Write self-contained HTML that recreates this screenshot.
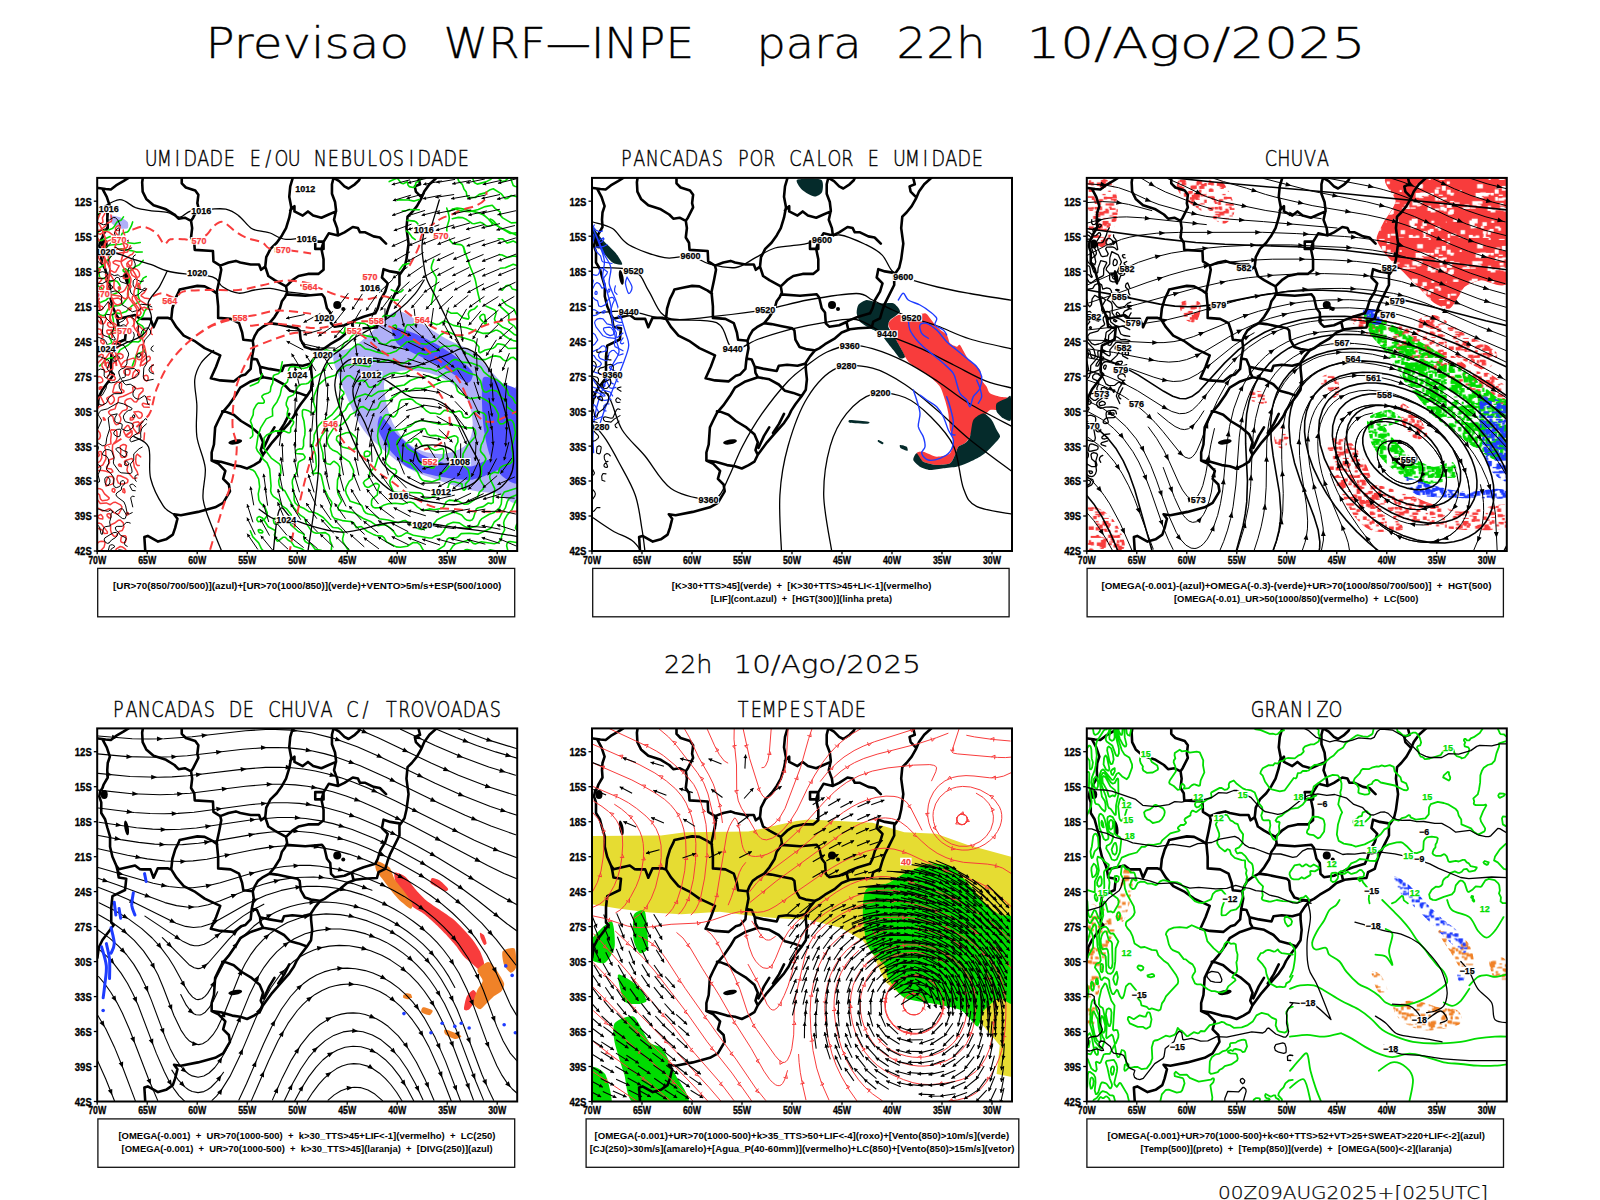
<!DOCTYPE html>
<html><head><meta charset="utf-8"><title>Previsao WRF-INPE</title>
<style>html,body{margin:0;padding:0;background:#fff;}svg{display:block;}svg text{white-space:pre;}</style>
</head><body>
<svg width="1600" height="1200" viewBox="0 0 1600 1200">
<defs><clipPath id="clip0"><rect x="97.2" y="177.9" width="420" height="373.1"/></clipPath><clipPath id="clip1"><rect x="592" y="177.9" width="420" height="373.1"/></clipPath><clipPath id="clip2"><rect x="1086.8" y="177.9" width="420" height="373.1"/></clipPath><clipPath id="clip3"><rect x="97.2" y="728.4" width="420" height="373.1"/></clipPath><clipPath id="clip4"><rect x="592" y="728.4" width="420" height="373.1"/></clipPath><clipPath id="clip5"><rect x="1086.8" y="728.4" width="420" height="373.1"/></clipPath><g id="basemap"><path d="M31.3,0.0 26.1,3.3 18.8,7.5 13.6,11.6 8.4,11.1 1.1,10.1 -2.0,10.0 M5.5,11.5 9.5,18.9 12.6,28.3 10.5,34.6 10.0,41.8 10.5,49.1 6.5,55.9 5.2,59.6 3.0,63.0 2.0,68.0 4.0,74.0 4.0,84.6 7.8,90.8 10.2,99.6 12.8,108.3 12.8,118.3 15.2,128.3 19.0,137.1 20.2,141.6 21.5,149.1 29.0,150.3 27.8,161.6 15.2,167.8 14.0,179.1 14.0,194.1 16.5,196.6 5.2,211.6 1.5,219.1 0.2,229.1 -2.0,233.0 M19.0,137.1 21.5,140.9 37.8,137.1 42.8,140.9 44.9,141.0 53.2,141.0 56.3,149.3 60.5,140.0 70.9,140.0 74.0,141.0 M74.0,141.0 75.1,130.6 78.0,121.0 81.0,115.0 82.4,111.6 91.8,109.6 100.1,108.0 107.4,108.5 115.7,112.7 119.9,115.8 M45.9,-2.0 44.9,4.3 45.4,13.7 49.0,21.0 56.3,27.3 62.6,29.4 68.8,31.4 77.2,36.6 81.3,40.8 87.6,39.8 93.8,42.9 94.9,50.2 93.8,59.6 97.0,64.8 97.5,72.0 115.7,73.1 116.2,83.5 123.0,87.7 124.0,91.9 122.0,102.3 119.5,114.0 119.9,118.1 120.9,128.5 120.9,140.0 133.4,141.0 141.8,145.2 144.9,154.6 146.1,161.8 155.5,162.9 M155.5,162.9 156.5,170.2 154.5,180.6 153.4,191.0 148.2,196.5 143.8,197.8 136.5,203.5 123.0,202.5 113.6,200.4 118.8,188.9 123.0,177.5 M74.0,141.0 79.2,149.3 86.5,157.7 97.0,162.9 107.4,170.2 123.0,177.5 M84.5,-2.0 84.5,5.4 88.6,9.6 98.0,12.7 101.1,16.9 100.1,25.2 101.1,29.4 95.9,39.8 93.8,42.9 M123.0,87.7 131.3,84.6 138.6,83.0 143.0,84.6 153.4,86.6 161.8,86.6 163.8,91.9 168.0,88.7 M196.1,-2.0 193.0,8.5 192.0,18.9 194.0,29.4 192.0,39.8 188.8,50.2 184.7,57.5 179.5,64.8 173.2,71.0 169.0,79.3 168.0,88.7 171.1,98.1 177.4,102.3 188.8,108.5 189.9,114.8 187.8,119.0 184.7,123.3 182.6,130.6 177.4,138.9 172.2,145.2 164.9,149.3 160.7,152.5 157.6,157.7 155.5,162.9 M188.8,108.5 195.1,102.3 201.3,98.1 210.7,96.0 221.1,96.0 226.3,91.9 226.3,81.4 224.2,71.0 226.3,64.0 231.5,55.4 240.9,57.5 M218.0,63.7 226.3,63.7 226.3,71.0 218.0,71.0 218.0,63.7 M193.0,32.5 197.2,28.3 197.2,33.5 205.5,37.7 210.7,33.5 215.9,37.7 224.2,39.8 231.5,36.6 238.8,33.5 M236.8,-2.0 234.7,6.4 234.7,15.8 237.8,24.1 238.8,32.5 236.8,41.9 239.9,50.2 240.9,57.5 M236.8,0.2 242.0,3.3 247.2,8.5 251.3,10.6 257.6,6.4 261.8,2.3 263.8,-2.0 M240.9,57.5 247.2,54.4 255.5,49.1 260.7,50.2 262.8,54.4 268.0,54.4 276.3,58.5 282.6,59.6 288.8,65.8 M302.0,95.0 293.0,93.5 286.3,91.3 284.7,99.6 290.5,105.4 288.0,113.8 283.0,122.1 280.5,130.4 278.0,135.4 266.3,138.8 257.0,142.5 254.5,144.1 M189.0,116.5 208.0,117.9 224.7,116.3 227.2,119.6 229.7,130.4 233.0,134.6 233.8,145.4 237.2,148.8 247.2,147.3 254.5,144.1 256.0,150.5 M172.2,145.2 179.5,146.2 189.9,148.3 200.3,150.4 202.4,152.5 203.4,161.8 207.6,169.1 213.8,171.2 222.2,172.3 M154.5,180.6 159.7,181.6 162.8,188.9 172.2,191.0 184.7,193.1 186.8,187.9 195.1,186.8 205.5,187.9 212.8,185.8 M120.9,243.1 125.1,234.8 131.3,227.5 138.6,217.1 143.0,209.8 153.4,203.5 165.9,199.3 177.4,201.4 186.8,206.6 193.0,212.9 201.3,215.0 209.7,218.1 M162.8,188.9 163.5,195.0 165.9,199.3 M120.9,243.1 117.9,249.5 116.7,266.6 114.4,274.6 114.4,282.6 123.6,283.8 135.0,287.2 143.0,288.3 149.8,290.6 156.7,287.2 162.4,283.8 165.8,276.9 175.0,264.4 183.0,255.2 192.1,244.9 196.7,238.1 199.2,232.7 203.4,226.4 209.7,218.1 213.8,211.8 214.9,201.4 213.8,191.0 213.8,184.8 218.0,178.5 223.2,172.3 227.2,170.5 233.0,166.3 243.0,160.4 249.7,154.6 258.0,151.3 266.3,150.4 279.7,149.6 281.3,143.8 288.0,140.4 290.5,132.1 293.0,125.4 298.0,115.4 302.2,107.1 302.2,97.1 307.2,89.8 309.2,81.4 311.3,65.8 309.2,50.2 310.3,38.7 314.5,34.6 319.7,28.3 323.8,21.0 327.0,13.7 332.2,6.4 341.5,-2.0 M114.4,282.6 121.3,286.0 128.1,292.9 125.9,300.9 131.6,306.6 132.7,313.4 125.9,324.9 117.9,329.4 100.7,334.0 83.6,337.4 76.8,336.3 80.2,340.8 77.9,350.0 75.6,356.8 68.8,361.4 60.8,363.7 50.5,358.0 47.1,359.1 48.2,376.0 M125.0,233.5 128.2,233.7 136.5,236.8 143.8,243.1 154.4,249.5 162.4,256.4 165.8,264.4 163.5,272.3 165.8,276.9 M177.2,249.5 172.0,258.0 166.5,270.0 M192.0,236.0 187.0,246.0 181.0,255.0 M320.7,-2.0 322.8,6.4 317.6,8.5 318.6,13.7 323.8,18.9" fill="none" stroke="#000" stroke-width="2.6" stroke-linejoin="round" stroke-linecap="round"/><ellipse cx="7.0" cy="66.0" rx="3.5" ry="4.5" transform="rotate(0 7.0 66.0)" fill="#000"/><ellipse cx="29.3" cy="99.5" rx="2.2" ry="7.5" transform="rotate(-10 29.3 99.5)" fill="#000"/><ellipse cx="240.0" cy="127.0" rx="4.0" ry="4.0" transform="rotate(0 240.0 127.0)" fill="#000"/><ellipse cx="246.0" cy="131.0" rx="2.0" ry="2.0" transform="rotate(0 246.0 131.0)" fill="#000"/><ellipse cx="138.0" cy="264.0" rx="7.0" ry="2.5" transform="rotate(-10 138.0 264.0)" fill="#000"/></g><pattern id="spkR" width="60" height="60" patternUnits="userSpaceOnUse"><path d="M30.7,57.0h2.6v3.8h-2.6zM18.7,25.4h5.3v2.2h-5.3zM33.0,1.7h5.0v2.6h-5.0zM19.8,47.3h3.2v2.4h-3.2zM8.0,24.2h2.8v1.8h-2.8zM45.0,16.8h3.9v3.9h-3.9zM57.7,43.5h4.2v1.8h-4.2zM9.6,58.2h4.1v1.3h-4.1zM37.4,46.6h4.5v3.8h-4.5zM2.4,31.7h3.8v1.2h-3.8zM38.5,51.2h4.4v1.8h-4.4zM50.4,30.6h4.0v3.3h-4.0zM8.9,49.2h4.7v3.4h-4.7zM11.5,48.1h2.8v1.2h-2.8zM51.3,51.7h5.5v2.4h-5.5zM16.4,0.4h4.6v3.2h-4.6zM50.1,16.9h2.9v2.9h-2.9zM48.3,57.8h2.6v2.4h-2.6zM53.7,25.4h4.4v1.1h-4.4zM40.4,55.1h5.3v3.7h-5.3zM39.6,14.7h5.1v1.6h-5.1zM49.9,3.8h5.3v1.5h-5.3zM22.5,19.0h4.8v1.5h-4.8zM23.8,0.3h3.0v2.3h-3.0zM6.4,38.0h3.5v3.2h-3.5zM39.2,25.9h5.5v2.9h-5.5zM48.6,20.5h4.2v1.6h-4.2zM59.8,14.6h3.0v1.2h-3.0zM15.5,45.8h4.8v1.4h-4.8zM22.6,25.3h4.7v2.4h-4.7zM35.2,50.4h4.9v2.1h-4.9zM26.9,22.1h2.4v1.6h-2.4zM17.0,18.8h3.3v2.7h-3.3zM58.3,46.5h5.2v3.3h-5.2zM35.8,55.1h4.8v2.5h-4.8zM4.6,29.3h2.9v1.4h-2.9zM30.4,47.1h3.2v3.3h-3.2zM31.5,8.9h5.9v2.2h-5.9zM17.7,50.8h2.5v3.2h-2.5zM11.3,23.5h2.9v3.5h-2.9zM23.4,58.5h4.5v3.1h-4.5zM31.3,18.5h3.6v3.8h-3.6zM12.1,59.3h5.0v2.1h-5.0zM38.5,22.9h3.5v2.5h-3.5zM1.0,29.6h5.9v1.9h-5.9zM44.9,26.6h2.8v3.7h-2.8zM1.0,18.2h6.0v1.8h-6.0zM50.9,36.3h5.2v2.9h-5.2zM21.8,45.6h2.1v2.3h-2.1zM22.3,28.6h2.5v1.7h-2.5zM33.7,23.3h5.2v2.8h-5.2zM51.7,43.9h4.4v1.9h-4.4zM47.0,15.1h2.3v3.9h-2.3zM32.4,46.4h4.1v2.8h-4.1zM2.0,11.2h4.7v2.7h-4.7zM9.5,57.1h2.6v2.5h-2.6zM8.6,43.0h3.1v1.4h-3.1zM2.8,10.5h2.8v2.6h-2.8zM27.1,57.4h5.8v3.4h-5.8zM40.3,50.7h5.8v1.1h-5.8zM7.1,21.6h2.4v2.8h-2.4zM15.6,15.9h3.2v1.3h-3.2zM44.5,39.0h4.4v1.1h-4.4zM25.8,41.1h2.6v2.2h-2.6zM1.2,4.9h2.9v2.2h-2.9zM27.8,53.1h3.3v1.1h-3.3zM49.6,3.7h2.4v3.9h-2.4zM45.2,20.3h2.5v2.2h-2.5zM20.4,52.5h3.7v1.2h-3.7zM55.6,37.3h2.5v1.3h-2.5zM28.0,5.5h4.5v2.8h-4.5zM1.9,48.4h5.1v3.7h-5.1zM40.2,41.6h2.7v1.1h-2.7zM3.9,57.9h4.6v3.8h-4.6zM21.0,45.3h2.3v1.5h-2.3zM16.6,33.0h4.2v2.5h-4.2zM25.5,34.5h5.9v2.4h-5.9zM50.2,3.4h3.5v2.7h-3.5zM37.2,15.0h3.6v3.8h-3.6zM38.9,35.1h2.3v1.2h-2.3zM12.7,8.3h5.9v1.0h-5.9zM22.0,3.5h4.6v1.1h-4.6zM4.1,4.8h3.1v2.7h-3.1zM48.3,16.0h3.1v3.5h-3.1zM44.8,7.6h5.2v3.5h-5.2zM10.7,37.6h2.8v1.7h-2.8zM29.6,31.3h3.9v2.6h-3.9zM12.8,46.7h3.1v3.7h-3.1zM30.9,18.2h2.7v2.5h-2.7zM22.6,37.4h4.0v1.1h-4.0zM50.0,3.1h5.3v3.4h-5.3zM55.4,39.9h2.6v2.3h-2.6zM26.4,37.9h3.5v3.0h-3.5zM12.2,21.2h4.2v2.3h-4.2zM7.4,57.9h4.8v3.5h-4.8zM21.4,56.7h5.2v3.9h-5.2zM11.8,28.6h3.5v2.8h-3.5zM15.0,6.0h3.9v2.9h-3.9zM23.0,59.2h3.6v1.9h-3.6zM48.8,28.0h3.1v1.9h-3.1zM56.8,57.7h4.6v1.8h-4.6zM42.7,13.0h3.3v2.6h-3.3zM24.1,21.1h5.9v1.5h-5.9zM36.8,2.3h2.4v1.6h-2.4zM59.5,43.6h5.5v1.1h-5.5zM40.9,26.4h3.7v3.1h-3.7zM18.5,30.8h3.0v2.2h-3.0zM32.0,9.5h3.1v2.3h-3.1zM28.4,48.0h4.6v2.7h-4.6zM52.2,11.8h2.4v2.2h-2.4zM8.2,33.4h4.3v1.4h-4.3zM43.0,33.4h3.7v3.8h-3.7zM51.4,13.3h2.7v3.7h-2.7zM9.4,45.4h3.3v2.1h-3.3zM33.2,55.6h2.0v1.5h-2.0zM43.2,23.7h3.2v3.9h-3.2zM15.8,42.9h5.9v3.3h-5.9zM42.6,43.4h5.2v1.8h-5.2zM37.6,48.2h5.6v3.7h-5.6zM54.2,5.9h3.5v2.4h-3.5zM53.5,25.2h3.1v1.1h-3.1zM17.3,46.8h2.1v1.5h-2.1zM18.7,31.9h3.5v3.6h-3.5zM12.4,33.7h5.1v3.8h-5.1zM52.4,8.1h5.2v3.0h-5.2zM25.3,1.5h2.7v3.2h-2.7zM5.0,18.8h3.0v3.2h-3.0zM21.5,5.2h3.5v2.0h-3.5zM43.0,19.2h4.8v2.6h-4.8zM53.3,44.0h3.6v2.5h-3.6zM28.3,52.3h2.6v2.3h-2.6zM32.1,26.2h4.4v2.5h-4.4zM24.8,41.2h3.3v2.8h-3.3zM43.7,7.8h3.3v3.8h-3.3zM58.0,59.5h2.2v3.5h-2.2zM56.1,54.1h4.9v3.0h-4.9zM43.2,34.5h5.2v2.5h-5.2zM13.6,5.7h5.6v3.3h-5.6zM10.6,49.3h3.2v2.9h-3.2zM21.4,12.8h2.7v1.2h-2.7zM4.5,4.1h2.4v3.5h-2.4zM31.1,7.7h4.1v2.6h-4.1zM29.8,12.4h3.7v3.6h-3.7zM23.0,30.2h5.7v1.7h-5.7zM43.5,29.0h5.1v2.1h-5.1zM32.5,22.1h5.5v3.7h-5.5zM37.9,58.9h4.9v3.5h-4.9zM53.7,16.3h5.9v2.2h-5.9zM29.8,10.8h5.3v2.0h-5.3zM41.4,13.1h3.4v2.2h-3.4zM14.2,2.1h5.1v3.9h-5.1zM13.6,9.8h3.4v1.2h-3.4zM39.0,22.1h4.2v3.7h-4.2zM51.7,55.3h5.7v2.8h-5.7zM30.1,2.3h2.4v2.6h-2.4zM51.4,26.0h2.0v1.6h-2.0zM45.6,9.5h2.8v1.9h-2.8zM36.6,50.2h2.9v2.8h-2.9zM31.8,26.7h4.3v3.4h-4.3zM13.0,29.8h2.4v2.5h-2.4zM47.5,59.9h3.9v1.9h-3.9zM34.8,22.3h2.5v2.6h-2.5zM47.9,53.5h5.9v2.1h-5.9zM15.1,6.6h3.7v3.4h-3.7zM14.1,51.0h4.8v1.6h-4.8zM37.9,49.2h5.7v1.5h-5.7zM49.3,46.6h3.0v1.9h-3.0zM57.4,21.7h3.2v3.2h-3.2zM8.0,29.0h3.4v2.6h-3.4zM36.2,38.4h3.7v3.7h-3.7zM50.1,56.0h3.8v3.2h-3.8zM25.8,16.7h4.6v3.8h-4.6zM48.3,17.1h2.9v3.3h-2.9zM42.3,51.8h2.6v3.6h-2.6zM26.0,16.4h3.4v4.0h-3.4zM57.4,5.0h3.3v3.2h-3.3zM2.1,2.2h2.2v3.6h-2.2zM20.0,19.1h5.2v2.0h-5.2zM44.3,22.2h3.2v2.2h-3.2zM10.1,4.5h5.5v3.6h-5.5zM27.6,41.3h5.5v2.2h-5.5zM42.7,45.3h2.3v1.4h-2.3zM45.0,42.3h2.7v3.5h-2.7zM48.1,20.0h3.4v1.3h-3.4zM26.7,6.6h4.2v2.9h-4.2zM34.9,4.3h4.5v3.3h-4.5zM8.5,35.7h5.3v1.6h-5.3zM54.8,58.3h4.8v3.6h-4.8zM16.3,39.9h5.7v1.1h-5.7zM49.2,14.2h5.2v2.9h-5.2z" fill="#F83C3C"/></pattern><pattern id="spkG" width="60" height="60" patternUnits="userSpaceOnUse"><path d="M15.7,17.9h5.3v1.3h-5.3zM36.0,43.7h2.8v1.2h-2.8zM16.5,39.4h4.2v1.5h-4.2zM26.0,40.2h3.7v2.9h-3.7zM58.0,41.0h3.6v1.6h-3.6zM20.8,30.7h5.6v3.3h-5.6zM19.1,55.5h3.9v3.1h-3.9zM6.4,6.3h2.8v3.7h-2.8zM40.8,51.0h4.6v2.2h-4.6zM31.0,35.6h5.4v2.3h-5.4zM53.5,36.8h5.3v2.5h-5.3zM41.6,20.3h4.1v1.6h-4.1zM6.0,2.3h4.8v2.4h-4.8zM53.9,50.1h3.5v3.9h-3.5zM35.5,46.0h3.6v1.6h-3.6zM10.3,10.9h4.4v1.3h-4.4zM1.2,50.0h2.4v2.4h-2.4zM29.3,37.2h4.0v3.8h-4.0zM45.0,34.5h4.5v2.5h-4.5zM57.9,13.6h4.8v2.7h-4.8zM2.5,17.8h5.7v3.4h-5.7zM0.8,17.8h2.0v3.5h-2.0zM6.6,3.4h5.9v2.3h-5.9zM19.1,2.9h3.6v2.1h-3.6zM31.4,0.4h2.6v1.6h-2.6zM26.4,18.1h4.5v1.9h-4.5zM54.6,57.7h2.2v1.6h-2.2zM33.8,46.2h2.3v1.6h-2.3zM27.4,40.1h5.6v3.6h-5.6zM47.6,3.2h5.9v2.8h-5.9zM5.2,15.3h4.5v2.2h-4.5zM26.8,48.3h5.3v2.6h-5.3zM47.5,24.4h5.9v2.8h-5.9zM58.1,2.6h5.5v2.7h-5.5zM42.8,11.6h4.2v1.9h-4.2zM6.3,0.2h5.6v3.0h-5.6zM12.3,15.5h3.9v3.5h-3.9zM7.1,58.1h5.8v1.7h-5.8zM38.4,21.6h4.8v1.3h-4.8zM28.2,35.3h4.5v3.1h-4.5zM53.5,14.5h2.6v2.2h-2.6zM34.1,57.6h4.8v3.2h-4.8zM58.4,16.1h3.0v2.3h-3.0zM17.7,39.1h5.8v1.5h-5.8zM31.1,40.7h4.0v3.7h-4.0zM44.2,52.9h2.4v1.6h-2.4zM3.9,49.8h5.9v1.0h-5.9zM47.4,43.7h5.6v1.8h-5.6zM42.9,14.2h2.3v3.2h-2.3zM2.5,42.0h3.1v2.5h-3.1zM53.5,14.6h3.9v2.1h-3.9zM11.4,28.4h2.7v3.4h-2.7zM36.9,17.0h5.9v2.0h-5.9zM40.3,44.0h3.1v1.0h-3.1zM53.6,57.4h2.7v1.5h-2.7zM26.0,35.9h6.0v3.9h-6.0zM59.3,14.7h4.4v2.3h-4.4zM13.9,3.9h2.7v2.1h-2.7zM5.3,9.0h2.2v2.9h-2.2zM29.6,14.6h4.1v2.3h-4.1zM39.5,56.0h3.4v2.9h-3.4zM13.1,56.4h4.5v1.5h-4.5zM15.4,9.5h2.7v1.9h-2.7zM49.4,27.4h3.1v2.3h-3.1zM16.0,44.0h2.2v1.9h-2.2zM19.4,10.9h5.0v1.5h-5.0zM18.0,3.4h5.0v2.1h-5.0zM39.4,13.0h2.1v2.0h-2.1zM46.7,50.2h3.4v3.5h-3.4zM3.0,31.3h3.0v2.3h-3.0zM13.3,53.6h3.2v3.8h-3.2zM6.5,25.8h3.8v3.1h-3.8zM20.7,29.5h2.3v1.9h-2.3zM43.5,6.4h3.9v1.7h-3.9zM9.9,7.3h5.3v3.1h-5.3zM22.8,23.5h4.9v2.8h-4.9zM55.0,55.2h3.9v3.0h-3.9zM32.7,18.6h3.8v3.2h-3.8zM33.2,37.9h3.9v3.9h-3.9zM46.6,7.8h5.3v3.8h-5.3zM49.0,20.6h3.5v1.7h-3.5zM3.3,28.3h5.4v3.3h-5.4zM39.7,50.8h4.6v1.7h-4.6zM48.2,22.1h5.6v2.0h-5.6zM5.5,43.8h2.4v3.6h-2.4zM24.7,46.8h2.2v2.6h-2.2zM40.6,7.8h4.4v1.4h-4.4zM18.2,21.9h4.5v1.4h-4.5zM11.1,46.9h4.9v2.4h-4.9zM16.9,41.5h3.9v1.9h-3.9zM52.5,12.1h5.2v2.9h-5.2zM38.8,40.9h5.0v3.6h-5.0zM55.2,15.3h2.7v3.7h-2.7zM12.2,13.3h5.2v3.9h-5.2zM50.7,31.0h3.5v4.0h-3.5zM44.2,37.7h2.0v1.6h-2.0zM0.8,54.4h2.9v1.5h-2.9zM35.0,12.2h4.2v3.8h-4.2zM51.8,14.7h5.7v2.2h-5.7zM31.4,19.5h6.0v1.9h-6.0zM44.2,37.2h4.8v1.3h-4.8zM32.2,59.8h4.3v1.6h-4.3zM3.2,19.8h5.0v1.1h-5.0zM2.9,39.4h5.5v2.3h-5.5zM37.5,15.4h3.1v2.4h-3.1zM13.1,27.2h2.6v3.8h-2.6zM38.9,5.7h2.8v3.5h-2.8zM22.3,15.6h2.1v3.0h-2.1zM34.2,50.4h2.7v3.3h-2.7zM49.6,49.4h5.0v2.3h-5.0zM2.8,38.7h2.1v1.3h-2.1zM24.5,7.2h3.8v3.6h-3.8zM10.4,47.9h6.0v1.1h-6.0zM25.4,42.5h4.9v1.8h-4.9zM48.5,22.3h2.8v2.6h-2.8zM36.7,50.3h4.7v1.2h-4.7zM34.5,20.6h4.8v1.1h-4.8zM39.4,47.5h2.2v1.0h-2.2zM53.5,53.7h2.7v3.8h-2.7zM24.4,31.1h3.9v2.0h-3.9zM53.1,36.6h5.7v2.9h-5.7zM55.5,30.9h3.9v2.7h-3.9zM0.4,46.1h2.6v3.8h-2.6zM2.7,42.5h5.1v2.6h-5.1zM5.7,48.7h3.3v1.9h-3.3zM41.5,58.3h2.4v2.3h-2.4zM40.4,16.6h5.7v2.8h-5.7zM4.5,9.3h2.6v2.4h-2.6zM54.6,6.7h2.6v1.6h-2.6zM34.4,25.8h3.7v1.4h-3.7zM49.5,28.8h5.5v1.1h-5.5zM27.5,22.1h5.4v3.1h-5.4zM31.3,9.7h4.7v3.7h-4.7zM46.6,58.0h4.4v1.9h-4.4zM13.3,48.0h5.2v2.9h-5.2zM46.9,29.2h5.4v3.1h-5.4zM14.5,35.3h4.6v1.6h-4.6zM56.1,48.3h2.6v1.7h-2.6zM0.1,56.4h2.7v3.5h-2.7zM30.7,3.4h2.8v1.8h-2.8zM45.9,22.1h2.6v3.8h-2.6zM30.9,4.0h5.9v3.0h-5.9zM26.5,8.7h4.8v1.3h-4.8zM56.4,45.1h4.9v3.3h-4.9zM51.8,28.1h5.2v1.3h-5.2zM42.0,45.1h2.8v1.3h-2.8zM55.0,53.5h2.4v2.8h-2.4zM10.8,12.3h5.7v3.0h-5.7zM45.5,16.9h5.1v3.0h-5.1zM20.8,29.8h3.0v2.8h-3.0zM11.2,26.9h5.4v3.0h-5.4zM36.1,6.7h5.3v2.9h-5.3zM56.9,56.0h5.7v2.6h-5.7zM46.2,6.1h2.2v3.4h-2.2zM40.4,56.8h3.2v2.5h-3.2zM47.2,36.5h5.4v2.2h-5.4zM50.7,51.7h5.6v2.2h-5.6zM54.5,18.5h4.4v3.9h-4.4zM38.7,35.5h3.4v2.5h-3.4zM29.4,40.7h4.2v2.0h-4.2zM11.4,59.2h4.5v1.5h-4.5zM20.3,39.0h3.0v3.7h-3.0zM32.4,40.9h4.7v1.5h-4.7zM55.9,50.7h2.6v2.7h-2.6zM31.7,18.6h3.5v1.8h-3.5zM37.9,25.7h2.4v1.7h-2.4zM9.1,37.8h4.2v2.2h-4.2zM32.8,37.7h2.9v1.2h-2.9zM57.7,11.1h3.0v3.1h-3.0zM59.1,7.4h3.6v3.6h-3.6zM5.1,15.0h4.5v3.5h-4.5zM6.2,25.0h4.4v2.6h-4.4zM32.1,59.6h5.9v1.6h-5.9zM15.3,24.0h2.4v1.4h-2.4zM33.9,59.2h3.2v1.6h-3.2zM37.0,17.9h2.1v1.3h-2.1zM52.7,6.5h4.6v2.3h-4.6zM46.2,30.5h2.9v1.6h-2.9zM14.1,14.0h3.0v1.9h-3.0zM35.9,31.7h2.3v2.3h-2.3zM55.8,56.4h3.3v1.5h-3.3zM17.6,8.0h3.0v3.8h-3.0zM52.6,27.1h4.2v3.1h-4.2zM42.1,41.6h4.9v2.8h-4.9zM8.0,41.2h4.7v1.5h-4.7zM11.7,38.2h3.5v3.4h-3.5zM16.6,40.0h4.5v1.3h-4.5zM16.7,21.2h3.2v1.3h-3.2zM14.1,32.2h2.9v2.9h-2.9zM24.9,27.4h2.8v3.4h-2.8zM4.6,56.7h4.4v3.8h-4.4zM33.0,21.1h3.5v3.8h-3.5zM31.3,23.7h2.6v1.5h-2.6zM25.0,27.1h5.2v1.4h-5.2zM27.2,8.0h3.0v2.5h-3.0zM52.6,7.9h2.7v3.1h-2.7zM31.6,5.3h4.7v3.9h-4.7zM44.3,59.8h5.0v2.0h-5.0zM48.0,34.1h2.4v2.1h-2.4zM56.8,39.3h3.5v3.1h-3.5zM41.0,9.5h3.8v3.4h-3.8zM7.0,32.9h2.5v1.8h-2.5zM46.0,21.5h5.3v3.2h-5.3zM38.1,9.0h3.8v3.6h-3.8zM38.0,4.1h4.0v2.4h-4.0zM29.2,24.9h5.3v2.6h-5.3zM51.5,57.2h5.6v3.3h-5.6zM1.3,0.1h2.7v2.6h-2.7zM18.0,7.9h5.7v2.3h-5.7zM11.9,30.7h5.9v3.2h-5.9z" fill="#00DC00"/></pattern><pattern id="spkB" width="60" height="60" patternUnits="userSpaceOnUse"><path d="M5.1,14.2h4.4v2.7h-4.4zM5.6,26.0h3.4v1.5h-3.4zM44.1,6.8h3.2v2.6h-3.2zM25.8,35.2h4.2v3.9h-4.2zM17.1,38.9h4.1v1.9h-4.1zM0.1,58.4h2.9v1.9h-2.9zM53.5,35.1h3.4v3.3h-3.4zM1.8,42.4h3.1v1.3h-3.1zM39.6,55.9h2.6v2.9h-2.6zM17.9,44.5h4.2v1.7h-4.2zM49.8,39.5h4.0v3.5h-4.0zM25.7,45.5h4.6v1.3h-4.6zM51.0,23.6h3.4v1.4h-3.4zM41.9,17.5h4.6v1.8h-4.6zM33.7,24.0h3.8v1.6h-3.8zM10.8,44.8h4.3v2.7h-4.3zM55.3,12.3h4.6v1.5h-4.6zM57.9,37.4h3.8v3.9h-3.8zM47.2,47.4h2.2v2.1h-2.2zM5.1,11.6h2.6v3.6h-2.6zM7.6,17.8h3.5v3.5h-3.5zM57.9,42.5h2.6v2.6h-2.6zM42.4,3.1h4.0v2.1h-4.0zM35.4,40.2h4.0v2.6h-4.0zM33.3,11.9h3.5v1.4h-3.5zM28.8,32.2h4.3v2.2h-4.3zM1.2,31.7h2.6v3.2h-2.6zM23.3,22.8h4.7v2.2h-4.7zM20.9,20.9h3.4v1.3h-3.4zM32.8,55.3h3.7v3.2h-3.7zM56.8,50.5h4.2v3.4h-4.2zM49.2,15.2h3.4v2.0h-3.4zM15.7,34.3h3.0v2.9h-3.0zM34.9,6.3h3.3v2.2h-3.3zM42.4,5.3h2.5v2.5h-2.5zM24.3,39.9h3.0v1.6h-3.0zM55.9,14.6h2.4v1.8h-2.4zM20.4,13.5h3.6v3.8h-3.6zM7.6,24.9h4.0v3.7h-4.0zM60.0,8.6h3.6v3.6h-3.6zM3.2,35.3h2.5v3.3h-2.5zM56.3,32.3h2.0v1.2h-2.0zM24.9,50.8h2.7v3.0h-2.7zM24.3,15.9h4.1v1.9h-4.1zM22.3,45.9h3.5v3.4h-3.5zM31.0,9.6h3.3v3.6h-3.3zM33.9,57.9h2.0v2.0h-2.0zM46.1,41.2h3.7v3.0h-3.7zM52.6,41.0h3.6v2.7h-3.6zM40.0,19.4h4.0v2.8h-4.0zM47.2,28.8h2.1v2.6h-2.1zM51.5,38.4h3.9v2.2h-3.9zM21.4,43.1h2.2v3.6h-2.2zM52.6,57.7h2.4v1.3h-2.4zM53.6,24.1h2.8v2.1h-2.8zM39.6,9.7h3.5v3.0h-3.5zM43.2,0.7h4.4v2.3h-4.4zM26.1,33.7h2.8v3.7h-2.8zM12.7,32.6h2.5v2.8h-2.5zM54.1,53.0h2.4v2.9h-2.4zM53.6,12.0h3.2v3.1h-3.2zM44.3,27.1h3.9v3.0h-3.9zM21.2,39.1h3.7v3.1h-3.7zM30.7,20.2h3.3v3.8h-3.3zM11.3,8.9h2.0v3.6h-2.0zM59.3,14.2h2.8v1.6h-2.8zM36.0,29.1h4.5v1.6h-4.5zM52.7,27.8h4.4v3.4h-4.4zM54.6,29.9h3.8v2.7h-3.8zM11.4,30.1h4.8v3.7h-4.8zM1.3,39.8h3.0v1.4h-3.0zM8.4,47.7h4.9v2.6h-4.9zM23.0,30.6h4.5v3.2h-4.5zM3.8,12.8h4.6v2.5h-4.6zM39.5,46.7h3.9v3.2h-3.9zM32.7,13.8h2.6v4.0h-2.6zM0.6,41.5h4.6v1.7h-4.6zM2.9,24.0h3.0v2.4h-3.0zM25.6,56.5h2.4v3.8h-2.4zM2.7,56.3h3.0v3.2h-3.0zM0.2,26.8h4.0v2.9h-4.0zM48.4,9.2h3.2v2.8h-3.2zM1.7,50.1h3.2v1.7h-3.2zM13.3,39.1h2.1v1.7h-2.1zM18.2,15.5h4.2v2.8h-4.2zM54.2,42.1h2.9v2.0h-2.9zM7.4,14.6h3.8v3.2h-3.8zM17.8,20.7h4.4v3.9h-4.4zM5.1,4.3h4.3v2.5h-4.3zM25.5,38.0h4.3v1.2h-4.3zM57.7,57.5h3.2v2.4h-3.2zM16.3,35.2h2.6v2.6h-2.6zM54.3,30.4h4.5v1.5h-4.5zM53.0,7.4h2.6v3.2h-2.6zM18.1,7.1h2.3v3.4h-2.3zM1.2,3.4h4.8v3.3h-4.8zM22.2,11.5h4.6v3.4h-4.6zM40.1,31.8h3.6v3.9h-3.6zM31.3,5.0h2.2v2.8h-2.2zM44.0,37.7h4.2v1.9h-4.2zM22.3,15.9h3.1v1.8h-3.1zM50.0,8.9h2.6v3.1h-2.6zM23.9,20.5h4.9v3.7h-4.9zM13.1,9.3h3.5v2.7h-3.5zM20.8,35.5h4.0v3.4h-4.0zM14.5,38.7h2.2v1.2h-2.2zM3.3,7.0h4.3v2.1h-4.3zM29.6,27.1h2.6v1.1h-2.6zM10.9,51.5h3.0v2.3h-3.0zM15.9,44.5h4.1v2.2h-4.1zM30.4,23.7h3.7v2.8h-3.7zM34.6,54.1h4.9v1.2h-4.9zM22.8,2.4h3.1v3.4h-3.1zM40.8,34.0h2.3v3.4h-2.3zM36.7,18.2h4.4v1.1h-4.4zM11.3,47.3h2.1v1.4h-2.1zM30.1,42.6h3.8v1.1h-3.8zM16.5,42.4h3.0v1.6h-3.0zM0.1,15.8h4.8v1.1h-4.8zM33.2,54.6h4.1v1.8h-4.1zM38.9,7.2h3.5v1.8h-3.5zM52.5,52.0h4.3v2.1h-4.3zM47.8,58.8h3.1v2.6h-3.1zM9.7,6.5h4.2v1.2h-4.2zM36.1,6.8h4.0v3.3h-4.0zM56.5,23.4h3.2v2.2h-3.2zM42.3,47.3h2.3v2.0h-2.3zM3.3,14.1h4.2v3.8h-4.2zM58.8,4.1h3.2v3.6h-3.2zM30.3,21.0h4.3v3.6h-4.3zM8.8,31.0h2.4v1.5h-2.4zM31.8,15.2h4.4v2.1h-4.4zM10.9,37.8h2.8v1.2h-2.8zM59.9,11.1h2.4v2.4h-2.4zM0.2,47.4h2.2v1.1h-2.2zM58.0,31.0h4.8v3.7h-4.8zM44.0,1.8h3.9v1.2h-3.9zM0.6,50.7h2.9v3.2h-2.9zM31.8,47.0h3.9v3.9h-3.9zM28.5,51.2h4.5v2.8h-4.5zM30.4,25.8h3.9v1.6h-3.9zM26.4,38.8h2.9v1.7h-2.9zM6.4,48.3h4.6v3.5h-4.6zM42.4,36.3h2.2v3.6h-2.2zM28.4,41.2h2.4v3.2h-2.4zM8.8,57.5h4.1v2.6h-4.1zM39.2,13.8h3.5v1.3h-3.5zM16.8,17.1h2.5v2.2h-2.5zM3.8,1.5h3.0v4.0h-3.0zM43.6,25.7h2.6v1.4h-2.6zM25.0,39.2h4.5v2.4h-4.5zM51.1,48.7h4.5v2.0h-4.5zM28.0,9.6h3.8v1.1h-3.8zM28.2,9.8h3.4v1.5h-3.4zM0.1,25.3h3.3v2.6h-3.3zM7.5,29.9h2.9v1.2h-2.9zM24.6,40.0h2.9v3.1h-2.9zM47.3,0.8h2.6v1.9h-2.6zM35.5,29.2h3.7v1.2h-3.7zM17.2,9.6h4.2v3.1h-4.2z" fill="#1E3CFF"/></pattern><pattern id="spkO" width="60" height="60" patternUnits="userSpaceOnUse"><path d="M56.6,30.7h4.9v1.2h-4.9zM36.4,22.6h4.4v1.5h-4.4zM52.3,32.6h4.7v2.4h-4.7zM25.8,47.3h5.0v2.1h-5.0zM58.1,55.7h2.5v2.8h-2.5zM42.3,56.6h4.0v1.4h-4.0zM29.9,29.6h3.5v3.9h-3.5zM21.0,13.4h3.6v2.9h-3.6zM56.3,34.9h2.8v3.8h-2.8zM29.5,40.5h3.4v1.7h-3.4zM41.6,46.2h2.6v2.4h-2.6zM21.7,10.2h2.7v3.9h-2.7zM53.1,22.9h4.2v1.1h-4.2zM54.9,32.2h4.5v1.8h-4.5zM22.6,20.9h4.9v2.3h-4.9zM30.0,57.4h4.7v2.2h-4.7zM18.4,48.4h2.3v2.2h-2.3zM52.6,55.1h2.7v1.2h-2.7zM47.3,37.3h2.7v2.5h-2.7zM4.3,42.0h3.6v3.1h-3.6zM5.3,38.7h3.1v2.5h-3.1zM20.1,38.0h3.7v2.9h-3.7zM3.8,13.5h2.2v2.1h-2.2zM28.9,6.7h4.0v2.5h-4.0zM30.0,35.8h4.8v2.8h-4.8zM5.6,8.8h4.1v2.0h-4.1zM45.3,30.6h3.1v3.2h-3.1zM11.0,17.1h2.9v2.2h-2.9zM54.4,48.8h4.5v2.9h-4.5zM0.5,17.2h3.5v3.7h-3.5zM21.8,33.0h4.5v2.0h-4.5zM44.9,35.7h3.6v2.9h-3.6zM29.1,6.8h4.7v3.9h-4.7zM50.0,21.2h3.9v3.3h-3.9zM3.7,47.4h2.3v3.8h-2.3zM14.5,57.8h2.7v2.6h-2.7zM49.9,59.3h4.1v3.5h-4.1zM23.5,45.0h3.2v3.8h-3.2zM46.4,22.8h4.4v1.2h-4.4zM55.5,41.6h3.0v2.9h-3.0zM47.1,37.7h4.7v2.2h-4.7zM19.2,22.3h2.8v2.4h-2.8zM45.4,52.5h3.9v3.4h-3.9zM58.2,39.6h2.3v2.9h-2.3zM1.2,40.7h5.0v2.5h-5.0zM56.0,1.2h4.9v1.5h-4.9zM50.4,17.9h3.2v1.4h-3.2zM2.2,45.1h4.2v1.4h-4.2zM37.4,15.5h4.7v1.4h-4.7zM35.3,53.4h3.6v3.0h-3.6zM48.6,42.4h4.5v1.7h-4.5zM54.6,30.2h4.7v3.1h-4.7zM44.0,57.1h2.3v3.6h-2.3zM17.5,49.3h2.7v2.4h-2.7zM8.4,48.3h2.9v2.4h-2.9zM47.7,22.3h4.7v2.5h-4.7zM56.6,46.3h5.0v3.1h-5.0zM18.8,31.8h4.8v3.8h-4.8zM15.0,15.4h2.8v2.9h-2.8zM11.7,42.3h3.0v3.5h-3.0zM14.8,55.6h3.0v1.1h-3.0zM9.7,49.0h2.5v1.8h-2.5zM59.7,25.0h3.9v2.6h-3.9zM28.1,53.8h2.1v2.1h-2.1zM27.1,41.1h4.2v1.0h-4.2zM5.9,14.3h3.0v3.3h-3.0zM44.5,55.6h3.2v2.3h-3.2zM8.5,53.7h4.7v3.9h-4.7zM44.0,52.9h3.7v3.5h-3.7zM19.6,45.4h4.3v2.9h-4.3zM50.4,40.6h2.7v1.2h-2.7zM19.6,11.7h4.7v2.6h-4.7zM43.8,55.5h4.4v3.6h-4.4zM33.6,45.5h4.9v2.3h-4.9zM42.1,57.2h2.7v1.2h-2.7zM28.8,53.4h3.6v1.6h-3.6zM59.1,28.3h3.3v1.2h-3.3zM25.8,58.7h3.3v3.3h-3.3zM55.7,0.1h4.1v1.4h-4.1zM30.5,51.2h3.1v3.2h-3.1zM17.2,35.8h4.2v2.6h-4.2zM19.5,44.4h2.4v2.0h-2.4zM47.2,30.1h2.3v3.0h-2.3zM54.9,10.3h4.8v1.0h-4.8zM57.3,36.6h2.8v1.5h-2.8zM26.2,25.9h3.5v2.6h-3.5zM5.2,14.9h2.4v3.5h-2.4zM9.1,40.0h2.3v3.0h-2.3zM26.1,30.2h4.2v1.9h-4.2zM41.7,54.8h4.2v2.8h-4.2zM41.4,53.5h2.1v4.0h-2.1zM28.0,53.6h2.2v1.9h-2.2zM33.5,34.1h4.8v1.9h-4.8zM14.3,38.1h2.5v3.7h-2.5zM14.0,0.2h3.9v1.7h-3.9zM54.9,6.3h3.5v2.8h-3.5zM29.8,3.6h3.6v1.4h-3.6zM2.6,54.4h2.8v1.2h-2.8zM0.7,51.9h4.6v3.2h-4.6zM47.5,16.7h3.7v3.2h-3.7zM15.0,43.9h4.4v2.6h-4.4zM38.6,1.5h3.1v2.0h-3.1zM21.6,55.5h4.8v1.2h-4.8zM35.1,11.9h4.0v3.9h-4.0zM8.6,23.2h3.0v3.1h-3.0zM48.8,2.7h2.6v2.1h-2.6zM57.6,45.7h3.9v3.9h-3.9zM23.7,48.1h2.7v1.8h-2.7zM55.0,49.1h3.9v1.5h-3.9zM18.9,55.5h3.4v1.1h-3.4zM14.0,35.4h4.6v2.4h-4.6zM14.9,47.7h2.9v1.8h-2.9zM34.7,31.0h4.6v2.4h-4.6zM38.7,27.5h4.0v3.7h-4.0zM5.8,53.6h4.7v2.1h-4.7zM0.2,27.5h4.0v1.6h-4.0zM11.0,21.8h4.7v2.8h-4.7zM41.9,35.3h4.0v2.3h-4.0zM29.9,6.4h5.0v1.5h-5.0zM49.0,38.1h4.3v2.6h-4.3zM33.1,20.6h2.2v2.9h-2.2zM36.9,19.8h4.8v3.8h-4.8zM22.0,27.7h2.6v3.2h-2.6zM11.6,19.0h4.9v1.5h-4.9zM53.7,33.6h2.6v3.4h-2.6zM35.0,46.7h3.1v1.9h-3.1zM6.6,7.7h3.6v2.2h-3.6zM3.5,11.3h3.5v1.1h-3.5zM0.6,39.9h2.3v2.2h-2.3zM56.1,5.4h3.2v1.6h-3.2zM47.5,31.0h2.3v3.3h-2.3zM55.3,47.3h2.7v4.0h-2.7zM40.6,22.7h2.3v2.6h-2.3zM4.8,7.8h4.0v3.2h-4.0zM37.0,27.0h4.5v3.6h-4.5zM2.2,44.2h4.4v2.8h-4.4zM25.7,46.5h2.1v3.7h-2.1zM32.2,35.1h4.0v2.4h-4.0zM17.8,14.9h2.5v1.0h-2.5zM51.3,58.4h4.1v1.9h-4.1zM24.1,48.7h3.4v2.2h-3.4zM46.8,16.4h2.3v2.2h-2.3zM53.0,59.7h2.7v3.3h-2.7zM6.3,39.6h2.4v1.7h-2.4zM46.9,6.7h3.5v2.0h-3.5zM59.4,45.9h2.9v3.9h-2.9zM38.1,9.4h2.9v3.4h-2.9zM57.5,2.2h3.7v1.6h-3.7zM42.4,0.3h4.2v2.6h-4.2zM38.2,28.9h4.0v3.5h-4.0zM4.4,20.4h2.6v2.4h-2.6zM36.3,24.3h4.4v1.0h-4.4zM9.7,8.2h2.3v2.8h-2.3zM41.1,21.6h4.1v2.1h-4.1zM35.2,2.4h3.0v1.2h-3.0zM45.3,39.8h4.6v3.6h-4.6zM32.9,8.6h2.9v2.9h-2.9zM41.2,42.3h2.3v1.4h-2.3zM43.5,5.0h3.5v2.3h-3.5zM49.2,5.3h4.2v2.0h-4.2z" fill="#F08228"/></pattern><pattern id="spkW" width="60" height="60" patternUnits="userSpaceOnUse"><path d="M48.3,48.5h4.6v2.1h-4.6zM3.2,23.0h4.0v1.2h-4.0zM2.9,60.0h5.3v1.9h-5.3zM26.1,58.5h6.5v4.4h-6.5zM23.5,29.6h5.4v1.2h-5.4zM33.3,16.3h6.4v1.3h-6.4zM40.8,52.2h3.1v4.6h-3.1zM52.3,1.1h5.5v1.0h-5.5zM30.2,26.2h3.0v2.3h-3.0zM48.4,19.0h2.7v3.8h-2.7zM26.9,47.9h3.2v2.3h-3.2zM48.0,30.4h4.5v1.9h-4.5zM0.9,56.0h2.4v4.4h-2.4zM22.1,57.1h4.0v4.7h-4.0zM33.4,14.4h5.7v3.7h-5.7zM41.1,27.8h3.1v3.6h-3.1zM6.4,41.5h5.2v2.5h-5.2zM47.9,11.6h4.0v4.2h-4.0zM22.8,42.8h5.1v4.8h-5.1zM59.5,43.4h6.0v1.6h-6.0zM42.8,50.9h4.0v3.2h-4.0zM28.8,57.5h3.6v2.6h-3.6zM0.1,25.2h5.2v4.7h-5.2zM55.4,19.6h6.9v1.8h-6.9zM49.4,9.4h4.0v1.3h-4.0zM51.5,49.7h2.7v3.1h-2.7zM15.5,29.5h4.8v1.4h-4.8zM51.9,16.7h4.2v1.2h-4.2zM0.2,11.7h3.7v4.7h-3.7zM53.4,28.8h4.3v3.7h-4.3zM51.5,20.2h6.0v2.6h-6.0zM35.6,44.2h4.5v3.8h-4.5zM41.8,0.3h2.2v1.6h-2.2zM12.8,12.2h2.2v1.9h-2.2zM36.1,53.2h3.7v2.5h-3.7zM25.0,40.8h5.9v4.8h-5.9zM22.5,42.4h3.7v4.3h-3.7zM13.8,52.3h4.5v3.9h-4.5zM32.1,19.0h4.5v1.2h-4.5zM2.6,31.8h4.4v4.3h-4.4zM1.2,33.4h4.5v3.4h-4.5zM43.8,31.5h4.8v3.0h-4.8zM36.9,14.9h4.8v3.7h-4.8zM11.5,59.4h5.7v4.8h-5.7zM17.6,26.6h3.3v1.2h-3.3zM1.0,14.8h6.3v1.7h-6.3zM41.4,15.0h2.3v1.8h-2.3zM40.7,30.1h4.7v2.8h-4.7zM16.5,29.3h6.6v1.8h-6.6zM44.0,15.1h3.0v2.3h-3.0zM5.6,56.1h3.8v1.7h-3.8zM0.0,3.6h3.1v2.7h-3.1zM36.1,58.9h6.5v2.0h-6.5zM36.7,55.3h2.5v4.4h-2.5zM23.8,46.9h3.6v3.5h-3.6zM30.4,6.3h5.8v4.3h-5.8zM29.0,23.3h6.7v2.5h-6.7zM52.8,25.1h3.9v2.4h-3.9zM3.6,16.6h3.1v1.2h-3.1zM32.5,26.5h2.1v1.6h-2.1zM55.1,8.0h3.9v4.8h-3.9zM6.8,24.6h6.0v1.1h-6.0zM4.1,55.8h5.4v2.0h-5.4zM28.8,14.9h6.5v4.8h-6.5zM4.3,31.4h2.9v2.6h-2.9zM44.5,42.8h2.9v2.3h-2.9zM25.5,23.2h5.4v4.2h-5.4zM20.1,26.5h2.3v2.5h-2.3zM56.8,30.1h4.8v3.4h-4.8zM34.0,48.3h3.3v2.3h-3.3z" fill="#FFFFFF"/></pattern><pattern id="spkG2" width="60" height="60" patternUnits="userSpaceOnUse"><path d="M32.3,20.6h3.5v2.5h-3.5zM59.2,38.0h4.7v2.3h-4.7zM40.8,7.4h2.2v4.4h-2.2zM0.5,58.7h5.3v4.1h-5.3zM2.9,12.4h5.4v2.7h-5.4zM37.6,7.3h2.7v3.0h-2.7zM45.6,32.4h2.4v4.5h-2.4zM8.4,26.4h4.3v2.3h-4.3zM25.1,53.2h3.8v3.2h-3.8zM58.2,16.6h5.6v2.4h-5.6zM18.7,52.9h2.3v4.5h-2.3zM49.7,53.7h2.2v2.0h-2.2zM46.5,26.2h2.0v3.8h-2.0zM48.0,58.4h2.6v2.0h-2.6zM50.5,5.5h3.1v2.8h-3.1zM25.1,32.6h5.5v3.5h-5.5zM39.2,35.5h2.8v2.8h-2.8zM59.3,54.6h5.1v3.1h-5.1zM52.1,37.9h3.6v3.1h-3.6zM11.9,34.4h3.3v4.1h-3.3zM49.7,59.6h5.3v1.2h-5.3zM43.5,48.5h5.5v3.0h-5.5zM28.6,31.8h2.6v4.8h-2.6zM59.2,15.8h5.8v1.8h-5.8zM5.1,43.9h5.3v1.8h-5.3zM57.2,24.0h2.7v2.2h-2.7zM6.8,46.3h3.1v3.8h-3.1zM27.7,7.5h4.3v4.9h-4.3zM11.1,57.8h2.5v3.3h-2.5zM10.4,59.8h4.2v4.5h-4.2zM42.5,26.9h3.0v4.5h-3.0zM53.1,47.0h5.2v1.2h-5.2zM13.1,33.3h2.3v3.4h-2.3zM56.8,21.2h4.8v1.8h-4.8zM47.8,53.8h5.3v2.8h-5.3zM20.9,5.0h5.4v4.6h-5.4zM33.5,45.8h2.9v4.0h-2.9zM15.0,43.7h2.0v2.5h-2.0zM14.3,2.4h3.0v4.7h-3.0zM18.2,7.0h4.7v4.1h-4.7zM20.7,55.4h4.8v3.2h-4.8zM53.8,48.5h4.4v2.0h-4.4zM31.3,37.2h5.6v4.8h-5.6zM3.7,31.6h5.7v2.7h-5.7zM45.2,13.8h5.5v1.7h-5.5zM15.7,14.7h2.6v3.7h-2.6zM50.6,9.5h2.8v2.6h-2.8zM18.1,38.3h2.5v3.3h-2.5zM30.2,7.0h3.8v2.5h-3.8zM4.0,19.6h4.6v4.5h-4.6zM57.2,44.2h3.6v1.6h-3.6zM41.0,34.4h5.4v2.0h-5.4zM39.4,5.6h3.2v2.7h-3.2zM48.3,20.9h4.5v4.9h-4.5zM56.8,28.7h2.8v3.5h-2.8zM47.6,35.6h5.0v1.9h-5.0zM17.1,9.4h2.2v2.8h-2.2zM46.4,22.5h5.8v2.4h-5.8zM22.8,51.1h4.6v3.1h-4.6zM14.2,5.3h2.7v1.7h-2.7zM25.1,19.8h4.2v2.0h-4.2zM41.0,56.8h5.3v3.3h-5.3zM15.5,47.5h5.3v1.4h-5.3zM50.8,55.2h2.8v1.7h-2.8zM43.6,28.8h2.3v3.5h-2.3zM49.8,43.8h2.2v1.2h-2.2zM31.1,39.5h5.7v3.8h-5.7zM40.7,52.5h3.6v1.7h-3.6zM6.9,21.4h5.5v3.2h-5.5zM2.6,54.4h5.3v1.2h-5.3zM47.2,10.9h2.2v2.6h-2.2zM42.3,16.1h3.7v4.4h-3.7zM7.3,38.4h3.3v1.2h-3.3zM45.8,40.5h3.8v2.9h-3.8zM23.3,40.8h2.0v1.4h-2.0zM5.1,6.5h4.2v2.7h-4.2zM39.4,31.3h5.1v3.8h-5.1zM2.1,5.2h4.7v4.4h-4.7zM49.5,5.5h4.4v1.6h-4.4zM18.1,51.0h4.5v4.4h-4.5zM36.3,54.2h3.1v2.9h-3.1zM56.1,45.8h2.2v1.8h-2.2zM22.3,38.3h3.2v4.4h-3.2zM48.5,25.1h3.0v1.9h-3.0zM13.6,29.9h4.2v4.6h-4.2zM29.9,33.8h2.9v4.9h-2.9zM28.6,9.1h3.2v3.9h-3.2zM16.2,59.6h4.2v4.2h-4.2zM36.0,41.2h3.6v4.2h-3.6zM48.4,48.3h4.5v4.2h-4.5zM48.0,14.0h2.2v4.7h-2.2zM23.4,4.6h5.5v4.4h-5.5zM36.8,6.2h5.5v2.9h-5.5zM5.3,10.6h2.6v4.5h-2.6zM53.2,55.9h3.3v3.3h-3.3zM36.9,21.6h2.1v1.2h-2.1zM4.8,27.1h3.7v1.1h-3.7zM3.7,22.9h4.6v3.0h-4.6zM45.3,33.5h2.4v1.4h-2.4zM21.4,36.2h5.5v4.5h-5.5zM57.6,51.6h3.6v3.2h-3.6zM3.6,56.5h4.4v1.2h-4.4zM53.2,43.1h5.9v1.4h-5.9zM25.5,6.4h5.8v1.6h-5.8zM43.1,40.6h4.4v2.9h-4.4zM25.8,47.8h4.4v2.4h-4.4zM43.9,40.2h3.8v3.8h-3.8zM9.9,25.7h5.1v4.2h-5.1zM45.2,59.9h3.6v4.7h-3.6zM46.6,45.7h3.3v1.4h-3.3zM46.2,3.8h4.6v1.1h-4.6zM11.1,26.6h5.3v2.2h-5.3zM55.3,56.5h5.0v2.4h-5.0zM27.2,58.2h4.3v3.4h-4.3zM33.9,9.5h6.0v3.4h-6.0zM40.7,48.7h4.0v2.0h-4.0zM56.2,10.6h3.5v3.8h-3.5zM26.6,35.7h2.9v4.4h-2.9zM51.8,26.4h5.7v4.5h-5.7zM38.9,13.7h2.1v4.7h-2.1zM55.6,36.8h4.2v3.9h-4.2zM23.7,19.2h3.4v2.4h-3.4zM32.5,0.8h2.9v3.2h-2.9zM53.1,31.5h3.1v4.8h-3.1zM51.3,16.1h6.0v3.8h-6.0zM15.6,36.6h3.3v4.7h-3.3zM36.9,3.0h4.1v3.2h-4.1zM49.2,56.6h4.7v3.3h-4.7zM31.9,10.3h5.0v3.0h-5.0zM23.8,45.0h3.4v3.8h-3.4zM19.6,11.4h4.2v4.7h-4.2zM11.3,9.0h3.3v4.4h-3.3zM27.5,22.6h3.5v2.3h-3.5zM32.8,24.5h2.6v3.9h-2.6zM9.2,32.7h3.9v1.1h-3.9zM14.7,48.1h5.4v4.4h-5.4zM8.4,44.7h3.4v1.9h-3.4zM11.6,52.8h5.9v3.2h-5.9zM56.5,8.3h2.0v2.9h-2.0zM53.5,30.7h3.0v4.7h-3.0zM38.6,20.8h4.3v3.6h-4.3zM4.7,33.0h4.4v1.3h-4.4zM10.8,2.0h2.9v1.1h-2.9zM35.2,49.0h2.4v4.5h-2.4zM14.4,0.0h3.7v2.2h-3.7zM21.3,19.1h5.1v2.5h-5.1zM50.3,40.5h4.7v4.1h-4.7zM10.4,55.6h4.3v1.1h-4.3zM11.9,54.5h4.5v1.0h-4.5zM6.1,57.6h2.9v2.8h-2.9zM33.7,0.6h3.7v3.3h-3.7zM2.3,29.4h5.1v3.6h-5.1zM12.6,26.7h2.7v2.6h-2.7zM21.0,25.9h4.9v1.7h-4.9zM56.0,46.1h5.8v2.4h-5.8zM37.5,40.1h5.9v3.8h-5.9zM30.8,9.1h5.1v4.7h-5.1zM38.9,31.9h2.1v5.0h-2.1zM50.5,37.9h4.0v3.8h-4.0zM51.5,21.0h2.6v2.4h-2.6zM7.7,27.7h5.0v2.5h-5.0zM27.9,10.7h5.9v1.8h-5.9zM54.0,15.5h5.6v1.6h-5.6zM36.7,35.0h2.6v3.4h-2.6zM31.9,53.3h2.4v3.0h-2.4zM1.4,50.0h2.2v4.4h-2.2zM43.6,56.0h4.2v1.4h-4.2zM43.8,2.5h2.5v2.2h-2.5zM32.3,5.9h4.1v1.8h-4.1zM16.8,55.9h4.2v5.0h-4.2zM42.7,23.4h5.3v3.7h-5.3zM15.9,17.9h3.4v2.6h-3.4zM55.4,54.6h2.2v2.7h-2.2zM9.8,48.8h4.0v2.8h-4.0zM45.2,51.2h2.0v1.6h-2.0zM4.7,56.6h3.4v2.3h-3.4zM18.6,10.0h2.8v2.5h-2.8zM54.1,23.8h2.3v2.4h-2.3zM25.0,47.7h4.8v3.2h-4.8zM18.6,6.7h2.8v2.4h-2.8zM52.2,1.0h3.6v3.6h-3.6zM5.8,29.4h5.2v3.2h-5.2zM20.8,54.5h4.0v3.3h-4.0zM20.3,46.6h3.4v3.3h-3.4zM25.5,24.9h2.9v2.1h-2.9zM31.3,33.0h2.9v3.6h-2.9zM54.0,38.2h4.4v4.3h-4.4zM36.4,15.1h2.5v2.1h-2.5zM28.2,18.5h2.7v4.7h-2.7zM52.3,7.9h3.9v5.0h-3.9zM54.9,16.1h2.8v1.9h-2.8zM0.4,48.8h5.5v1.1h-5.5zM54.2,17.5h3.4v3.7h-3.4zM4.7,47.5h2.7v1.3h-2.7zM20.5,12.7h3.5v1.3h-3.5zM24.4,43.2h3.4v2.8h-3.4zM19.2,11.4h5.4v3.4h-5.4zM43.3,31.5h4.5v2.6h-4.5zM29.7,36.5h3.3v2.4h-3.3zM4.5,47.4h2.5v2.9h-2.5zM20.5,5.3h3.7v3.1h-3.7zM43.2,5.8h3.6v4.8h-3.6zM30.7,27.1h4.0v1.4h-4.0zM56.9,11.8h4.7v1.8h-4.7zM34.2,5.4h2.7v3.8h-2.7zM7.4,32.2h4.4v3.9h-4.4zM49.0,44.0h4.5v2.5h-4.5zM41.3,13.0h3.1v2.1h-3.1zM16.9,19.5h4.7v4.9h-4.7zM34.5,55.1h4.1v3.3h-4.1zM27.9,7.3h5.0v1.9h-5.0zM19.6,0.1h3.4v3.0h-3.4zM16.7,12.7h4.5v3.4h-4.5zM33.8,21.0h3.0v2.9h-3.0zM16.6,12.3h4.5v2.5h-4.5zM5.1,54.1h3.3v2.4h-3.3zM29.2,45.4h4.7v1.7h-4.7zM38.6,23.5h5.2v4.9h-5.2zM58.3,41.2h3.8v4.1h-3.8zM54.0,25.6h2.7v2.1h-2.7zM21.8,21.3h3.8v2.1h-3.8zM34.1,8.1h4.3v2.1h-4.3zM33.8,13.5h4.3v2.7h-4.3zM53.5,10.4h3.5v2.6h-3.5zM22.5,21.4h4.4v1.1h-4.4zM23.4,24.2h5.5v4.8h-5.5zM48.9,50.6h6.0v5.0h-6.0zM38.2,3.7h5.5v3.0h-5.5zM1.8,9.5h4.2v3.8h-4.2zM57.7,48.9h5.6v1.2h-5.6zM26.1,48.3h5.2v1.8h-5.2zM34.7,14.6h2.6v4.3h-2.6zM22.6,53.9h2.1v4.7h-2.1zM48.4,28.6h4.1v2.1h-4.1zM31.0,43.6h4.8v3.3h-4.8zM8.1,16.7h5.9v2.5h-5.9zM23.4,24.2h5.4v2.6h-5.4zM34.0,23.8h2.9v2.2h-2.9zM13.5,48.1h6.0v4.1h-6.0zM30.6,35.9h4.0v4.4h-4.0zM8.0,2.6h4.9v2.8h-4.9zM44.9,55.3h2.8v4.0h-2.8zM43.7,37.7h3.6v3.4h-3.6zM31.6,5.4h4.3v1.0h-4.3zM19.3,40.6h5.6v4.5h-5.6zM19.7,0.1h5.6v1.4h-5.6zM41.3,12.6h5.4v1.4h-5.4zM56.5,6.8h4.4v4.4h-4.4zM9.8,24.8h3.2v4.7h-3.2zM36.3,54.3h5.9v3.3h-5.9zM48.1,30.4h3.7v4.9h-3.7zM22.1,23.1h3.4v1.9h-3.4zM20.8,16.4h5.5v4.0h-5.5zM33.5,48.7h5.0v4.8h-5.0zM9.5,17.9h5.4v2.4h-5.4zM0.2,14.7h2.7v3.6h-2.7zM52.8,25.9h4.1v2.4h-4.1zM15.4,4.1h5.9v2.8h-5.9zM43.2,36.5h5.9v4.4h-5.9zM45.6,20.7h6.0v1.6h-6.0zM35.4,29.8h2.2v4.3h-2.2zM12.3,29.9h3.9v2.4h-3.9zM22.0,46.7h5.7v3.7h-5.7zM31.7,11.2h2.1v3.5h-2.1zM44.6,50.7h3.2v3.4h-3.2zM21.9,6.7h5.0v4.7h-5.0zM26.6,45.1h5.4v1.2h-5.4zM38.7,19.6h3.6v4.2h-3.6zM17.2,52.3h5.3v1.1h-5.3zM11.5,58.7h3.3v4.8h-3.3zM41.8,29.9h3.4v3.2h-3.4zM32.0,12.2h5.2v4.9h-5.2zM0.3,50.2h5.9v3.5h-5.9zM25.3,11.6h2.9v4.9h-2.9zM7.1,42.0h4.4v3.0h-4.4zM33.2,57.6h4.2v3.2h-4.2zM37.6,40.9h4.2v4.1h-4.2zM57.7,42.3h5.6v1.6h-5.6zM29.1,27.6h5.3v2.3h-5.3zM20.0,29.0h2.9v2.9h-2.9zM36.3,15.1h2.8v4.0h-2.8zM51.6,36.8h4.8v1.4h-4.8zM39.1,32.9h2.0v2.1h-2.0zM53.1,15.5h2.8v3.3h-2.8zM8.1,24.6h4.9v1.8h-4.9zM28.3,4.2h3.4v4.6h-3.4zM31.6,50.5h4.5v2.5h-4.5zM39.8,48.0h4.1v3.5h-4.1zM54.6,15.8h4.7v3.9h-4.7zM53.8,28.1h5.3v4.0h-5.3zM31.6,15.1h3.6v3.5h-3.6zM30.9,47.3h4.8v3.1h-4.8zM54.2,22.5h4.5v2.1h-4.5zM56.1,48.7h2.7v4.8h-2.7zM40.0,23.2h2.8v2.4h-2.8zM35.2,44.8h4.5v2.7h-4.5zM46.6,37.6h4.7v2.1h-4.7zM25.4,10.6h3.8v1.9h-3.8zM27.5,26.7h5.7v2.5h-5.7zM4.4,26.7h4.6v3.5h-4.6z" fill="#00DC00"/></pattern><pattern id="spkB2" width="60" height="60" patternUnits="userSpaceOnUse"><path d="M37.5,53.8h5.1v1.7h-5.1zM18.0,52.4h2.0v3.5h-2.0zM47.8,28.1h3.2v1.8h-3.2zM15.3,26.7h4.0v2.7h-4.0zM59.7,47.6h4.5v4.0h-4.5zM12.9,9.6h4.5v1.1h-4.5zM2.1,30.9h3.9v3.8h-3.9zM37.8,30.8h4.0v1.7h-4.0zM0.7,11.5h4.8v1.6h-4.8zM22.2,0.2h5.3v1.5h-5.3zM16.1,52.8h4.0v3.5h-4.0zM38.4,44.5h2.4v2.6h-2.4zM30.5,52.3h3.4v2.8h-3.4zM3.6,23.3h3.3v1.5h-3.3zM49.0,22.8h5.9v2.8h-5.9zM36.3,38.3h4.7v1.5h-4.7zM26.4,14.4h3.6v1.3h-3.6zM58.1,12.9h4.7v1.9h-4.7zM52.4,39.7h2.5v3.5h-2.5zM56.7,54.2h4.3v1.4h-4.3zM11.5,55.7h4.2v1.5h-4.2zM53.0,38.5h4.3v2.1h-4.3zM24.7,14.4h2.2v3.6h-2.2zM28.1,32.9h3.3v3.3h-3.3zM1.5,22.3h2.1v1.4h-2.1zM58.0,39.5h3.7v2.6h-3.7zM52.4,20.7h4.4v3.1h-4.4zM21.3,31.1h5.1v3.7h-5.1zM9.1,56.0h2.0v3.3h-2.0zM48.6,8.2h3.7v3.4h-3.7zM0.9,37.7h5.2v2.5h-5.2zM43.6,13.6h2.8v2.1h-2.8zM10.8,20.8h5.8v2.7h-5.8zM20.4,16.3h5.8v2.3h-5.8zM58.8,30.9h4.1v3.7h-4.1zM44.6,34.8h3.7v3.6h-3.7zM24.7,55.4h2.3v2.3h-2.3zM31.2,57.1h3.0v3.4h-3.0zM40.6,43.0h4.5v3.9h-4.5zM20.0,23.9h2.8v1.2h-2.8zM12.8,54.9h5.4v1.3h-5.4zM36.2,28.8h4.4v3.0h-4.4zM18.4,57.7h3.9v2.9h-3.9zM38.1,11.0h2.2v2.2h-2.2zM45.8,48.9h4.9v1.3h-4.9zM54.8,48.1h5.5v2.6h-5.5zM54.9,2.8h2.1v1.1h-2.1zM15.2,14.9h2.8v2.7h-2.8zM2.3,35.4h2.7v3.0h-2.7zM1.3,18.6h5.8v2.6h-5.8zM48.7,39.5h4.4v1.6h-4.4zM34.5,2.4h5.2v3.9h-5.2zM51.2,3.0h3.4v2.0h-3.4zM6.8,37.6h5.2v1.9h-5.2zM51.8,47.8h2.5v3.3h-2.5zM53.0,11.8h4.3v2.9h-4.3zM36.6,5.8h4.6v2.9h-4.6zM49.4,48.2h3.3v3.2h-3.3zM52.0,53.6h2.6v1.1h-2.6zM39.0,12.9h4.3v3.8h-4.3zM22.8,15.2h3.8v3.0h-3.8zM6.1,22.8h2.5v3.0h-2.5zM49.8,22.6h3.5v2.6h-3.5zM12.9,14.8h3.3v2.4h-3.3zM4.9,45.2h4.3v1.9h-4.3zM4.7,45.8h2.5v1.4h-2.5zM7.8,4.9h5.6v1.8h-5.6zM18.4,50.0h4.5v1.6h-4.5zM26.1,53.0h3.5v3.1h-3.5zM5.8,43.6h5.1v3.5h-5.1zM40.5,22.2h2.3v2.6h-2.3zM45.4,11.5h3.1v2.6h-3.1zM44.9,53.8h2.5v1.6h-2.5zM48.0,38.7h4.9v4.0h-4.9zM56.4,50.6h5.1v2.2h-5.1zM38.5,11.1h5.0v3.3h-5.0zM43.3,26.7h3.5v2.3h-3.5zM2.0,50.7h4.2v2.2h-4.2zM32.9,43.3h3.5v3.5h-3.5zM55.2,23.2h2.6v3.3h-2.6zM59.6,8.9h4.9v3.5h-4.9zM55.2,7.4h2.4v4.0h-2.4zM7.0,10.6h4.3v2.3h-4.3zM45.0,11.4h5.7v1.7h-5.7zM46.1,4.1h3.9v1.1h-3.9zM18.8,18.7h4.9v2.4h-4.9zM3.4,59.7h5.6v3.7h-5.6zM14.8,23.6h2.9v1.4h-2.9zM2.0,30.2h2.5v1.5h-2.5zM51.6,29.1h2.7v3.0h-2.7zM16.0,31.6h3.1v2.5h-3.1zM37.7,32.2h3.6v3.4h-3.6zM52.4,10.8h2.5v1.3h-2.5zM58.8,56.5h2.9v3.9h-2.9zM12.5,30.4h4.0v3.7h-4.0zM2.4,18.9h4.4v1.2h-4.4zM14.2,27.9h5.5v3.3h-5.5zM49.7,45.7h4.8v3.5h-4.8zM40.9,44.1h3.2v1.5h-3.2zM45.4,10.0h5.7v2.8h-5.7zM19.8,56.2h2.6v2.5h-2.6zM5.5,57.9h4.3v3.4h-4.3zM16.9,48.1h4.8v2.9h-4.8zM57.0,26.0h3.7v3.1h-3.7zM50.1,20.1h4.7v1.6h-4.7zM33.1,46.2h2.3v3.2h-2.3zM0.9,57.5h3.9v2.2h-3.9zM43.2,31.4h4.9v1.3h-4.9zM33.8,33.5h5.7v1.1h-5.7zM27.2,37.9h4.2v1.2h-4.2zM35.6,13.3h2.8v3.6h-2.8zM11.9,27.3h5.0v3.1h-5.0zM33.2,48.4h3.9v2.9h-3.9zM49.1,40.7h4.6v2.2h-4.6zM33.5,23.8h5.0v2.1h-5.0zM28.0,45.3h4.0v2.0h-4.0zM49.6,22.9h5.4v3.4h-5.4zM26.8,42.8h2.1v2.2h-2.1zM51.6,34.8h4.2v3.0h-4.2zM40.7,35.0h3.7v1.6h-3.7zM17.6,17.6h3.7v4.0h-3.7zM21.2,26.8h3.5v2.7h-3.5zM56.9,53.3h3.5v1.8h-3.5zM53.1,29.6h4.7v1.2h-4.7zM52.0,18.8h4.0v1.6h-4.0zM25.2,49.7h5.3v2.4h-5.3zM46.1,27.5h3.5v2.6h-3.5zM12.1,19.0h4.8v3.3h-4.8zM3.4,44.0h5.3v2.3h-5.3zM3.7,41.0h3.0v2.9h-3.0zM22.6,38.2h3.0v2.4h-3.0zM31.5,37.9h2.8v3.9h-2.8zM17.3,18.4h3.0v1.2h-3.0zM25.4,46.3h4.8v1.6h-4.8zM8.2,19.3h5.1v2.5h-5.1zM55.4,39.4h4.5v3.3h-4.5zM45.0,20.6h3.0v2.3h-3.0zM29.4,8.5h3.8v2.9h-3.8zM8.1,8.3h2.7v1.8h-2.7zM57.7,1.5h2.7v1.5h-2.7zM28.5,0.9h3.8v1.5h-3.8zM16.2,47.5h2.7v2.9h-2.7zM24.4,25.1h5.3v1.5h-5.3zM55.4,53.6h4.7v1.1h-4.7zM39.8,36.0h5.1v1.6h-5.1zM57.2,53.2h2.5v1.9h-2.5zM1.9,49.9h5.7v4.0h-5.7zM36.7,40.0h4.7v2.7h-4.7zM57.1,36.5h3.3v2.5h-3.3zM1.1,43.4h4.8v2.3h-4.8zM51.1,45.3h3.3v1.2h-3.3zM7.9,11.1h3.2v2.3h-3.2zM55.7,16.7h5.6v3.0h-5.6zM51.2,24.2h2.0v3.4h-2.0zM14.7,8.5h5.2v3.1h-5.2zM12.7,16.1h5.8v1.8h-5.8zM42.1,7.8h5.3v1.4h-5.3zM31.0,2.1h4.2v3.5h-4.2zM5.1,16.5h5.1v2.8h-5.1zM18.8,37.7h3.8v3.6h-3.8zM17.6,45.5h4.5v3.2h-4.5zM22.7,43.5h4.8v2.2h-4.8zM1.6,57.8h4.9v1.6h-4.9zM43.8,16.7h3.9v3.6h-3.9zM26.9,17.3h3.2v1.2h-3.2zM13.2,16.3h2.7v1.2h-2.7zM27.9,12.9h5.0v3.8h-5.0zM16.4,34.3h4.0v1.2h-4.0zM7.5,53.1h3.9v3.4h-3.9zM4.0,35.7h5.5v3.6h-5.5zM0.3,31.3h3.5v3.3h-3.5zM4.4,15.9h5.3v2.4h-5.3zM27.2,58.1h3.3v1.1h-3.3zM23.5,9.2h2.3v2.7h-2.3zM57.2,34.8h4.6v2.0h-4.6zM34.3,45.1h4.4v3.4h-4.4zM33.0,11.9h4.3v2.5h-4.3zM10.0,37.1h5.3v1.4h-5.3zM32.7,44.0h3.6v1.8h-3.6zM22.3,32.5h4.7v2.7h-4.7zM6.4,49.1h5.7v1.3h-5.7zM15.0,10.4h5.4v3.7h-5.4zM2.7,19.9h2.8v2.4h-2.8zM55.3,4.2h2.7v2.5h-2.7zM31.4,44.7h3.8v1.4h-3.8zM21.2,58.9h5.0v1.3h-5.0zM48.5,18.7h5.1v1.0h-5.1zM52.3,9.7h3.8v3.0h-3.8zM30.5,9.9h2.6v1.9h-2.6zM3.1,13.0h2.5v2.4h-2.5zM21.4,35.2h3.1v1.1h-3.1zM19.9,45.3h3.0v2.2h-3.0zM45.3,24.4h5.5v3.8h-5.5zM18.6,44.2h3.0v1.4h-3.0zM26.3,36.1h5.7v1.4h-5.7zM42.7,28.5h2.5v3.9h-2.5zM41.7,7.7h5.6v1.3h-5.6zM5.6,19.9h5.8v1.1h-5.8zM55.1,36.7h2.3v2.7h-2.3zM27.5,33.8h4.9v3.0h-4.9zM59.8,9.4h5.3v2.2h-5.3zM47.0,53.5h6.0v1.8h-6.0zM27.2,56.6h5.8v2.1h-5.8zM56.4,24.4h3.5v3.3h-3.5zM28.3,26.9h3.5v2.3h-3.5zM8.4,3.7h5.0v2.7h-5.0zM40.3,48.1h2.9v1.7h-2.9zM16.7,18.2h5.0v2.1h-5.0zM19.4,38.2h2.7v1.3h-2.7zM41.8,45.4h3.2v2.9h-3.2zM2.0,24.3h4.3v1.8h-4.3zM20.9,36.6h4.4v1.5h-4.4zM42.4,4.8h5.9v1.6h-5.9zM15.2,12.0h6.0v1.9h-6.0zM36.3,59.4h5.8v1.1h-5.8zM31.3,36.1h4.8v2.0h-4.8zM19.7,0.3h2.1v2.7h-2.1zM4.6,12.1h3.3v1.2h-3.3zM1.9,55.6h3.7v1.6h-3.7zM42.5,0.6h3.0v3.9h-3.0zM53.9,38.2h2.4v2.0h-2.4zM1.7,13.2h2.1v1.4h-2.1zM38.0,6.0h2.6v3.7h-2.6zM20.1,20.0h2.3v3.4h-2.3zM40.6,32.8h4.5v1.3h-4.5zM15.6,35.0h5.8v3.5h-5.8zM38.4,31.1h2.1v3.7h-2.1zM4.0,7.7h4.8v3.4h-4.8zM47.2,27.1h2.7v1.1h-2.7zM51.1,58.7h3.0v3.6h-3.0zM24.2,18.7h4.0v1.0h-4.0zM26.6,12.0h4.8v2.5h-4.8zM52.1,53.8h3.3v1.8h-3.3zM56.3,30.2h2.4v1.1h-2.4zM59.4,34.7h2.2v2.5h-2.2zM30.2,26.1h5.8v3.8h-5.8zM7.5,9.1h3.6v3.5h-3.6zM37.4,43.8h4.3v1.6h-4.3zM49.1,0.8h4.8v1.6h-4.8zM28.3,58.5h4.2v1.2h-4.2zM25.7,39.6h2.2v1.8h-2.2zM1.1,32.4h3.5v2.5h-3.5zM17.8,39.4h2.7v3.7h-2.7zM57.6,29.6h3.9v3.6h-3.9zM17.4,48.2h3.1v3.2h-3.1zM20.0,36.2h5.7v1.2h-5.7zM48.4,32.5h3.5v2.1h-3.5zM4.2,15.5h4.5v1.3h-4.5zM40.2,57.7h5.9v3.7h-5.9zM48.4,10.7h5.9v1.6h-5.9zM52.1,52.7h4.5v2.6h-4.5zM12.0,31.2h3.2v1.4h-3.2zM7.7,48.1h5.7v1.4h-5.7zM0.8,15.8h2.5v1.6h-2.5zM35.0,25.3h3.7v1.6h-3.7zM39.9,17.4h3.6v2.4h-3.6zM54.3,14.8h4.9v1.9h-4.9zM53.7,23.6h4.0v3.6h-4.0zM40.4,5.7h2.5v4.0h-2.5zM1.7,18.1h5.8v1.0h-5.8zM9.7,12.8h2.3v2.4h-2.3zM35.5,19.1h2.4v3.4h-2.4zM48.3,33.7h2.6v2.6h-2.6zM37.8,25.7h5.5v2.2h-5.5zM30.7,6.8h4.3v3.3h-4.3zM43.9,15.4h6.0v3.2h-6.0zM25.4,24.9h5.1v1.5h-5.1zM38.4,43.1h4.1v3.6h-4.1zM28.1,27.9h3.1v3.8h-3.1zM19.0,41.7h3.6v3.8h-3.6zM56.9,1.8h6.0v2.8h-6.0zM4.4,29.8h2.2v2.6h-2.2zM11.1,22.1h3.2v2.8h-3.2zM49.3,56.2h3.3v2.7h-3.3zM0.4,22.3h5.8v1.4h-5.8zM52.2,39.2h3.2v3.3h-3.2zM17.4,53.7h2.3v1.4h-2.3zM45.0,27.0h2.6v2.5h-2.6zM17.8,33.0h5.0v3.6h-5.0zM3.5,35.5h5.9v2.4h-5.9zM46.2,5.8h5.5v2.7h-5.5zM53.3,47.2h5.5v1.2h-5.5zM42.9,11.8h3.1v2.0h-3.1zM35.5,37.7h5.7v1.0h-5.7zM11.6,21.7h5.3v2.6h-5.3zM30.7,45.6h4.6v1.9h-4.6zM5.2,27.7h5.5v2.8h-5.5zM3.2,26.4h3.5v2.7h-3.5zM35.2,57.1h3.4v2.2h-3.4zM36.8,53.2h4.8v2.4h-4.8zM48.9,29.1h5.9v1.8h-5.9zM7.6,49.8h3.2v3.5h-3.2zM36.6,30.5h2.3v3.4h-2.3zM4.0,57.9h5.5v1.9h-5.5zM7.7,53.1h3.9v1.4h-3.9zM29.9,14.8h3.6v2.9h-3.6zM54.9,48.1h2.6v2.4h-2.6zM29.5,59.4h2.3v2.5h-2.3zM54.9,23.9h3.0v2.7h-3.0zM19.2,55.6h2.3v1.6h-2.3z" fill="#1E3CFF"/></pattern></defs>
<rect width="1600" height="1200" fill="#fff"/>
<text x="205.5" y="58.2" font-size="42.5" font-family="'DejaVu Sans', 'Liberation Sans', sans-serif" font-weight="200" text-anchor="start" fill="#000" textLength="203.5" lengthAdjust="spacingAndGlyphs" stroke="#000" stroke-width="0.35">Previsao</text>
<text x="443.5" y="58.2" font-size="42.5" font-family="'DejaVu Sans', 'Liberation Sans', sans-serif" font-weight="200" text-anchor="start" fill="#000" textLength="250.5" lengthAdjust="spacingAndGlyphs" stroke="#000" stroke-width="0.35">WRF—INPE</text>
<text x="756.5" y="58.2" font-size="42.5" font-family="'DejaVu Sans', 'Liberation Sans', sans-serif" font-weight="200" text-anchor="start" fill="#000" textLength="105" lengthAdjust="spacingAndGlyphs" stroke="#000" stroke-width="0.35">para</text>
<text x="896.5" y="58.2" font-size="42.5" font-family="'DejaVu Sans', 'Liberation Sans', sans-serif" font-weight="200" text-anchor="start" fill="#000" textLength="89" lengthAdjust="spacingAndGlyphs" stroke="#000" stroke-width="0.35">22h</text>
<text x="1026.5" y="58.2" font-size="42.5" font-family="'DejaVu Sans', 'Liberation Sans', sans-serif" font-weight="200" text-anchor="start" fill="#000" textLength="339" lengthAdjust="spacingAndGlyphs" stroke="#000" stroke-width="0.35">10/Ago/2025</text>
<text x="664" y="672.8" font-size="24.5" font-family="'DejaVu Sans', 'Liberation Sans', sans-serif" font-weight="200" text-anchor="start" fill="#000" textLength="48.5" lengthAdjust="spacingAndGlyphs" stroke="#000" stroke-width="0.3">22h</text>
<text x="733.5" y="672.8" font-size="24.5" font-family="'DejaVu Sans', 'Liberation Sans', sans-serif" font-weight="200" text-anchor="start" fill="#000" textLength="187.3" lengthAdjust="spacingAndGlyphs" stroke="#000" stroke-width="0.3">10/Ago/2025</text>
<text x="1218" y="1198.5" font-size="18.5" font-family="'DejaVu Sans', 'Liberation Sans', sans-serif" font-weight="200" text-anchor="start" fill="#000" textLength="270" lengthAdjust="spacingAndGlyphs" stroke="#000" stroke-width="0.25">00Z09AUG2025+[025UTC]</text>
<g clip-path="url(#clip0)">
<g transform="translate(97.25,177.90)"><path d="M236.4,176.5 C238.8,171 249.9,173.1 257,168.6 C264.1,164.2 273.3,154.9 279.1,149.7 C284.9,144.4 287.5,139.7 291.7,137 C295.9,134.4 299.1,132.6 304.3,133.9 C309.6,135.2 315.9,140.5 323.3,144.9 C330.6,149.4 340.1,156 348.5,160.7 C357,165.5 366.4,168.1 373.8,173.4 C381.2,178.6 386.4,186 392.8,192.3 C399.1,198.6 406.4,207.3 411.7,211.3 C417,215.2 422.2,198.1 424.3,216 C426.4,233.9 428.5,302 424.3,318.6 C420.1,335.2 407.5,316.5 399.1,315.5 C390.6,314.4 383.3,314.4 373.8,312.3 C364.3,310.2 352.8,306.5 342.2,302.8 C331.7,299.2 320.1,295.5 310.6,290.2 C301.2,284.9 292.8,277.6 285.4,271.3 C278,264.9 271.8,259.7 266.4,252.3 C261.1,244.9 257.1,235.5 253.2,227 C249.2,218.6 245.5,210.2 242.8,201.8 C240,193.4 234.1,182 236.4,176.5 Z M288.5,200.2 C292.1,194.7 301.7,192.6 310.6,192.3 C319.6,192 332.8,194.4 342.2,198.6 C351.7,202.8 362,209.9 367.5,217.6 C373,225.2 375.1,236.3 375.4,244.4 C375.6,252.6 374.3,261.3 369.1,266.5 C363.8,271.8 352.5,275.5 343.8,276 C335.1,276.5 324.5,273.9 317,269.7 C309.4,265.5 303.3,258.1 298.6,250.7 C294,243.4 290.9,233.9 289.2,225.5 C287.5,217 285,205.7 288.5,200.2 Z" fill="#B0B0F8" fill-rule="evenodd"/><path d="M13,37.7 C13.9,36.9 20.5,38.5 22.5,39.3 C24.5,40 29.5,42.7 30.4,44 C31.3,45.3 31.3,49.6 30.4,50.3 C29.5,51.1 24.3,50.9 22.5,50.3 C20.7,49.8 15.7,47.1 14.6,45.6 C13.5,44.1 12.1,38.4 13,37.7 Z" fill="#B0B0F8"/><path d="M294.9,149 C296.8,147.8 311.4,153.2 317,155.4 C322.5,157.6 337.1,165 342.2,168 C347.4,170.9 357.3,177.5 361.2,180.6 C365,183.7 374.3,191.7 375.4,194.5 C376.5,197.4 373.8,205.3 370.6,204.9 C367.5,204.6 354.1,194.4 348.5,191.4 C343,188.3 328.9,181.7 323.3,178.7 C317.7,175.8 303.9,169.6 300.5,166.1 C297.2,162.6 292.9,150.3 294.9,149 Z M385.8,200.2 C388.1,195.7 400.9,203.7 405.4,205.9 C409.9,208.1 422.1,208 424.3,219.2 C426.5,230.4 426.5,292.6 424.3,301.9 C422.1,311.2 409.1,301.8 405.4,298.7 C401.6,295.7 394.4,282.3 392.1,276 C389.8,269.7 386.5,253.3 385.8,244.4 C385.1,235.6 383.5,204.7 385.8,200.2 Z M283.8,238.1 C286.2,238.9 296.6,253.3 301.2,257.7 C305.8,262.1 317.8,272.8 323.3,276 C328.8,279.2 342.6,284 348.5,285.5 C354.4,286.9 368.6,289.1 373.8,288.6 C379,288.2 389.6,281.3 392.8,281.7 C395.9,282 402.9,289.4 400.6,291.8 C398.4,294.1 380.6,301.1 373.8,301.9 C367,302.7 349.6,300.2 342.2,298.7 C334.9,297.3 316.6,292.6 310.6,289.3 C304.7,285.9 294.6,274.8 291.1,270.3 C287.6,265.8 281.5,254.5 280.6,250.7 C279.8,247 281.4,237.3 283.8,238.1 Z" fill="#5050FF"/><use href="#basemap"/><path d="M336.5,290 339,285.6 345.9,280 346.6,273 346,271 345,270.7 338,272.3 335,271.2 330,267.3 325,267.9 321,261.9 319,260.6 316.9,261 314,264.1 310,264.7 308.1,266 308.2,268 310.7,271 319.5,276 321.7,283 324,286.1 327,287.9 334,290 336.5,290 M334.4,304 342.7,301 342.1,298 342.7,296 348,292.8 355.4,284 356.8,281 357.9,276 358.2,269 360.7,264 360.6,260 359,258.4 357,257.8 351,259.9 348,260.3 339,257.5 333,257.7 330.2,256 328,251.1 327,250.7 317,253.2 304,259.2 300.3,263 299.4,266 304.1,281 306,282.5 313.9,286 320.2,294 323,300 325,302 327.6,303 334.4,304 M332.9,320 339,317.4 343.2,317 346,313.2 350.6,310 352,305.7 354,303.9 357,303.8 364.8,306 364.9,310 365.9,312 367,312.3 368.4,311 368.3,306 372,302 372.5,298 371,292 367,288.1 365.3,285 365.8,276 370.7,267 378,258.8 378.5,256 378.2,253 377.1,251 376,250.2 369,249.7 352,245.8 344,246.6 325,242.6 318.1,244 313,248.4 305,251.3 294,252.7 290.6,256 289.5,260 291.8,267 292.1,270 291.2,275 288.6,281 288.3,284 289,285.6 294,290.4 298,291.3 299.4,293 299,295.1 294.8,299 292.6,303 292.8,306 295.7,313 297,314 301,314.7 306,314.3 323,315 325.1,316 326.9,320 328,320.9 332.9,320 M328.5,332 332,331 337,331.8 345,330.4 346.4,329 348.9,324 352,322.2 361,323.2 367,326.3 371,326 380,320 382,314.5 386.1,311 386.6,308 383,302 382.7,300 384.2,296 384.3,289 387.5,284 388.7,281 387.2,278 383.7,274 383.1,272 384,267 386.1,263 387.4,258 390.6,253 390.6,251 389.1,247 388.7,238 387,235.6 380,233.1 377,234.2 372,239.3 369,240.1 366.1,239 364.2,234 362,233 355,234.8 350,232.7 347,232.3 343.3,236 342,236.4 338,235.3 333,235.2 329,232.8 324,227.6 319,225 315,221.5 312,221 304,221.9 302.4,224 300,235 298,237.9 296,239.2 293,236.7 289,236.8 287,238.3 284.3,243 281.1,251 280.3,258 281.4,265 284,272 284.1,275 280.5,280 277.7,289 272.7,294 271.9,300 267.4,303 266.1,305 268,308.4 270,309.5 272,309.1 278,305.5 280,305.7 281.7,307 282,308 280.6,312 280.1,317 275.1,321 274.3,323 274.2,327 276,329.4 278,330 282,329.8 287,327 292,325.7 298,325.4 306,326.2 311,324.3 313,324.1 316.1,325 320.1,329 325,332.2 327,332.5 328.5,332 M257.7,271 259.2,267 259.3,261 258,259 253,254.5 249,254.9 241,257.8 239.5,259 239.2,262 245.1,269 255,271.6 257.7,271 M326.6,351 336,346.4 339.6,342 346,338.6 357,334 364.4,337 367.8,341 370,342.4 373,342.7 374.7,342 376.2,340 379,331 381,329.8 386,328.7 391,325.1 394,325.7 396,324.6 396,320 397.6,311 392.8,301 392.4,299 393,296.4 397,294.2 401,295.1 402.6,290 406,287.8 413,285.5 414.5,284 415.3,282 415.8,276 414.4,270 418.2,255 416.6,246 415.1,243 413,241.9 411,242.1 406,245.7 403,246 400.7,243 401.4,238 401.1,236 397.3,229 390.1,223 385,220.1 382,219.4 373,220.7 362,214.9 360.2,213 358,205.9 356,203.9 354,203.1 345,203.8 336,207.5 326,210.6 318,210.3 312,213 303,214.1 292,222.6 284,223.4 282.7,225 280.6,230 278,231.5 271,232.1 266,228.7 263,229.2 258,234.2 253,237 251,240.1 245.5,246 236.6,250 231.5,258 229.9,262 230.1,265 232.7,270 235.2,272 240,274.1 246,279.7 252.2,284 256.1,292 256.4,294 255.1,301 252,303.5 249.1,309 248.2,312 249.1,316 253,323.4 263,326.5 264.7,328 266.7,333 268.5,335 271,336.1 277,337.3 282,340.8 291,342.1 301,344.9 306,342.8 308,342.6 320,350.4 324,351.6 326.6,351 M271,278.2 268,278.8 267.1,278 267,275 268,273.7 270,273.1 272.6,274 273,276 272,277.8 271,278.2 M421,237.6 410,229.1 408.6,223 404,219.1 400,213.3 395,212 393,212.3 389,214.3 387,213.8 385.1,211 383.3,203 379,197.4 372,195.3 363,191.1 360,190.5 356,193 349,194.6 340,200 337,200.2 331,197.9 326,199.5 321,199.6 313,202.6 307,207.1 299,208.5 293,212 281,213.7 274,218.4 268,216.1 259.4,219 255,223.6 251,226.6 248,232.1 233,245 223.9,259 222.5,264 225.5,275 226,281 227.6,284 230,285.9 233,286.6 236,283.6 237,283.4 240.4,286 242.4,289 242.3,297 240.3,302 239.9,311 241,316.2 244.4,323 241.3,328 240.8,330 241.2,332 257,335 266,340.6 274,343.9 279,347.4 281,347.8 286,346.7 289,347.2 292.9,350 296.7,354 299,357.6 301,358.6 304,358 308,355.4 310,354.8 316,357.4 332,360.1 335,360 338.2,358 343,357.1 345.9,354 350,346.6 356,344.4 362,345 368,348.9 370,349.6 374,349.5 379,348.5 381,347 382.6,343 384.3,341 392,336.3 397,334.5 402.2,330 404,326.1 404.7,318 407,314.2 421,309.8 M421,226.3 418.1,225 415.5,220 411.4,217 409.9,212 403,204.4 399,201.5 395,200.3 392,198.4 386.6,194 384,189.8 382.1,188 374,185.1 365,184.2 359,181.6 357,181.6 355,182.5 350,187.1 339,193.2 333,190.8 327,190.4 321,188.8 314.9,191 310,194.3 307,195.5 304,195.9 297,194.9 293,195.6 286.1,199 283.4,204 281,206.8 274,209.3 272,209.2 271,208.5 269,204.6 267,202.7 265,202.5 261,203.4 259,203 253,197.9 251,197.8 249,198.7 244.8,203 242.9,208 242.7,210 244,212 246.4,214 246.7,216 241.9,221 242.3,226 241.9,228 234.5,237 224,244.8 221,248.1 216.9,257 216.7,262 215.5,267 218.3,277 219.1,288 218,291.6 214.8,295 216,295.7 221,295 223,296.1 224,297.6 227,311 230.9,319 234.4,324 234.5,326 233.1,331 235,338.1 237,340.3 245,342.7 255,343.9 257,345.7 259,349.7 264,348.6 270,353.5 276,356.5 279,357.6 285,358.2 287,359.9 289.3,364 299,369 303,369.4 310,368.3 316,364.6 320,364.8 323,366.9 325.8,372 327.6,374 M337.4,374 346.9,368 350,361.3 351.8,360 359,359.9 360.7,359 364,355.7 372,355.4 381,356.2 393,350.7 394.5,349 397,344.1 402,340.4 404.7,335 408.1,330 409.9,324 411.6,321 414.2,319 421,316.3 M421,183.4 416,179.3 414,179.6 410,182.7 408,182.9 406.1,182 403,179 398,178 395,178.4 388,181.7 384,181.7 377.4,180 372,176.4 368,174.9 363,170 359,167.7 356,167.4 352,168.6 347,168.1 344,169.6 340,173.1 335,173.8 330,176.4 328,176.6 323,175.1 321,175.6 316,181.3 311,183 306,185.5 303,185.7 298,183.3 291,182.1 282,184.4 275,182.4 273,183.2 272.8,188 272,188.8 256,186.3 249,187.4 242,192.1 238,197.3 229,200.2 221,207.3 216.8,218 216.2,224 218.3,231 217.4,234 216,235.4 215,235.5 211,232.8 208,231.8 206,231.6 205.1,233 205.2,238 206.7,243 207.8,252 207.6,257 206.3,262 206.3,268 205,271.1 202,271 200,271.6 198.6,273 198.2,275 199,275.6 206,276.2 207.9,279 207.1,281 202,283.6 201,284.8 199.6,294 195.2,302 195,305 196.8,317 196.9,322 198,325.1 201,328.1 207,330.7 212,333.9 217,334.6 220,335.9 226,339.6 235,349.1 236,349.6 241,350.1 244,352 246.6,356 245.3,361 245.7,364 250.1,371 253.7,374 M351.8,374 355.8,368 358,366.2 371,362.3 373,362.7 376,365.5 378,366 384,363.9 397,365.9 401,364.7 403.5,362 405,356.4 407.4,352 406.4,345 407.2,342 410,337 414.6,332 418.4,323 421,321.1 M421,364.9 413,363.6 410.9,364 409.6,366 409.4,368 410.9,374 M421,170.2 411,170.6 406.7,167 401,165.8 400,166.2 397.8,169 396,170.3 388,172.1 383,174.8 382,174.3 381.5,173 381.8,169 377,163.4 359,157.6 350,153.3 344,156.6 338,162.9 329,166.3 321,165.3 315,163.4 310,163.8 299.2,173 293,175.4 287,175.7 280,174.4 273,171.8 268,171 263,166.8 260,166.3 253,172 248.7,177 244,181 237,184.8 231,185.6 230,186.4 227.9,191 225,194.4 215,200.9 211.2,205 209,205.9 204,206.3 201,208.5 196.1,217 191,219.4 189,224.8 189,227.2 190.9,231 189.9,236 190.1,238 191.5,240 195,242.1 196.5,244 196,246 193.5,250 193.3,254 192,254.9 191,254.9 187,253.2 178,253 169.4,257 166.8,260 166.6,269 167.2,271 174,280.2 182,286 183.3,288 183.6,295 181.4,303 181.9,307 183,309.6 187.6,313 196.6,330 203,337.3 207.2,340 209.3,346 214,352.7 216,354.3 219,355.3 228,354.7 231.5,357 232.5,359 232.8,363 234.6,367 233.8,374 M421,352.4 419,351.5 418.2,350 419.1,347 421,344.7 M365,374 368,372 370,371.7 375,372.6 376.9,374 M384.5,374 386,373.2 390,373.1 393,371.8 402.7,374 M421,163.6 416,162.7 412.1,161 408,158.4 403.2,154 400,152.3 398,152.3 392,155.2 386,155.5 369,149.9 356,147.5 348,143.2 346,143.5 342,146.1 339,146.7 331,143.4 322,143.6 320,144.1 315,147.1 310,146.8 308.1,150 307.2,156 305,159.1 301,161.7 294,162.5 289,166.2 286,166.3 283,165 279,160 266,157.2 262,155.2 260,155 256,157 253.8,159 252,162 247,165 244,170.5 242.1,172 235,173.8 229,171.8 223,175.9 221,176.1 218,175.4 217,176.4 215.6,183 212.2,188 210,189.6 206,190.6 196,188.6 193,189 191.7,191 190.6,195 190.8,201 190.2,204 186,207.7 184.4,210 182.9,217 179.7,224 176.6,228 175.1,231 175.4,238 169,241 163.4,250 160.8,258 159,270 160.2,273 163.6,277 165.5,281 169.8,285 172.4,291 173.8,308 173.4,313 174.3,316 176,318.4 181.3,322 184.8,328 189.4,331 194,336.9 194.2,339 192.6,344 193.6,347 201,353.6 206,356 206.9,357 206.5,361 208,363.6 210,365 214,366.2 218,371.5 224,372.5 225.6,374 M421,157.9 417,156.5 411,151.6 405,149 398,143.2 397.2,141 398.9,135 398.4,133 397,131.8 389,128.3 M380,128.2 377,131.2 374,132.1 372,133.6 371,136 371.8,140 371,141.2 365.8,140 360,135.1 354,135.3 349.8,133 M298.2,136 297,138 296,138.5 287,137.3 285.4,139 285.1,142 284,143.7 275,148.8 273,148.7 267,145.5 258,144.8 M247.8,150 247.1,154 246,155.2 245,155.2 242,152.9 M185,184 182.9,194 181,195.9 177.1,197 176,198.2 175.5,205 173.7,209 173,213.7 171.1,215 167,216.3 164.8,218 164.6,219 167,222.7 167,224.4 166,225.3 161,225.1 159.1,227 156.3,232 155.9,237 153.1,243 155,248 155.6,257 155,258.6 153,260.3 M153,291.4 156,292.4 157.7,294 161.4,301 162.4,309 161,316 161.6,322 163.1,325 168,330 170,335 169.7,338 166.6,342 171,348.8 178,352.6 178.3,354 177.2,357 179,361.8 180,363.2 181,363.1 186,359.3 188,359.3 191,362.3 194,364 197,368.4 205,371.2 208.9,374 M389,146.2 388,146.3 383,141 382.4,139 384.1,137 386,136.4 387.4,137 389,146.2 M299,150.3 297,151 295.3,150 295.3,149 296,147.9 298,147 299.2,148 299,150.3 M164.3,343 165.8,342 166,341 165.2,340 162,338.6 160,339.7 159.6,342 161,343.9 164.3,343 M180,346.3 178,346.4 176.7,345 176.1,342 177,340.6 179,340.2 181.5,342 181.7,344 180,346.3 M164.8,355 165.6,354 165,353 163,351.7 161.1,352 161,353 162,354.7 164.8,355 M421,152.4 419,151 416.8,148 412.1,145 411.4,143 411.7,138 411.2,136 403,128.5 M165,196 161,204.7 153,208.1 M153,352.9 155.6,359 161.4,365 164,370.5 167,374 M421,138.6 419.4,137 416.5,131 409.1,127 405,121.8 M301,122.1 297,122.4 291,119.8 M421,113.5 419,112.2 415,111 413.1,108 411,107.4 408.6,108 405,112.3 404,111 M305.8,112 304,113.7 302,114.2 298,113.5 294,111.8 M421,88 416,86.3 408,89.9 403,90.4 M312,85.5 305.7,87 302,92 M421,78.8 416,78.1 410,79.6 405,77.1 402,76.7 M421,65.6 416,63.1 410,65.2 405.5,61 401,60.9 M318,61.7 315,59.6 311.8,55 309.2,53 M421,54.7 413,55.6 401.6,49 397.3,44 395,42 393,41.2 392,42 395.3,46 394,47.6 391,48.3 389,47.9 385,45 383,44.3 377,45.8 375,45.6 368.3,41 365,39.7 361,39.5 355,40.8 M320.6,46 318.8,44 317,43.2 310,42.5 M421,44.6 414,45 405.4,40 403.6,38 402.9,34 398,30.7 395,27.4 388,28.7 381,31.5 372,33.9 363.7,33 358,31.1 355,31.2 M322,31.8 312,31.6 308,33 305,33.1 M48,171.8 45,174.2 39.5,176 35.1,188 M322,21.7 317,23.2 311,22.1 302,21.8 300,22.3 M51.8,127 50.2,130 47.5,133 45.7,138 39.6,144 39.9,145 45,148 46.6,150 46,155.6 42.8,163 41,164.1 36,163.6 34.6,164 31,167.1 22.8,172 18.9,179 17,179.9 13,180 10,181.1 2.5,188 M421,19 414,17.6 410,20.6 408,20.9 404.2,16 396,10.9 393,11.8 388,15 382,16.5 378,19.6 371,19.5 369.6,18 369,14 366.7,11 365,6.4 361.4,3 360,-1.3 M324.4,1 318.6,5 317.6,9 316,9.6 312,8.7 310.7,7 310,3.9 306,5.8 304,5.4 300,0.1 292,3.7 M49,98.6 46,100.2 41.4,108 40.9,118 42.7,123 41.9,124 35,127.6 29,133.5 23,135.7 18,134.8 16,135.5 15.2,138 16.1,142 16.6,151 15.9,153 11.8,157 12,159 14.5,164 14.4,165 4,170 -1,175.2 M421,8.8 418,8.6 416,7.7 413,-0.6 412,-0.8 408,3 405,3.6 399,-1.4 397,-1.6 393,1.7 388.7,4 380,6.2 377,4.6 374.9,-1 M46,82.4 42,86.8 37.5,89 33,92.6 31,92.8 28,90.8 26.8,91 25.9,92 25.9,93 27,93.9 31,94.1 31.4,95 32.3,105 30.7,111 31.1,117 30.8,119 25.3,126 23,127.2 16,128.3 13,129.4 11,131.2 8,136.8 6,137.8 2.7,137 -1,132.7 M45,74.1 39,74.2 34,72.7 24,71 19,71.4 16.3,73 12.5,80 9.3,83 6,87.6 2,90.1 1.5,92 2.2,99 4,100.6 7,100.4 8.8,101 12,104.1 17,102.6 20,103.7 22.5,107 22.6,111 21.7,113 20,114.8 14,117.1 9,122 -1,126.2 M43,64.6 37,65.6 29,64.6 23,66.3 13,67.1 10,68.5 -1,76.4 M-1,107 4.3,110 5.9,113 5.3,115 -1,121.1 M35.4,44 34.1,48 31.4,53 30,54.1 25,55.4 23.5,59 22,60.4 18.3,61 15,59 13,58.7 5,62.1 -1,63.8 M26.2,39 24,42.2 19.8,44 16.8,49 15,50.7 12,51.8 4,52.3 -1,55.5 M-1,31.8 1,33.7 1.6,36 1,38.3 -1,40.1" fill="none" stroke="#00DC00" stroke-width="1.6" stroke-linejoin="round" stroke-linecap="round"/><path d="M336.6,81.5 C336.2,83 333.7,87.3 334.1,90.5 C334.5,93.7 338.8,96.9 339.2,100.8 C339.6,104.6 337.5,109.3 336.6,113.6 C335.8,117.9 334.5,124.3 334.1,126.4 M366.2,68.7 C367.2,71.9 370.7,82.6 372.6,87.9 C374.5,93.3 376.4,96.5 377.7,100.8 C379,105 379.4,109.7 380.3,113.6 C381.1,117.4 382.4,122.1 382.8,123.9 M350.8,34 C352.3,33.4 356.1,30.4 359.7,30.2 C363.4,30 368.3,31.7 372.6,32.7 C376.9,33.8 381.1,34.2 385.4,36.6 C389.7,38.9 392.7,43.4 398.2,46.9 C403.8,50.3 415.4,55.4 418.8,57.1 M349.5,30.2 C349.9,31.9 352,36.8 352,40.4 C352,44.1 349.1,47.9 349.5,52 C349.9,56.1 352,62.3 354.6,64.8 C357.2,67.4 362.7,65.7 364.9,67.4 C367,69.1 367,73.8 367.4,75.1" fill="none" stroke="#00DC00" stroke-width="1.6" stroke-linejoin="round" stroke-linecap="round"/><path d="M35.2,51.9 C37,51.4 42.3,48.2 46.2,48.8 C50.2,49.3 55.5,52.2 58.9,55.1 C62.3,58 64.5,65.1 66.8,66.2 C69.2,67.2 69.7,62.2 73.2,61.4 C76.6,60.6 83.5,61.2 87.4,61.4 C91.4,61.7 93.2,63.8 96.9,63 C100.6,62.2 106.4,59.1 109.6,56.7 C112.7,54.3 113.3,50.9 115.9,48.8 C118.5,46.7 121.7,43.2 125.4,44 C129.1,44.8 134.1,50.9 138.1,53.5 C142,56.2 144.7,58 149.2,59.8 C153.6,61.7 161,62.7 165,64.6 C168.9,66.4 168.2,69.6 172.9,70.9 C177.7,72.2 186.7,71.7 193.5,72.5 C200.3,73.3 210.4,75.1 213.8,75.7 M55.7,118.4 C57.3,117.9 61.6,115 65.2,115.3 C68.9,115.5 74.5,120.3 77.9,120 C81.3,119.7 80.5,115 85.8,113.7 C91.1,112.4 100.3,112.4 109.6,112.1 C118.8,111.8 132,112.9 141.2,112.1 C150.5,111.3 157.1,108.9 165,107.3 C172.9,105.8 180.6,102.9 188.7,102.6 C196.9,102.3 209.6,105.2 213.8,105.8 M202.8,107.4 C205.4,107.7 213.3,107.7 218.6,109 C223.9,110.3 229.1,113.5 234.4,115.3 C239.7,117.2 245,119 250.3,120.1 C255.5,121.1 259.8,121.9 266.1,121.6 C272.4,121.4 283,117.9 288.3,118.5 C293.6,119 293.6,121.6 297.8,124.8 C302,128 309.4,134.6 313.6,137.5 C317.8,140.4 319.2,140.1 323.1,142.2 C327.1,144.3 332.4,147.8 337.4,150.2 C342.4,152.5 347.9,155.4 353.2,156.5 C358.5,157.5 363.8,157.8 369.1,156.5 C374.3,155.2 379.6,150.7 384.9,148.6 C390.2,146.5 394.4,145.1 400.7,143.8 C407,142.5 419.1,141.2 422.8,140.6 M70,188.1 C72.6,184.9 79.2,175.4 85.8,169.1 C92.4,162.8 101.7,154.8 109.6,150.1 C117.5,145.3 125.4,142.7 133.3,140.6 C141.2,138.5 149.2,138.7 157.1,137.4 C165,136.1 171.4,132.9 180.8,132.7 C190.3,132.4 208.3,135.3 213.8,135.8 M152.8,147.9 C156.6,147.6 168,145.6 175.7,145.6 C183.3,145.6 191,147.2 198.6,147.9 C206.2,148.7 213.9,150.6 221.5,150.2 C229.2,149.9 236.4,146.8 244.4,145.6 C252.5,144.5 262,143 269.6,143.4 C277.3,143.7 283,145.3 290.3,147.9 C297.5,150.6 305.6,154.4 313.2,159.4 C320.8,164.4 328.5,171.2 336.1,177.7 C343.8,184.2 353.3,191.1 359,198.4 C364.8,205.6 367.4,215.2 370.5,221.3 C373.5,227.4 373.5,231.2 377.4,235 C381.2,238.9 386.2,244.6 393.4,244.2 C400.7,243.8 416.3,234.7 420.9,232.7 M152.8,170.9 C156.6,169.3 168,164.4 175.7,161.7 C183.3,159 191,156 198.6,154.8 C206.2,153.7 211.6,154.8 221.5,154.8 C231.4,154.8 248.3,152.1 258.2,154.8 C268.1,157.5 273.8,165.9 281.1,170.9 C288.4,175.8 294.5,180 301.7,184.6 C309,189.2 317.8,193 324.7,198.4 C331.5,203.7 338.4,209.8 343,216.7 C347.6,223.6 351,232.7 352.2,239.6 C353.3,246.5 351.8,253.4 349.9,258 C348,262.5 344.5,264.8 340.7,267.1 C336.9,269.4 329.2,270.9 326.9,271.7 M191.7,377.1 C193.2,369.5 197.4,346.6 200.9,331.3 C204.3,316 208.9,296.9 212.3,285.5 C215.8,274 218.1,269 221.5,262.5 C224.9,256 228.4,245.7 233,246.5 C237.6,247.3 243.3,261.4 249,267.1 C254.7,272.9 262,276.3 267.4,280.9 C272.7,285.5 276.5,290.8 281.1,294.6 C285.7,298.4 289.5,300 294.9,303.8 C300.2,307.6 306.3,313.3 313.2,317.5 C320.1,321.8 328.5,326.7 336.1,329 C343.8,331.3 351.4,330.5 359,331.3 C366.7,332.1 371.6,333.2 382,333.6 C392.3,334 414.4,333.6 420.9,333.6 M8.2,188.1 C7.7,182.8 6.1,167 5.1,156.4 C4,145.9 3,132.7 1.9,124.8 C0.9,116.8 -0.7,111.6 -1.2,108.9 M19.3,188.1 C18.5,182.8 15.9,167 14.6,156.4 C13.3,145.9 12.5,135.3 11.4,124.8 C10.4,114.2 9.3,102.3 8.2,93.1 C7.2,83.9 6.7,75.1 5.1,69.3 C3.5,63.5 -0.2,60.1 -1.2,58.3 M312.3,87.9 C313.8,84.9 319.1,75.3 321.2,70 C323.4,64.6 322.5,59.9 325.1,55.8 C327.7,51.8 333.4,48.1 336.6,45.6 C339.9,43 341.4,41.9 344.3,40.4 C347.3,38.9 351,38.1 354.6,36.6 C358.2,35.1 362.1,33 366.2,31.5 C370.2,30 375.4,29.3 379,27.6 C382.6,25.9 386.3,23.6 388,21.2 C389.7,18.8 389,14.8 389.3,13.5 M145.8,138.9 C140.9,140.3 125.5,143.1 116.4,147.3 C107.3,151.5 98.5,157.8 91.2,164.1 C83.8,170.4 77.5,177.4 72.3,185.1 C67,192.8 62.8,202.3 59.7,210.3 C56.5,218.4 55.5,228.2 53.4,233.4 C51.3,238.7 50.9,238 47.1,241.8 C43.2,245.7 36.2,252 30.3,256.5 C24.3,261.1 14.5,267 11.4,269.1 M154.2,174.6 C152.4,178.1 146.5,188.6 143.7,195.6 C140.9,202.6 138.8,207.9 137.4,216.6 C136,225.4 134.9,239.4 135.3,248.1 C135.6,256.9 139.5,260.4 139.5,269.1 C139.5,277.9 137.7,290.1 135.3,300.6 C132.8,311.1 128.6,319.9 124.8,332.1 C120.9,344.4 114.3,367.1 112.2,374.1" fill="none" stroke="#F83C3C" stroke-width="2" stroke-linejoin="round" stroke-linecap="butt" stroke-dasharray="9,5"/><path d="M45.2,177 45.3,175 44,174.8 43.3,177 44,177.6 45.2,177 M12,189 11.8,186 11,184.6 10,184.4 8.6,186 9,188.8 10,189.8 11,189.9 12,189 M26,52 26.1,54 27.7,58 27.9,62 31,63.5 M0,42.5 3.2,35 3,33.8 2,33.1 0,35.1 M0,74.1 3,74.2 9,76 9.1,73 6.7,68 7.2,66 10,63.5 15.7,61 18.2,59 17.9,58 16,57.4 12,54.4 10,53.7 7,53.7 3,56.5 0,55.3 M18.5,94 21.9,88 17,85.7 16,85 15.8,84 18,82.7 24,83.6 29.8,80 33,77.1 35,76.4 36.6,74 M33.2,68 30.3,74 17,75.8 11.2,78 11.1,80 12.8,85 12.5,92 17,94.4 18.5,94 M0,97.2 3,92 2.7,91 0,90.4 M41.4,99 42.2,98 42.3,96 41.7,94 40,91.7 37,90.6 34.2,92 33.3,94 35,97.5 38,99.3 41.4,99 M5.2,112 6.8,109 6,107.5 5,107.3 2.7,109 2.2,111 4,112.4 5.2,112 M23.3,111 23,109.2 22,108.8 21,109.4 21.3,111 23.3,111 M49.3,111 47,114.8 44.1,117 43.9,118 47,120 52,120.8 M42.9,137 43.8,135 42.6,132 45,130 47,129.4 52,131.6 55,131.6 M53,126.7 49,126.5 40.4,121 38,117.8 36,117.7 35,119.3 35,122 41.8,131 41.9,132 39.9,135 40,136.8 41,137.8 42.9,137 M0,124.4 1.9,121 1.9,120 0,118.8 M20,127 22,126.6 24.3,125 24.7,123 24,121.7 21,120.2 14.3,121 17.9,126 20,127 M18.4,149 19.3,148 19,147 16.1,145 13,144 10.6,145 10.2,147 12,149 15,149.6 18.4,149 M45.8,160 49,156 49.3,153 45,151.2 42,148 41,148.1 39.5,150 41.5,154 41.5,159 43,160.9 45.8,160 M0,155.5 3,156.7 4,155.9 4.5,154 3,151.3 0,150.9 M7.3,165 6.6,163 5,161.9 3.8,162 3.4,163 4,165 6,165.7 7.3,165 M44.1,181 47.6,178 48.7,175 47.2,168 45,166.6 43,167.2 41.5,169 39.1,177 39.8,181 42,181.8 44.1,181 M0,175.2 2.6,171 2,169.8 0,168.6 M9.2,194 15.5,191 15.6,186 18.7,183 16,177.3 14,174.7 12,175.2 4.7,186 4.6,188 7.8,194 9.2,194 M36.4,189 37.6,187 38.5,183 37.6,181 36,180.2 27.3,183 25.4,185 23.7,188 24,189 28,188.7 35,189.5 36.4,189 M36.8,200 39,197 42,194.6 42.2,193 41.2,192 38,192.5 36,194.9 35.2,199 35.7,200 36.8,200 M50.7,202 51,200 50.4,198 49,197.3 46.8,198 46.4,200 47.4,202 49,203 50,202.9 50.7,202 M0,204.9 3,204.9 5,204 5.6,203 5.2,201 4,199.5 2,198.6 0,199.2 M25.1,215 26.7,214 26.7,213 24,211 24.4,206 23,204.3 20,204.4 17.3,207 15.5,214 16,214.8 20,214.4 25.1,215 M14.4,226 16.4,224 17.2,222 16.8,220 15,217.3 9.9,220 9.5,221 13,226.2 14.4,226 M52,226.1 50,226.3 46,225.3 45.1,226 45,227 46.4,229 52,229.3 M43.6,240 45,238 44.8,236 44,234.9 41,233.5 36.6,234 41,240 42,240.5 43.6,240 M8.1,242 7,240.2 6,239.7 6.4,242 8.1,242 M42.5,255 43.9,249 43.6,247 41,243.9 37,244.5 36,245.2 35.2,247 36,250.5 40,255.9 42.5,255 M0,261.6 2.2,261 3.2,258 2.6,255 0.2,252 0,248.8 M47.3,255 46.7,262 M0,285.4 3,283.1 4.5,280 4.1,274 3,273.5 1.5,274 1.1,275 2.1,277 1.7,278 0,279.2 M40.8,297 40,294 37.1,289 36,283 35,280.9 34,280.7 29,282.4 27.7,283 27.2,284 30.5,288 29.7,292 30.3,294 36,300.3 38,300.5 39.5,300 M9.2,308 15,306.2 16.2,305 16.5,301 15,298.6 12,298.5 10.3,300 8.7,304 8.4,307 8.7,308 9.2,308 M27.3,315 27.8,314 27.1,311 26,310.9 25.5,314 27.3,315 M0,330.4 2,330.6 5,333 8,332.5 12,330.9 13,331.1 17,335 20,336.2 21,336.1 22,335 24.2,331 24.7,329 23.3,327 18,324.3 16,324.6 13,326.8 9,325 3,325.6 0,321.5 M30.3,337 31.3,336 31.1,335 30,334.6 28.7,336 29,336.8 30.3,337 M5.5,341 5.6,339 4,336.8 3,336.7 0.9,338 0.5,339 2,340.7 5.5,341 M19,358 22,353.5 25,352.6 26.6,349 26,345 23,342.1 21,342.4 17,345.4 13.4,347 13.3,352 14.4,356 17,358.5 18,358.9 19,358 M2.4,374 6.9,369 7.8,365 7,363.7 4,363.4 2,363.8 0,365.6 M29.9,374 27.9,371 25,369 23,368.6 19.1,371 17.8,374 M0,46.1 4.7,45 5.8,44 5.1,40 7.4,36 7.8,34 M13.7,37 14.5,42 14,43.6 10,45.3 8.2,48 3,52.4 0,52.3 M22,52.4 19,52.7 18.1,51 19,48.9 22,47.3 23,49 22,52.4 M25,71 20,71.4 17.3,70 19.3,65 22,62.2 23,62.1 30.5,67 30,68.9 29,70 25,71 M7,85.5 5,85.3 4,84.3 0.9,79 1,77.8 4,77.5 7,80 7.8,83 7,85.5 M32,89.1 30,88.6 29.5,86 31,83.9 34,82 34.8,83 34.4,87 32,89.1 M31,100.2 27,100.8 26,100 26.4,97 27.9,95 30,95.6 31.2,97 31.7,99 31,100.2 M28,121.1 23,118.3 11,116.2 10.8,114 12.3,109 8.3,102 10,97.7 12,96.8 14,98 16.9,103 16.5,110 18.6,113 21,114.5 23,114.7 26,113.6 27.7,112 30,107.6 32,106.6 33.1,107 33.9,109 30.8,113 30.1,120 28,121.1 M0,101.1 3,99.9 4.4,101 4.4,102 0,106.8 M43,110.4 42,110.3 40.6,109 40.2,108 41,105.4 42,105.6 43,110.4 M0,129.1 3,128 5,128.7 6.1,130 5,131.5 0,132.8 M32,132.1 30.8,131 32,130 33.4,130 34,131 32,132.1 M24,140 21,141 19,140.1 18.1,139 18.6,134 20,132.2 22,132.4 23,133.3 24.6,139 24,140 M0,137.6 2,139 8,139.5 8.9,140 9.2,141 7.3,145 6,146.1 3,145.4 0,141.9 M32,152.1 30,152.5 29,152 28.2,151 28,149 30.9,145 29.3,141 29.7,140 33,138.5 36,141.4 37.2,145 36.4,147 32,152.1 M55,156.6 54,155.9 53.6,154 53.9,151 55,149.5 M14,156.1 12,156.6 10,155.4 9.5,153 10.6,152 20,152.9 22.3,154 22,155.2 17,155.1 14,156.1 M20,170.1 17,170.3 14.9,169 15,166 17,163.5 20,163.6 22.7,165 23.1,166 22.5,168 20,170.1 M25,180.2 23,181 21.2,180 19.9,178 20.1,176 23,175.6 25.5,177 25.9,179 25,180.2 M0,178.7 4,176.4 5.7,177 6.1,178 4.8,181 0,185.6 M46,187 45,187.5 43.2,187 43.6,185 50,178.8 52,178.3 53.1,180 52.7,182 46,187 M56,194.4 54.2,193 53.8,191 54.8,187 56,187 M31,197.2 29,197.2 26.8,195 26.6,193 28,191.3 31,191.2 32.9,193 32.4,196 31,197.2 M17,202.2 15,202.6 11,201.5 9.9,200 10.5,198 13,196.3 16,197 18.1,200 18.1,201 17,202.2 M3,211.2 2,211.3 2,209.7 3,208.9 5,209 3,211.2 M21,246.2 19,246.8 18,245.9 16.6,243 15.7,239 12,235.8 11.3,234 13,232.4 17.8,231 19,227 20.9,224 21.3,220 22,219.3 26,218.3 35.4,214 35.9,213 35.5,210 36,208.8 37,208.7 39,210.7 40,210.9 45,210.2 45.9,211 45.8,213 41.8,217 40.6,222 39.3,224 37,223.8 34.3,221 33,220.5 30,221.3 27.9,223 27.5,225 30,229 30,230.5 29,231.9 25.2,233 21.9,237 23.4,240 23.6,242 23,244 21,246.2 M0,222.1 3,217.9 7,226 6,227 2,228.7 0,230.7 M53,222.1 50.3,221 49.5,220 50,218.9 53,218.6 M35,242.1 33,242 33,240.3 34,239.5 36.3,240 36.4,241 35,242.1 M33,259.1 31,259.5 29,258.5 26.6,254 26.8,251 30,247.7 31,247.5 31.4,248 34.9,255 34.7,257 33,259.1 M0,290.1 5.6,287 8.7,281 8.5,273 7.5,269 9,267.5 13.7,266 13.4,262 14.1,256 13,253 14,251.9 18.6,252 19.6,254 20,259 19,262.5 15.4,267 15.1,272 16.7,279 16,280.6 12,282 12.2,285 9.2,289 10,290.5 14,291.1 15.4,293 15.5,294 13,295 9,293.3 5,292.6 2,292.5 0,293.2 M28,279.2 25,279.6 24,279 23.1,277 23.6,273 22.9,269 23.3,268 26,266.5 28,266.8 29.2,268 28.1,273 29.5,277 29.3,278 28,279.2 M42,287.6 40,287.5 38.9,286 38.4,283 38.8,278 40,276.2 43.4,279 M24,288.6 22,288.1 21.2,287 22,286.1 23,286.4 24,287.2 24,288.6 M26,306.1 23,306 21,305 19.6,301 20.3,298 21,297.5 23,297.8 29,300.5 30.7,302 30.5,304 29.6,305 26,306.1 M0,310.5 3,310.9 4.9,312 7.3,316 11.9,320 11.8,321 10.3,322 5,322.8 3.1,321 2.3,317 0,315.2 M17,314.3 16,314.2 14.9,313 15,311.3 16,310.7 17.3,311 17.8,312 17,314.3 M13,340.1 11.8,340 10,338.2 9.7,337 10.3,336 12,335.6 13,336.3 13.7,339 13,340.1 M0,345.3 2,345.2 4,346 10.2,354 10,355.4 7,355.7 5,352.1 0,350.1 M28,364.3 26,365 24,364.1 23.4,363 24,359.2 26,357.8 28,357.8 28.9,359 29,361.5 28,364.3" fill="none" stroke="#F83C3C" stroke-width="1.5" stroke-linejoin="round" stroke-linecap="round"/><path d="M15.2,110 15.5,109 14,107.4 12,107.3 11.4,108 12,110.1 14,110.7 15.2,110 M5,32.6 2.2,36 0,37.4 M0,82.6 3,85.9 4,85.8 4.6,85 7.6,74 10.3,68 14,64.5 17,63 18.4,61 18.7,59 17,55 20,50.7 21,50.1 22.3,51 21.6,58 23.7,61 27,63.1 29,63.1 31,62.4 M23,47.5 20.5,42 18,39.7 16,39.6 12,42.2 11,42.2 9.6,39 9.4,35 M26.4,98 30.4,94 31.5,90 36,90.5 37,90.2 37.8,89 38,86 35.6,80 36.6,78 38.2,77 M34.5,70 29,72.2 25,72.7 22.1,72 19,69.4 18,69.6 16.7,72 15.4,77 12,80.7 10.9,83 10.8,85 12.6,91 11.8,95 17,97.7 21,96.9 23,99 26.4,98 M0,44.1 6,46.9 10,45.9 11,47 11.3,49 11,51.1 10,51.6 7,51.1 3.7,53 0,54 M0,117.6 7,117.3 9.1,114 14,114 18,113 20,113.4 24.7,118 23.9,122 25,127.1 29,129.2 35,133.9 42.4,132 43.2,131 42.9,127 44,126.4 50.4,127 54.6,129 M46.3,103 45,103.6 43,103.5 38,100.9 36,102.8 35.8,107 37.4,110 44,111.8 45,111.8 48,110 49,111 48,112.4 45,113.1 41,116.8 38,117.7 35.9,117 33.7,115 32.4,110 30.6,107 29,105.7 23.8,104 22.7,103 22,100.2 21,99.6 19,99.5 17.3,102 16,102.8 10,102.9 5,105.8 0,105.4 M0,99.9 3,100.8 6,100.7 8.7,99 10.9,96 10.4,95 5,93.8 0,95.4 M0,138.7 3.1,140 5.1,143 5.8,147 5.1,155 6,157.3 11,159.2 16,162.1 17.8,162 18,161 14.5,155 16.6,150 16.6,148 8.7,140 7.9,138 9,136.4 14,137 16,136.6 17.8,135 17.5,133 11,123.8 5,131.4 3,132.5 0,132.7 M56.4,187 52.9,189 51.6,192 53,194.6 56.6,196 M0,222.3 1,223.1 2,226.6 5,227.3 9.3,225 11.6,220 15,216.6 17,215.8 24,215.7 24.5,214 22.2,210 21.8,207 22.5,205 25,203.3 28,206.5 29,206.9 33,206.3 37.4,209 38.1,211 36,214 35.6,216 36.1,218 37.7,220 40,221.1 42,221.1 47,217.8 48,218.1 49.4,221 50.5,226 52,226.8 M56,201.5 49,202.8 47,201.7 46,199 46.6,190 49.2,186 49.7,184 48.8,176 46,172.7 45.3,169 47.6,162 53,156 53.4,153 51,149.9 48,150.4 44.6,153 43,158.9 41,158.6 40.2,157 41.4,149 40.2,145 37.8,142 34,139 32,138.1 30,138.4 26,142.9 21.6,145 20.3,147 20.6,148 22,148.4 26,146.9 27,147 35.7,154 36.8,156 37,158 35,163.6 33,164.5 25,162 20,163.8 19.6,165 21.2,167 25,167 27,167.8 31.2,175 31.4,177 29.9,181 29.6,186 27.2,190 24,191.1 21.7,193 21.5,195 23.1,200 22.7,201 20,203.5 18,204.3 14,204.9 10,204.3 9.1,206 9,210 5.2,217 3,218 0,217.3 M0,166.8 6,171.9 9,171 10,170 10.5,168 8.8,164 7,161.6 0,159 M56,168 54.6,169 53.7,171 54,172.2 56,173.4 M42,179.2 39.8,179 39.5,177 41,175.8 43,175.7 44,177 42,179.2 M19.3,183 22,180 22,179 21,177.9 17.8,178 15.5,181 16,183.2 17,183.5 19.3,183 M0,192.7 3,191.1 7,192 6.9,198 8,199.6 9,200.1 10,199.7 11.8,197 12.3,195 12,193.2 9.8,191 12.4,185 11.8,183 10,181.7 3.3,179 0,178.9 M26,203.2 25,202.9 23.6,201 24.6,200 27,199.6 28,198.8 28,192.2 29,191.2 37,190.6 40.9,194 41.6,196 41.3,197 39,199 32,201.8 26,203.2 M0,264.4 5,267.8 7,267.8 8.7,266 9.5,260 12.4,251 10.9,240 14,237.2 20,235.9 17.6,240 17.5,243 19,244.7 24.5,246 25,247 24.4,251 29,252.9 31,252.8 35,250.3 36.3,248 35,245.6 28,243.8 26.2,240 26.2,238 28.1,235 31,232.6 34.1,232 34.8,231 34.4,230 26.3,226 21,224.7 10,231 4,232.5 2,234.2 1,237 4.2,242 4.2,243 0,252.3 M45,269.2 41.7,271 36.5,276 36.5,282 33.3,286 33.2,287 34.5,291 34.8,294 34.3,295 33,295.6 24,294.9 22.2,294 16.4,286 16.1,284 16.9,280 14.4,273 12,271.9 9,271.6 6.8,273 5.1,276 5.4,277 9,278 11.1,281 11.5,285 9.1,291 9.5,292 13,294.9 16.7,300 16.3,307 17,308.8 19,309.8 22,308.8 23,308 23.4,304 24.3,303 26,302.7 27.4,304 27.3,306 24.4,309 24,312 19.5,315 18.7,317 19.9,319 26.7,324 28.4,328 30,335.8 32,336.1 35,334.7 M35.5,329 33.4,320 35,318.2 37,318.6 M37.5,239 37.1,237 36,236.9 35.2,239 36,239.8 37.5,239 M36.8,263 43,260.9 43.6,260 43.4,255 44.4,251 45.8,249 49.2,246 M49.5,242 49,241 48,240.8 42.9,247 41.9,249 41.9,254 41,255 35.9,258 32.7,261 32.9,263 34,263.9 36.8,263 M22.6,258 23.7,252 23,251.2 20,251.5 17.6,253 16.4,255 17.2,257 20,258.7 22,258.7 22.6,258 M0,273.4 1.2,270 1,268.7 0,267.7 M27,279 28,278.8 29,277.2 30,274 26,272.6 22,269.7 19.5,270 18.6,271 18.9,272 24.1,277 27,279 M31,287 31.8,286 31.3,285 29,283.1 28,283.5 27.3,287 29,287.8 31,287 M0,304.5 2,304.1 2.4,303 0.8,297 3.7,290 2.8,288 0,286.1 M39,303.4 37.9,302 37.7,299 38,297.9 40,296.8 M38,312.8 35,312.6 32.5,308 33,306.8 35,306.2 36,306.5 38.5,309 M0,346.9 2.3,349 3.8,356 5,356.5 6.3,350 8,348.8 13,348 12.4,344 13.8,339 13.8,336 14,335.2 16,334 13,332 11,333.4 10,333.3 2,331.6 0,330.6 M28.2,340 29.2,337 25.5,331 23,330.9 18.5,334 18.2,335 25,340.5 27,340.9 28.2,340 M33,345.2 31,344.5 29,344.6 25,348.4 20,348.5 18.6,349 18,350 19,352.8 21,354 22.8,357 28.6,360 29,361 27.5,364 27.3,366 28,367.4 30,368.4 M11.8,365 14.4,362 18,359.9 19.9,358 20.3,356 19,354.5 16,354.8 7.6,360 6.9,362 7.8,364 10,365.5 11.8,365 M13,374 14,371 17.4,369 17,367.8 15,366.8 13,367.1 12.2,368 10.7,374 M28.6,374 28,372.9 22,371.9 21,372.1 20.5,374 M11,307.5 9,307.2 7.8,305 7.5,301 9,299 11,299.3 12.7,302 12.6,305 11,307.5" fill="none" stroke="#000" stroke-width="1" stroke-linejoin="round" stroke-linecap="round"/><path d="M116.4,172.5 C114.3,174.6 106.9,180.2 103.8,185.1 C100.6,190 98.2,194.9 97.5,201.9 C96.8,208.9 99.2,217.7 99.6,227.1 C99.9,236.6 98.2,248.1 99.6,258.6 C101,269.1 106.9,279.6 108,290.1 C109,300.6 104.5,311.1 105.9,321.6 C107.3,332.1 113.2,344.4 116.4,353.1 C119.5,361.9 123.4,370.6 124.8,374.1 M36.6,258.6 C39,260.4 48.5,262.1 51.3,269.1 C54.1,276.1 50.9,290.8 53.4,300.6 C55.8,310.4 62.1,322 66,327.9 C69.8,333.9 74.7,334.9 76.5,336.3" fill="none" stroke="#000" stroke-width="1.3" stroke-linejoin="round" stroke-linecap="round"/><path d="M1.9,45.6 C3,48.2 7.5,56.2 8.2,61.4 C9,66.7 5.9,72 6.7,77.3 C7.5,82.5 12.5,87.8 13,93.1 C13.5,98.4 9.3,103.6 9.8,108.9 C10.4,114.2 15.6,119.5 16.2,124.8 C16.7,130 12.2,135.3 13,140.6 C13.8,145.9 20.1,151.1 20.9,156.4 C21.7,161.7 17.2,167 17.7,172.3 C18.3,177.5 23,185.4 24.1,188.1 M17.7,53.5 C19.3,56.2 26.2,64.1 27.2,69.3 C28.3,74.6 23,79.9 24.1,85.2 C25.1,90.5 32.5,95.7 33.6,101 C34.6,106.3 29.4,111.6 30.4,116.8 C31.5,122.1 38.9,127.4 39.9,132.7 C41,138 35.7,143.2 36.7,148.5 C37.8,153.8 45.2,157.7 46.2,164.3 C47.3,170.9 43.6,184.1 43.1,188.1 M30.4,85.2 C32,87.8 38.9,95.7 39.9,101 C41,106.3 35.7,111.6 36.7,116.8 C37.8,122.1 44.7,130 46.2,132.7" fill="none" stroke="#F83C3C" stroke-width="1.6" stroke-linejoin="round" stroke-linecap="round"/><path d="M317.8,271.7 C319.3,271 322.7,268.3 326.9,267.6 C331.1,266.9 338.4,266.8 343,267.6 C347.6,268.3 351.8,270 354.4,272.2 C357.1,274.4 359.8,278.6 359,280.9 C358.3,283.2 353.7,285.1 349.9,285.9 C346,286.8 340.7,286.3 336.1,285.9 C331.5,285.5 325.4,286 322.4,283.6 C319.3,281.3 318.5,273.7 317.8,271.7 M262.8,198.4 C265.8,198.4 275,196.5 281.1,198.4 C287.2,200.3 294.1,206.4 299.4,209.8 C304.8,213.3 307.1,217.1 313.2,219 C319.3,220.9 329.6,219.4 336.1,221.3 C342.6,223.2 347.6,225.9 352.2,230.5 C356.7,235 360.2,242.7 363.6,248.8 C367.1,254.9 369.7,261 372.8,267.1 C375.8,273.2 380.4,280.1 382,285.5 C383.5,290.8 383.9,295.4 382,299.2 C380,303 376.2,306 370.5,308.4 C364.8,310.8 355.2,313 347.6,313.4 C339.9,313.9 332.3,313.4 324.7,311.1 C317,308.8 308.2,303.9 301.7,299.7 C295.2,295.5 289.9,291.3 285.7,285.9 C281.5,280.6 279.6,274.5 276.5,267.6 C273.5,260.7 270.4,251.5 267.4,244.7 C264.3,237.8 260.1,232.1 258.2,226.3 C256.3,220.6 255.1,214.9 255.9,210.3 C256.7,205.6 261.6,200.4 262.8,198.4 M239.8,193.8 C241.8,191.9 246.7,184.6 251.3,182.3 C255.9,180 260.9,180 267.4,180 C273.8,180 282.6,180.8 290.3,182.3 C297.9,183.8 303.6,190 313.2,189.2 C322.7,188.4 338,180.8 347.6,177.7 C357.1,174.7 362.9,168.2 370.5,170.9 C378.1,173.5 386.9,182.3 393.4,193.8 C399.9,205.2 405.6,224.3 409.5,239.6 C413.3,254.9 417.1,274 416.3,285.5 C415.6,296.9 410.6,302.7 404.9,308.4 C399.1,314.1 389.6,316.8 382,319.8 C374.3,322.9 366.7,326 359,326.7 C351.4,327.5 343.8,325.5 336.1,324.4 C328.5,323.4 320.1,322.1 313.2,320.3 C306.3,318.5 301,317.2 294.9,313.4 C288.7,309.6 281.9,303.5 276.5,297.4 C271.2,291.3 267,284.4 262.8,276.8 C258.6,269.1 254.7,259.6 251.3,251.5 C247.9,243.5 244.4,235.9 242.1,228.6 C239.8,221.4 237.9,213.8 237.6,208 C237.2,202.2 239.5,196.1 239.8,193.8 M210.1,377.1 C211.2,369.5 215,346.6 216.9,331.3 C218.8,316 221.1,300.7 221.5,285.5 C221.9,270.2 219.2,253 219.2,239.6 C219.2,226.3 219.6,214.8 221.5,205.2 C223.4,195.7 226.9,188.1 230.7,182.3 C234.5,176.6 239.8,174.7 244.4,170.9 C249,167 252.5,163.2 258.2,159.4 C263.9,155.6 271.6,152.5 278.8,147.9 C286.1,143.4 295.2,137.2 301.7,131.9 C308.2,126.5 313.6,120.8 317.8,115.9 C322,110.9 325.4,104.4 326.9,102.1 M175.7,377.1 C176.8,369.5 178.7,337 182.5,331.3 C186.4,325.6 188.3,338.9 198.6,342.8 C208.9,346.6 229.2,353.8 244.4,354.2 C259.7,354.6 276.9,346.6 290.3,345.1 C303.6,343.5 313.2,344.3 324.7,345.1 C336.1,345.8 347.6,348.1 359,349.6 C370.5,351.2 383.1,352.7 393.4,354.2 C403.7,355.8 416.3,358 420.9,358.8 M1.9,31.3 C5.3,29.8 16.4,22.1 22.5,21.8 C28.6,21.6 33.1,27.9 38.3,29.8 C43.6,31.6 48.9,32.1 54.2,32.9 C59.4,33.7 65.2,33.5 70,34.5 C74.7,35.6 78.7,39.5 82.7,39.3 C86.6,39 88.7,34.2 93.7,32.9 C98.8,31.6 106.9,31.6 112.7,31.3 C118.5,31.1 123.8,30.3 128.6,31.3 C133.3,32.4 137,34.5 141.2,37.7 C145.5,40.8 149.9,47.7 153.9,50.3 C157.9,53 161.8,52.7 165,53.5 C168.2,54.3 168.9,53.8 172.9,55.1 C176.9,56.4 181.9,60.9 188.7,61.4 C195.5,62 209.6,58.8 213.8,58.3 M-1.2,74.1 C1.4,74.1 8,72.8 14.6,74.1 C21.2,75.4 31.7,79.9 38.3,82 C44.9,84.1 48.9,84.9 54.2,86.8 C59.4,88.6 63.9,91.5 70,93.1 C76.1,94.7 84,95.5 90.6,96.3 C97.2,97.1 104.8,97.1 109.6,97.8 C114.3,98.6 116.4,99.2 119.1,101 C121.7,102.9 121.7,106.5 125.4,108.9 C129.1,111.3 136,114.7 141.2,115.3 C146.5,115.8 151.8,112.9 157.1,112.1 C162.3,111.3 167.6,110.2 172.9,110.5 C178.2,110.8 181.9,112.6 188.7,113.7 C195.5,114.7 209.6,116.3 213.8,116.8 M326.3,56.7 C326,58.8 324.7,64.6 324.7,69.4 C324.7,74.1 325.5,79.9 326.3,85.2 C327.1,90.5 327.6,95.8 329.5,101.1 C331.3,106.3 334.7,111.6 337.4,116.9 C340,122.2 342.7,127.4 345.3,132.7 C347.9,138 350.6,143.3 353.2,148.6 C355.9,153.8 358.5,159.1 361.1,164.4 C363.8,169.7 366.9,176.3 369.1,180.2 C371.2,184.2 373,186.8 373.8,188.2 M342.1,21.9 C341.3,24.5 339,32.4 337.4,37.7 C335.8,43 333.4,50.9 332.6,53.5 M161.9,331.3 C164.2,332.8 171.1,338.8 175.7,340.5 C180.3,342.2 187.1,341.4 189.4,341.6 M-1.2,169.1 C1.4,169.4 9.3,171.5 14.6,170.7 C19.9,169.9 25.1,166.7 30.4,164.3 C35.7,162 42.3,160.4 46.2,156.4 C50.2,152.5 53.4,145.9 54.2,140.6 C55,135.3 49.7,130 51,124.8 C52.3,119.5 58.9,114.2 62.1,108.9 C65.2,103.6 68.7,95.7 70,93.1" fill="none" stroke="#000" stroke-width="1.3" stroke-linejoin="round" stroke-linecap="round"/><path d="M312.8,1.9 L294.5,6.8 M329.1,0.5 L310.6,5 M344.6,3 L326,6.6 M357.8,1.5 L339.1,4.7 M373.6,2.6 L354.9,6 M387.6,1.1 L369,5 M404.1,2.4 L385.5,6.6 M419.1,0.9 L400.7,5.4 M313.8,17.2 L295.6,22.8 M327.6,15.7 L309.3,20.6 M344.1,17.2 L325.5,20.9 M356.9,16.6 L338.2,19.5 M372.5,17.6 L353.8,20.9 M388.5,17.1 L369.9,21 M402.8,16.6 L384.3,20.7 M418.3,17.1 L399.7,21.3 M312.7,31.4 L294.8,37.6 M327.8,32.5 L309.7,38.2 M342.8,32.8 L324.4,37.5 M357.8,31.8 L339.2,35.6 M373.9,32.1 L355.3,36.1 M389.6,33 L371,37.3 M402.6,31.4 L384.1,35.5 M418.7,32.8 L400.2,36.9 M314.3,46.2 L296.5,52.8 M328.5,45.5 L310.6,51.9 M342,46.9 L324,52.9 M356.8,47 L338.6,52.5 M372.6,45.1 L354.3,50.2 M387.1,46.6 L368.8,51.6 M402.7,45.7 L384.2,50.1 M417.7,47.6 L399.2,52.2 M311.9,60.8 L294.5,68.6 M329.1,60.1 L311.7,67.6 M342.7,59.1 L325.1,66.3 M357.9,59.7 L340.2,66.5 M373.1,59.6 L355.2,66 M387.3,62 L369.4,68.2 M402.5,62 L384.5,67.8 M418.6,60 L400.4,65.6 M312.8,73.9 L296.4,83.4 M326.4,74.6 L309.8,83.8 M343.2,75.8 L326.2,84.4 M356.7,74.7 L339.5,82.8 M373.3,74 L355.9,81.6 M386.3,76.5 L368.8,83.9 M402.4,76.6 L384.7,83.5 M418.8,76.2 L401.1,83 M310.4,89 L295.3,100.6 M325.7,88 L310,98.7 M341.4,90.4 L325,100 M356.9,88.9 L340.1,97.6 M372,89.5 L355,98 M387.7,90.4 L370.5,98.4 M402.4,90.9 L384.9,98.3 M418.3,90.3 L400.8,97.6 M295.7,101.4 L281.9,114.5 M312.2,103.8 L298.1,116.6 M325.6,101.8 L310.9,113.8 M342.1,104 L326.4,114.7 M357.7,103.5 L341.3,113.1 M373.4,103 L356.8,112.4 M386.7,105.8 L370,114.9 M401.7,104.2 L384.5,112.2 M418.3,104.3 L401,112.3 M251.1,115.2 L239.7,130.4 M265.1,116 L254.7,131.9 M279.5,117.1 L268.8,132.8 M294.6,117.2 L283.2,132.5 M308.9,116.3 L296.8,130.9 M326.3,115.9 L313.9,130.3 M341.6,117.6 L328.6,131.5 M355.7,118.3 L341.7,131.2 M371,117.5 L356.2,129.4 M387.2,118.5 L371.7,129.5 M401.2,118.6 L385.1,128.6 M417.1,118.5 L400.7,128.1 M207.4,136.6 L188.8,140.6 M223,135.6 L206.3,144.6 M235.8,133.4 L221.6,146 M248.4,130.8 L236.6,145.7 M263.8,131.6 L254.1,148 M278.5,129.6 L271.5,147.3 M287.7,130.4 L287.9,149.4 M302.5,130.4 L306.8,148.9 M316.9,130.9 L319,149.8 M336.2,130.1 L333.5,148.9 M351.5,129.6 L345.7,147.7 M369.4,131 L359.9,147.4 M383.7,132.9 L371.4,147.4 M401.2,132.2 L386.6,144.4 M417.6,131.8 L402.3,143.2 M208.1,152.9 L189.1,152.6 M224.4,151.6 L206.2,157 M236.7,147.6 L221,158.4 M249.2,146 L236.7,160.3 M262.9,145.7 L256.8,163.7 M270.1,146.5 L277.8,163.9 M282,148.1 L298.4,157.7 M296.3,149.7 L313.6,157.7 M312.6,148.3 L327.1,160.6 M327.2,145.3 L338.1,160.9 M345.9,144.5 L354.8,161.2 M362.9,145 L365.5,163.8 M385.3,145.1 L375.4,161.3 M401.2,146.5 L387.6,159.8 M415.6,148.7 L401.5,161.4 M206.1,172.1 L189.3,163.3 M222.7,169.8 L204.1,165.6 M238,170.1 L219,169.9 M250.9,162.6 L235.2,173.2 M257.5,159.6 L259.9,178.4 M266.5,164.6 L283.4,173.4 M281,165.4 L299.4,170.3 M293.4,167.9 L311.8,172.4 M310.8,164.2 L327.8,172.5 M327.2,162 L342.5,173.2 M341.2,163.1 L356.2,174.7 M357.7,161.1 L368.4,176.8 M380.1,160.4 L377.1,179.2 M399.2,161.9 L388.9,177.9 M414.1,160.3 L401.7,174.7 M204.3,191.9 L194.3,175.7 M218.6,193 L208.5,176.9 M235.2,192.1 L224.8,176.2 M247.2,194 L242.4,175.6 M252.4,190.4 L267.5,178.9 M263.9,184.6 L282.9,182.9 M280.5,184.2 L299.5,184.9 M295.3,183.5 L314.1,186.1 M310.3,180.7 L328.3,186.6 M326.4,180.6 L343.1,189.5 M342,178.2 L357.2,189.7 M357.8,175.3 L368.8,190.7 M379.3,174.1 L379.9,193.1 M395.8,175.8 L391.6,194.3 M412.2,175.2 L405.1,192.8 M202.1,207.7 L197.6,189.2 M216.5,207.5 L212.3,189 M229.2,208.8 L226.6,190 M242.9,209.5 L243.7,190.5 M254.9,209.2 L262.2,191.7 M266.3,204.4 L281.1,192.5 M280.1,203.9 L297.7,196.7 M293.7,200.1 L312.5,197.5 M309.4,198.2 L328.3,200 M325.6,196.3 L343.5,202.8 M341.1,193.5 L356.7,204.4 M360.1,191.7 L370.4,207.6 M377.8,188.5 L381.2,207.2 M394.3,190.6 L393.6,209.6 M411,189.6 L407.3,208.2 M199.6,224.1 L198.6,205.2 M215.6,224.6 L215.1,205.6 M230,223.9 L230.6,204.9 M241.7,222.5 L243.8,203.6 M256.9,221.8 L263.3,203.9 M268,222.2 L278.5,206.3 M280.8,221.6 L295.3,209.3 M293.8,218.1 L311.2,210.5 M310.9,213.1 L329.9,212 M323.9,211.2 L342.6,214.8 M339.5,210.9 L356.3,219.7 M358.8,206.4 L370.8,221.2 M376.7,204 L382.7,222 M394.9,204.6 L395.9,223.6 M409.5,205 L407.8,223.9 M197.5,238.7 L198.1,219.7 M213.7,237.9 L214.5,219 M229.1,238.1 L231,219.2 M242.5,237.3 L245.4,218.5 M257.7,238.7 L263,220.4 M269,238.9 L277.3,221.8 M282.8,235.2 L295.7,221.3 M295.2,235.5 L311.1,225.1 M308.9,232.7 L327.3,227.7 M325.8,227.1 L344.6,230 M340.7,225.3 L357.6,234 M357.7,223.4 L370.7,237.3 M374.2,219.5 L382.3,236.6 M391.7,220 L394.9,238.7 M409.4,220.8 L408.8,239.8 M198.7,253.4 L199.5,234.4 M214.6,252.7 L216,233.7 M226.7,252.8 L229,234 M242.3,254.1 L245,235.3 M257.8,253.2 L261.6,234.6 M270.5,253 L276.8,235.1 M284.2,251.9 L294.5,236 M297.9,249.8 L312.3,237.4 M309.4,248.2 L326.9,240.8 M325.1,242.7 L343.9,245.1 M339.4,238.4 L355.9,247.8 M357.8,236.8 L369.6,251.8 M376.6,234.3 L383.7,251.9 M391.2,233.2 L394.5,251.9 M409.4,233.9 L409.3,252.9 M182.1,267.8 L184.5,249 M198.3,269.6 L198.2,250.6 M212.9,269.4 L213.1,250.4 M228.8,269.2 L229.9,250.2 M242.5,267.8 L243.8,248.8 M259.3,268.1 L261,249.2 M272,269.4 L275,250.6 M286.7,267.4 L293,249.4 M299.5,267.2 L309.3,250.9 M310.4,263.3 L325.9,252.4 M325.2,258.1 L343.8,261.8 M341.6,251.3 L355.3,264.4 M361.3,249.1 L369.2,266.3 M375.5,248.8 L380.3,267.2 M394.7,248.1 L395.9,267.1 M409.6,249.6 L408.3,268.5 M185.7,284.2 L184.9,265.2 M198.9,283.2 L197.2,264.3 M215.9,284.9 L213.9,266 M228.6,284.5 L227,265.5 M244.4,282.3 L243.1,263.3 M260.7,283.1 L259.4,264.1 M274.8,284.2 L273.9,265.2 M288.2,282.9 L288.5,263.9 M304.8,284.2 L306,265.3 M315.8,284.2 L319.4,265.6 M330.1,267.3 L340.2,283.4 M347.3,264.3 L350.8,283 M363.4,265.5 L363.4,284.5 M378.8,264 L378,283 M396.3,265.7 L393,284.4 M411.7,264 L406.8,282.4 M186.4,298.1 L183.5,279.3 M200.8,299.4 L196.9,280.8 M216.1,297.7 L212.4,279 M230.4,299.4 L226.9,280.7 M246.3,297.3 L242.9,278.6 M261.7,297.6 L257.5,279.1 M275.3,298.9 L270.1,280.6 M291.2,297.3 L285.5,279.2 M307.3,296.5 L300,279 M324.8,295.5 L312.4,281.1 M343.3,286.2 L324.9,291.1 M353.9,282.4 L342,297.3 M368.8,281.5 L360.3,298.4 M382.2,281.6 L374.2,298.9 M399.4,280.6 L390.6,297.4 M414.5,280.3 L403.3,295.7 M169,314.7 L166.3,295.9 M185.7,313.4 L181.9,294.8 M202.3,314.4 L196.9,296.2 M216.9,314.5 L211.1,296.4 M232.4,311.7 L227.8,293.3 M246.8,313.5 L241.7,295.2 M262.9,313 L255.9,295.4 M279.8,313.2 L270.7,296.5 M295.2,312.8 L284.1,297.4 M309.4,310.3 L296.4,296.5 M326.6,307.5 L309.8,298.7 M343,304.9 L324,305.4 M357.6,300.2 L340.8,309.1 M369.9,299.4 L355.2,311.4 M384.3,298.1 L371,311.7 M399.9,297.7 L385.5,310.1 M417.6,299 L400.2,306.6 M156.5,327.4 L153.2,308.7 M170.4,327.7 L167.7,308.9 M185.1,329.6 L180.7,311.1 M202.2,328.3 L195,310.7 M219,327.8 L211.1,310.5 M234.1,328.7 L226.2,311.5 M248.8,328.5 L240.4,311.5 M263.5,327.4 L253.7,311.2 M281.3,326.1 L269.4,311.2 M294.9,326.2 L281.4,312.9 M310.4,325.3 L294.7,314.4 M326.5,322.5 L308.7,315.8 M342.2,320 L323.2,318.9 M357.5,317.2 L339,321.6 M373.8,315.3 L356.6,323.4 M386.4,315.7 L369.2,323.8 M403.9,316 L385.7,321.4 M417.4,320.3 L398.4,319.1 M155.7,344.4 L149.9,326.3 M171.5,344.1 L166.1,325.9 M187.7,341.9 L180.4,324.3 M203.5,341.8 L193.3,325.8 M219.6,340.8 L208.9,325.1 M233.9,342.1 L223.1,326.5 M248.3,340.9 L237.3,325.4 M264.2,342.4 L251.8,328 M281.9,340.7 L268.1,327.7 M297.1,340.5 L281.8,329.2 M313.2,338.6 L296.4,329.7 M328.6,337.9 L310.5,332.3 M342.1,333.9 L323.2,331.8 M357.1,332.8 L338.2,334.1 M372.8,331 L354.1,334.4 M388.1,331.2 L369.4,334.4 M403.3,333.3 L384.3,333.7 M418.6,336.2 L400.1,331.9 M158,356.8 L149.7,339.7 M172.3,357.7 L163.1,341.1 M189.8,357.5 L177.6,342.9 M207.4,356.4 L193.6,343.4 M220.6,354.5 L207.5,340.8 M236.5,355.4 L223.8,341.3 M250.1,355.6 L237.2,341.7 M267.4,356.6 L253.5,343.5 M281,355 L266.2,343.1 M296.9,352.9 L280.9,342.6 M311,353.8 L294.1,345.1 M327.6,352.2 L309.7,345.8 M344.5,349.5 L325.8,345.8 M357,350.7 L338.2,348.2 M374.2,350.8 L355.3,349.3 M388.7,349.7 L369.8,348 M403.1,351.4 L384.4,347.7 M417.7,352.7 L399.6,346.8 M160.6,371.6 L149.9,355.8 M175.6,372.5 L163.5,357.8 M190.8,371.3 L176.9,358.3 M206.4,369.7 L191.5,357.9 M220.4,370.9 L205.9,358.5 M236.4,369.3 L222.8,356.1 M252,371.6 L238.3,358.4 M267,369 L252.8,356.3 M281.7,371 L266.4,359.7 M296.8,368.6 L280.5,358.9 M311.5,367 L294.4,358.6 M328.6,366.7 L310.9,359.7 M342.8,367.1 L324.8,361.2 M357.9,365.9 L339.5,361 M371.8,365 L353.3,360.7 M388.1,366.3 L369.7,361.4 M402.5,365.5 L384.4,359.7 M419.2,368.2 L401.7,360.8" stroke="#000" stroke-width="1" fill="none"/><path d="M294.5,6.8 L297.1,4.3 L298,7.7 Z M310.6,5 L313.3,2.5 L314.1,6 Z M326,6.6 L328.8,4.2 L329.5,7.8 Z M339.1,4.7 L341.9,2.4 L342.6,5.9 Z M354.9,6 L357.8,3.6 L358.4,7.2 Z M369,5 L371.8,2.5 L372.5,6.1 Z M385.5,6.6 L388.3,4.2 L389.1,7.7 Z M400.7,5.4 L403.4,2.9 L404.2,6.4 Z M295.6,22.8 L298.1,20.2 L299.2,23.6 Z M309.3,20.6 L311.9,18.1 L312.8,21.5 Z M325.5,20.9 L328.3,18.5 L329,22 Z M338.2,19.5 L341,17.3 L341.6,20.8 Z M353.8,20.9 L356.6,18.5 L357.2,22.1 Z M369.9,21 L372.6,18.6 L373.4,22.1 Z M384.3,20.7 L387,18.3 L387.8,21.8 Z M399.7,21.3 L402.5,18.9 L403.3,22.4 Z M294.8,37.6 L297.2,34.8 L298.4,38.2 Z M309.7,38.2 L312.2,35.5 L313.3,39 Z M324.4,37.5 L327,34.9 L327.9,38.4 Z M339.2,35.6 L342,33.2 L342.7,36.7 Z M355.3,36.1 L358.1,33.7 L358.8,37.2 Z M371,37.3 L373.8,34.8 L374.6,38.3 Z M384.1,35.5 L386.8,33.1 L387.6,36.6 Z M400.2,36.9 L402.9,34.5 L403.7,38 Z M296.5,52.8 L298.9,50 L300.1,53.4 Z M310.6,51.9 L313,49.2 L314.2,52.5 Z M324,52.9 L326.5,50.2 L327.6,53.6 Z M338.6,52.5 L341.2,49.8 L342.2,53.3 Z M354.3,50.2 L356.9,47.6 L357.8,51.1 Z M368.8,51.6 L371.4,49 L372.3,52.5 Z M384.2,50.1 L386.9,47.6 L387.7,51.1 Z M399.2,52.2 L401.9,49.7 L402.8,53.1 Z M294.5,68.6 L296.7,65.6 L298.2,68.9 Z M311.7,67.6 L313.9,64.7 L315.3,68 Z M325.1,66.3 L327.4,63.4 L328.8,66.7 Z M340.2,66.5 L342.5,63.7 L343.8,67 Z M355.2,66 L357.6,63.3 L358.8,66.6 Z M369.4,68.2 L371.8,65.5 L373,68.9 Z M384.5,67.8 L387,65.1 L388.1,68.6 Z M400.4,65.6 L402.9,63 L404,66.4 Z M296.4,83.4 L298.3,80.3 L300.1,83.4 Z M309.8,83.8 L311.7,80.7 L313.5,83.8 Z M326.2,84.4 L328.3,81.3 L329.9,84.5 Z M339.5,82.8 L341.6,79.8 L343.2,83.1 Z M355.9,81.6 L358.1,78.7 L359.6,82 Z M368.8,83.9 L371.1,81 L372.5,84.3 Z M384.7,83.5 L387.1,80.7 L388.4,84 Z M401.1,83 L403.5,80.2 L404.7,83.5 Z M295.3,100.6 L296.8,97.2 L298.9,100.1 Z M310,98.7 L311.6,95.4 L313.6,98.3 Z M325,100 L326.8,96.8 L328.7,99.9 Z M340.1,97.6 L342.1,94.6 L343.7,97.8 Z M355,98 L357,95 L358.7,98.2 Z M370.5,98.4 L372.6,95.5 L374.2,98.7 Z M384.9,98.3 L387.1,95.4 L388.5,98.7 Z M400.8,97.6 L403,94.7 L404.4,98 Z M281.9,114.5 L283,110.9 L285.5,113.6 Z M298.1,116.6 L299.2,113.1 L301.7,115.8 Z M310.9,113.8 L312.2,110.4 L314.5,113.2 Z M326.4,114.7 L328.1,111.4 L330.1,114.4 Z M341.3,113.1 L343.1,109.9 L344.9,113.1 Z M356.8,112.4 L358.7,109.3 L360.5,112.4 Z M370,114.9 L372,111.8 L373.7,115 Z M384.5,112.2 L386.6,109.2 L388.1,112.5 Z M401,112.3 L403.2,109.3 L404.7,112.6 Z M239.7,130.4 L240.2,126.8 L243.1,129 Z M254.7,131.9 L254.9,128.3 L257.9,130.3 Z M268.8,132.8 L269.1,129.2 L272.1,131.2 Z M283.2,132.5 L283.7,128.8 L286.6,131 Z M296.8,130.9 L297.5,127.3 L300.2,129.6 Z M313.9,130.3 L314.7,126.7 L317.4,129.1 Z M328.6,131.5 L329.4,127.9 L332.1,130.4 Z M341.7,131.2 L342.8,127.7 L345.3,130.3 Z M356.2,129.4 L357.6,126 L359.8,128.8 Z M371.7,129.5 L373.2,126.1 L375.3,129.1 Z M385.1,128.6 L386.8,125.4 L388.7,128.4 Z M400.7,128.1 L402.5,124.9 L404.4,128 Z M188.8,140.6 L191.6,138.2 L192.3,141.7 Z M206.3,144.6 L208.3,141.5 L210,144.7 Z M221.6,146 L222.8,142.6 L225.2,145.3 Z M236.6,145.7 L237.2,142 L240,144.3 Z M254.1,148 L254.2,144.3 L257.3,146.1 Z M271.5,147.3 L271,143.7 L274.4,145 Z M287.9,149.4 L286.1,146.2 L289.7,146.2 Z M306.8,148.9 L304.3,146.2 L307.8,145.4 Z M319,149.8 L316.8,146.8 L320.4,146.4 Z M333.5,148.9 L332.1,145.5 L335.7,146 Z M345.7,147.7 L344.9,144.1 L348.4,145.2 Z M359.9,147.4 L360,143.8 L363.1,145.6 Z M371.4,147.4 L372.1,143.8 L374.9,146.1 Z M386.6,144.4 L387.9,140.9 L390.2,143.7 Z M402.3,143.2 L403.8,139.8 L406,142.7 Z M189.1,152.6 L192.4,150.9 L192.3,154.5 Z M206.2,157 L208.7,154.4 L209.8,157.9 Z M221,158.4 L222.6,155.1 L224.7,158 Z M236.7,160.3 L237.5,156.7 L240.2,159.1 Z M256.8,163.7 L256.1,160.1 L259.5,161.2 Z M277.8,163.9 L274.8,161.7 L278.1,160.2 Z M298.4,157.7 L294.7,157.6 L296.5,154.5 Z M313.6,157.7 L310,158 L311.5,154.7 Z M327.1,160.6 L323.5,159.9 L325.8,157.2 Z M338.1,160.9 L334.8,159.3 L337.7,157.2 Z M354.8,161.2 L351.7,159.2 L354.9,157.6 Z M365.5,163.8 L363.3,160.9 L366.8,160.4 Z M375.4,161.3 L375.5,157.7 L378.6,159.5 Z M387.6,159.8 L388.6,156.3 L391.2,158.8 Z M401.5,161.4 L402.7,157.9 L405.1,160.6 Z M189.3,163.3 L193,163.2 L191.3,166.3 Z M204.1,165.6 L207.7,164.6 L206.9,168.1 Z M219,169.9 L222.3,168.1 L222.2,171.7 Z M235.2,173.2 L236.8,170 L238.9,172.9 Z M259.9,178.4 L257.7,175.5 L261.3,175 Z M283.4,173.4 L279.7,173.5 L281.4,170.3 Z M299.4,170.3 L295.8,171.2 L296.7,167.7 Z M311.8,172.4 L308.3,173.4 L309.2,169.9 Z M327.8,172.5 L324.1,172.7 L325.7,169.5 Z M342.5,173.2 L338.9,172.8 L341,169.9 Z M356.2,174.7 L352.6,174.2 L354.8,171.4 Z M368.4,176.8 L365.1,175.2 L368.1,173.2 Z M377.1,179.2 L375.8,175.7 L379.4,176.3 Z M388.9,177.9 L389.1,174.2 L392.1,176.2 Z M401.7,174.7 L402.5,171.1 L405.2,173.5 Z M194.3,175.7 L197.5,177.5 L194.4,179.4 Z M208.5,176.9 L211.7,178.7 L208.7,180.6 Z M224.8,176.2 L228.1,177.9 L225,179.8 Z M242.4,175.6 L245,178.3 L241.5,179.2 Z M267.5,178.9 L266.1,182.3 L263.9,179.4 Z M282.9,182.9 L279.8,185 L279.5,181.4 Z M299.5,184.9 L296.2,186.5 L296.3,182.9 Z M314.1,186.1 L310.7,187.4 L311.2,183.8 Z M328.3,186.6 L324.7,187.3 L325.8,183.9 Z M343.1,189.5 L339.5,189.6 L341.2,186.4 Z M357.2,189.7 L353.5,189.2 L355.7,186.3 Z M368.8,190.7 L365.5,189.2 L368.4,187.1 Z M379.9,193.1 L378,189.9 L381.6,189.8 Z M391.6,194.3 L390.5,190.8 L394,191.6 Z M405.1,192.8 L404.7,189.2 L408,190.5 Z M197.6,189.2 L200.1,191.9 L196.6,192.7 Z M212.3,189 L214.7,191.7 L211.2,192.5 Z M226.6,190 L228.8,192.9 L225.3,193.4 Z M243.7,190.5 L245.4,193.8 L241.8,193.6 Z M262.2,191.7 L262.7,195.3 L259.3,193.9 Z M281.1,192.5 L279.7,195.9 L277.5,193.1 Z M297.7,196.7 L295.4,199.6 L294,196.2 Z M312.5,197.5 L309.6,199.7 L309.1,196.2 Z M328.3,200 L324.9,201.5 L325.3,197.9 Z M343.5,202.8 L339.8,203.4 L341.1,200 Z M356.7,204.4 L353,204.1 L355.1,201.1 Z M370.4,207.6 L367.1,205.9 L370.2,204 Z M381.2,207.2 L378.9,204.4 L382.4,203.8 Z M393.6,209.6 L391.9,206.3 L395.5,206.4 Z M407.3,208.2 L406.2,204.8 L409.7,205.5 Z M198.6,205.2 L200.6,208.3 L197,208.4 Z M215.1,205.6 L217,208.8 L213.4,208.9 Z M230.6,204.9 L232.3,208.2 L228.7,208.1 Z M243.8,203.6 L245.2,207 L241.6,206.6 Z M263.3,203.9 L264,207.5 L260.6,206.3 Z M278.5,206.3 L278.2,210 L275.2,208 Z M295.3,209.3 L294,212.8 L291.7,210 Z M311.2,210.5 L309,213.4 L307.6,210.1 Z M329.9,212 L326.8,214 L326.6,210.4 Z M342.6,214.8 L339.1,215.9 L339.8,212.4 Z M356.3,219.7 L352.7,219.8 L354.3,216.7 Z M370.8,221.2 L367.4,219.8 L370.2,217.5 Z M382.7,222 L380,219.6 L383.4,218.4 Z M395.9,223.6 L393.9,220.5 L397.5,220.3 Z M407.8,223.9 L406.3,220.5 L409.8,220.9 Z M198.1,219.7 L199.8,222.9 L196.2,222.8 Z M214.5,219 L216.2,222.2 L212.6,222.1 Z M231,219.2 L232.5,222.6 L228.9,222.2 Z M245.4,218.5 L246.7,221.9 L243.2,221.4 Z M263,220.4 L263.8,224 L260.3,223 Z M277.3,221.8 L277.5,225.5 L274.3,223.9 Z M295.7,221.3 L294.8,224.8 L292.2,222.4 Z M311.1,225.1 L309.4,228.3 L307.4,225.3 Z M327.3,227.7 L324.6,230.3 L323.7,226.8 Z M344.6,230 L341.2,231.3 L341.7,227.7 Z M357.6,234 L353.9,234.2 L355.6,231 Z M370.7,237.3 L367.2,236.2 L369.8,233.7 Z M382.3,236.6 L379.3,234.5 L382.6,233 Z M394.9,238.7 L392.6,235.9 L396.1,235.3 Z M408.8,239.8 L407.1,236.5 L410.7,236.6 Z M199.5,234.4 L201.2,237.7 L197.6,237.5 Z M216,233.7 L217.5,237.1 L213.9,236.8 Z M229,234 L230.4,237.4 L226.9,236.9 Z M245,235.3 L246.3,238.7 L242.7,238.2 Z M261.6,234.6 L262.7,238.1 L259.2,237.4 Z M276.8,235.1 L277.4,238.7 L274,237.5 Z M294.5,236 L294.3,239.6 L291.3,237.7 Z M312.3,237.4 L311.1,240.8 L308.7,238.1 Z M326.9,240.8 L324.7,243.7 L323.3,240.4 Z M343.9,245.1 L340.5,246.5 L341,242.9 Z M355.9,247.8 L352.2,247.7 L354,244.6 Z M369.6,251.8 L366.2,250.4 L369,248.2 Z M383.7,251.9 L380.8,249.6 L384.2,248.3 Z M394.5,251.9 L392.2,249.1 L395.8,248.4 Z M409.3,252.9 L407.5,249.6 L411.1,249.7 Z M184.5,249 L185.9,252.4 L182.3,251.9 Z M198.2,250.6 L200,253.8 L196.4,253.8 Z M213.1,250.4 L214.9,253.6 L211.3,253.6 Z M229.9,250.2 L231.5,253.5 L228,253.3 Z M243.8,248.8 L245.4,252.1 L241.8,251.9 Z M261,249.2 L262.5,252.5 L258.9,252.2 Z M275,250.6 L276.3,254.1 L272.7,253.5 Z M293,249.4 L293.7,253 L290.3,251.8 Z M309.3,250.9 L309.1,254.6 L306.1,252.7 Z M325.9,252.4 L324.3,255.7 L322.3,252.8 Z M343.8,261.8 L340.4,262.9 L341.1,259.4 Z M355.3,264.4 L351.8,263.5 L354.2,260.9 Z M369.2,266.3 L366.2,264.2 L369.5,262.7 Z M380.3,267.2 L377.8,264.6 L381.3,263.7 Z M395.9,267.1 L393.9,264 L397.5,263.7 Z M408.3,268.5 L406.7,265.2 L410.3,265.5 Z M184.9,265.2 L186.9,268.3 L183.3,268.4 Z M197.2,264.3 L199.3,267.3 L195.7,267.6 Z M213.9,266 L216.1,269 L212.5,269.4 Z M227,265.5 L229,268.6 L225.5,268.9 Z M243.1,263.3 L245.1,266.4 L241.5,266.6 Z M259.4,264.1 L261.4,267.2 L257.8,267.4 Z M273.9,265.2 L275.9,268.3 L272.3,268.5 Z M288.5,263.9 L290.2,267.1 L286.6,267 Z M306,265.3 L307.6,268.6 L304,268.3 Z M319.4,265.6 L320.6,269.1 L317,268.4 Z M340.2,283.4 L337,281.6 L340,279.7 Z M350.8,283 L348.5,280.2 L352,279.5 Z M363.4,284.5 L361.6,281.3 L365.2,281.3 Z M378,283 L376.3,279.7 L379.9,279.9 Z M393,284.4 L391.8,281 L395.3,281.6 Z M406.8,282.4 L405.9,278.8 L409.3,279.8 Z M183.5,279.3 L185.8,282.2 L182.2,282.8 Z M196.9,280.8 L199.3,283.6 L195.8,284.3 Z M212.4,279 L214.8,281.8 L211.3,282.5 Z M226.9,280.7 L229.2,283.5 L225.7,284.2 Z M242.9,278.6 L245.2,281.4 L241.7,282 Z M257.5,279.1 L260,281.8 L256.5,282.6 Z M270.1,280.6 L272.7,283.2 L269.2,284.2 Z M285.5,279.2 L288.2,281.7 L284.8,282.8 Z M300,279 L302.9,281.2 L299.6,282.6 Z M312.4,281.1 L315.9,282.4 L313.1,284.7 Z M324.9,291.1 L327.5,288.5 L328.5,292 Z M342,297.3 L342.6,293.6 L345.5,295.9 Z M360.3,298.4 L360.1,294.8 L363.3,296.4 Z M374.2,298.9 L373.9,295.2 L377.2,296.7 Z M390.6,297.4 L390.5,293.8 L393.7,295.4 Z M403.3,295.7 L403.8,292 L406.7,294.1 Z M166.3,295.9 L168.5,298.8 L165,299.3 Z M181.9,294.8 L184.3,297.6 L180.8,298.3 Z M196.9,296.2 L199.5,298.8 L196.1,299.8 Z M211.1,296.4 L213.8,298.9 L210.4,300 Z M227.8,293.3 L230.3,296 L226.8,296.9 Z M241.7,295.2 L244.3,297.8 L240.8,298.8 Z M255.9,295.4 L258.7,297.7 L255.4,299 Z M270.7,296.5 L273.8,298.5 L270.7,300.2 Z M284.1,297.4 L287.5,298.9 L284.5,301 Z M296.4,296.5 L299.9,297.5 L297.3,300 Z M309.8,298.7 L313.5,298.6 L311.8,301.7 Z M324,305.4 L327.1,303.5 L327.2,307.1 Z M340.8,309.1 L342.8,306 L344.5,309.2 Z M355.2,311.4 L356.5,308 L358.8,310.8 Z M371,311.7 L371.9,308.2 L374.5,310.7 Z M385.5,310.1 L386.7,306.7 L389.1,309.4 Z M400.2,306.6 L402.4,303.7 L403.8,307 Z M153.2,308.7 L155.5,311.5 L152,312.2 Z M167.7,308.9 L170,311.8 L166.4,312.3 Z M180.7,311.1 L183.2,313.8 L179.7,314.6 Z M195,310.7 L197.9,313 L194.5,314.4 Z M211.1,310.5 L214.1,312.7 L210.8,314.2 Z M226.2,311.5 L229.2,313.6 L225.9,315.1 Z M240.4,311.5 L243.4,313.6 L240.2,315.1 Z M253.7,311.2 L256.9,313 L253.8,314.8 Z M269.4,311.2 L272.8,312.6 L270,314.8 Z M281.4,312.9 L284.9,313.9 L282.4,316.4 Z M294.7,314.4 L298.4,314.8 L296.4,317.7 Z M308.7,315.8 L312.4,315.2 L311.1,318.6 Z M323.2,318.9 L326.5,317.3 L326.3,320.9 Z M339,321.6 L341.7,319.1 L342.5,322.6 Z M356.6,323.4 L358.7,320.4 L360.2,323.7 Z M369.2,323.8 L371.4,320.8 L372.9,324.1 Z M385.7,321.4 L388.2,318.7 L389.2,322.2 Z M398.4,319.1 L401.7,317.5 L401.5,321.1 Z M149.9,326.3 L152.6,328.8 L149.2,329.9 Z M166.1,325.9 L168.8,328.5 L165.3,329.5 Z M180.4,324.3 L183.3,326.6 L179.9,328 Z M193.3,325.8 L196.5,327.5 L193.5,329.5 Z M208.9,325.1 L212.2,326.7 L209.2,328.7 Z M223.1,326.5 L226.4,328.1 L223.4,330.2 Z M237.3,325.4 L240.6,327 L237.7,329.1 Z M251.8,328 L255.3,329.2 L252.6,331.6 Z M268.1,327.7 L271.6,328.6 L269.2,331.2 Z M281.8,329.2 L285.4,329.6 L283.3,332.5 Z M296.4,329.7 L300.1,329.6 L298.4,332.8 Z M310.5,332.3 L314.1,331.5 L313,335 Z M323.2,331.8 L326.6,330.3 L326.2,333.9 Z M338.2,334.1 L341.3,332.1 L341.5,335.6 Z M354.1,334.4 L357,332.1 L357.6,335.6 Z M369.4,334.4 L372.2,332.1 L372.8,335.6 Z M384.3,333.7 L387.5,331.8 L387.5,335.4 Z M400.1,331.9 L403.6,330.8 L402.8,334.3 Z M149.7,339.7 L152.7,341.8 L149.5,343.4 Z M163.1,341.1 L166.2,343.1 L163,344.8 Z M177.6,342.9 L181.1,344.2 L178.3,346.5 Z M193.6,343.4 L197.1,344.3 L194.7,346.9 Z M207.5,340.8 L211,341.9 L208.4,344.4 Z M223.8,341.3 L227.3,342.5 L224.6,344.9 Z M237.2,341.7 L240.7,342.8 L238,345.3 Z M253.5,343.5 L257.1,344.4 L254.6,347 Z M266.2,343.1 L269.8,343.7 L267.5,346.5 Z M280.9,342.6 L284.6,342.8 L282.7,345.8 Z M294.1,345.1 L297.7,344.9 L296.1,348.1 Z M309.7,345.8 L313.3,345.2 L312.1,348.6 Z M325.8,345.8 L329.3,344.6 L328.6,348.1 Z M338.2,348.2 L341.6,346.8 L341.1,350.4 Z M355.3,349.3 L358.6,347.7 L358.3,351.3 Z M369.8,348 L373.2,346.5 L372.8,350.1 Z M384.4,347.7 L387.9,346.5 L387.2,350.1 Z M399.6,346.8 L403.2,346.1 L402.1,349.5 Z M149.9,355.8 L153.2,357.5 L150.2,359.5 Z M163.5,357.8 L166.9,359.1 L164.1,361.4 Z M176.9,358.3 L180.5,359.2 L178,361.8 Z M191.5,357.9 L195.1,358.5 L192.9,361.3 Z M205.9,358.5 L209.5,359.3 L207.2,362 Z M222.8,356.1 L226.4,357 L223.9,359.6 Z M238.3,358.4 L241.9,359.3 L239.4,361.9 Z M252.8,356.3 L256.4,357.1 L254,359.8 Z M266.4,359.7 L270,360.2 L267.9,363.1 Z M280.5,358.9 L284.1,359 L282.3,362.1 Z M294.4,358.6 L298.1,358.4 L296.5,361.7 Z M310.9,359.7 L314.5,359.2 L313.2,362.6 Z M324.8,361.2 L328.4,360.4 L327.2,363.9 Z M339.5,361 L343.1,360 L342.1,363.5 Z M353.3,360.7 L356.8,359.7 L356,363.2 Z M369.7,361.4 L373.3,360.5 L372.3,364 Z M384.4,359.7 L388,358.9 L386.9,362.4 Z M401.7,360.8 L405.3,360.4 L403.9,363.7 Z" fill="#000"/><rect x="0.7" y="27.5" width="21.5" height="7.6" fill="#fff"/><text x="11.4" y="34.6" font-size="9" font-family="Liberation Sans" font-weight="bold" fill="#000" text-anchor="middle" textLength="20" lengthAdjust="spacingAndGlyphs" stroke="#000" stroke-width="0.25">1016</text><rect x="93.3" y="29.1" width="21.5" height="7.6" fill="#fff"/><text x="104" y="36.2" font-size="9" font-family="Liberation Sans" font-weight="bold" fill="#000" text-anchor="middle" textLength="20" lengthAdjust="spacingAndGlyphs" stroke="#000" stroke-width="0.25">1016</text><rect x="89.3" y="90.9" width="21.5" height="7.6" fill="#fff"/><text x="100.1" y="97.9" font-size="9" font-family="Liberation Sans" font-weight="bold" fill="#000" text-anchor="middle" textLength="20" lengthAdjust="spacingAndGlyphs" stroke="#000" stroke-width="0.25">1020</text><rect x="-2.5" y="70.3" width="21.5" height="7.6" fill="#fff"/><text x="8.2" y="77.3" font-size="9" font-family="Liberation Sans" font-weight="bold" fill="#000" text-anchor="middle" textLength="20" lengthAdjust="spacingAndGlyphs" stroke="#000" stroke-width="0.25">1020</text><rect x="-2.5" y="166.8" width="21.5" height="7.6" fill="#fff"/><text x="8.2" y="173.9" font-size="9" font-family="Liberation Sans" font-weight="bold" fill="#000" text-anchor="middle" textLength="20" lengthAdjust="spacingAndGlyphs" stroke="#000" stroke-width="0.25">1024</text><rect x="197.3" y="6.9" width="21.5" height="7.6" fill="#fff"/><text x="208" y="14" font-size="9" font-family="Liberation Sans" font-weight="bold" fill="#000" text-anchor="middle" textLength="20" lengthAdjust="spacingAndGlyphs" stroke="#000" stroke-width="0.25">1012</text><rect x="198.8" y="57.4" width="21.5" height="7.6" fill="#fff"/><text x="209.6" y="64.5" font-size="9" font-family="Liberation Sans" font-weight="bold" fill="#000" text-anchor="middle" textLength="20" lengthAdjust="spacingAndGlyphs" stroke="#000" stroke-width="0.25">1016</text><rect x="262" y="106.4" width="21.5" height="7.6" fill="#fff"/><text x="272.8" y="113.4" font-size="9" font-family="Liberation Sans" font-weight="bold" fill="#000" text-anchor="middle" textLength="20" lengthAdjust="spacingAndGlyphs" stroke="#000" stroke-width="0.25">1016</text><rect x="216.2" y="136.4" width="21.5" height="7.6" fill="#fff"/><text x="227" y="143.4" font-size="9" font-family="Liberation Sans" font-weight="bold" fill="#000" text-anchor="middle" textLength="20" lengthAdjust="spacingAndGlyphs" stroke="#000" stroke-width="0.25">1020</text><rect x="214.6" y="172.7" width="21.5" height="7.6" fill="#fff"/><text x="225.4" y="179.8" font-size="9" font-family="Liberation Sans" font-weight="bold" fill="#000" text-anchor="middle" textLength="20" lengthAdjust="spacingAndGlyphs" stroke="#000" stroke-width="0.25">1020</text><rect x="315.7" y="48" width="21.5" height="7.6" fill="#fff"/><text x="326.4" y="55" font-size="9" font-family="Liberation Sans" font-weight="bold" fill="#000" text-anchor="middle" textLength="20" lengthAdjust="spacingAndGlyphs" stroke="#000" stroke-width="0.25">1016</text><rect x="189.4" y="193.2" width="21.5" height="7.6" fill="#fff"/><text x="200.1" y="200.3" font-size="9" font-family="Liberation Sans" font-weight="bold" fill="#000" text-anchor="middle" textLength="20" lengthAdjust="spacingAndGlyphs" stroke="#000" stroke-width="0.25">1024</text><rect x="254.1" y="179" width="21.5" height="7.6" fill="#fff"/><text x="264.9" y="186.1" font-size="9" font-family="Liberation Sans" font-weight="bold" fill="#000" text-anchor="middle" textLength="20" lengthAdjust="spacingAndGlyphs" stroke="#000" stroke-width="0.25">1016</text><rect x="263.6" y="193.2" width="21.5" height="7.6" fill="#fff"/><text x="274.3" y="200.3" font-size="9" font-family="Liberation Sans" font-weight="bold" fill="#000" text-anchor="middle" textLength="20" lengthAdjust="spacingAndGlyphs" stroke="#000" stroke-width="0.25">1012</text><rect x="352" y="280.1" width="21.5" height="7.6" fill="#fff"/><text x="362.8" y="287.1" font-size="9" font-family="Liberation Sans" font-weight="bold" fill="#000" text-anchor="middle" textLength="20" lengthAdjust="spacingAndGlyphs" stroke="#000" stroke-width="0.25">1008</text><rect x="333.1" y="310.1" width="21.5" height="7.6" fill="#fff"/><text x="343.8" y="317.1" font-size="9" font-family="Liberation Sans" font-weight="bold" fill="#000" text-anchor="middle" textLength="20" lengthAdjust="spacingAndGlyphs" stroke="#000" stroke-width="0.25">1012</text><rect x="290.4" y="313.9" width="21.5" height="7.6" fill="#fff"/><text x="301.2" y="320.9" font-size="9" font-family="Liberation Sans" font-weight="bold" fill="#000" text-anchor="middle" textLength="20" lengthAdjust="spacingAndGlyphs" stroke="#000" stroke-width="0.25">1016</text><rect x="314.1" y="342.6" width="21.5" height="7.6" fill="#fff"/><text x="324.9" y="349.7" font-size="9" font-family="Liberation Sans" font-weight="bold" fill="#000" text-anchor="middle" textLength="20" lengthAdjust="spacingAndGlyphs" stroke="#000" stroke-width="0.25">1020</text><rect x="178.3" y="337.9" width="21.5" height="7.6" fill="#fff"/><text x="189.1" y="344.9" font-size="9" font-family="Liberation Sans" font-weight="bold" fill="#000" text-anchor="middle" textLength="20" lengthAdjust="spacingAndGlyphs" stroke="#000" stroke-width="0.25">1024</text><rect x="13.5" y="57.6" width="16.5" height="7.6" fill="#fff"/><text x="21.7" y="64.7" font-size="9" font-family="Liberation Sans" font-weight="bold" fill="#F83C3C" text-anchor="middle" textLength="15" lengthAdjust="spacingAndGlyphs" stroke="#F83C3C" stroke-width="0.25">570</text><rect x="93.4" y="59.2" width="16.5" height="7.6" fill="#fff"/><text x="101.7" y="66.3" font-size="9" font-family="Liberation Sans" font-weight="bold" fill="#F83C3C" text-anchor="middle" textLength="15" lengthAdjust="spacingAndGlyphs" stroke="#F83C3C" stroke-width="0.25">570</text><rect x="176.5" y="67.9" width="16.5" height="7.6" fill="#fff"/><text x="184.8" y="75" font-size="9" font-family="Liberation Sans" font-weight="bold" fill="#F83C3C" text-anchor="middle" textLength="15" lengthAdjust="spacingAndGlyphs" stroke="#F83C3C" stroke-width="0.25">570</text><rect x="64.1" y="119.3" width="16.5" height="7.6" fill="#fff"/><text x="72.4" y="126.4" font-size="9" font-family="Liberation Sans" font-weight="bold" fill="#F83C3C" text-anchor="middle" textLength="15" lengthAdjust="spacingAndGlyphs" stroke="#F83C3C" stroke-width="0.25">564</text><rect x="134.6" y="136" width="16.5" height="7.6" fill="#fff"/><text x="142.8" y="143" font-size="9" font-family="Liberation Sans" font-weight="bold" fill="#F83C3C" text-anchor="middle" textLength="15" lengthAdjust="spacingAndGlyphs" stroke="#F83C3C" stroke-width="0.25">558</text><rect x="19" y="148.6" width="16.5" height="7.6" fill="#fff"/><text x="27.2" y="155.7" font-size="9" font-family="Liberation Sans" font-weight="bold" fill="#F83C3C" text-anchor="middle" textLength="15" lengthAdjust="spacingAndGlyphs" stroke="#F83C3C" stroke-width="0.25">570</text><rect x="-3.2" y="112.2" width="16.5" height="7.6" fill="#fff"/><text x="5.1" y="119.3" font-size="9" font-family="Liberation Sans" font-weight="bold" fill="#F83C3C" text-anchor="middle" textLength="15" lengthAdjust="spacingAndGlyphs" stroke="#F83C3C" stroke-width="0.25">570</text><rect x="177.7" y="68.5" width="16.5" height="7.6" fill="#fff"/><text x="185.9" y="75.6" font-size="9" font-family="Liberation Sans" font-weight="bold" fill="#F83C3C" text-anchor="middle" textLength="15" lengthAdjust="spacingAndGlyphs" stroke="#F83C3C" stroke-width="0.25">570</text><rect x="264.5" y="95.3" width="16.5" height="7.6" fill="#fff"/><text x="272.8" y="102.4" font-size="9" font-family="Liberation Sans" font-weight="bold" fill="#F83C3C" text-anchor="middle" textLength="15" lengthAdjust="spacingAndGlyphs" stroke="#F83C3C" stroke-width="0.25">570</text><rect x="204.5" y="104.8" width="16.5" height="7.6" fill="#fff"/><text x="212.8" y="111.9" font-size="9" font-family="Liberation Sans" font-weight="bold" fill="#F83C3C" text-anchor="middle" textLength="15" lengthAdjust="spacingAndGlyphs" stroke="#F83C3C" stroke-width="0.25">564</text><rect x="270.8" y="139.5" width="16.5" height="7.6" fill="#fff"/><text x="279.1" y="146.6" font-size="9" font-family="Liberation Sans" font-weight="bold" fill="#F83C3C" text-anchor="middle" textLength="15" lengthAdjust="spacingAndGlyphs" stroke="#F83C3C" stroke-width="0.25">558</text><rect x="316.6" y="138" width="16.5" height="7.6" fill="#fff"/><text x="324.9" y="145" font-size="9" font-family="Liberation Sans" font-weight="bold" fill="#F83C3C" text-anchor="middle" textLength="15" lengthAdjust="spacingAndGlyphs" stroke="#F83C3C" stroke-width="0.25">564</text><rect x="248.7" y="149" width="16.5" height="7.6" fill="#fff"/><text x="257" y="156.1" font-size="9" font-family="Liberation Sans" font-weight="bold" fill="#F83C3C" text-anchor="middle" textLength="15" lengthAdjust="spacingAndGlyphs" stroke="#F83C3C" stroke-width="0.25">552</text><rect x="335.6" y="53.6" width="16.5" height="7.6" fill="#fff"/><text x="343.8" y="60.7" font-size="9" font-family="Liberation Sans" font-weight="bold" fill="#F83C3C" text-anchor="middle" textLength="15" lengthAdjust="spacingAndGlyphs" stroke="#F83C3C" stroke-width="0.25">570</text><rect x="225" y="242.2" width="16.5" height="7.6" fill="#fff"/><text x="233.3" y="249.2" font-size="9" font-family="Liberation Sans" font-weight="bold" fill="#F83C3C" text-anchor="middle" textLength="15" lengthAdjust="spacingAndGlyphs" stroke="#F83C3C" stroke-width="0.25">546</text><rect x="324.5" y="280.1" width="16.5" height="7.6" fill="#fff"/><text x="332.8" y="287.1" font-size="9" font-family="Liberation Sans" font-weight="bold" fill="#F83C3C" text-anchor="middle" textLength="15" lengthAdjust="spacingAndGlyphs" stroke="#F83C3C" stroke-width="0.25">552</text></g>
</g>
<rect x="97.2" y="177.9" width="420" height="373.1" fill="none" stroke="#000" stroke-width="2"/>
<line x1="93.8" y1="201.2" x2="97.2" y2="201.2" stroke="#000" stroke-width="1.3"/>
<text x="91.8" y="205.6" font-size="11.8" font-family="'Liberation Sans', 'DejaVu Sans', sans-serif" font-weight="bold" text-anchor="end" fill="#000" textLength="17" lengthAdjust="spacingAndGlyphs" stroke="#000" stroke-width="0.35">12S</text>
<line x1="93.8" y1="236.2" x2="97.2" y2="236.2" stroke="#000" stroke-width="1.3"/>
<text x="91.8" y="240.6" font-size="11.8" font-family="'Liberation Sans', 'DejaVu Sans', sans-serif" font-weight="bold" text-anchor="end" fill="#000" textLength="17" lengthAdjust="spacingAndGlyphs" stroke="#000" stroke-width="0.35">15S</text>
<line x1="93.8" y1="271.2" x2="97.2" y2="271.2" stroke="#000" stroke-width="1.3"/>
<text x="91.8" y="275.6" font-size="11.8" font-family="'Liberation Sans', 'DejaVu Sans', sans-serif" font-weight="bold" text-anchor="end" fill="#000" textLength="17" lengthAdjust="spacingAndGlyphs" stroke="#000" stroke-width="0.35">18S</text>
<line x1="93.8" y1="306.2" x2="97.2" y2="306.2" stroke="#000" stroke-width="1.3"/>
<text x="91.8" y="310.6" font-size="11.8" font-family="'Liberation Sans', 'DejaVu Sans', sans-serif" font-weight="bold" text-anchor="end" fill="#000" textLength="17" lengthAdjust="spacingAndGlyphs" stroke="#000" stroke-width="0.35">21S</text>
<line x1="93.8" y1="341.1" x2="97.2" y2="341.1" stroke="#000" stroke-width="1.3"/>
<text x="91.8" y="345.5" font-size="11.8" font-family="'Liberation Sans', 'DejaVu Sans', sans-serif" font-weight="bold" text-anchor="end" fill="#000" textLength="17" lengthAdjust="spacingAndGlyphs" stroke="#000" stroke-width="0.35">24S</text>
<line x1="93.8" y1="376.1" x2="97.2" y2="376.1" stroke="#000" stroke-width="1.3"/>
<text x="91.8" y="380.5" font-size="11.8" font-family="'Liberation Sans', 'DejaVu Sans', sans-serif" font-weight="bold" text-anchor="end" fill="#000" textLength="17" lengthAdjust="spacingAndGlyphs" stroke="#000" stroke-width="0.35">27S</text>
<line x1="93.8" y1="411.1" x2="97.2" y2="411.1" stroke="#000" stroke-width="1.3"/>
<text x="91.8" y="415.5" font-size="11.8" font-family="'Liberation Sans', 'DejaVu Sans', sans-serif" font-weight="bold" text-anchor="end" fill="#000" textLength="17" lengthAdjust="spacingAndGlyphs" stroke="#000" stroke-width="0.35">30S</text>
<line x1="93.8" y1="446.1" x2="97.2" y2="446.1" stroke="#000" stroke-width="1.3"/>
<text x="91.8" y="450.5" font-size="11.8" font-family="'Liberation Sans', 'DejaVu Sans', sans-serif" font-weight="bold" text-anchor="end" fill="#000" textLength="17" lengthAdjust="spacingAndGlyphs" stroke="#000" stroke-width="0.35">33S</text>
<line x1="93.8" y1="481" x2="97.2" y2="481" stroke="#000" stroke-width="1.3"/>
<text x="91.8" y="485.4" font-size="11.8" font-family="'Liberation Sans', 'DejaVu Sans', sans-serif" font-weight="bold" text-anchor="end" fill="#000" textLength="17" lengthAdjust="spacingAndGlyphs" stroke="#000" stroke-width="0.35">36S</text>
<line x1="93.8" y1="516" x2="97.2" y2="516" stroke="#000" stroke-width="1.3"/>
<text x="91.8" y="520.4" font-size="11.8" font-family="'Liberation Sans', 'DejaVu Sans', sans-serif" font-weight="bold" text-anchor="end" fill="#000" textLength="17" lengthAdjust="spacingAndGlyphs" stroke="#000" stroke-width="0.35">39S</text>
<line x1="93.8" y1="551" x2="97.2" y2="551" stroke="#000" stroke-width="1.3"/>
<text x="91.8" y="555.4" font-size="11.8" font-family="'Liberation Sans', 'DejaVu Sans', sans-serif" font-weight="bold" text-anchor="end" fill="#000" textLength="17" lengthAdjust="spacingAndGlyphs" stroke="#000" stroke-width="0.35">42S</text>
<line x1="97.2" y1="551" x2="97.2" y2="554.2" stroke="#000" stroke-width="1.3"/>
<text x="97.2" y="563.6" font-size="11.8" font-family="'Liberation Sans', 'DejaVu Sans', sans-serif" font-weight="bold" text-anchor="middle" fill="#000" textLength="18" lengthAdjust="spacingAndGlyphs" stroke="#000" stroke-width="0.35">70W</text>
<line x1="147.2" y1="551" x2="147.2" y2="554.2" stroke="#000" stroke-width="1.3"/>
<text x="147.2" y="563.6" font-size="11.8" font-family="'Liberation Sans', 'DejaVu Sans', sans-serif" font-weight="bold" text-anchor="middle" fill="#000" textLength="18" lengthAdjust="spacingAndGlyphs" stroke="#000" stroke-width="0.35">65W</text>
<line x1="197.2" y1="551" x2="197.2" y2="554.2" stroke="#000" stroke-width="1.3"/>
<text x="197.2" y="563.6" font-size="11.8" font-family="'Liberation Sans', 'DejaVu Sans', sans-serif" font-weight="bold" text-anchor="middle" fill="#000" textLength="18" lengthAdjust="spacingAndGlyphs" stroke="#000" stroke-width="0.35">60W</text>
<line x1="247.2" y1="551" x2="247.2" y2="554.2" stroke="#000" stroke-width="1.3"/>
<text x="247.2" y="563.6" font-size="11.8" font-family="'Liberation Sans', 'DejaVu Sans', sans-serif" font-weight="bold" text-anchor="middle" fill="#000" textLength="18" lengthAdjust="spacingAndGlyphs" stroke="#000" stroke-width="0.35">55W</text>
<line x1="297.2" y1="551" x2="297.2" y2="554.2" stroke="#000" stroke-width="1.3"/>
<text x="297.2" y="563.6" font-size="11.8" font-family="'Liberation Sans', 'DejaVu Sans', sans-serif" font-weight="bold" text-anchor="middle" fill="#000" textLength="18" lengthAdjust="spacingAndGlyphs" stroke="#000" stroke-width="0.35">50W</text>
<line x1="347.2" y1="551" x2="347.2" y2="554.2" stroke="#000" stroke-width="1.3"/>
<text x="347.2" y="563.6" font-size="11.8" font-family="'Liberation Sans', 'DejaVu Sans', sans-serif" font-weight="bold" text-anchor="middle" fill="#000" textLength="18" lengthAdjust="spacingAndGlyphs" stroke="#000" stroke-width="0.35">45W</text>
<line x1="397.2" y1="551" x2="397.2" y2="554.2" stroke="#000" stroke-width="1.3"/>
<text x="397.2" y="563.6" font-size="11.8" font-family="'Liberation Sans', 'DejaVu Sans', sans-serif" font-weight="bold" text-anchor="middle" fill="#000" textLength="18" lengthAdjust="spacingAndGlyphs" stroke="#000" stroke-width="0.35">40W</text>
<line x1="447.2" y1="551" x2="447.2" y2="554.2" stroke="#000" stroke-width="1.3"/>
<text x="447.2" y="563.6" font-size="11.8" font-family="'Liberation Sans', 'DejaVu Sans', sans-serif" font-weight="bold" text-anchor="middle" fill="#000" textLength="18" lengthAdjust="spacingAndGlyphs" stroke="#000" stroke-width="0.35">35W</text>
<line x1="497.2" y1="551" x2="497.2" y2="554.2" stroke="#000" stroke-width="1.3"/>
<text x="497.2" y="563.6" font-size="11.8" font-family="'Liberation Sans', 'DejaVu Sans', sans-serif" font-weight="bold" text-anchor="middle" fill="#000" textLength="18" lengthAdjust="spacingAndGlyphs" stroke="#000" stroke-width="0.35">30W</text>
<text transform="scale(0.8,1)" x="181.1 195.9 218.4 229.4 246.6 261.9 279.7 312.2 331.7 343 359.8 392.1 409.7 425.7 441.1 459.2 473 490.9 510.9 521.9 539.1 554.4 572.2" y="166.4" font-size="22" font-family="'DejaVu Sans', 'Liberation Sans', sans-serif" font-weight="200" stroke="#000" stroke-width="0.45">UMIDADEE/OUNEBULOSIDADE</text>
<rect x="97.7" y="568.4" width="417" height="48.4" fill="none" stroke="#111" stroke-width="1.3"/>
<text x="113.1" y="588.6" font-size="9.6" font-family="'Liberation Sans', 'DejaVu Sans', sans-serif" font-weight="bold" text-anchor="start" fill="#000" textLength="388.3" lengthAdjust="spacingAndGlyphs">[UR&gt;70(850/700/500)](azul)+[UR&gt;70(1000/850)](verde)+VENTO&gt;5m/s+ESP(500/1000)</text>
<g clip-path="url(#clip1)">
<g transform="translate(592.00,177.90)"><path d="M296.3,145.4 C296.9,143.1 303.8,137.9 306.3,137.1 C308.9,136.3 314.9,139 318,138.8 C321.1,138.6 330.7,135.2 333,135.4 C335.3,135.6 336.6,138.9 338,140.4 C339.4,142 342.7,146.8 344.7,148.8 C346.6,150.7 353.1,155.2 354.7,157.1 C356.2,159 356.8,164.1 358,165.4 C359.2,166.8 363.5,168.6 364.7,168.8 C365.8,169 366.8,165.9 368,167.1 C369.2,168.3 373.1,176.6 374.7,178.8 C376.2,180.9 379.8,183.9 381.3,185.4 C382.9,187 387,190.2 388,192.1 C389,194 388.9,200.2 389.7,202.1 C390.4,204 393.7,207.2 394.7,208.8 C395.6,210.3 396.4,214.3 398,215.4 C399.6,216.6 405.6,218.2 408,218.8 C410.4,219.4 417.1,219.3 418.3,220.4 C419.5,221.6 419.5,227.4 418.3,228.8 C417.1,230.1 410.4,231.7 408,232.1 C405.6,232.5 399.9,231.3 398,232.1 C396.1,232.9 392.9,237.6 391.3,238.8 C389.8,239.9 385.8,240.9 384.7,242.1 C383.5,243.3 382.1,246.8 381.3,248.8 C380.6,250.7 379,256.8 378,258.8 C377,260.7 374.4,264.3 373,265.4 C371.6,266.6 367.5,267.4 366.3,268.8 C365.2,270.1 364,275.2 363,277.1 C362,279 360.1,284.3 358,285.4 C355.9,286.6 347.8,287.3 344.7,287.1 C341.6,286.9 333.7,285.1 331.3,283.8 C329,282.4 324.7,276.6 324.7,275.4 C324.7,274.3 329,273.4 331.3,273.8 C333.7,274.2 341.6,278.6 344.7,278.8 C347.8,279 356.1,277.4 358,275.4 C359.9,273.5 361.3,264.8 361.3,262.1 C361.3,259.4 358.6,255.2 358,252.1 C357.4,249 356.9,238.9 356.3,235.4 C355.8,231.9 354,225.2 353,222.1 C352,219 349.8,211.5 348,208.8 C346.2,206 340.3,200.7 338,198.8 C335.7,196.8 330.3,193.7 328,192.1 C325.7,190.5 319.8,187 318,185.4 C316.2,183.9 314.2,180.7 313,178.8 C311.8,176.8 309.4,171.3 308,168.8 C306.6,166.2 302.7,159.8 301.3,157.1 C300,154.4 295.8,147.8 296.3,145.4 Z" fill="#F83C3C"/><path d="M266.3,127.1 C267.5,125.5 272.1,122.3 274.7,122.1 C277.2,121.9 284.9,125 288,125.4 C291.1,125.8 299,124.5 301.3,125.4 C303.7,126.4 308.4,131.8 308,133.8 C307.6,135.7 299.4,140.3 298,142.1 C296.6,143.8 295.9,147 296.3,148.8 C296.7,150.5 300,154.8 301.3,157.1 C302.7,159.4 306.6,166.2 308,168.8 C309.4,171.3 313,177.4 313,178.8 C313,180.1 309.4,181.2 308,180.4 C306.6,179.7 302.9,174 301.3,172.1 C299.8,170.2 296.2,165.7 294.7,163.8 C293.1,161.8 289.9,157 288,155.4 C286.1,153.9 280.3,151.8 278,150.4 C275.7,149.1 269.6,145.5 268,143.8 C266.4,142 264.9,137.4 264.7,135.4 C264.5,133.5 265.2,128.7 266.3,127.1 Z M381.3,242.1 C382.9,239.4 389.2,235.4 391.3,235.4 C393.5,235.4 398.1,240.2 399.7,242.1 C401.2,244 403.7,250.2 404.7,252.1 C405.6,254 408.4,257 408,258.8 C407.6,260.5 402.9,265.4 401.3,267.1 C399.8,268.9 396.2,272.4 394.7,273.8 C393.1,275.1 390.3,277.4 388,278.8 C385.7,280.1 377.4,284.3 374.7,285.4 C371.9,286.6 367.4,288.2 364.7,288.8 C361.9,289.3 354.4,290 351.3,290.4 C348.2,290.8 340.7,292.3 338,292.1 C335.3,291.9 329.9,289.9 328,288.8 C326.1,287.6 321.7,283.7 321.3,282.1 C320.9,280.5 323.5,275.2 324.7,275.4 C325.8,275.6 329,282.4 331.3,283.8 C333.7,285.1 341.6,286.9 344.7,287.1 C347.8,287.3 355.9,286.6 358,285.4 C360.1,284.3 362,279 363,277.1 C364,275.2 365.2,270.1 366.3,268.8 C367.5,267.4 371.6,266.6 373,265.4 C374.4,264.3 377,261.5 378,258.8 C379,256 379.8,244.8 381.3,242.1 Z M404.7,225.4 C405.8,223.9 413,221.2 414.7,220.4 C416.3,219.7 418.3,216.2 418.8,218.8 C419.3,221.3 419.7,239.6 418.8,242.1 C418,244.6 413,241.4 411.3,240.4 C409.7,239.5 405.4,235.5 404.7,233.8 C403.9,232 403.5,227 404.7,225.4 Z M308,267.1 C308.7,266.9 313.8,268.1 314.7,268.8 C315.5,269.4 316.2,272.7 315.5,272.9 C314.8,273.1 309.7,271.1 308.8,270.4 C308,269.8 307.3,267.3 308,267.1 Z M258,242.1 C260.1,242 274.3,243.3 276.3,243.8 C278.4,244.2 277.6,245.6 275.5,245.8 C273.4,245.9 260,245.2 258,244.8 C256,244.3 255.9,242.2 258,242.1 Z M286.3,262.1 C287,262.2 290.8,264.1 291.3,264.6 C291.8,265.1 291.1,266.4 290.5,266.3 C289.9,266.2 286.5,264.3 286,263.8 C285.5,263.3 285.7,262 286.3,262.1 Z M205.1,1.8 C207.3,0.6 226.2,0.4 229.1,1.8 C232,3.3 230.9,12.2 230.1,14.2 C229.3,16.2 224.9,19 222.6,18.7 C220.3,18.5 212.3,14.2 210.3,12.2 C208.2,10.3 202.9,3.1 205.1,1.8 Z M0.3,49 C1.6,49.1 8,58.9 10.7,62 C13.5,65 21.5,72.1 23.7,75 C26,77.8 30.6,85.2 30.2,86.3 C29.9,87.5 23.2,86.6 20.5,84.7 C17.8,82.8 9.8,72.9 7.5,70.1 C5.1,67.3 1.2,63.5 0.3,61 C-0.5,58.5 -0.9,48.9 0.3,49 Z" fill="#052B2B"/><use href="#basemap"/><path d="M1,44.1 C4.2,45.2 14.5,46.8 20.5,50.6 C26.5,54.4 28.1,62 36.7,66.8 C45.4,71.7 62.2,77.9 72.5,79.8 C82.8,81.7 90.9,77.1 98.5,78.2 C106.1,79.3 110.4,84.4 118,86.3 C125.6,88.2 136.4,90.7 144,89.6 C151.6,88.5 157,83.1 163.5,79.8 C170,76.6 175.4,72.3 183,70.1 C190.6,67.9 201.1,68.2 209,66.8 C216.8,65.5 223.6,63.6 230.1,62 C236.6,60.3 240.7,56.3 248,57.1 C255.3,57.9 266.9,63.5 274,66.8 C281,70.2 285.9,72.9 290.2,77.2 C294.5,81.6 296.4,89.2 300,92.8 C303.5,96.5 303.8,96.6 311.3,99.3 C318.9,102 334.4,106.4 345.5,109.1 C356.6,111.8 365.2,113.3 378,115.6 C390.7,117.9 414.5,121.5 421.8,122.7 M1,89.6 C7.8,90.1 32.4,89 41.6,92.8 C50.8,96.6 51.6,105.3 56.2,112.3 C60.8,119.4 64.4,130.2 69.2,135.1 C74.1,140 76.3,141 85.5,141.6 C94.7,142.1 109.9,140 124.5,138.3 C139.1,136.7 158.1,134.5 173.2,131.8 C188.4,129.1 200.3,124.8 215.5,122.1 C230.6,119.4 253.4,115.6 264.2,115.6 C275.1,115.6 274.5,119.4 280.5,122.1 C286.4,124.8 293.5,128.9 300,131.8 C306.5,134.8 311.9,137.3 319.5,140 C327,142.7 335.7,144.6 345.5,148.1 C355.2,151.6 365.2,157.2 378,161.1 C390.7,165 414.5,169.7 421.8,171.5 M4.2,135.1 C9.7,134.8 24.8,132.4 36.7,133.5 C48.7,134.5 61.1,139.7 75.7,141.6 C90.4,143.5 113.7,140 124.5,144.8 C135.3,149.7 133.7,168.1 140.7,170.8 C147.8,173.5 157,164.3 166.7,161.1 C176.5,157.8 188.4,154 199.2,151.3 C210.1,148.6 220.9,146.5 231.7,144.8 C242.6,143.2 253.9,139.7 264.2,141.6 C274.5,143.5 282.6,151.3 293.5,156.2 C304.3,161.1 317.8,165.7 329.2,170.8 C340.6,176 350.9,181.7 361.7,187.1 C372.5,192.5 384.2,199.4 394.2,203.3 C404.2,207.2 417.2,209.3 421.8,210.5 M1,200.1 C3.7,203.3 12.4,210.9 17.2,219.6 C22.1,228.2 24.3,242.3 30.2,252.1 C36.2,261.8 44.9,268.3 53,278.1 C61.1,287.8 68.4,303.3 79,310.6 C89.6,317.9 108.2,320.9 116.4,321.9 C124.5,323 124.2,321.1 127.7,317.1 C131.3,313 133.7,305.7 137.5,297.6 C141.3,289.4 145.1,278.6 150.5,268.3 C155.9,258 162.4,246.7 170,235.8 C177.6,225 188.4,211.5 196,203.3 C203.6,195.2 209,192 215.5,187.1 C222,182.2 227.9,177.3 235,174.1 C242,170.8 250.1,168.1 257.7,167.6 C265.3,167 271.3,168.1 280.5,170.8 C289.7,173.5 302.1,178.4 313,183.8 C323.8,189.2 334.6,196.3 345.5,203.3 C356.3,210.4 365.2,218.4 378,226.1 C390.7,233.8 414.5,245.6 421.8,249.5 M1,245.6 C3.2,248.3 9.7,255.3 14,261.8 C18.3,268.3 22.1,275.4 27,284.6 C31.9,293.8 39.5,306.2 43.2,317.1 C47,327.9 48.1,340.1 49.7,349.6 C51.4,359 52.5,369.9 53,373.9 M189.5,373.9 C189.2,364.5 186.8,334.7 187.9,317.1 C188.9,299.5 191.4,284.6 196,268.3 C200.6,252.1 207.4,232.6 215.5,219.6 C223.6,206.6 233.9,195.2 244.7,190.3 C255.6,185.5 269.1,187.6 280.5,190.3 C291.8,193 302.1,199.5 313,206.6 C323.8,213.6 334.6,223.4 345.5,232.6 C356.3,241.8 365.2,251.4 378,261.8 C390.7,272.2 414.5,289.4 421.8,295 M239.8,373.9 C238.5,364.5 232,334.7 231.7,317.1 C231.5,299.5 234.4,281.9 238.2,268.3 C242,254.8 247.4,244.5 254.5,235.8 C261.5,227.2 270.7,219 280.5,216.3 C290.2,213.6 303.2,215.8 313,219.6 C322.7,223.4 330.8,230.9 339,239.1 C347.1,247.2 356.3,256.4 361.7,268.3 C367.1,280.2 367.7,300.5 371.5,310.6 C375.2,320.6 376.1,324.1 384.5,328.4 C392.8,332.8 415.6,335.2 421.8,336.6 M1,339.8 C4.2,342 14,349 20.5,352.8 C27,356.6 35.1,359 40,362.6 C44.9,366.1 48.1,372 49.7,373.9" fill="none" stroke="#000" stroke-width="1.3" stroke-linejoin="round" stroke-linecap="round"/><path d="M1,50.6 C2.1,53.3 5.6,61.4 7.5,66.8 C9.4,72.3 11.8,77.7 12.4,83.1 C12.9,88.5 10.2,93.9 10.7,99.3 C11.3,104.8 14.3,110.7 15.6,115.6 C17,120.5 18.1,123.7 18.9,128.6 C19.7,133.5 19.7,139.4 20.5,144.8 C21.3,150.2 22.7,156.2 23.7,161.1 C24.8,166 27.5,169.7 27,174.1 C26.5,178.4 22.7,182.2 20.5,187.1 C18.3,192 16.2,197.9 14,203.3 C11.8,208.7 9.4,213.6 7.5,219.6 C5.6,225.5 3.7,232.6 2.6,239.1 C1.5,245.6 1.2,252.6 1,258.6 C0.8,264.5 1.5,272.1 1.6,274.8 M4.2,57.1 C5.6,60.3 9.9,71.2 12.4,76.6 C14.8,82 18.1,84.7 18.9,89.6 C19.7,94.5 16.4,100.4 17.2,105.8 C18.1,111.3 21.9,116.7 23.7,122.1 C25.6,127.5 27,132.9 28.6,138.3 C30.2,143.7 32.1,149.7 33.5,154.6 C34.8,159.5 37,162.7 36.7,167.6 C36.5,172.5 33.8,178.4 31.9,183.8 C30,189.2 27.5,194.7 25.4,200.1 C23.2,205.5 21,210.9 18.9,216.3 C16.7,221.7 14.5,226.6 12.4,232.6 C10.2,238.5 7,248.8 5.9,252.1 M35.1,99.3 C35.9,101 39.7,106.4 40,109.1 C40.3,111.8 37.8,116.1 36.7,115.6 C35.7,115 33.8,108.5 33.5,105.8 C33.2,103.1 34.8,100.4 35.1,99.3" fill="none" stroke="#1E3CFF" stroke-width="1.3" stroke-linejoin="round" stroke-linecap="round"/><path d="M306.3,122.1 C307.2,121 309.7,115.4 311.3,115.4 C313,115.4 313.6,120.2 316.3,122.1 C319.1,124 324.4,125.2 328,127.1 C331.6,129 335.2,131.5 338,133.8 C340.8,136 343.8,138.2 344.7,140.4 C345.5,142.7 341.9,145.2 343,147.1 C344.1,149 349.4,150.4 351.3,152.1 C353.3,153.8 354.1,156.3 354.7,157.1 M316.3,142.1 C316.6,143.8 316.6,148.8 318,152.1 C319.4,155.4 322.4,159.3 324.7,162.1 C326.9,164.9 328.6,166.3 331.3,168.8 C334.1,171.3 338,174.3 341.3,177.1 C344.7,179.9 348,182.4 351.3,185.4 C354.7,188.5 359.1,192.1 361.3,195.4 C363.6,198.8 363.6,202.1 364.7,205.4 C365.8,208.8 366.3,212.7 368,215.4 C369.7,218.2 373,219.9 374.7,222.1 C376.3,224.3 376.9,229.3 378,228.8 C379.1,228.2 379.7,221.8 381.3,218.8 C383,215.7 386.6,213.8 388,210.4 C389.4,207.1 390.2,202.4 389.7,198.8 C389.1,195.2 387.2,191.8 384.7,188.8 C382.2,185.7 378,183.2 374.7,180.4 C371.3,177.7 368,174.9 364.7,172.1 C361.3,169.3 358,167.1 354.7,163.8 C351.3,160.4 348,155.2 344.7,152.1 C341.3,149 337.4,146.3 334.7,145.4 C331.9,144.6 328.8,145.4 328,147.1 C327.2,148.8 328.3,153.2 329.7,155.4 C331.1,157.7 335.2,159.6 336.3,160.4 M321.3,212.1 C321.9,213.8 323.6,218.2 324.7,222.1 C325.8,226 327.7,231 328,235.4 C328.3,239.9 325.8,244.9 326.3,248.8 C326.9,252.7 330.2,255.4 331.3,258.8 C332.4,262.1 333.3,266 333,268.8 C332.7,271.5 329.1,273.2 329.7,275.4 C330.2,277.7 333.3,281.3 336.3,282.1 C339.4,282.9 344.4,281.8 348,280.4 C351.6,279 355.8,276.8 358,273.8 C360.2,270.7 361.6,265.7 361.3,262.1 C361.1,258.5 358,256 356.3,252.1 C354.7,248.2 353.3,242.7 351.3,238.8 C349.4,234.9 347.4,231.5 344.7,228.8 C341.9,226 337.4,224 334.7,222.1 C331.9,220.2 329.1,217.9 328,217.1 M354.7,218.8 C355.2,220.4 356.9,224.6 358,228.8 C359.1,232.9 361.1,239.3 361.3,243.8 C361.6,248.2 359.4,253.2 359.7,255.4 C359.9,257.7 362.4,256.8 363,257.1 M384.7,202.1 C385.2,203.5 387.2,207.7 388,210.4 C388.8,213.2 389.9,216.3 389.7,218.8 C389.4,221.3 386.9,224.3 386.3,225.4" fill="none" stroke="#1E3CFF" stroke-width="1.4" stroke-linejoin="round" stroke-linecap="round"/><path d="M2.2,47 1.2,49 4,52.3 8,54 10.5,53 M10,64 12,61 11.5,60 9,61.2 7.1,63 7,64 8,64.7 10,64 M17.2,114 18.1,112 17,111 15.7,113 16,114.2 17.2,114 M5,116 5.1,114 4,113.3 3,114.5 3,116 4,116.6 5,116 M29,135.8 26.8,137 26.2,138 27.2,140 30,141 M21,157 21.7,156 21.8,154 20.9,152 19,149.8 17,149.3 11.9,150 11.4,151 12,153 14.4,156 18,157.7 21,157 M31.1,160 28.9,163 28.4,165 30,166 31.6,165 M0,186.8 5,189.4 8,188.2 9.5,186 8.2,184 4.1,181 2,177.8 0,177.3 M26,203.9 25,203 22.4,197 21,196.1 19,196.5 17.5,199 17.8,202 19.2,205 21.3,206 M0,215 1,214 3,213.8 8,215.6 11,218.3 12.9,218 12.8,217 9,214.4 6,210.8 1,209.2 0,208.3 M0,55.6 1.6,57 2,59 1.6,62 0,65.8 M25,116.5 22.7,114 22.6,111 23.4,108 M20,85.6 11,84 9.9,83 8.6,78 4.7,74 3.1,71 3.1,70 4,69.2 11,68.8 15,66.9 M0,96.4 4,97.5 6,96.9 7.2,95 8,91 9,90.1 11,90.6 15.6,94 14.8,96 11.8,100 11.8,102 13.2,106 13.1,108 12,109.7 10,110.2 7.6,106 5,104.6 3,106.2 0,112.2 M0,118.6 3,121.7 5.6,123 6.7,128 9,128.8 13.1,127 16,122 17.9,120 20,119.4 21.4,120 22.4,122 20.6,126 18.7,133 18.9,137 21,140.4 23.6,143 27,144.4 30,144.4 M28,199.6 24,193.8 18,190.5 17.4,190 17.5,189 21,187.8 25,185.3 30,184.5 M31,155.2 25,159.8 24.2,159 24.4,155 21,148.5 19,146.9 15,145.9 11,140.9 8,140.5 5,141.3 3.2,143 2.6,145 4,149 11,157.9 16,159.8 23,160.5 23.4,161 22.2,166 23,168.7 31,172.9 M31.1,176 27,177.4 22,172.4 20,172.6 17.1,175 15.9,181 15,182.6 14,182.9 9,181 7.6,180 6.5,178 6.8,176 8,174.6 14.1,173 14.6,172 14.1,170 12,167.9 10,168.1 7,170.8 0,174.1 M0,168.1 2.9,166 5.8,162 3,156.5 0,154.7 M0,192.5 3,194.4 8,195.7 12,197.9 18,210 20,210.5 24,209.4 M11,238.3 4,241.4 0,242.1 M0,220.7 2,218.7 4,218 10,222.1 13,222.4 19,221.5 M20.6,218 18,214.1 12,212.4 3.9,206 0,199.9 M0,100.5 1.3,103 0,108.2 M0,131.7 3,132 7.5,135 4,137.3 2,137.7 0,137.1 M12,135.2 10.1,135 9.9,134 11.4,133 13,132.8 13.3,134 12,135.2 M29,152.1 26,152.1 24.3,150 24.1,148 26,147.1 30,147.5 M12,208.5 10.6,207 11,205.7 12.7,207 13,208 12,208.5 M14,233 12.9,233 11.6,232 12,227.7 14,226.1 17,226 M0,226.9 2,226.9 3,227.6 6.6,234 6.6,235 5,237 0,239.4" fill="none" stroke="#1E3CFF" stroke-width="1.2" stroke-linejoin="round" stroke-linecap="round"/><path d="M5,172 4.8,174 6,174.7 9,173.7 M15.5,210 18.2,207 18.9,204 18.2,200 21,195 21.4,189 20.2,187 19,186.5 16,186.8 12,189.2 8,190.2 6.1,193 6.6,195 8,196.5 14,196.7 17.7,200 16.6,202 11,204.9 10.4,206 10.8,209 12,210.3 14,210.6 15.5,210 M27.2,196 26,196.1 25.5,197 25.9,198 28,199.9 29.4,200 M0,212.6 1.6,214 3.6,219 3.4,220 0,222.6 M0,228.9 1.4,232 2.7,238 4,239.4 5,239.1 6,235 11,231.3 16,224.4 16.8,218 16,215.8 10,214.6 7,212.1 4.8,206 6.5,203 6.4,201 5,199.3 0,198.1 M29,209.1 25.9,210 25.1,211 29,213.4 M10,222.9 6.3,221 5.6,220 6.4,219 9,218.5 10,219.3 10.8,222 10,222.9 M0,263.5 3,262.9 6,260.4 6.7,259 6,257.4 2.6,254 1.6,252 5.2,248 5.9,246 5,244.7 0,243.1 M27,243.2 23,247 23.6,249 25,249.8 M7.3,276 8.3,275 9.2,270 9,268.9 7,267.9 5,269 4.5,274 5,275.4 7.3,276 M0,298 1.5,297 2.5,295 0,290 M14,296 11,295.6 9.7,298 10,302.3 13,303.3 M8,329.7 5,329.6 2,333.2 0,334.2 M19,182 16.7,182 15,181 15.1,179 16,177.7 M0,182.8 3,184.4 4.3,187 3.9,189 1.5,194 0,195.2 M28,224.4 26,224.6 24.3,224 23.7,222 25,220.1 26,220 28.6,222 M19,244.2 13,243.3 11.6,242 11.3,240 13,238.8 19,240.4 20.8,240 24.4,232 26,230.9 28,231.6 M28,237.7 22.5,241 19,244.2 M16,283.5 14,284 12.4,281 12.2,278 13,276.5 15,275.5 17,276.4 18.3,278 M15,289.5 13,289.2 12,288.2 12,286.9 13,285.5 14,285.2 15,286.7 15.6,289 15,289.5 M0,310.8 2.7,314 3.4,316 2.9,318 0,322.4" fill="none" stroke="#000" stroke-width="1.1" stroke-linejoin="round" stroke-linecap="round"/><rect x="87.7" y="74.4" width="21.5" height="7.6" fill="#fff"/><text x="98.5" y="81.5" font-size="9" font-family="Liberation Sans" font-weight="bold" fill="#000" text-anchor="middle" textLength="20" lengthAdjust="spacingAndGlyphs" stroke="#000" stroke-width="0.25">9600</text><rect x="219.3" y="58.1" width="21.5" height="7.6" fill="#fff"/><text x="230.1" y="65.2" font-size="9" font-family="Liberation Sans" font-weight="bold" fill="#000" text-anchor="middle" textLength="20" lengthAdjust="spacingAndGlyphs" stroke="#000" stroke-width="0.25">9600</text><rect x="300.6" y="95.5" width="21.5" height="7.6" fill="#fff"/><text x="311.3" y="102.6" font-size="9" font-family="Liberation Sans" font-weight="bold" fill="#000" text-anchor="middle" textLength="20" lengthAdjust="spacingAndGlyphs" stroke="#000" stroke-width="0.25">9600</text><rect x="30.9" y="89" width="21.5" height="7.6" fill="#fff"/><text x="41.6" y="96.1" font-size="9" font-family="Liberation Sans" font-weight="bold" fill="#000" text-anchor="middle" textLength="20" lengthAdjust="spacingAndGlyphs" stroke="#000" stroke-width="0.25">9520</text><rect x="162.5" y="128" width="21.5" height="7.6" fill="#fff"/><text x="173.2" y="135.1" font-size="9" font-family="Liberation Sans" font-weight="bold" fill="#000" text-anchor="middle" textLength="20" lengthAdjust="spacingAndGlyphs" stroke="#000" stroke-width="0.25">9520</text><rect x="308.7" y="136.1" width="21.5" height="7.6" fill="#fff"/><text x="319.5" y="143.2" font-size="9" font-family="Liberation Sans" font-weight="bold" fill="#000" text-anchor="middle" textLength="20" lengthAdjust="spacingAndGlyphs" stroke="#000" stroke-width="0.25">9520</text><rect x="26" y="129.6" width="21.5" height="7.6" fill="#fff"/><text x="36.7" y="136.7" font-size="9" font-family="Liberation Sans" font-weight="bold" fill="#000" text-anchor="middle" textLength="20" lengthAdjust="spacingAndGlyphs" stroke="#000" stroke-width="0.25">9440</text><rect x="130" y="167" width="21.5" height="7.6" fill="#fff"/><text x="140.7" y="174.1" font-size="9" font-family="Liberation Sans" font-weight="bold" fill="#000" text-anchor="middle" textLength="20" lengthAdjust="spacingAndGlyphs" stroke="#000" stroke-width="0.25">9440</text><rect x="284.3" y="152.4" width="21.5" height="7.6" fill="#fff"/><text x="295.1" y="159.4" font-size="9" font-family="Liberation Sans" font-weight="bold" fill="#000" text-anchor="middle" textLength="20" lengthAdjust="spacingAndGlyphs" stroke="#000" stroke-width="0.25">9440</text><rect x="9.7" y="193" width="21.5" height="7.6" fill="#fff"/><text x="20.5" y="200.1" font-size="9" font-family="Liberation Sans" font-weight="bold" fill="#000" text-anchor="middle" textLength="20" lengthAdjust="spacingAndGlyphs" stroke="#000" stroke-width="0.25">9360</text><rect x="247" y="164.4" width="21.5" height="7.6" fill="#fff"/><text x="257.7" y="171.5" font-size="9" font-family="Liberation Sans" font-weight="bold" fill="#000" text-anchor="middle" textLength="20" lengthAdjust="spacingAndGlyphs" stroke="#000" stroke-width="0.25">9360</text><rect x="105.6" y="318.1" width="21.5" height="7.6" fill="#fff"/><text x="116.4" y="325.2" font-size="9" font-family="Liberation Sans" font-weight="bold" fill="#000" text-anchor="middle" textLength="20" lengthAdjust="spacingAndGlyphs" stroke="#000" stroke-width="0.25">9360</text><rect x="-3.3" y="245" width="21.5" height="7.6" fill="#fff"/><text x="7.5" y="252.1" font-size="9" font-family="Liberation Sans" font-weight="bold" fill="#000" text-anchor="middle" textLength="20" lengthAdjust="spacingAndGlyphs" stroke="#000" stroke-width="0.25">9280</text><rect x="243.7" y="184.2" width="21.5" height="7.6" fill="#fff"/><text x="254.5" y="191.3" font-size="9" font-family="Liberation Sans" font-weight="bold" fill="#000" text-anchor="middle" textLength="20" lengthAdjust="spacingAndGlyphs" stroke="#000" stroke-width="0.25">9280</text><rect x="277.8" y="210.9" width="21.5" height="7.6" fill="#fff"/><text x="288.6" y="217.9" font-size="9" font-family="Liberation Sans" font-weight="bold" fill="#000" text-anchor="middle" textLength="20" lengthAdjust="spacingAndGlyphs" stroke="#000" stroke-width="0.25">9200</text></g>
</g>
<rect x="592" y="177.9" width="420" height="373.1" fill="none" stroke="#000" stroke-width="2"/>
<line x1="588.5" y1="201.2" x2="592" y2="201.2" stroke="#000" stroke-width="1.3"/>
<text x="586.5" y="205.6" font-size="11.8" font-family="'Liberation Sans', 'DejaVu Sans', sans-serif" font-weight="bold" text-anchor="end" fill="#000" textLength="17" lengthAdjust="spacingAndGlyphs" stroke="#000" stroke-width="0.35">12S</text>
<line x1="588.5" y1="236.2" x2="592" y2="236.2" stroke="#000" stroke-width="1.3"/>
<text x="586.5" y="240.6" font-size="11.8" font-family="'Liberation Sans', 'DejaVu Sans', sans-serif" font-weight="bold" text-anchor="end" fill="#000" textLength="17" lengthAdjust="spacingAndGlyphs" stroke="#000" stroke-width="0.35">15S</text>
<line x1="588.5" y1="271.2" x2="592" y2="271.2" stroke="#000" stroke-width="1.3"/>
<text x="586.5" y="275.6" font-size="11.8" font-family="'Liberation Sans', 'DejaVu Sans', sans-serif" font-weight="bold" text-anchor="end" fill="#000" textLength="17" lengthAdjust="spacingAndGlyphs" stroke="#000" stroke-width="0.35">18S</text>
<line x1="588.5" y1="306.2" x2="592" y2="306.2" stroke="#000" stroke-width="1.3"/>
<text x="586.5" y="310.6" font-size="11.8" font-family="'Liberation Sans', 'DejaVu Sans', sans-serif" font-weight="bold" text-anchor="end" fill="#000" textLength="17" lengthAdjust="spacingAndGlyphs" stroke="#000" stroke-width="0.35">21S</text>
<line x1="588.5" y1="341.1" x2="592" y2="341.1" stroke="#000" stroke-width="1.3"/>
<text x="586.5" y="345.5" font-size="11.8" font-family="'Liberation Sans', 'DejaVu Sans', sans-serif" font-weight="bold" text-anchor="end" fill="#000" textLength="17" lengthAdjust="spacingAndGlyphs" stroke="#000" stroke-width="0.35">24S</text>
<line x1="588.5" y1="376.1" x2="592" y2="376.1" stroke="#000" stroke-width="1.3"/>
<text x="586.5" y="380.5" font-size="11.8" font-family="'Liberation Sans', 'DejaVu Sans', sans-serif" font-weight="bold" text-anchor="end" fill="#000" textLength="17" lengthAdjust="spacingAndGlyphs" stroke="#000" stroke-width="0.35">27S</text>
<line x1="588.5" y1="411.1" x2="592" y2="411.1" stroke="#000" stroke-width="1.3"/>
<text x="586.5" y="415.5" font-size="11.8" font-family="'Liberation Sans', 'DejaVu Sans', sans-serif" font-weight="bold" text-anchor="end" fill="#000" textLength="17" lengthAdjust="spacingAndGlyphs" stroke="#000" stroke-width="0.35">30S</text>
<line x1="588.5" y1="446.1" x2="592" y2="446.1" stroke="#000" stroke-width="1.3"/>
<text x="586.5" y="450.5" font-size="11.8" font-family="'Liberation Sans', 'DejaVu Sans', sans-serif" font-weight="bold" text-anchor="end" fill="#000" textLength="17" lengthAdjust="spacingAndGlyphs" stroke="#000" stroke-width="0.35">33S</text>
<line x1="588.5" y1="481" x2="592" y2="481" stroke="#000" stroke-width="1.3"/>
<text x="586.5" y="485.4" font-size="11.8" font-family="'Liberation Sans', 'DejaVu Sans', sans-serif" font-weight="bold" text-anchor="end" fill="#000" textLength="17" lengthAdjust="spacingAndGlyphs" stroke="#000" stroke-width="0.35">36S</text>
<line x1="588.5" y1="516" x2="592" y2="516" stroke="#000" stroke-width="1.3"/>
<text x="586.5" y="520.4" font-size="11.8" font-family="'Liberation Sans', 'DejaVu Sans', sans-serif" font-weight="bold" text-anchor="end" fill="#000" textLength="17" lengthAdjust="spacingAndGlyphs" stroke="#000" stroke-width="0.35">39S</text>
<line x1="588.5" y1="551" x2="592" y2="551" stroke="#000" stroke-width="1.3"/>
<text x="586.5" y="555.4" font-size="11.8" font-family="'Liberation Sans', 'DejaVu Sans', sans-serif" font-weight="bold" text-anchor="end" fill="#000" textLength="17" lengthAdjust="spacingAndGlyphs" stroke="#000" stroke-width="0.35">42S</text>
<line x1="592" y1="551" x2="592" y2="554.2" stroke="#000" stroke-width="1.3"/>
<text x="592" y="563.6" font-size="11.8" font-family="'Liberation Sans', 'DejaVu Sans', sans-serif" font-weight="bold" text-anchor="middle" fill="#000" textLength="18" lengthAdjust="spacingAndGlyphs" stroke="#000" stroke-width="0.35">70W</text>
<line x1="642" y1="551" x2="642" y2="554.2" stroke="#000" stroke-width="1.3"/>
<text x="642" y="563.6" font-size="11.8" font-family="'Liberation Sans', 'DejaVu Sans', sans-serif" font-weight="bold" text-anchor="middle" fill="#000" textLength="18" lengthAdjust="spacingAndGlyphs" stroke="#000" stroke-width="0.35">65W</text>
<line x1="692" y1="551" x2="692" y2="554.2" stroke="#000" stroke-width="1.3"/>
<text x="692" y="563.6" font-size="11.8" font-family="'Liberation Sans', 'DejaVu Sans', sans-serif" font-weight="bold" text-anchor="middle" fill="#000" textLength="18" lengthAdjust="spacingAndGlyphs" stroke="#000" stroke-width="0.35">60W</text>
<line x1="742" y1="551" x2="742" y2="554.2" stroke="#000" stroke-width="1.3"/>
<text x="742" y="563.6" font-size="11.8" font-family="'Liberation Sans', 'DejaVu Sans', sans-serif" font-weight="bold" text-anchor="middle" fill="#000" textLength="18" lengthAdjust="spacingAndGlyphs" stroke="#000" stroke-width="0.35">55W</text>
<line x1="792" y1="551" x2="792" y2="554.2" stroke="#000" stroke-width="1.3"/>
<text x="792" y="563.6" font-size="11.8" font-family="'Liberation Sans', 'DejaVu Sans', sans-serif" font-weight="bold" text-anchor="middle" fill="#000" textLength="18" lengthAdjust="spacingAndGlyphs" stroke="#000" stroke-width="0.35">50W</text>
<line x1="842" y1="551" x2="842" y2="554.2" stroke="#000" stroke-width="1.3"/>
<text x="842" y="563.6" font-size="11.8" font-family="'Liberation Sans', 'DejaVu Sans', sans-serif" font-weight="bold" text-anchor="middle" fill="#000" textLength="18" lengthAdjust="spacingAndGlyphs" stroke="#000" stroke-width="0.35">45W</text>
<line x1="892" y1="551" x2="892" y2="554.2" stroke="#000" stroke-width="1.3"/>
<text x="892" y="563.6" font-size="11.8" font-family="'Liberation Sans', 'DejaVu Sans', sans-serif" font-weight="bold" text-anchor="middle" fill="#000" textLength="18" lengthAdjust="spacingAndGlyphs" stroke="#000" stroke-width="0.35">40W</text>
<line x1="942" y1="551" x2="942" y2="554.2" stroke="#000" stroke-width="1.3"/>
<text x="942" y="563.6" font-size="11.8" font-family="'Liberation Sans', 'DejaVu Sans', sans-serif" font-weight="bold" text-anchor="middle" fill="#000" textLength="18" lengthAdjust="spacingAndGlyphs" stroke="#000" stroke-width="0.35">35W</text>
<line x1="992" y1="551" x2="992" y2="554.2" stroke="#000" stroke-width="1.3"/>
<text x="992" y="563.6" font-size="11.8" font-family="'Liberation Sans', 'DejaVu Sans', sans-serif" font-weight="bold" text-anchor="middle" fill="#000" textLength="18" lengthAdjust="spacingAndGlyphs" stroke="#000" stroke-width="0.35">30W</text>
<text transform="scale(0.8,1)" x="776.4 791.7 807.3 824.1 840.5 855.8 873 889.8 922.6 936.8 954.1 986.6 1003 1020.6 1034.3 1051.6 1084.8 1116.2 1131 1153.5 1164.5 1181.7 1197 1214.8" y="166.4" font-size="22" font-family="'DejaVu Sans', 'Liberation Sans', sans-serif" font-weight="200" stroke="#000" stroke-width="0.45">PANCADASPORCALOREUMIDADE</text>
<rect x="592.7" y="568.4" width="416.4" height="48.4" fill="none" stroke="#111" stroke-width="1.3"/>
<text x="671.8" y="588.6" font-size="9.6" font-family="'Liberation Sans', 'DejaVu Sans', sans-serif" font-weight="bold" text-anchor="start" fill="#000" textLength="259.5" lengthAdjust="spacingAndGlyphs">[K&gt;30+TTS&gt;45](verde)  +  [K&gt;30+TTS&gt;45+LI&lt;-1](vermelho)</text>
<text x="710.8" y="601.8" font-size="9.6" font-family="'Liberation Sans', 'DejaVu Sans', sans-serif" font-weight="bold" text-anchor="start" fill="#000" textLength="181.2" lengthAdjust="spacingAndGlyphs">[LIF](cont.azul)  +  [HGT(300)](linha preta)</text>
<g clip-path="url(#clip2)">
<g transform="translate(1086.75,177.90)"><path d="M302.6,-1.9 C315.8,-4.8 408.6,-14.1 422.6,-1.9 C436.6,10.3 425.9,90.2 422.6,102.4 C419.3,114.5 399.3,101.6 394.2,102.4 C389,103.1 381,106.8 378.4,108.7 C375.8,110.5 373.9,115.6 372.1,118.2 C370.2,120.7 365.5,130.1 362.6,130.8 C359.6,131.5 350.5,127.1 346.8,124.5 C343.1,121.9 334.7,112.4 331,108.7 C327.3,105 318.9,96.6 315.2,92.9 C311.5,89.2 302.3,80.8 299.4,77.1 C296.5,73.4 290.3,65 289.9,61.3 C289.6,57.6 294,49.9 296.2,45.5 C298.5,41.1 308.1,28.9 308.9,23.4 C309.6,17.8 289.3,1 302.6,-1.9 Z" fill="#F83C3C"/><path d="M302.6,-1.9 C321.5,-6.1 402.6,-19.3 422.6,-1.9 C442.6,15.5 427.4,85 422.6,102.4 C417.9,119.7 401.6,101.3 394.2,102.4 C386.8,103.4 382.1,106 378.4,108.7 C374.7,111.3 374.7,114.5 372.1,118.2 C369.4,121.8 366.8,129.7 362.6,130.8 C358.4,131.9 352.1,128.2 346.8,124.5 C341.5,120.8 336.3,113.9 331,108.7 C325.7,103.4 320.5,98.1 315.2,92.9 C309.9,87.6 303.6,82.4 299.4,77.1 C295.2,71.8 290.4,66.6 289.9,61.3 C289.4,56 293.1,51.8 296.2,45.5 C299.4,39.2 307.8,31.3 308.9,23.4 C309.9,15.5 283.6,2.3 302.6,-1.9 Z" fill="url(#spkW)"/><path d="M267.8,137.1 C275.2,136.6 299.4,140.3 315.2,146.6 C331,152.9 346.8,166.1 362.6,175 C378.4,184 400,192.9 410,200.3 C420,207.7 422.6,215 422.6,219.3 C422.6,223.5 420,228.7 410,225.6 C400,222.4 378.4,208.7 362.6,200.3 C346.8,191.9 330.5,183.5 315.2,175 C299.9,166.6 278.9,156.1 271,149.8 C263.1,143.4 260.4,137.6 267.8,137.1 Z M239.4,266.7 C241.5,260.3 252,257.7 258.3,260.3 C264.6,263 272,273.5 277.3,282.5 C282.5,291.4 284.7,304.6 289.9,314 C295.2,323.5 304.7,333 308.9,339.3 C313.1,345.6 319.4,349.9 315.2,352 C311,354.1 292.6,355.6 283.6,352 C274.6,348.3 267.8,338.8 261.5,329.8 C255.2,320.9 249.4,308.8 245.7,298.2 C242,287.7 237.3,273 239.4,266.7 Z M234.6,200.3 C236.2,196.6 246,194.5 248.8,197.1 C251.7,199.8 253.6,212.4 252,216.1 C250.4,219.8 242.3,221.9 239.4,219.3 C236.5,216.6 233.1,204 234.6,200.3 Z M283.6,307.7 C286.2,304.6 304.7,310.9 315.2,314 C325.7,317.2 336.3,323.5 346.8,326.7 C357.3,329.8 365.7,333 378.4,333 C391,333 415.2,324.1 422.6,326.7 C430,329.3 430,344.6 422.6,348.8 C415.2,353 393.7,352.5 378.4,352 C363.1,351.4 344.2,348.8 331,345.6 C317.8,342.5 307.3,339.3 299.4,333 C291.5,326.7 281,310.9 283.6,307.7 Z M315.2,225.6 C317.8,224.5 326.8,233 331,238.2 C335.2,243.5 341,253.5 340.5,257.2 C339.9,260.9 332,262.4 327.8,260.3 C323.6,258.2 317.3,250.3 315.2,244.5 C313.1,238.7 312.6,226.6 315.2,225.6 Z M94,1.3 C100.4,-1.4 123,-3.5 131.9,1.3 C140.9,6 146.7,22.3 147.7,29.7 C148.8,37.1 143,44.4 138.3,45.5 C133.5,46.5 126.7,40.8 119.3,36 C111.9,31.3 98.2,22.8 94,17.1 C89.8,11.3 87.7,3.9 94,1.3 Z M-0.8,4.4 C3.5,-0.8 19.3,-0.8 24.5,4.4 C29.8,9.7 31.9,25.5 30.8,36 C29.8,46.5 22.4,63.4 18.2,67.6 C14,71.8 8.7,66.6 5.6,61.3 C2.4,56 0.3,45.5 -0.8,36 C-1.8,26.5 -5,9.7 -0.8,4.4 Z M94,124.5 C96.7,121.8 110.4,121.3 113,124.5 C115.6,127.6 112.5,140.8 109.8,143.4 C107.2,146.1 99.8,143.4 97.2,140.3 C94.6,137.1 91.4,127.1 94,124.5 Z M-0.8,329.8 C3.5,324.6 18.2,332.5 24.5,339.3 C30.8,346.2 41.4,365.7 37.2,370.9 C33,376.2 5.6,377.8 -0.8,370.9 C-7.1,364.1 -5,335.1 -0.8,329.8 Z M163.5,212.9 C166.7,211.9 179.9,214 182.5,216.1 C185.1,218.2 182.5,224.5 179.3,225.6 C176.2,226.6 166.2,224.5 163.5,222.4 C160.9,220.3 160.4,214 163.5,212.9 Z M188.8,250.9 C190.9,248.8 199.9,250.9 201.5,254 C203,257.2 200.4,267.7 198.3,269.8 C196.2,271.9 190.4,269.8 188.8,266.7 C187.2,263.5 186.7,253 188.8,250.9 Z M327.8,149.8 C330.5,156.1 351.5,167.7 362.6,175 C373.6,182.4 386.3,194 394.2,194 C402.1,194 412.6,181.3 410,175 C407.3,168.7 388.9,162.4 378.4,156.1 C367.9,149.8 355.2,138.2 346.8,137.1 C338.4,136.1 325.2,143.4 327.8,149.8 Z" fill="url(#spkR)"/><path d="M277.3,134 C279.1,132.5 293.1,140.1 299.4,143.4 C305.7,146.8 323.6,158 331,162.4 C338.4,166.8 356,176.9 362.6,181.3 C369.2,185.8 382.3,195.9 387.9,200.3 C393.4,204.7 405.9,216.3 410,219.3 C414,222.2 421.1,218.9 422.6,225.6 C424.1,232.2 424.1,269.5 422.6,276.1 C421.1,282.8 414,283.2 410,282.5 C405.9,281.7 393.4,273.5 387.9,269.8 C382.3,266.1 367.4,254.5 362.6,250.9 C357.8,247.2 350.5,241.9 346.8,238.2 C343.1,234.5 334.7,223.7 331,219.3 C327.3,214.8 318.9,205.5 315.2,200.3 C311.5,195.1 303.1,180.2 299.4,175 C295.7,169.9 286.2,160.9 283.6,156.1 C281,151.3 275.4,135.4 277.3,134 Z M280.4,241.4 C281.7,239.2 292.9,245.1 296.2,247.7 C299.6,250.3 305.6,259.8 308.9,263.5 C312.2,267.2 320.3,276.3 324.7,279.3 C329.1,282.2 342,288.2 346.8,288.8 C351.6,289.3 363,282.9 365.7,284 C368.5,285.1 372.7,295.7 370.5,298.2 C368.3,300.8 352.5,305.8 346.8,306.1 C341.1,306.5 327,303.8 321.5,301.4 C316,299 303.6,289.7 299.4,285.6 C295.2,281.6 287.4,271.8 285.2,266.7 C283,261.5 279.2,243.6 280.4,241.4 Z M283.6,238.2 C285.1,236.4 298.9,231.5 302.6,231.9 C306.2,232.3 315.2,239.5 315.2,241.4 C315.2,243.2 305.5,247 302.6,247.7 C299.6,248.4 292.1,248.8 289.9,247.7 C287.7,246.6 282.1,240.1 283.6,238.2 Z" fill="url(#spkG2)"/><path d="M315.2,298.2 C317,297.1 339.4,305.9 346.8,307.7 C354.2,309.6 371,313.7 378.4,314 C385.8,314.4 404.8,310.9 410,310.9 C415.1,310.9 421.1,312.9 422.6,314 C424.1,315.2 427.8,319.6 422.6,320.4 C417.5,321.1 389.1,320.7 378.4,320.4 C367.7,320 338.4,319.8 331,317.2 C323.6,314.6 313.4,299.4 315.2,298.2 Z M394.2,219.3 C397.5,216.3 419.3,222.3 422.6,231.9 C425.9,241.5 424.8,294.4 422.6,301.4 C420.4,308.4 407,297.1 403.7,291.9 C400.3,286.8 395.3,265.7 394.2,257.2 C393.1,248.7 390.9,222.2 394.2,219.3 Z M277.3,130.8 C279.3,129.7 294.4,132.1 296.2,134 C298.1,135.8 295.1,145.5 293.1,146.6 C291.1,147.7 280.7,145.3 278.9,143.4 C277,141.6 275.3,131.9 277.3,130.8 Z" fill="url(#spkB2)"/><use href="#basemap"/><path d="M1.1,192.4 20.2,198.3 36.8,205.4 50.9,212.9 76.2,228.9 85.1,233.6 92.7,235.8 98.7,235.4 102.4,234 105.8,231.9 111.6,226.4 118,218.7 136.2,194.9 149.6,180 161.7,169.5 174.9,160.6 183.8,155.9 193,152 202.4,148.7 214,145.6 223.8,143.7 233.7,142.5 245.7,141.7 257.7,141.6 275.7,142.8 293.4,145.5 309,149.3 326.1,154.9 342.7,161.9 362.5,171.4 385.5,183.6 418.7,202 M1.8,125.1 26.5,116.9 60.3,104.6 83.1,97.1 98.5,92.8 122,87.6 139.7,84.5 161.6,82.4 185.6,81.3 213.6,81.2 245.5,82 269.5,83.5 291.3,86 309,89.4 320.6,92.5 333.8,97.1 374.4,114.1 391.2,120.6 404.5,125 419.8,129.5 M0.3,233.2 14.3,240.9 20.9,245.5 27,250.6 36.7,260.7 46.1,273.7 52,284.1 57.8,296.8 63.5,311.8 77.3,351.5 81.9,362.5 86.3,371.5 M215.6,372.3 218.2,364.7 219.6,358.9 220.7,351 220.9,343 219.7,327 214.5,293.4 212.8,277.5 212.5,261.5 213.1,253.6 214.4,245.7 216.4,237.9 219.3,230.5 223,223.4 226.5,218.5 231.9,212.6 236.5,208.8 243.3,204.5 250.6,201.3 260.3,198.8 270.2,197.6 280.2,197.7 292.1,199.2 303.8,201.9 315.2,205.6 328.1,211 340.5,217.4 352.5,224.7 363.9,232.8 374.7,241.7 384.9,251.3 394.5,261.5 403.3,272.4 411.4,283.8 419.8,297.4 M150.4,372.7 157.4,349.8 161.8,328.3 163.9,308.4 165.5,270.4 166.5,256.5 168.8,240.6 172.2,227.1 175.6,217.6 178.9,210.4 184,201.8 188.7,195.3 194.1,189.4 200,184 206.5,179.3 213.4,175.3 222.5,171.2 234,167.8 243.9,166.1 255.8,165.3 267.8,165.6 279.7,166.9 291.5,169.1 305.1,172.7 318.3,177.2 331.3,182.5 345.7,189.5 359.7,197.1 373.4,205.4 388.4,215.3 403,225.9 418.8,238.2 M1.3,162.2 23.3,162.7 65.2,164.8 77.2,164.7 87.2,163.7 97,161.7 106.5,158.8 158.4,137.7 171.7,133.4 185.2,129.9 204.8,125.7 220.6,123.4 240.6,122.1 262.6,121.8 278.5,122.8 296.4,125 310.2,127.6 323.7,131.4 346,140 395.2,162.4 419.1,172.6 M0.3,77.6 19.8,67.3 34.7,61.5 42.4,59.4 52.2,57.4 70.1,55.3 92,54.5 176,54.4 210,55.7 257.9,58.6 271.9,59.8 287.7,62 303.4,64.9 315.1,67.9 334,74.4 367,88.7 383.7,95.3 400.8,101 418.2,105.7 M186.7,372.2 190,362.8 192.7,353.2 194.7,343.4 196,333.4 196.5,315.5 195,281.5 194.9,265.5 196.1,249.5 198.9,235.8 201.3,228.2 204.5,220.9 208.4,213.9 211.9,209 217.2,203.1 221.7,199.1 228.2,194.5 235.3,190.7 244.7,187.4 254.5,185.3 264.5,184.5 276.4,184.8 288.3,186.4 300,189 311.5,192.5 324.6,197.6 337.2,203.5 349.5,210.2 361.4,217.6 374.5,226.9 385.4,235.6 397.4,246.2 408.7,257.5 419.5,269.3 M1.4,223.2 15.7,230.3 28.9,239.3 39.3,248.7 49.5,261 56.9,272.9 63.9,287.3 69.7,302.2 82.2,338.1 89.5,354.5 93.7,361.3 99.1,367.2 104.3,370.2 108.2,370.6 110.2,370.2 113.8,368.4 116.8,365.9 120.6,361.2 126.3,350.7 130.9,337.5 133.7,325.8 136,312 140.2,266.2 142.8,248.4 147,230.9 153.2,214 157.7,205.1 161.8,198.2 167.7,190.1 172.9,184.1 178.7,178.5 184.8,173.4 191.5,168.9 200.2,164.1 209.4,160.2 220.9,156.6 232.6,154.3 244.6,153.1 256.5,152.8 270.5,153.5 284.4,155.4 298.1,158.4 309.6,161.6 322.8,166.2 335.8,171.6 350.2,178.5 366.1,186.9 381.7,195.9 418.9,219.4 M373.3,348.3 369.2,352.7 364.6,356.6 355.9,361.4 346.3,364 340.3,364.6 334.3,364.4 322.5,362.3 311.3,358.1 299.1,351.3 287.9,342.9 276.5,331.6 266.7,319 258.6,305.2 253.2,292.3 249.7,278.8 248.7,266.9 249.1,260.9 250.2,255 252.1,249.3 253.8,245.7 258.4,239.1 262.7,235 269.5,230.9 277.1,228.2 285,227 295,227.2 304.8,228.9 314.4,231.7 323.6,235.6 334.1,241.4 344,248.2 353.1,256 361.4,264.7 367.5,272.6 373.7,282.8 377.9,291.9 381,301.4 382.7,311.3 382.9,321.3 381.8,329.2 378.8,338.7 374.9,345.7 369.8,351.9 363.7,357 356.7,360.8 349.1,363.2 341.2,364.3 331.2,363.9 323.4,362.3 313.9,359.1 304.9,354.7 294.8,348.2 287.1,341.9 278.5,333.6 270.7,324.4 263.9,314.5 258.1,304 253.5,293 250.7,283.4 249.1,273.5 248.9,263.5 250.1,255.6 252.7,248 256.8,241.2 260.8,236.8 267.3,232.1 274.7,229 282.5,227.4 292.5,227.1 302.4,228.4 312,231 323.2,235.5 333.7,241.2 343.6,248 352.7,255.7 361,264.4 368.3,273.9 373.5,282.5 378.4,293.4 381.2,303 382.7,312.9 382.8,320.9 381.3,330.8 378.8,338.3 M176.7,0.5 227,13.6 280,24 301.3,29.4 314.6,33.7 327.7,38.6 364.2,55.1 380.9,61.9 399.8,68.2 419.2,73.1 M304.9,0.5 316.3,4.2 327.5,8.6 363.6,25.7 380.2,32.6 399.2,39 418.5,44 M285.1,245.5 290.9,244 298.8,243.7 306.8,244.8 316.3,247.7 325.3,252.1 333.6,257.6 341.2,264.2 347.8,271.7 353.3,280 356.7,287.2 359,294.9 359.8,302.8 358.9,310.8 356.9,316.4 354.9,319.9 352.4,323 347.8,326.8 342.5,329.6 336.7,331.2 330.7,331.8 324.8,331.5 318.9,330.4 311.2,327.9 305.8,325.5 298.9,321.4 292.5,316.6 286.7,311.1 281.5,305.1 278,300.2 274.1,293.2 271.7,287.7 269.4,280 268.6,274.1 268.6,268.1 269.6,262.2 271.9,256.7 274.1,253.3 276.8,250.4 281.7,247 287.3,244.8 293.2,243.8 299.2,243.7 305.2,244.5 311,245.9 318.5,248.7 323.9,251.3 330.7,255.5 337,260.4 342.8,265.9 348,272 351.4,276.9 355.3,283.9 357.5,289.5 359,295.3 359.7,301.3 359.5,307.2 358.2,313.1 355.7,318.5 353.4,321.8 349,325.9 343.9,328.9 338.2,330.8 332.3,331.7 326.3,331.6 320.3,330.7 314.5,329.1 307.1,326.1 301.9,323.2 295.3,318.7 289.2,313.6 283.7,307.7 278.8,301.4 275.7,296.3 272.2,289.1 270.3,283.4 269,277.5 268.5,271.6 268.9,265.6 270.5,259.8 273.2,254.5 275.8,251.4 M262.8,372.7 261.4,364.8 258.9,357.2 242.8,318.4 238.7,307.2 235.2,295.7 232.6,284 231.3,274 231,264 231.6,256.1 233.6,246.3 236.4,238.8 241.5,230.2 246.9,224.4 253.3,219.6 262.4,215.3 272.1,213 282,212.3 294,213.3 307.6,216.3 320.8,221.1 333.4,227.2 345.4,234.4 358.2,244 369.9,254.9 379.2,265.4 387.5,276.6 394.6,288.7 400.3,301.5 404.2,312.8 406.9,324.5 408.7,336.4 410.4,372.3 M1.4,202.4 14.6,207.1 27.3,213 37.7,218.9 49.2,226.9 58.4,234.7 68.3,244.5 76.2,253.6 93.7,275.4 98.3,279.3 102.1,280.5 104,280 105.7,278.9 108.3,275.9 110.3,272.4 113.5,265.1 124.2,237.1 130.7,222.5 139.3,206.6 149.4,191.8 M1.2,171 26.9,174.5 72,183.4 82,184.2 92,183.5 99.8,181.7 109.1,178.1 117.9,173.5 142,159.1 154.2,152.4 168.8,145.7 183.8,140.3 203.1,135.1 220.8,131.9 240.8,130.2 262.7,129.9 278.7,131 296.5,133.5 312.2,136.9 325.5,141 338.6,146.1 353.2,152.5 420,184.5 M0.1,5.9 18.1,7.1 31.8,9.8 43.1,13.8 63,23.1 72.3,26.7 97.4,33.6 118.9,38.4 140.7,41.1 176.6,43.7 250.3,50.1 M1.4,259.5 11.1,266.5 19.9,274.7 27.6,283.8 35.3,295.5 41.9,307.9 47.6,320.7 66.5,371.2 M0.2,298.4 6.1,303.8 12.7,311.3 17.5,317.7 23,326 33.4,345.4 45.4,372.9 M316.4,265.7 320,267.6 324.8,271.1 329.1,275.3 331.5,278.5 335.1,285.6 336,289.5 336.2,293.5 335.4,297.4 333.4,300.9 332.1,302.4 328.8,304.6 323,306.1 319,306 315.1,305.3 309.5,303.2 302.7,298.9 297.1,293.3 293.7,288.3 290.9,280.9 290.5,274.9 292.3,269.2 294.8,266.2 296.5,265 300.2,263.5 306.1,262.9 312,264 319.3,267.2 325.8,271.9 329.9,276.3 334.1,283.1 335.9,288.8 336,294.7 334.9,298.6 333.9,300.3 331.1,303.2 325.7,305.7 319.7,306.1 313.9,304.9 308.3,302.6 301.8,298.1 296.3,292.3 292.3,285.3 290.6,279.6 290.7,273.6 291.9,269.8 293,268.1 295.9,265.4 301.4,263.2 307.4,263 M1.4,152 53.1,146.2 80.7,141.8 98.2,137.6 152.1,122.2 165.7,119.1 181.4,116.1 201.2,113.2 217.1,111.6 235.1,110.7 255.1,110.5 273.1,111.2 291,113 306.8,115.5 320.4,118.8 339.3,125.4 390.6,147.7 418.6,158.5 M0.5,139.1 50.9,126.3 104.9,111.3 141.9,102.8 161.7,99.8 185.5,97.4 211.5,96 237.5,95.7 261.5,96.4 281.4,98 299.2,100.4 314.9,103.7 334,109.8 387.5,132.1 404.3,138.4 419.6,143.3 M0.6,45.1 12.2,42.1 22,40.3 32,39.2 40,39 55.9,39.9 119.6,46.7 M127.1,0.5 136.6,3.6 159.7,10.3 178.7,16.5 188.3,19.1 225.4,27.7 280.6,37 294.2,40 307.8,43.5 319.2,47.2 330.4,51.4 365.2,66.8 381.9,73.5 399,79.1 418.3,84.2 M61.6,249.1 69.8,260.4 77,272.5 82.3,283.2 92.1,305.1 95.8,312.2 100.6,318.6 103.9,320.8 105.8,321.2 107.8,320.7 110.9,318.2 113.9,313.1 116.1,307.5 119,295.8 124.2,266.3 127.7,250.7 M0.6,107.1 51.8,84.4 67,79.4 84.5,75.2 110.2,71.2 136.1,68.7 172,66.9 204,67 265.9,69.9 285.8,72.2 305.5,75.7 317.1,78.7 330.4,83.2 370.9,100.3 387.7,106.7 402.9,111.7 418.3,116 M0,179.6 15.7,182.7 29.3,186.2 42.6,190.5 67.1,199.3 76.7,202.1 86.5,203.6 94.5,203.1 102.2,200.8 111,196.1 119,190.2 147.1,167.6 157,160.9 167.4,154.9 M80.9,0.7 97.3,8 118.9,18.5 132.1,23 179.1,32.6 234.5,40.8 M76.5,289.6 87.7,319.6 93.5,332.3 96.6,337.4 99.2,340.5 102.2,343.1 105.9,344.5 109.8,343.8 113.1,341.5 116.7,336.8 119.4,331.4 122.1,323.9 124.6,314.2 128.1,290.5 M383.2,0.3 400.3,5.9 419.7,10.8 M289.9,372.5 272.7,350.4 260.5,332.2 251,314.6 247,305.4 243.6,296 M393.7,306.8 395.8,316.6 396.7,324.6 396.9,332.6 396.4,340.5 395.2,348.4 393.2,356.2 390.6,363.8 386.7,373 M0,24.7 16,23.7 30,24.4 41.8,26.5 65,32.7 M0.2,334.9 6.8,342.4 12.7,350.5 19.1,360.6 25.9,372.9 M71,235.1 81.8,244 88.3,248.6 93.8,251.1 97.7,251.7 101.6,250.9 106.5,247.6 111.7,241.4 117.1,233 M234.8,371.9 236.7,362.1 236.4,350.1 234.1,336.3 226,303.3 222.9,287.6 221.2,271.7 221,263.7 221.5,255.7 222.8,247.8 224.9,240.1 227.9,232.7 230.9,227.5 235.8,221.1 240,216.9 244.8,213.3 251.8,209.5 M133,372.8 136.9,363.6 140.8,352.2 143.9,340.6 146.3,328.9 149.1,307.1 152.5,259.2 154.4,245.3 156.9,233.6 161.1,220.2 165.9,209.2 171.9,198.8 179.1,189.3 M167.6,371.9 171.3,360.4 174.4,348.9 176.8,337.1 178.2,327.2 179.4,309.3 180,265.3 180.9,253.3 182.3,243.4 185,231.7 188.2,222.2 192.4,213.2 197.6,204.7 202.6,198.4 206.8,194.1 216.2,186.7 226.7,181 232.3,178.8 240,176.6 253.8,174.4 269.8,174.3 285.7,176.3 303.2,180.5 M367.9,289.5 370.3,297.1 371.7,305 371.8,313 371,318.9 368.6,326.5 365.7,331.8 361.9,336.4 355.6,341.4 350.3,344.1 342.6,346.4 336.7,347.1 328.7,346.8 320.8,345.4 313.2,343 305.9,339.7 297.3,334.7 290.8,329.9 283.4,323.2 276.7,315.8 270.8,307.8 265.8,299.1 262.5,291.8 259.5,282.3 258.1,274.4 257.9,266.4 258.7,260.5 261.1,252.9 264.1,247.7 268,243.2 272.8,239.6 278.2,237 286,235.1 M241.6,0.4 282.9,8.3 296.5,11.7 308,15.1 328.6,22.8 362.9,39 379.5,46 398.4,52.4 419.8,57.8 M345.9,0.7 367.6,10.9 384.3,17.6 401.5,23.1 418.9,27.5 M54.2,0.1 69.6,9.5 78.5,14 110.1,26.5 125.4,31.2 M310.2,284.8 309.4,283 309.7,281 311.6,280.2 313.5,280.7 315.2,281.8 316.3,283.4 316.7,285.4 315.3,286.8 313.3,286.8 311.5,285.8 310.2,284.3 309.6,282.4 310.7,280.7 312.6,280.6 314.4,281.5 315.8,283 316.4,284.9 315.2,286.5 313.2,286.4 311.5,285.4 310.3,283.8 310.1,281.8 311.9,280.9 313.8,281.4 315.3,282.7 316,284.6 314.7,286.1 312.7,285.8 311.2,284.6 310.4,282.7 311.9,281.4 313.8,281.9 315.2,283.4 315.4,285.4 313.5,286.1 311.8,285.2 310.6,283.6 310.6,281.6 312.5,281 314.4,281.9 315.6,283.4 315.9,285.4 314.3,286.5 312.4,286 310.8,284.7 310,282.9 310.6,281 312.5,280.7 314.4,281.5 315.7,282.9 316.4,284.8 315.5,286.6 313.5,286.7 311.7,285.9 310.3,284.4 309.6,282.5 310.4,280.7 312.3,280.4 314.2,281.1 315.7,282.4 316.6,284.2 316.4,286.2" fill="none" stroke="#000" stroke-width="1" stroke-linejoin="round" stroke-linecap="round"/><path d="M40,207.1 L33.6,206.4 L35.9,202.2 Z M81.3,231.6 L74.9,230.9 L77.1,226.6 Z M120.3,215.7 L118.6,221.9 L114.8,219 Z M151,178.9 L148,184.6 L144.9,181 Z M191,152.9 L186.4,157.4 L184.5,153 Z M237.6,142.2 L231.7,145 L231.4,140.3 Z M285.4,144.3 L279.1,145.7 L279.8,141 Z M331.5,157.2 L325,157.1 L326.9,152.7 Z M374.7,177.9 L368.3,177.2 L370.6,173 Z M416.9,200.9 L410.5,200.1 L412.8,195.9 Z M31.2,115.1 L26.4,119.4 L24.7,114.9 Z M76.5,99.3 L71.5,103.4 L70.1,98.9 Z M123,87.4 L117.5,90.8 L116.7,86.1 Z M170.6,82 L164.7,84.7 L164.5,79.9 Z M218.6,81.3 L212.5,83.5 L212.7,78.8 Z M266.6,83.3 L260.4,85.3 L260.7,80.5 Z M313.9,90.7 L307.5,91.5 L308.7,86.8 Z M358.8,107.5 L352.3,107.4 L354.2,103 Z M403.6,124.7 L397.1,125.1 L398.7,120.5 Z M37.1,261.2 L31.6,257.7 L35.5,254.9 Z M60.1,303 L55.7,298.3 L60.2,296.5 Z M76.2,348.2 L71.9,343.4 L76.4,341.8 Z M220,355.8 L221.5,362.1 L216.8,361.4 Z M216.8,308.1 L220.1,313.7 L215.3,314.4 Z M212.5,260.4 L214.5,266.6 L209.7,266.2 Z M228.6,216.2 L226.3,222.2 L222.8,219 Z M271.4,197.7 L265.3,200 L265.4,195.2 Z M318.1,206.9 L311.7,206.8 L313.5,202.3 Z M360,230.1 L353.7,228.5 L356.5,224.6 Z M395.2,262.5 L389.6,259.3 L393.3,256.3 Z M158.6,344 L159.8,350.3 L155.1,349.4 Z M164.4,296.4 L166.5,302.5 L161.7,302.3 Z M167.7,248.6 L169.2,254.8 L164.4,254.2 Z M183,203.5 L182,209.9 L177.9,207.5 Z M218.9,172.8 L214.3,177.4 L212.4,173.1 Z M265.9,165.5 L259.8,167.8 L259.9,163 Z M312.7,175.3 L306.2,175.6 L307.8,171.1 Z M356.3,195.2 L349.9,194.5 L352.1,190.3 Z M396.6,221.2 L390.3,219.7 L393.1,215.8 Z M23.6,162.7 L17.4,164.8 L17.7,160 Z M71.5,164.7 L65.5,167.2 L65.5,162.4 Z M117.9,154.2 L113.3,158.7 L111.5,154.2 Z M162.5,136.4 L157.5,140.6 L156,136 Z M209.1,125.1 L203.5,128.3 L202.8,123.6 Z M256.9,121.9 L250.9,124.4 L250.9,119.6 Z M304.6,126.6 L298.3,127.8 L299.2,123.1 Z M350,141.8 L343.5,141.5 L345.5,137.1 Z M393.7,161.7 L387.2,161.4 L389.2,157 Z M31.4,62.8 L26.6,67.3 L24.9,62.8 Z M78.5,55 L72.6,57.6 L72.4,52.8 Z M126.5,54.5 L120.5,56.9 L120.5,52.1 Z M174.5,54.4 L168.5,56.8 L168.5,52 Z M222.4,56.4 L216.3,58.5 L216.6,53.7 Z M270.3,59.7 L264.1,61.5 L264.6,56.7 Z M317.4,68.7 L310.9,69 L312.5,64.4 Z M361.9,86.5 L355.5,86.3 L357.4,81.9 Z M407.1,102.7 L400.7,103.4 L401.9,98.8 Z M195.1,340.3 L196.8,346.5 L192,345.9 Z M195.5,292.4 L198.1,298.2 L193.3,298.5 Z M197.1,244.5 L198.3,250.9 L193.6,249.9 Z M218.1,202.3 L215.2,208.1 L212,204.5 Z M261.7,184.7 L255.9,187.6 L255.5,182.8 Z M308.8,191.7 L302.4,192.3 L303.8,187.7 Z M352.3,211.9 L345.9,210.8 L348.4,206.7 Z M390.8,240.4 L384.8,238.2 L387.9,234.6 Z M26.9,237.9 L20.6,236.5 L23.3,232.6 Z M57.6,274.3 L52.8,269.9 L57.1,267.8 Z M75.5,318.7 L71.2,313.9 L75.8,312.3 Z M94.8,362.5 L89,359.6 L92.5,356.4 Z M127.5,347.2 L127.8,353.7 L123.2,352.1 Z M137.1,300.4 L138.9,306.6 L134.1,306.1 Z M142.2,252.6 L143.7,258.9 L139,258.2 Z M156.7,207.1 L156.1,213.6 L151.8,211.4 Z M187.9,171.3 L184.3,176.7 L181.6,172.7 Z M232.4,154.4 L227,157.9 L226,153.2 Z M280.2,154.9 L273.9,156.4 L274.6,151.7 Z M326.3,167.7 L319.9,167.6 L321.7,163.1 Z M369.4,188.8 L363,187.9 L365.4,183.7 Z M410.2,214 L403.9,212.8 L406.5,208.7 Z M355.5,361.5 L360.7,357.5 L361.9,362.2 Z M309.2,356.9 L315.6,357.8 L313.2,362 Z M272.6,326.5 L278.1,329.8 L274.4,332.7 Z M251,284.1 L254.9,289.3 L250.2,290.5 Z M258.8,238.7 L256,244.6 L252.7,241.1 Z M303.5,228.6 L297.1,230 L297.9,225.3 Z M346,249.9 L339.9,247.8 L343,244.2 Z M375.7,287.1 L371,282.6 L375.4,280.6 Z M380.4,333.7 L379.9,327.2 L384.5,328.7 Z M346.3,363.6 L352,360.4 L352.6,365.2 Z M300.9,352.1 L307.2,353.3 L304.6,357.3 Z M266.8,318.8 L272.2,322.3 L268.3,325.1 Z M249.3,274.6 L252.6,280.2 L247.9,280.9 Z M266.4,232.7 L263,238.2 L260.2,234.3 Z M312.9,231.4 L306.5,231.4 L308.3,226.9 Z M353.4,256.5 L347.5,253.8 L351,250.5 Z M379.3,296.3 L375.2,291.3 L379.8,289.9 Z M204.9,7.9 L198.5,8.7 L199.7,4 Z M251.7,18.5 L245.3,19.7 L246.3,15 Z M298.6,28.7 L292.2,29.6 L293.3,24.9 Z M343.4,45.7 L336.9,45.4 L338.9,41.1 Z M387.7,64.2 L381.2,64.6 L382.7,60 Z M327.6,8.7 L321.1,8.3 L323.2,3.9 Z M371.2,28.8 L364.7,28.7 L366.5,24.3 Z M416.8,43.5 L410.4,44.4 L411.6,39.7 Z M326.9,253.2 L320.5,251.8 L323.2,247.8 Z M357.2,289.1 L353.2,284 L357.8,282.7 Z M342.5,329.6 L347.6,325.6 L348.9,330.2 Z M297.3,320.2 L303.5,321.9 L300.6,325.7 Z M270,281.9 L274,287 L269.3,288.3 Z M289.4,244.5 L283.9,247.9 L283.1,243.1 Z M334,258.1 L327.7,256.3 L330.7,252.5 Z M359.3,297.5 L356.2,291.8 L360.9,291.2 Z M334,331.4 L339.6,328.2 L340.3,332.9 Z M290.5,314.7 L296.6,316.7 L293.5,320.4 Z M268.6,273.3 L271.5,279 L266.7,279.4 Z M254.5,346.5 L259,351.1 L254.6,353 Z M237.1,301.8 L241.1,306.9 L236.5,308.3 Z M231.9,254.5 L233,260.9 L228.3,259.9 Z M258.4,217.2 L254,221.9 L252,217.6 Z M305.4,215.8 L299,216.9 L300.1,212.2 Z M348.3,236.7 L342.1,235 L345,231.2 Z M382.6,270 L377.1,266.5 L381,263.7 Z M404.1,312.6 L399.9,307.7 L404.4,306.1 Z M409.8,360.1 L407.1,354.2 L411.9,354 Z M27.4,213 L21,212.1 L23.4,207.9 Z M65.5,241.8 L59.6,239.3 L63,235.8 Z M96.8,278.1 L90.7,276 L93.8,272.3 Z M121.4,244.4 L121.5,250.9 L117,249.1 Z M142.8,201.5 L141.4,207.8 L137.4,205.1 Z M20.8,173.6 L14.6,175.2 L15.2,170.5 Z M68,182.6 L61.6,183.8 L62.5,179.1 Z M114.3,175.4 L110.1,180.3 L107.8,176 Z M155.9,151.6 L151.5,156.3 L149.5,151.9 Z M201.1,135.6 L195.9,139.5 L194.7,134.9 Z M248.7,130.1 L242.7,132.6 L242.6,127.8 Z M296.4,133.5 L290.2,135 L290.8,130.3 Z M342.2,147.7 L335.7,147.4 L337.7,143 Z M385.6,168 L379.2,167.6 L381.3,163.3 Z M19.7,7.4 L13.3,8.6 L14.3,3.9 Z M64.6,23.7 L58.1,23.8 L59.8,19.3 Z M110.8,36.6 L104.4,37.6 L105.4,32.9 Z M158.4,42.4 L152.2,44.4 L152.5,39.6 Z M206.2,46.3 L200,48.1 L200.4,43.4 Z M33.3,292.4 L28,288.7 L32,286.1 Z M53.3,335.9 L48.9,331.2 L53.4,329.5 Z M15.1,314.4 L9.5,311.1 L13.4,308.2 Z M38.2,356.4 L33.6,351.8 L38,349.9 Z M333.9,300.1 L334.7,293.7 L338.9,296 Z M294.2,289 L299.5,292.6 L295.6,295.3 Z M316.9,266.1 L310.4,265.9 L312.3,261.5 Z M329.8,303.8 L334.3,299.1 L336.3,303.5 Z M291.9,283.9 L295.8,289 L291.2,290.3 Z M33.8,148.4 L28.1,151.4 L27.6,146.7 Z M81.3,141.7 L76,145.4 L74.9,140.7 Z M127.7,129.2 L122.6,133.2 L121.2,128.6 Z M174.2,117.5 L168.7,120.9 L167.8,116.2 Z M221.7,111.3 L215.9,114 L215.6,109.2 Z M269.7,111.1 L263.6,113.2 L263.8,108.4 Z M317.1,118 L310.7,118.9 L311.9,114.3 Z M361.9,135.2 L355.4,135 L357.3,130.6 Z M406.2,153.7 L399.7,153.8 L401.4,149.3 Z M46.3,127.5 L41.1,131.3 L39.9,126.6 Z M92.6,114.7 L87.4,118.7 L86.2,114 Z M139.2,103.5 L133.9,107.1 L132.8,102.5 Z M186.8,97.4 L180.9,100.1 L180.7,95.3 Z M234.8,95.8 L228.8,98.2 L228.7,93.4 Z M282.7,98.2 L276.4,99.7 L277.1,95 Z M329.5,108.3 L323,108.8 L324.5,104.2 Z M373.9,126.5 L367.4,126.4 L369.3,121.9 Z M16.4,41.3 L10.9,44.8 L10,40.1 Z M64.1,40.8 L57.9,42.6 L58.4,37.8 Z M111.9,45.8 L105.6,47.6 L106.1,42.8 Z M170.9,13.9 L164.4,14.4 L165.9,9.8 Z M217.3,25.8 L211,26.8 L212,22.1 Z M264.6,34.3 L258.3,35.7 L259.1,30.9 Z M311.4,44.7 L304.9,45.2 L306.4,40.6 Z M355.9,62.6 L349.4,62.4 L351.3,58 Z M400.7,79.6 L394.3,80.4 L395.5,75.8 Z M82,282.6 L77.2,278.3 L81.5,276.2 Z M107.2,320.8 L101.9,324.5 L100.8,319.9 Z M122.4,276.7 L123.7,283 L119,282.2 Z M29.5,94.3 L25,98.9 L23,94.5 Z M74.4,77.6 L69.1,81.4 L68,76.7 Z M121.7,70.1 L116,73 L115.5,68.3 Z M169.6,67 L163.8,69.7 L163.5,64.9 Z M217.6,67.7 L211.5,69.8 L211.7,65 Z M265.6,69.9 L259.5,72 L259.7,67.2 Z M312.9,77.7 L306.5,78.5 L307.7,73.8 Z M357.7,94.7 L351.2,94.6 L353.1,90.2 Z M402.6,111.6 L396.1,112 L397.6,107.5 Z M35.9,188.3 L29.4,188.8 L30.9,184.2 Z M81.6,202.8 L75.3,204.3 L76,199.6 Z M124.5,185.8 L121.3,191.4 L118.3,187.7 Z M163.1,157.4 L159.1,162.5 L156.7,158.3 Z M114.8,16.5 L108.4,16 L110.5,11.7 Z M161,28.9 L154.6,30.1 L155.6,25.4 Z M208.3,36.9 L202,38.4 L202.7,33.7 Z M85.9,315 L81.6,310.2 L86.1,308.5 Z M115,339 L113.3,345.3 L109.5,342.3 Z M127.7,293.3 L129.2,299.6 L124.4,298.8 Z M415.9,9.8 L409.5,10.7 L410.7,6 Z M278.5,357.8 L284,361.1 L280.2,364 Z M252.5,317.5 L257.5,321.6 L253.3,323.9 Z M395.9,317.4 L392.8,311.7 L397.6,311.2 Z M390.3,364.5 L390.5,358.1 L394.9,359.9 Z M35.6,25.4 L29.3,26.8 L30.1,22 Z M17,357.3 L11.8,353.5 L15.8,350.9 Z M108.1,245.6 L106.1,251.8 L102.4,248.7 Z M236.5,352 L239,358 L234.2,358.1 Z M226.4,305.1 L230.2,310.4 L225.5,311.5 Z M221.4,257.6 L223.4,263.7 L218.7,263.4 Z M241.7,215.7 L238.4,221.2 L235.5,217.4 Z M145.3,333.7 L146.5,340 L141.8,339.1 Z M150.6,286 L152.6,292.2 L147.8,291.8 Z M155.9,238.4 L157,244.7 L152.3,243.7 Z M175,194.8 L173.3,201 L169.4,198.1 Z M178.3,325.7 L180.3,331.9 L175.5,331.5 Z M179.8,277.8 L182.2,283.8 L177.4,283.7 Z M185.5,230.3 L185.8,236.7 L181.3,235.2 Z M211.1,190.7 L207.9,196.3 L204.9,192.5 Z M255.4,174.4 L249.4,176.9 L249.4,172.1 Z M302.8,180.4 L296.4,181.3 L297.5,176.7 Z M365.6,331.9 L367.5,325.7 L371.2,328.8 Z M322.6,345.7 L328.9,344.4 L328,349.1 Z M281.9,321.6 L287.7,324.4 L284.1,327.6 Z M259.1,280 L262.5,285.5 L257.8,286.4 Z M274.9,238.6 L270.6,243.3 L268.5,239 Z M287.4,9.5 L281,10.4 L282.1,5.7 Z M332.8,24.8 L326.3,24.4 L328.4,20.1 Z M376.4,44.7 L370,44.6 L371.8,40.2 Z M360.4,7.5 L354,7.1 L356,2.8 Z M405.4,24.1 L399,25 L400.2,20.3 Z M68.1,8.6 L61.8,7.5 L64.3,3.4 Z M112.3,27.2 L105.9,27.8 L107.3,23.2 Z M312.7,286.4 L319.1,287.1 L316.9,291.4 Z M315.3,284.1 L312.2,278.4 L317,277.8 Z M311,280.6 L305.5,283.9 L304.7,279.2 Z" fill="#000"/><path d="M0,61.4 3.8,61 4.4,60 2.7,58 0,56.8 M24,67 26.2,66 26.6,65 26.1,63 23,60.4 21,60.6 19.3,63 19.4,66 21,66.8 24,67 M0,96.7 2.3,97 4.1,99 5,99.5 5.5,99 4,95.8 3,89 2,88 0,87.9 M30.1,143 28,141.6 26.7,142 27,143 29,143.9 30.1,143 M41.3,177 41.8,176 41.5,174 40,173.4 39,173.9 38.3,175 39,177 41.3,177 M20.6,214 21.3,213 20.2,211 17,209.5 14.8,210 14.4,212 16,214.2 18,214.9 20.6,214 M27.5,214 28,212.3 27,211.9 26,213 27,214.5 27.5,214 M17.4,227 18.5,226 18.5,225 17,223.7 15,223.3 12.5,225 12.6,227 14,227.8 17.4,227 M5.6,295 5.8,294 5,293.3 2,293 3,295.2 4,295.7 5.6,295 M20.3,78 21.5,76 18.9,71 20,69.3 25.6,69 28.1,70 30,71.9 31,71.4 29.2,62 26.9,59 26.8,57 M5,41.8 4.8,45 6,46.7 8,46.5 11.9,43 M22.5,50 20.7,53 19.7,57 16.4,64 15,64.7 11,65 10.5,67 11.3,71 14.5,78 16,78.8 20.3,78 M0,63.5 7,64.2 10,63.5 14,57 13.4,55 12,54.8 9,57.8 8,58.1 6,57.3 2,54.2 0,54 M38,76.7 36,76.9 35.6,78 36.9,80 38.5,80 M0,100.5 2.2,104 3,104.6 5,104.7 9,101.7 16.2,98 16.8,97 17,91 20,85 19,83.9 14,82.7 11.4,90 11,94.5 10,95.4 9,95.4 6.9,94 4.8,88 1.1,84 0,79.7 M0,121.4 1,126.6 3,128.9 4.7,127 5.4,121 8,117.4 12,119.7 15,119 18.9,122 14.8,129 15,132.5 16,134 21,133.6 23.4,135 23.3,141 24,144 30.5,149 22,157.2 21.3,167 23,167.6 24.1,167 28,159.4 29,158.8 31,159.4 34,161.7 39,161.6 43,162.8 M43,158.5 37,157.6 34,156.1 31.6,150 32.6,149 36,148.3 43,151.7 M44,145.8 37.7,144 34,141.5 30,140 27.6,138 25.4,135 25.6,129 25,125.8 24,124.2 20.3,122 23.4,118 24.8,115 24.6,113 23,110.8 20,109.9 16,111.3 14.9,107 12,105.2 8.1,107 6,110.4 0,111.6 M36.1,129 38,128.5 41,125.5 44,124.3 M44,120.7 39,116.6 38,116.4 34,117.8 29,118 26.1,120 25.4,123 30,128.8 32,129.8 36.1,129 M0,139.3 6,139.1 7.1,141 9,142.4 12,143.1 12.6,142 12,139.8 10,139.3 7,139.5 6,139 4.5,135 3,133.4 0,134.3 M4.7,150 4,148.8 3,149.2 2.7,150 4,151 4.7,150 M0,171.3 3,173 4.1,178 5.2,180 7,180.6 8,179.9 8.7,178 7,171 0,163.6 M42.1,171 40,171 38,171.9 35.3,175 36,178 41,180.7 M0,194.4 1.3,193 1.7,191 0,182.9 M40,186.7 37,187.7 30.6,192 30,193 31,193.9 39,193.9 M18.7,191 19.6,188 19,187.3 18,187.3 17,188.4 16.8,190 18,191.4 18.7,191 M33,225.7 29.6,218 32.4,210 34.6,207 34.1,205 32,204.2 28,207.4 22,207.7 19.2,206 16.5,200 11,196 8,195.9 6,198 5.8,200 6.5,201 10.6,203 12.2,205 10.1,210 10.3,212 16.9,219 11.6,223 10,225 10,227 11,228.9 14,230.4 19,229.3 25,228.9 30,230 31.3,231 M0,225.4 3,226.5 4.6,225 4,223 0.8,220 0,216.1 M20,220.6 18,220 17.7,219 20.7,219 21,220 20,220.6 M0,261.9 6,263.4 8,262.7 8.6,260 7,251 8,249.6 9,250 8.6,251 9.6,253 11,253.9 13,253.7 14.2,252 12.1,250 9,250 8.3,249 9,241 8.5,239 4,237.3 0,238 M0,245.7 3.6,249 3.6,250 0,250.9 M23,255.9 18,256.6 15.2,259 15.1,260 16.3,261 18,261.1 21,260.1 M0,296.3 2,298.1 5,298.8 7,298 8.7,296 9.7,293 9.3,289 10.2,287 9.1,283 10.8,277 10,275.6 7,274.8 5,275.5 4.2,277 5,281 8.5,284 8.9,288 8,288.8 5,288.8 0,286 M13,49.3 11.2,49 11.9,47 13,46.2 14.5,47 14.5,48 13,49.3 M8,54.2 7,54.2 6.1,53 6.6,51 8,50.2 10.2,50 10,52 8,54.2 M8,78.8 4.4,69 4.3,68 5,67.5 7,68.2 9.5,74 9.6,76 8,78.8 M26,104 23.5,103 22.8,101 23,95.8 19.4,92 19.8,90 23,86 23.1,80 25,73.8 31.5,77 34.7,84 30.8,93 31,94.4 33,96.3 36,94.5 37.7,95 38,96 37,97.2 34,97.6 32,103 30,103.9 26,104 M8,86.9 5,85 3.7,83 4.2,81 7,78.8 8,79.1 9,84 8,86.9 M40.3,89 37.4,86 37.4,85 40,83.6 M43.1,117 42,115 41.6,112 39,109.4 38.7,108 39.4,106 41,105 43,110 M31,113.1 28.8,112 30,111.5 32.4,112 32,113 31,113.1 M41,140.8 39,140.1 36.8,138 36.7,135 38,133.3 43,130.7 44.6,131 M44.3,135 41,140.8 M32,138.1 29.8,137 29.4,136 30,134.5 31,134.5 32.6,136 32.9,137 32,138.1 M12,166.1 8,166.9 5,165.8 1.2,161 1,158 3,155.5 11,153.2 14,149.5 17.6,147 17.9,146 16.4,142 16.5,140 18,138 20,137.6 21.1,140 21.2,145 24.3,148 25,150 23.4,152 20,153.9 19.3,155 18.6,161 17.8,163 15,165.1 12,166.1 M0,141.5 2,142.3 3,144 0,147.6 M4,195.2 3.6,195 4,187.7 10.7,180 11.4,178 11,174 11.7,173 14.5,173 21,177.5 22.6,178 23.5,177 23.1,172 29,164.7 31,164.2 35,165.1 42,165.3 M42,168.3 38,169.4 32.9,173 30,177.7 24,183.4 19,183.8 16.3,185 12.4,192 4,195.2 M0,172.8 1.2,174 1.7,176 1.5,178 1,179 0,179.3 M32,188.4 29.7,188 28.9,187 29.2,185 31,183.7 35,183.2 35.7,184 35.4,185 34,187 32,188.4 M0,196.2 3,195.3 3.4,196 2.4,199 0,201.3 M38,202.3 36,202.7 32.7,201 31.5,200 31.1,198 33,196.2 36,195.7 37.9,197 38.5,199 M34,221 32.6,220 31.8,218 36,210 M9,222.4 7,222.4 3.9,220 3.1,218 4,215.9 8,215.3 10,215.9 11.3,217 12.1,219 11.8,220 9,222.4 M0,228 2.2,230 2.4,231 0,234.1 M21,245.4 18,245.6 16.8,245 16.4,244 17.1,242 19.7,240 19.3,236 19.8,234 21.7,233 27,232.3 29,233.3 29.7,236 M28.5,239 27,239.8 20.3,240 21.6,244 21,245.4 M19,268.3 15.1,267 14.1,266 15,264.8 21,263 M5,273.1 3,273.5 1.9,273 2,269.5 3,266.6 4,266.1 6,266.3 10.4,268 11.4,269 11.1,271 10,271.9 5,273.1 M0,274.6 1.4,275 1.7,277 1.4,279 0,280.6 M14,284.4 12.6,282 12.9,280 14,278.5 16,277.5 M0,299.4 6,301.7 6.8,304 4.8,307 0,309.5 M29,87.5 27,87.7 26.3,86 26.7,83 28,81.1 30,82.4 30.6,84 30.2,86 29,87.5 M28,101.1 26.8,101 25.8,100 26,98.8 27,98 29.1,99 29.2,100 28,101.1 M30,171.2 28.4,171 28.6,169 30,167.5 32,167.6 32.7,169 30,171.2 M11,188.2 9.1,188 9.7,186 14,180 15,179 16.3,179 17.1,180 16.7,181 14,183.1 11,188.2 M27,237 25,237.2 23.9,236 25,234.9 27,235 27.4,236 27,237 M0,302 3,302.7 3.9,304 3,306 0,307.7" fill="none" stroke="#000" stroke-width="1.3" stroke-linejoin="round" stroke-linecap="round"/><path d="M68.3,-2 124,3.9 251,15.1 422,32.2 M-2,50.5 78,61.2 109,64.6 138,66.4 210,68.9 257,72.4 422,92 M-2,111.6 22.6,116 73,126.2 88,128.2 101,128.9 113,128.4 125,127 175,117.2 201,113.6 230,112.1 260,113.3 287,116.6 317,122.2 343,128.3 399,142.8 422,148.1 M-2,174.7 18,181 37,189.2 51.3,197 77,213.4 86,218.3 93,220.6 99,220.8 105,218.7 112,213.6 138,185 151.7,172 165,162 178,154.4 196,146.7 215,141.6 236,138.7 258,138.3 276,139.7 294,142.4 312,146.3 331,151.7 350,158.3 370,166.2 422,190 M149,375 156.3,348 158.5,336 160,324 160.7,303 158.9,266 158.8,251 159.9,236 162.4,223 165.2,214 168.5,206 172.3,199 177.1,192 182.1,186 188.3,180 194.7,175 202,170.3 212,165.4 223,161.4 235,158.6 247,156.9 260,156.3 274,156.8 288,158.4 302,161.1 316,164.7 331,169.5 346,175.4 360,181.8 375,189.5 390,198.2 405.5,208 422,219.4 M-2,242.3 10,250.1 20,259.2 29,270.3 36.5,283 42.4,296 48,311.8 65.9,375 M185.5,375 189.6,363 192.1,353 193.5,344 194.1,334 192.7,315 186.4,278 184.4,262 183.9,246 185.4,231 187.3,223 189.7,216 192.9,209 197.2,202 202,196 207,191 213.3,186 220,181.8 230,177.1 240,174 251,171.8 263,170.7 276,170.9 289,172.2 302,174.5 316,178.2 329,182.6 343,188.5 357,195.4 371,203.4 384,212 397,221.6 409.6,232 422,243.4 M-2,315.2 7,326 15.3,339 23.5,355 32,375 M232,375 232.9,370 233.1,364 231.4,352 227.4,339 213.7,303 207.8,285 203.6,266 202.2,249 202.6,240 204.1,231 206.5,223 209.6,216 214,209 219.1,203 225,197.7 232.1,193 242,188.4 252,185.4 263,183.5 275,183 288,183.8 301,185.9 315,189.5 328,194 341,199.7 354,206.5 367,214.6 379,223.2 390.8,233 402.3,244 412.4,255 422,267.1 M294.3,375 282,365 270,353.7 259,341.7 249,329.2 240,316 232.6,303 226.5,290 221.9,277 219.1,265 217.8,254 218,243 219.9,233 223.3,224 228.2,216 234.7,209 243,203 253,198.4 264,195.5 276,194.3 289,194.7 302,196.6 316,200.3 330,205.5 344,212.3 357,220.1 370,229.6 382,240 392.6,251 402.3,263 410.3,275 416.7,287 422,299.9 M422,364 416.2,375 M358,365.1 344,364.7 330,362.1 316,357.5 301,350.5 288,342.4 275,332.3 263,320.6 252.7,308 244.4,295 237.8,281 233.5,267 231.8,254 232.7,242 236,231.4 239,226 241.9,222 249.5,215 256,211.1 263,208.2 271,206.2 280,205.1 289,205.1 298,206 308,208 318,211 328,214.9 338,219.7 348,225.6 357,231.8 366,239 374,246.5 381.8,255 388,263 393.3,271 398.2,280 402.1,289 404.9,298 406.7,307 407.2,315 406.8,323 405.2,331 402.5,338 399,344.1 394.2,350 388.4,355 382,358.9 375,361.8 367,363.9 358,365.1 M352,345.1 341,345.2 329,343.5 317,340 305,334.9 293,328 282.1,320 272.3,311 263.6,301 256.2,290 250.7,279 247.1,268 245.6,258 246,248 248.5,239 253,231.1 259.1,225 264,221.7 270,219 276,217.2 283,216.1 290,215.8 298,216.3 306,217.6 314,219.7 330,226.1 338,230.3 346,235.4 360.3,247 372.2,260 377.3,267 381.4,274 385.2,282 387.7,289 389.4,296 390.2,303 390.1,310 389.1,316 387.1,322 384.4,327 380.6,332 376.3,336 371,339.5 365,342.2 359,343.9 352,345.1 M347,328.1 338,328.7 329,327.9 320,325.8 310,322.1 300,316.9 291,310.9 282.9,304 275.5,296 269.6,288 264.7,279 261.4,270 259.9,262 259.9,254 261.5,247 265,240.3 270,235 274,232.2 278.7,230 289,227.6 300,227.6 312.7,230 325.9,235 338,241.9 349,250.4 358.3,260 366.1,271 371.2,282 373.8,293 373.7,303 372.5,308 370.8,312 368.4,316 365,319.7 361,322.9 357,325.1 352,326.9 347,328.1 M339,311.1 333,311.8 327,311.5 320,310.2 313,307.9 306,304.5 299,300.1 293,295.2 287.9,290 283.3,284 279.9,278 277.5,272 276.1,266 276,260 277.1,255 279.6,250 283,246.4 289,242.8 296,241 304,240.9 313,242.6 322,245.9 330,250.2 337.8,256 344.8,263 350,270 354.1,278 356.2,286 356.3,293 354.7,299 351,304.7 346,308.5 339,311.1 M324,287.3 319,287.4 314.1,286 310,283.7 305.8,280 303,276 301.5,271 302,267.3 304,264.5 308,262.7 314,263 320,265.5 325.5,270 329,275.3 329.8,278 329.9,281 328.1,285 324,287.3" fill="none" stroke="#000" stroke-width="1.6" stroke-linejoin="round" stroke-linecap="round"/><rect x="32.1" y="87.5" width="16.5" height="7.6" fill="#fff"/><text x="40.3" y="94.5" font-size="9" font-family="Liberation Sans" font-weight="bold" fill="#000" text-anchor="middle" textLength="15" lengthAdjust="spacingAndGlyphs" stroke="#000" stroke-width="0.25">582</text><rect x="149" y="86.5" width="16.5" height="7.6" fill="#fff"/><text x="157.2" y="93.6" font-size="9" font-family="Liberation Sans" font-weight="bold" fill="#000" text-anchor="middle" textLength="15" lengthAdjust="spacingAndGlyphs" stroke="#000" stroke-width="0.25">582</text><rect x="294.3" y="85.9" width="16.5" height="7.6" fill="#fff"/><text x="302.6" y="93" font-size="9" font-family="Liberation Sans" font-weight="bold" fill="#000" text-anchor="middle" textLength="15" lengthAdjust="spacingAndGlyphs" stroke="#000" stroke-width="0.25">582</text><rect x="123.7" y="123.2" width="16.5" height="7.6" fill="#fff"/><text x="131.9" y="130.2" font-size="9" font-family="Liberation Sans" font-weight="bold" fill="#000" text-anchor="middle" textLength="15" lengthAdjust="spacingAndGlyphs" stroke="#000" stroke-width="0.25">579</text><rect x="302.2" y="119.1" width="16.5" height="7.6" fill="#fff"/><text x="310.5" y="126.1" font-size="9" font-family="Liberation Sans" font-weight="bold" fill="#000" text-anchor="middle" textLength="15" lengthAdjust="spacingAndGlyphs" stroke="#000" stroke-width="0.25">579</text><rect x="292.7" y="133.3" width="16.5" height="7.6" fill="#fff"/><text x="301" y="140.4" font-size="9" font-family="Liberation Sans" font-weight="bold" fill="#000" text-anchor="middle" textLength="15" lengthAdjust="spacingAndGlyphs" stroke="#000" stroke-width="0.25">576</text><rect x="246.9" y="160.8" width="16.5" height="7.6" fill="#fff"/><text x="255.2" y="167.8" font-size="9" font-family="Liberation Sans" font-weight="bold" fill="#000" text-anchor="middle" textLength="15" lengthAdjust="spacingAndGlyphs" stroke="#000" stroke-width="0.25">567</text><rect x="258" y="176.9" width="16.5" height="7.6" fill="#fff"/><text x="266.2" y="184" font-size="9" font-family="Liberation Sans" font-weight="bold" fill="#000" text-anchor="middle" textLength="15" lengthAdjust="spacingAndGlyphs" stroke="#000" stroke-width="0.25">564</text><rect x="278.5" y="195.8" width="16.5" height="7.6" fill="#fff"/><text x="286.8" y="202.9" font-size="9" font-family="Liberation Sans" font-weight="bold" fill="#000" text-anchor="middle" textLength="15" lengthAdjust="spacingAndGlyphs" stroke="#000" stroke-width="0.25">561</text><rect x="289.6" y="212.9" width="16.5" height="7.6" fill="#fff"/><text x="297.8" y="220" font-size="9" font-family="Liberation Sans" font-weight="bold" fill="#000" text-anchor="middle" textLength="15" lengthAdjust="spacingAndGlyphs" stroke="#000" stroke-width="0.25">558</text><rect x="313.3" y="277.7" width="16.5" height="7.6" fill="#fff"/><text x="321.5" y="284.7" font-size="9" font-family="Liberation Sans" font-weight="bold" fill="#000" text-anchor="middle" textLength="15" lengthAdjust="spacingAndGlyphs" stroke="#000" stroke-width="0.25">555</text><rect x="41.6" y="221.8" width="16.5" height="7.6" fill="#fff"/><text x="49.8" y="228.8" font-size="9" font-family="Liberation Sans" font-weight="bold" fill="#000" text-anchor="middle" textLength="15" lengthAdjust="spacingAndGlyphs" stroke="#000" stroke-width="0.25">576</text><rect x="103.2" y="318.1" width="16.5" height="7.6" fill="#fff"/><text x="111.4" y="325.2" font-size="9" font-family="Liberation Sans" font-weight="bold" fill="#000" text-anchor="middle" textLength="15" lengthAdjust="spacingAndGlyphs" stroke="#000" stroke-width="0.25">573</text><rect x="24.2" y="115" width="16.5" height="7.6" fill="#fff"/><text x="32.4" y="122" font-size="9" font-family="Liberation Sans" font-weight="bold" fill="#000" text-anchor="middle" textLength="15" lengthAdjust="spacingAndGlyphs" stroke="#000" stroke-width="0.25">585</text><rect x="38.4" y="141.2" width="16.5" height="7.6" fill="#fff"/><text x="46.6" y="148.3" font-size="9" font-family="Liberation Sans" font-weight="bold" fill="#000" text-anchor="middle" textLength="15" lengthAdjust="spacingAndGlyphs" stroke="#000" stroke-width="0.25">579</text><rect x="28.9" y="166.5" width="16.5" height="7.6" fill="#fff"/><text x="37.2" y="173.5" font-size="9" font-family="Liberation Sans" font-weight="bold" fill="#000" text-anchor="middle" textLength="15" lengthAdjust="spacingAndGlyphs" stroke="#000" stroke-width="0.25">582</text><rect x="25.8" y="187.6" width="16.5" height="7.6" fill="#fff"/><text x="34" y="194.7" font-size="9" font-family="Liberation Sans" font-weight="bold" fill="#000" text-anchor="middle" textLength="15" lengthAdjust="spacingAndGlyphs" stroke="#000" stroke-width="0.25">579</text><rect x="6.8" y="212.3" width="16.5" height="7.6" fill="#fff"/><text x="15" y="219.3" font-size="9" font-family="Liberation Sans" font-weight="bold" fill="#000" text-anchor="middle" textLength="15" lengthAdjust="spacingAndGlyphs" stroke="#000" stroke-width="0.25">573</text><rect x="-2.7" y="243.9" width="16.5" height="7.6" fill="#fff"/><text x="5.6" y="250.9" font-size="9" font-family="Liberation Sans" font-weight="bold" fill="#000" text-anchor="middle" textLength="15" lengthAdjust="spacingAndGlyphs" stroke="#000" stroke-width="0.25">570</text><rect x="-1.1" y="134.9" width="16.5" height="7.6" fill="#fff"/><text x="7.1" y="141.9" font-size="9" font-family="Liberation Sans" font-weight="bold" fill="#000" text-anchor="middle" textLength="15" lengthAdjust="spacingAndGlyphs" stroke="#000" stroke-width="0.25">582</text></g>
</g>
<rect x="1086.8" y="177.9" width="420" height="373.1" fill="none" stroke="#000" stroke-width="2"/>
<line x1="1083.2" y1="201.2" x2="1086.8" y2="201.2" stroke="#000" stroke-width="1.3"/>
<text x="1081.2" y="205.6" font-size="11.8" font-family="'Liberation Sans', 'DejaVu Sans', sans-serif" font-weight="bold" text-anchor="end" fill="#000" textLength="17" lengthAdjust="spacingAndGlyphs" stroke="#000" stroke-width="0.35">12S</text>
<line x1="1083.2" y1="236.2" x2="1086.8" y2="236.2" stroke="#000" stroke-width="1.3"/>
<text x="1081.2" y="240.6" font-size="11.8" font-family="'Liberation Sans', 'DejaVu Sans', sans-serif" font-weight="bold" text-anchor="end" fill="#000" textLength="17" lengthAdjust="spacingAndGlyphs" stroke="#000" stroke-width="0.35">15S</text>
<line x1="1083.2" y1="271.2" x2="1086.8" y2="271.2" stroke="#000" stroke-width="1.3"/>
<text x="1081.2" y="275.6" font-size="11.8" font-family="'Liberation Sans', 'DejaVu Sans', sans-serif" font-weight="bold" text-anchor="end" fill="#000" textLength="17" lengthAdjust="spacingAndGlyphs" stroke="#000" stroke-width="0.35">18S</text>
<line x1="1083.2" y1="306.2" x2="1086.8" y2="306.2" stroke="#000" stroke-width="1.3"/>
<text x="1081.2" y="310.6" font-size="11.8" font-family="'Liberation Sans', 'DejaVu Sans', sans-serif" font-weight="bold" text-anchor="end" fill="#000" textLength="17" lengthAdjust="spacingAndGlyphs" stroke="#000" stroke-width="0.35">21S</text>
<line x1="1083.2" y1="341.1" x2="1086.8" y2="341.1" stroke="#000" stroke-width="1.3"/>
<text x="1081.2" y="345.5" font-size="11.8" font-family="'Liberation Sans', 'DejaVu Sans', sans-serif" font-weight="bold" text-anchor="end" fill="#000" textLength="17" lengthAdjust="spacingAndGlyphs" stroke="#000" stroke-width="0.35">24S</text>
<line x1="1083.2" y1="376.1" x2="1086.8" y2="376.1" stroke="#000" stroke-width="1.3"/>
<text x="1081.2" y="380.5" font-size="11.8" font-family="'Liberation Sans', 'DejaVu Sans', sans-serif" font-weight="bold" text-anchor="end" fill="#000" textLength="17" lengthAdjust="spacingAndGlyphs" stroke="#000" stroke-width="0.35">27S</text>
<line x1="1083.2" y1="411.1" x2="1086.8" y2="411.1" stroke="#000" stroke-width="1.3"/>
<text x="1081.2" y="415.5" font-size="11.8" font-family="'Liberation Sans', 'DejaVu Sans', sans-serif" font-weight="bold" text-anchor="end" fill="#000" textLength="17" lengthAdjust="spacingAndGlyphs" stroke="#000" stroke-width="0.35">30S</text>
<line x1="1083.2" y1="446.1" x2="1086.8" y2="446.1" stroke="#000" stroke-width="1.3"/>
<text x="1081.2" y="450.5" font-size="11.8" font-family="'Liberation Sans', 'DejaVu Sans', sans-serif" font-weight="bold" text-anchor="end" fill="#000" textLength="17" lengthAdjust="spacingAndGlyphs" stroke="#000" stroke-width="0.35">33S</text>
<line x1="1083.2" y1="481" x2="1086.8" y2="481" stroke="#000" stroke-width="1.3"/>
<text x="1081.2" y="485.4" font-size="11.8" font-family="'Liberation Sans', 'DejaVu Sans', sans-serif" font-weight="bold" text-anchor="end" fill="#000" textLength="17" lengthAdjust="spacingAndGlyphs" stroke="#000" stroke-width="0.35">36S</text>
<line x1="1083.2" y1="516" x2="1086.8" y2="516" stroke="#000" stroke-width="1.3"/>
<text x="1081.2" y="520.4" font-size="11.8" font-family="'Liberation Sans', 'DejaVu Sans', sans-serif" font-weight="bold" text-anchor="end" fill="#000" textLength="17" lengthAdjust="spacingAndGlyphs" stroke="#000" stroke-width="0.35">39S</text>
<line x1="1083.2" y1="551" x2="1086.8" y2="551" stroke="#000" stroke-width="1.3"/>
<text x="1081.2" y="555.4" font-size="11.8" font-family="'Liberation Sans', 'DejaVu Sans', sans-serif" font-weight="bold" text-anchor="end" fill="#000" textLength="17" lengthAdjust="spacingAndGlyphs" stroke="#000" stroke-width="0.35">42S</text>
<line x1="1086.8" y1="551" x2="1086.8" y2="554.2" stroke="#000" stroke-width="1.3"/>
<text x="1086.8" y="563.6" font-size="11.8" font-family="'Liberation Sans', 'DejaVu Sans', sans-serif" font-weight="bold" text-anchor="middle" fill="#000" textLength="18" lengthAdjust="spacingAndGlyphs" stroke="#000" stroke-width="0.35">70W</text>
<line x1="1136.8" y1="551" x2="1136.8" y2="554.2" stroke="#000" stroke-width="1.3"/>
<text x="1136.8" y="563.6" font-size="11.8" font-family="'Liberation Sans', 'DejaVu Sans', sans-serif" font-weight="bold" text-anchor="middle" fill="#000" textLength="18" lengthAdjust="spacingAndGlyphs" stroke="#000" stroke-width="0.35">65W</text>
<line x1="1186.8" y1="551" x2="1186.8" y2="554.2" stroke="#000" stroke-width="1.3"/>
<text x="1186.8" y="563.6" font-size="11.8" font-family="'Liberation Sans', 'DejaVu Sans', sans-serif" font-weight="bold" text-anchor="middle" fill="#000" textLength="18" lengthAdjust="spacingAndGlyphs" stroke="#000" stroke-width="0.35">60W</text>
<line x1="1236.8" y1="551" x2="1236.8" y2="554.2" stroke="#000" stroke-width="1.3"/>
<text x="1236.8" y="563.6" font-size="11.8" font-family="'Liberation Sans', 'DejaVu Sans', sans-serif" font-weight="bold" text-anchor="middle" fill="#000" textLength="18" lengthAdjust="spacingAndGlyphs" stroke="#000" stroke-width="0.35">55W</text>
<line x1="1286.8" y1="551" x2="1286.8" y2="554.2" stroke="#000" stroke-width="1.3"/>
<text x="1286.8" y="563.6" font-size="11.8" font-family="'Liberation Sans', 'DejaVu Sans', sans-serif" font-weight="bold" text-anchor="middle" fill="#000" textLength="18" lengthAdjust="spacingAndGlyphs" stroke="#000" stroke-width="0.35">50W</text>
<line x1="1336.8" y1="551" x2="1336.8" y2="554.2" stroke="#000" stroke-width="1.3"/>
<text x="1336.8" y="563.6" font-size="11.8" font-family="'Liberation Sans', 'DejaVu Sans', sans-serif" font-weight="bold" text-anchor="middle" fill="#000" textLength="18" lengthAdjust="spacingAndGlyphs" stroke="#000" stroke-width="0.35">45W</text>
<line x1="1386.8" y1="551" x2="1386.8" y2="554.2" stroke="#000" stroke-width="1.3"/>
<text x="1386.8" y="563.6" font-size="11.8" font-family="'Liberation Sans', 'DejaVu Sans', sans-serif" font-weight="bold" text-anchor="middle" fill="#000" textLength="18" lengthAdjust="spacingAndGlyphs" stroke="#000" stroke-width="0.35">40W</text>
<line x1="1436.8" y1="551" x2="1436.8" y2="554.2" stroke="#000" stroke-width="1.3"/>
<text x="1436.8" y="563.6" font-size="11.8" font-family="'Liberation Sans', 'DejaVu Sans', sans-serif" font-weight="bold" text-anchor="middle" fill="#000" textLength="18" lengthAdjust="spacingAndGlyphs" stroke="#000" stroke-width="0.35">35W</text>
<line x1="1486.8" y1="551" x2="1486.8" y2="554.2" stroke="#000" stroke-width="1.3"/>
<text x="1486.8" y="563.6" font-size="11.8" font-family="'Liberation Sans', 'DejaVu Sans', sans-serif" font-weight="bold" text-anchor="middle" fill="#000" textLength="18" lengthAdjust="spacingAndGlyphs" stroke="#000" stroke-width="0.35">30W</text>
<text transform="scale(0.8,1)" x="1581.1 1596.7 1613.2 1630 1646.2" y="166.4" font-size="22" font-family="'DejaVu Sans', 'Liberation Sans', sans-serif" font-weight="200" stroke="#000" stroke-width="0.45">CHUVA</text>
<rect x="1087.1" y="568.4" width="416.3" height="48.4" fill="none" stroke="#111" stroke-width="1.3"/>
<text x="1101.5" y="588.6" font-size="9.6" font-family="'Liberation Sans', 'DejaVu Sans', sans-serif" font-weight="bold" text-anchor="start" fill="#000" textLength="389.9" lengthAdjust="spacingAndGlyphs">[OMEGA(-0.001)-(azul)+OMEGA(-0.3)-(verde)+UR&gt;70(1000/850/700/500)]  +  HGT(500)</text>
<text x="1174" y="601.8" font-size="9.6" font-family="'Liberation Sans', 'DejaVu Sans', sans-serif" font-weight="bold" text-anchor="start" fill="#000" textLength="244.3" lengthAdjust="spacingAndGlyphs">[OMEGA(-0.01)_UR&gt;50(1000/850)(vermelho)  +  LC(500)</text>
<g clip-path="url(#clip3)">
<g transform="translate(97.25,728.40)"><path d="M297.4,144.3 C298.5,143.5 305.6,146.2 308.1,148.3 C310.6,150.3 316.3,158.8 318.8,161.6 C321.2,164.4 326.6,169.9 329.4,172.3 C332.2,174.6 339.6,179.4 342.8,181.6 C345.9,183.8 353.3,188.6 356.1,190.9 C358.9,193.3 364.4,199.1 366.8,201.6 C369.1,204.1 374.2,209.8 376.1,212.3 C377.9,214.8 381.5,220.3 382.8,222.9 C384,225.6 386.8,232.8 386.8,234.9 C386.8,237.1 384,241.4 382.8,241.6 C381.5,241.8 377.9,237.8 376.1,236.3 C374.2,234.7 368.8,230.4 366.8,228.3 C364.7,226.1 360.8,220.1 358.8,217.6 C356.7,215.1 351.9,209.6 349.4,206.9 C346.9,204.3 340.1,197.4 337.4,194.9 C334.8,192.4 329.2,187.5 326.8,185.6 C324.3,183.7 318.4,180.8 316.1,178.9 C313.8,177.1 308.8,172.4 306.8,169.6 C304.7,166.8 299.8,157.9 298.8,154.9 C297.7,152 296.3,145 297.4,144.3 Z M334.8,149.6 C335.8,149.3 340.9,151 342.8,152.3 C344.6,153.5 350.1,159 350.8,160.3 C351.4,161.5 349.3,163.1 348.1,162.9 C346.8,162.8 341.8,159.9 340.1,158.9 C338.4,158 334,156 333.4,154.9 C332.8,153.8 333.7,149.9 334.8,149.6 Z M369.4,268.3 C370.5,266 374.8,261.6 376.1,261.6 C377.3,261.6 380.5,266 380.1,268.3 C379.6,270.5 373.6,279.5 372.1,280.9 C370.5,282.4 367.1,282.4 366.8,280.9 C366.4,279.5 368.3,270.5 369.4,268.3 Z M382.8,204.3 C383.1,204 386,205.7 386.8,206.9 C387.5,208.2 389.4,213.8 389.4,214.9 C389.4,216 387.4,216.9 386.8,216.3 C386.1,215.6 383.9,211 383.4,209.6 C383,208.2 382.4,204.6 382.8,204.3 Z" fill="#F83C3C"/><path d="M278.8,132.3 C280.3,132 289.9,136.8 292.1,138.9 C294.3,141.1 295.7,148.1 297.4,150.9 C299.1,153.7 304.7,160.1 306.8,162.9 C308.8,165.7 314,172.9 314.8,174.9 C315.5,177 314.8,180.6 313.4,180.3 C312,180 305.1,174.4 302.8,172.3 C300.4,170.1 295.4,164.1 293.4,161.6 C291.4,159.1 287.1,153.3 285.4,150.9 C283.7,148.6 279.5,143.8 278.8,141.6 C278,139.4 277.2,132.6 278.8,132.3 Z M380.1,241.6 C380.7,239.4 388.7,233.9 390.8,233.6 C392.8,233.3 395.5,236.4 397.4,238.9 C399.3,241.4 406,252.1 406.8,254.9 C407.5,257.7 405.3,261.4 404.1,262.9 C402.8,264.5 397.8,266.9 396.1,268.3 C394.4,269.7 391,273.5 389.4,274.9 C387.9,276.4 384.3,280.9 382.8,280.9 C381.2,280.9 376.4,277.2 376.1,274.9 C375.8,272.7 379,264.2 380.1,261.6 C381.2,259 385.4,254.6 385.4,252.3 C385.4,249.9 379.5,243.8 380.1,241.6 Z M405.4,222.9 C406.7,221.1 415.9,218.4 417.4,220.3 C419,222.1 419.2,236.1 418.8,238.9 C418.3,241.7 414.8,244.6 413.4,244.3 C412,244 407.7,238.8 406.8,236.3 C405.8,233.8 404.2,224.8 405.4,222.9 Z M308.1,264.9 C308.5,264.6 312.6,265.1 313.4,265.6 C314.2,266.1 315.2,269.3 314.8,269.6 C314.3,269.9 310.2,268.8 309.4,268.3 C308.6,267.7 307.6,265.2 308.1,264.9 Z M306.7,266.1 C307.5,266 312.5,267.2 313,267.7 C313.6,268.3 312.3,270.7 311.4,270.9 C310.6,271.1 306.6,269.9 306,269.3 C305.5,268.8 305.9,266.3 306.7,266.1 Z M325.8,278.9 C327.1,278.7 334.6,281.1 335.3,282.1 C336.1,283 333.4,286.6 332.1,286.8 C330.8,287 324.9,284.6 324.2,283.6 C323.4,282.7 324.5,279.1 325.8,278.9 Z M348,301.2 C349.9,301.3 362.8,306.4 364,307.5 C365.1,308.6 359.4,310.9 357.6,310.7 C355.7,310.5 349.2,307 348,305.9 C346.9,304.8 346.2,301 348,301.2 Z" fill="#F08228"/><use href="#basemap"/><path d="M1.4,186.3 15.3,194.4 26.6,202.6 37,212 46.2,222.5 54.1,234 60.7,246.4 66.1,259.3 76.8,287.3 83.7,301.7 88.2,308.4 92.3,312.7 97.5,315.6 101.5,316.2 105.4,315.4 110.4,312.2 115.8,306.3 120.1,299.6 127,285.1 142.5,246.1 147.9,235.4 153.1,226.8 159,218.8 165.7,211.4 173.2,204.8 179.7,200.1 190.2,194.2 203.2,189.3 214.9,186.7 228.9,185.5 242.9,186.2 256.6,188.6 270.1,192.5 284.9,198.6 293.8,203.2 302.3,208.4 310.4,214.2 318.2,220.5 325.4,227.4 332.2,234.8 338.4,242.6 344,250.8 352,264.7 359.8,280.9 366.5,297.6 384.8,346.3 391.2,361 396.4,371.8 M1,7.6 34.9,10.3 50.9,10.6 66.9,10.4 94.8,8.4 148.4,2.3 172.4,0.9 194.4,1.7 214.2,4.4 235.5,9.7 260,18.4 283.8,28.8 337.9,54.8 363.4,66.3 393.2,78.2 419.8,86.9 M153.9,372.7 171.4,332.3 180.8,312.4 190.7,295 200.1,282.1 205.5,276.2 211.4,270.8 217.8,266 224.8,262 232.1,258.9 237.9,257.3 243.8,256.2 251.8,255.6 259.7,256.1 267.6,257.6 275.2,260 282.5,263.2 289.5,267.2 297.6,273 303.6,278.3 310.4,285.6 315.4,291.8 321.2,300 326.3,308.6 332,319.2 341.8,341.1 354.1,372.8 M0.9,45 32.8,48.1 60.8,48.9 74.8,48.5 90.7,47.3 146.3,40.7 168.3,39 182.2,38.8 194.2,39.3 206.2,40.6 218,42.6 229.7,45.3 243.1,49.2 256.3,53.9 271.1,59.9 298.3,72.6 377.1,111.8 400.9,122.3 419.6,129.3 M0.2,138.8 55.9,154.9 71.6,158.1 83.5,159.4 95.5,159.4 109.4,157.6 123,154.3 153.6,145.1 169.1,141.1 186.9,138.1 202.8,136.9 212.8,137 222.8,137.8 242.5,141.2 252.2,143.7 263.6,147.4 283.9,155.8 296.4,162.1 306.9,168 318.6,175.6 328.3,182.6 337.6,190.2 346.4,198.4 354.6,207.1 360.9,214.9 371,229.8 379.3,245.7 386.3,262.3 399.5,298 405.9,312.6 412.9,324.7 419.5,332.3 M186.8,372.8 195.5,354.8 203.4,340.8 211.2,329.3 219,320.1 228,312.2 236.5,307 245.9,303.5 255.8,302.2 265.7,303.3 275.1,306.5 283.8,311.4 293,319.1 302.3,329.6 310.2,341.1 318,355.1 325.7,371.4 M0.8,158.8 15.8,164.5 30.4,170.9 78.8,194.8 88.3,198 96.2,199.1 104.2,198.4 113.7,195.3 122.6,190.8 150.4,175.1 168.7,166.9 183.9,162 199.6,158.9 209.6,158 219.5,157.8 229.5,158.5 241.4,160.1 253.1,162.7 264.6,166.2 275.8,170.4 286.8,175.3 297.4,180.9 306,186 315.9,192.8 323.8,198.9 332.8,206.9 339.8,214 346.3,221.6 352.3,229.6 361.8,244.9 369.7,261.1 376.4,277.7 390.9,317.2 399.6,337.3 404.3,346.2 409.8,354.5 415,360.6 419.5,364.6 M0.9,61.7 34.7,65.3 62.7,66.3 76.7,65.9 92.7,64.8 148.2,57.8 172.1,55.9 186.1,55.8 198.1,56.5 210,57.8 221.8,60 235.4,63.3 248.8,67.5 263.8,73.2 280.3,80.3 314.4,97 390.4,137.2 406.7,145 419.6,150.4 M0.5,201.4 12,209.5 21,217.4 29.2,226.1 36.4,235.7 42.6,246 48.7,258.6 54,271.5 68,309 72.8,320 77.4,328.9 82.9,337.2 88.3,343.1 91.4,345.6 94.9,347.5 100.8,348.8 106.6,347.6 111.8,344.6 117.6,339.1 123.5,331.1 128.5,322.4 133.8,311.6 151.9,267.2 161.5,247.4 166.7,238.9 172.7,230.9 179.4,223.5 187,216.9 197,210.4 207.9,205.4 219.5,202.2 231.3,200.6 243.3,200.6 257.2,202.5 268.8,205.5 281.9,210.5 289.1,214 297.7,219.1 305.9,224.7 313.7,231 319.5,236.5 326.4,243.8 332.6,251.6 338.3,259.8 347.3,275.4 355.8,293.5 362.5,310.2 378.7,353.3 386.3,371.7 M1.7,93.9 39.3,99.4 55.3,100.7 69.3,101.2 83.3,100.9 99.2,99.6 156.6,91.1 180.5,89.1 194.5,89.1 208.4,90.1 222.3,92.2 235.9,95.2 255,101.1 277.3,110 300.8,121.3 325.3,134.8 345.7,147.4 365.6,160.9 380,171.6 409.7,195.3 419.4,202.4 M210.1,372.4 215.5,363.9 221.5,356 226.9,350 232.8,344.7 239.4,340.2 244.8,337.6 250.6,335.9 256.5,335.2 262.5,335.6 270.2,337.7 275.6,340.3 282.2,344.8 288.2,350.2 293.5,356.1 299.5,364.1 304.8,372.6 M1,120.4 30.3,126.9 50,130.5 67.8,132.6 83.8,133.1 95.8,132.5 109.7,130.8 154.8,121.6 172.5,118.7 188.5,117.3 204.5,117.2 220.4,118.7 236.1,121.5 251.6,125.7 268.5,131.7 281.4,137.2 295.8,144.2 309.8,151.9 321.7,159.2 333.3,167.1 344.5,175.5 355.2,184.6 363.8,192.9 371.9,201.7 378.2,209.5 389.4,226.1 398.7,243.8 413.3,276.7 419.4,287 M0.6,220 9.7,227.9 16.5,235.2 23.8,244.7 30.2,254.8 35.8,265.5 40.7,276.4 59.1,325 67.1,343.4 71.6,352.3 76.9,360.8 81.7,367.2 87.3,372.8 M230.9,371.8 237,366.5 243.7,362.3 251.2,359.5 257.2,358.8 263.1,359.2 270.7,361.7 277.6,365.7 285.2,372.3 M114.8,371.9 119.2,367.7 124.2,361.5 132.7,348 142.3,328.2 158.6,289.5 165.2,274.9 173.8,259.1 183.1,246.1 189.9,238.7 195.8,233.4 202.3,228.7 209.2,224.8 216.6,221.6 224.2,219.2 232.1,217.7 242,217 252,217.4 263.8,219.5 273.4,222.3 284.5,226.9 293.3,231.7 303.2,238.5 312.4,246.2 320.7,254.8 327,262.6 333.8,272.5 339.9,282.8 345.3,293.5 355.7,317.4 376.2,371.6 M0.3,286.7 8.5,300.4 17.1,318.5 25.4,338.8 38.1,372.5 M0.2,25.5 30.1,28.2 58,28.9 74,28.4 90,27.3 145.6,20.9 167.6,19.2 179.6,19.1 191.5,19.5 203.5,20.7 215.3,22.6 227,25.2 238.6,28.5 263,37.4 288.6,48.8 342.5,75.1 367.9,86.9 393.7,97.7 418.3,106.3 M259.4,0.1 281.4,9.7 333.8,34.6 361.2,46.8 391,58.4 419.6,67.4 M1.3,248.1 7.8,255.8 13.5,263.9 19.7,274.2 25.2,284.9 32.4,301.4 51,349.9 60.4,372 M175.2,371.5 185,349.5 194.1,331.7 203.6,316.5 212.4,305.5 218.1,299.9 222.7,296.1 232.8,289.7 238.4,287.4 244.1,285.7 250,284.7 256,284.5 262,284.9 267.9,286.1 273.6,288 279.1,290.4 284.3,293.3 290.8,297.9 301,307.5 310.8,320.1 319.2,333.8 328.1,351.7 336.7,371.9 M1.8,174.4 17.9,182.4 31.6,190.7 44.5,200.2 54.9,209.6 63,218.5 71.4,229.6 76.7,238.1 87.2,257.4 91.5,264.2 95.4,268.7 98.8,270.8 100.8,271.2 104.6,270.4 107.8,268 110.4,265 115.6,256.4 127.5,233.3 134.9,221.4 144.8,208.9 156.4,197.9 164.4,191.9 171.2,187.6 178.2,183.9 185.6,180.7 193.1,178.1 200.9,176.1 208.7,174.6 218.7,173.7 228.7,173.6 238.7,174.3 248.5,175.9 260.2,178.7 269.7,181.7 280.9,186.2 291.6,191.4 300.3,196.4 310.3,203.1 318.2,209.2 325.7,215.8 332.8,222.9 339.3,230.5 346.4,240.1 351.8,248.5 357.6,259.1 M361.1,0.7 389.2,11 419.8,20.3 M141.6,371.6 149.2,355.3 166.6,314.9 174.3,298.6 184,281.1 193.3,268.1 200,260.7 205.9,255.4 212.4,250.6 219.3,246.6 226.7,243.5 234.3,241.3 242.2,240 250.2,239.7 258.2,240.3 268,242.2 275.6,244.7 284.8,248.7 293.4,253.8 301.4,259.7 308.8,266.4 315.6,273.8 321.7,281.7 327.3,290 337.9,309.2 348.3,333 363.2,372.3 M303.3,0.8 337.7,17.1 365.3,28.9 391.5,38.6 418.3,46.8 M83.5,266.1 89,276.8 93.8,283.1 97,285.6 98.8,286.4 102.7,286.6 104.6,286 108,283.8 111.9,279.3 116.1,272.5 120.4,263.4 M0,106.8 23.6,111.2 41.4,114 57.3,115.7 71.3,116.4 85.2,116.2 101.2,114.9 117,112.7 160.4,105.2 174.3,103.6 186.3,102.9 202.3,103.1 216.2,104.4 231.9,107.3 247.4,111.4 258.8,115.2 271.8,120.3 297.2,132.1 323.3,146.8 336.8,155.5 348.3,163.5 367.1,178.4 384.5,194.8 399.1,211.3 418.7,236.6 M1.1,79.6 36.8,84.1 52.8,85.1 66.8,85.4 80.8,85 96.7,83.8 152.2,76.3 176.1,74.3 190.1,74.3 202.1,75 214,76.5 227.8,79.1 245.1,83.9 262.1,89.9 280.5,97.7 300.3,107.3 319.8,117.5 340.7,129.3 402.1,166.9 419.7,176.4 M0.3,332.4 8.5,350.6 17.4,372.9 M65.1,209.3 91.8,236.3 96.9,239.4 100.8,240.2 102.7,240 106.4,238.4 111,234.6 131.9,210.4 138.9,203.3 146.4,196.6 M74.6,341.7 81.2,351.8 88.1,359 91.3,361.3 94.9,363.1 100.8,364.2 106.6,363.2 110.2,361.4 113.5,359.1 120.5,352 126.3,343.9 M0,149.7 19,156.1 67.7,174.2 79.3,177.2 91.2,178.8 101.2,178.4 111,176.4 122.4,172.7 150.2,161.4 165.3,156.1 182.7,151.5 198.5,149.1 216.5,148.6 226.5,149.3 236.4,150.6 255.8,155.2 274.7,161.8 M197.4,372.7 204,360.3 211.4,348.5 218.7,338.9 225.5,331.6 233.3,325.4 240.3,321.5 247.8,318.8 255.8,317.8 263.7,318.4 271.4,320.6 280.3,325.2 288.1,331.3 295.1,338.5 302.4,348 309.8,359.8 316.3,372.2 M338.7,0.5 358.9,9.2 379.4,17.1 398.4,23.5 419.5,29.7 M47.7,187.7 86,213.2 93.3,216.5 97.2,217.3 101.2,217.3 107,215.8 112.3,213 145.8,187.7 156,181.4 166.6,175.8" fill="none" stroke="#000" stroke-width="1.1" stroke-linejoin="round" stroke-linecap="round"/><path d="M30,205.6 L23.9,203.4 L27.1,199.8 Z M57.6,240.7 L52.7,236.5 L57,234.3 Z M74.9,282.2 L70.5,277.5 L75,275.8 Z M101.1,316.2 L94.8,317.7 L95.5,312.9 Z M128,282.6 L128,289.1 L123.5,287.3 Z M145.1,241 L144.6,247.4 L140.3,245.3 Z M172.3,205.6 L169.4,211.4 L166.2,207.8 Z M212.8,187.1 L207.4,190.8 L206.4,186.1 Z M257.4,188.8 L251,189.4 L252.3,184.8 Z M298.7,206.2 L292.3,205.1 L294.8,201 Z M332.7,235.4 L327.1,232.2 L330.8,229.2 Z M356.3,273.6 L351.5,269.2 L355.9,267.1 Z M373.2,315.3 L368.8,310.5 L373.3,308.8 Z M389.5,357.2 L384.9,352.6 L389.4,350.7 Z M20.7,9.2 L14.6,11.1 L15,6.3 Z M65.7,10.4 L59.7,12.9 L59.7,8.1 Z M110.5,6.6 L104.8,9.6 L104.3,4.9 Z M200.2,2.5 L193.9,4 L194.6,-0.7 Z M243.9,12.7 L237.4,12.9 L239,8.4 Z M285.5,29.6 L279.1,29.2 L281.2,24.9 Z M326.1,49.1 L319.7,48.7 L321.7,44.4 Z M367,67.8 L360.6,67.8 L362.4,63.3 Z M409.2,83.4 L402.8,83.8 L404.3,79.3 Z M166.9,342.7 L166.7,349.1 L162.3,347.2 Z M186.6,302.2 L185.7,308.6 L181.5,306.3 Z M215.2,268 L211.8,273.5 L209,269.6 Z M257.5,256 L251.4,258 L251.7,253.2 Z M298.2,273.5 L292.1,271.4 L295.3,267.8 Z M326.2,308.4 L321.1,304.5 L325.2,302 Z M345,349.3 L340.6,344.5 L345.1,342.8 Z M15.1,46.4 L8.9,48.2 L9.3,43.4 Z M60,48.9 L53.9,51.1 L54,46.3 Z M104.8,45.7 L99.1,48.8 L98.6,44 Z M149.5,40.5 L143.7,43.3 L143.3,38.6 Z M194.4,39.3 L188.2,41.1 L188.7,36.3 Z M238.5,47.9 L232.1,48.5 L233.4,43.9 Z M280.4,64.2 L273.9,63.9 L276,59.5 Z M320.9,83.8 L314.5,83.3 L316.6,79 Z M361.2,103.9 L354.7,103.3 L356.9,99 Z M402,122.7 L395.6,122.9 L397.2,118.4 Z M26.6,146.4 L20.2,147.1 L21.5,142.5 Z M70.1,157.8 L63.7,159 L64.7,154.3 Z M114.7,156.3 L109.4,160 L108.3,155.3 Z M158,144 L152.8,147.8 L151.6,143.1 Z M202.3,137 L196.5,139.8 L196.2,135 Z M246.9,142.4 L240.4,143.2 L241.7,138.5 Z M288.9,158.3 L282.4,157.7 L284.6,153.4 Z M327.2,181.8 L320.9,180.2 L323.7,176.3 Z M359.4,213 L353.7,209.9 L357.4,206.8 Z M381.9,251.8 L377.4,247.2 L381.8,245.3 Z M398,293.8 L393.6,289 L398.1,287.4 Z M195.2,355.5 L194.7,361.9 L190.4,359.9 Z M220.7,318.7 L217.8,324.4 L214.6,320.8 Z M261,302.8 L254.8,304.6 L255.3,299.8 Z M298.6,325.4 L292.8,322.4 L296.4,319.3 Z M322,363.6 L317.3,359.2 L321.6,357.1 Z M38.2,174.8 L31.7,174.3 L33.9,170 Z M78.5,194.7 L72.1,194.2 L74.2,189.9 Z M121.4,191.4 L117.2,196.2 L115,191.9 Z M161.1,170.2 L156.7,174.9 L154.7,170.5 Z M204.3,158.5 L198.6,161.4 L198.1,156.6 Z M249,161.8 L242.6,162.8 L243.7,158.2 Z M291,177.5 L284.6,176.8 L286.8,172.6 Z M328.1,202.8 L322,200.6 L325.2,197 Z M356.9,237.1 L351.7,233.2 L355.8,230.7 Z M376.3,277.6 L371.9,272.9 L376.3,271.1 Z M392,319.7 L387.4,315.2 L391.8,313.3 Z M413.6,359 L407.9,356 L411.5,352.8 Z M41,65.5 L35,67.7 L35.1,62.9 Z M86,65.2 L80.2,68.1 L79.8,63.3 Z M130.7,60 L125,63.1 L124.4,58.4 Z M175.5,55.9 L169.5,58.4 L169.5,53.6 Z M220.2,59.7 L213.9,61 L214.7,56.3 Z M263.2,72.9 L256.7,73.1 L258.4,68.6 Z M304,91.9 L297.5,91.4 L299.6,87.1 Z M343.9,112.6 L337.5,111.9 L339.7,107.7 Z M383.7,133.7 L377.2,133 L379.5,128.7 Z M28.3,225.2 L22.4,222.4 L25.9,219.1 Z M50.9,263.8 L46.4,259.2 L50.9,257.4 Z M66.8,305.9 L62.5,301.1 L67,299.5 Z M89.6,344.2 L83.4,342.4 L86.4,338.6 Z M124.9,328.6 L124,335 L119.9,332.6 Z M143.5,287.7 L143.5,294.2 L139,292.4 Z M161.9,246.7 L160.9,253.1 L156.8,250.6 Z M191.9,213.7 L188.2,219 L185.5,215 Z M234.3,200.6 L228.2,203 L228.3,198.2 Z M278.1,209.1 L271.6,209.2 L273.3,204.7 Z M315.9,233 L309.8,230.7 L313.1,227.2 Z M343.3,268.4 L338.2,264.4 L342.4,262 Z M362.2,309.2 L357.7,304.6 L362.1,302.8 Z M378,351.4 L373.7,346.6 L378.1,344.9 Z M24.6,97.2 L18.3,98.7 L19,94 Z M69.4,101.2 L63.5,103.7 L63.4,98.9 Z M114.2,97.4 L108.6,100.6 L107.9,95.9 Z M158.7,91 L153,93.9 L152.6,89.1 Z M203.6,89.7 L197.5,91.7 L197.8,86.9 Z M247.6,98.8 L241.1,99.3 L242.6,94.8 Z M289.2,115.7 L282.8,115.3 L284.9,111 Z M328.9,137 L322.5,135.9 L325,131.8 Z M366.5,161.6 L360.3,159.9 L363.2,156.1 Z M402.1,189.2 L395.9,187.3 L398.9,183.6 Z M234.4,343.6 L230.8,349 L228.1,345 Z M276.4,340.8 L270.1,339.5 L272.8,335.5 Z M44.4,129.5 L38,130.7 L38.9,126 Z M89.1,132.9 L83.3,135.6 L83,130.8 Z M133.5,125.9 L128.1,129.5 L127.2,124.8 Z M177.8,118.2 L172.1,121.2 L171.6,116.4 Z M222.7,119.1 L216.4,120.4 L217.2,115.6 Z M266,130.8 L259.6,131.1 L261.2,126.6 Z M306.6,150.2 L300.2,149.4 L302.5,145.2 Z M344,175.1 L337.8,173.4 L340.6,169.6 Z M376,206.7 L370.3,203.5 L374,200.5 Z M399.3,245 L394.6,240.5 L399,238.6 Z M17.1,235.9 L11.5,232.6 L15.3,229.7 Z M39.8,274.6 L35.2,270.1 L39.6,268.1 Z M55.9,316.6 L51.5,311.8 L56,310.1 Z M74.7,357.4 L69.6,353.5 L73.7,351 Z M255.6,359 L250,362.1 L249.3,357.3 Z M125.1,360.1 L124,366.5 L119.9,363.9 Z M145.7,320.2 L145.5,326.6 L141.1,324.8 Z M163.4,278.8 L163.1,285.3 L158.7,283.3 Z M187.7,241.1 L185.4,247.2 L181.8,243.9 Z M225.9,218.9 L220.5,222.4 L219.6,217.7 Z M270.3,221.4 L263.9,222 L265.3,217.4 Z M309.1,243.5 L303,241.5 L306.1,237.8 Z M337.3,278.3 L332.1,274.4 L336.3,272 Z M356.3,319.1 L351.9,314.3 L356.4,312.6 Z M372.3,361.1 L367.9,356.4 L372.4,354.7 Z M7.4,298.5 L2.2,294.6 L6.4,292.2 Z M25.7,339.6 L21.4,334.8 L25.9,333.1 Z M35.3,28.4 L29.2,30.6 L29.3,25.8 Z M80.2,28 L74.4,30.8 L74.1,26 Z M125,23.2 L119.3,26.3 L118.7,21.5 Z M169.8,19.2 L163.8,21.7 L163.7,16.9 Z M214.6,22.5 L208.3,23.9 L209,19.2 Z M257.6,35.4 L251.1,35.6 L252.8,31.1 Z M298.7,53.7 L292.2,53.2 L294.3,48.9 Z M339.1,73.5 L332.7,73 L334.8,68.7 Z M380.1,92 L373.7,91.9 L375.5,87.5 Z M270.5,4.9 L264.1,4.8 L266,0.4 Z M311.3,23.9 L304.9,23.5 L306.9,19.2 Z M352.1,42.8 L345.7,42.6 L347.6,38.2 Z M394,59.3 L387.5,59.8 L389,55.2 Z M19.2,273.4 L14.1,269.5 L18.2,267 Z M37.4,314.5 L33,309.8 L37.5,308 Z M53.7,356.4 L49.2,351.8 L53.6,350 Z M180.9,358.7 L180.7,365.1 L176.3,363.2 Z M202.1,319 L200.9,325.4 L196.8,322.8 Z M234.7,288.9 L230.1,293.5 L228.2,289.1 Z M278.2,290 L271.7,289.8 L273.7,285.4 Z M310.9,320.2 L305.7,316.3 L309.8,313.8 Z M331.7,360 L327.1,355.4 L331.5,353.6 Z M31.1,190.4 L24.7,189.4 L27.2,185.3 Z M64.4,220.4 L58.9,217.1 L62.8,214.2 Z M88,258.7 L82.8,254.8 L86.9,252.3 Z M117.7,252.4 L117.1,258.8 L112.8,256.6 Z M140.8,213.9 L139,220.1 L135.2,217.2 Z M175.2,185.5 L171,190.4 L168.8,186.1 Z M218.3,173.7 L212.5,176.7 L212.1,171.9 Z M262.7,179.5 L256.2,179.9 L257.7,175.4 Z M303.3,198.4 L297,197.1 L299.7,193.1 Z M337.1,227.9 L331.3,224.9 L335,221.8 Z M395.3,12.9 L388.9,13.4 L390.3,8.8 Z M159.1,332.4 L158.9,338.9 L154.5,337 Z M178.1,291.7 L177.3,298.1 L173.1,295.7 Z M205.2,256 L202.3,261.8 L199.1,258.3 Z M246.2,239.9 L240.3,242.5 L240.1,237.7 Z M289.1,251.2 L282.7,250.3 L285.1,246.1 Z M321.8,281.7 L316.4,278 L320.4,275.4 Z M343.1,321.2 L338.5,316.6 L342.9,314.7 Z M359.7,363 L355.3,358.3 L359.8,356.6 Z M324.7,10.9 L318.3,10.5 L320.3,6.2 Z M365.9,29.1 L359.4,29.3 L361.1,24.8 Z M408.4,43.8 L401.9,44.3 L403.4,39.7 Z M96.7,285.4 L90.5,283.6 L93.4,279.8 Z M23.6,111.2 L17.2,112.4 L18.1,107.7 Z M68.3,116.3 L62.1,118.4 L62.4,113.6 Z M113.1,113.2 L107.5,116.5 L106.8,111.7 Z M157.4,105.7 L151.9,109.1 L151.1,104.4 Z M202.3,103.1 L196.1,104.9 L196.5,100.1 Z M246.5,111.2 L240,111.9 L241.3,107.3 Z M288.2,127.9 L281.7,127.5 L283.7,123.2 Z M327.6,149.5 L321.2,148.3 L323.8,144.3 Z M364,175.9 L357.8,174.1 L360.8,170.3 Z M395.8,207.6 L390.1,204.7 L393.7,201.5 Z M35.6,83.9 L29.3,85.5 L29.9,80.8 Z M80.5,85 L74.6,87.6 L74.4,82.8 Z M125.2,80 L119.6,83.1 L118.9,78.4 Z M169.9,74.9 L164.1,77.7 L163.7,73 Z M214.7,76.6 L208.4,77.8 L209.3,73.1 Z M258.1,88.5 L251.6,88.8 L253.2,84.2 Z M299.2,106.7 L292.7,106.3 L294.8,102 Z M338.7,128.2 L332.3,127.4 L334.7,123.2 Z M377.1,151.6 L370.8,150.5 L373.3,146.5 Z M415.9,174.4 L409.5,173.7 L411.8,169.4 Z M15,366.9 L10.6,362.2 L15,360.5 Z M75,219.3 L69,216.7 L72.4,213.3 Z M110.4,235.2 L107.2,240.8 L104.2,237.1 Z M140.5,201.9 L137.7,207.6 L134.5,204.1 Z M87.7,358.6 L81.8,355.9 L85.3,352.6 Z M124.2,346.7 L122.7,353 L118.8,350.2 Z M11.3,153.5 L4.9,153.9 L6.4,149.3 Z M53.6,168.9 L47.2,169.1 L48.8,164.6 Z M97.2,178.5 L91.3,181.2 L91.1,176.4 Z M140,165.6 L135.3,170 L133.5,165.6 Z M182.7,151.5 L177.5,155.3 L176.3,150.7 Z M227.5,149.4 L221.2,151 L221.8,146.2 Z M270.9,160.5 L264.5,160.8 L266.1,156.2 Z M206.3,356.8 L205.1,363.1 L201.1,360.6 Z M236.2,323.8 L232.1,328.8 L229.8,324.7 Z M278.8,324.4 L272.3,323.7 L274.5,319.5 Z M308.4,357.6 L303.2,353.8 L307.3,351.2 Z M371.7,14.1 L365.2,14.1 L366.9,9.7 Z M414.4,28.2 L407.9,28.8 L409.3,24.2 Z M83.3,211.5 L77,210.1 L79.7,206.1 Z M123.3,204.7 L120,210.2 L117.1,206.4 Z M160.3,179.1 L156.1,184 L153.8,179.8 Z" fill="#000"/><path d="M4.3,218.4 C5.1,221.6 8.5,231.1 9.1,237.5 C9.6,243.9 8,251.3 7.5,256.6 C7,261.9 6.2,267.2 5.9,269.3 M9.1,215.2 C9.6,217.9 11.7,225.3 12.3,231.1 C12.8,237 12.3,247 12.3,250.2 M13.8,199.3 C14.4,202 17,211 17,215.2 C17,219.5 14.4,223.2 13.8,224.8 M36.1,164.3 C35.9,166.4 34.3,173.3 34.5,177 C34.8,180.7 37.2,185 37.7,186.6 M47.3,145.2 L48.9,153.1 M17,173.8 L18.6,186.6 M21.8,180.2 L23.4,189.8" fill="none" stroke="#1E3CFF" stroke-width="3" stroke-linejoin="round" stroke-linecap="round"/><circle cx="306.7" cy="285.2" r="1.8" fill="#1E3CFF"/><circle cx="344.9" cy="294.8" r="1.8" fill="#1E3CFF"/><circle cx="357.6" cy="298.0" r="1.8" fill="#1E3CFF"/><circle cx="364.0" cy="294.8" r="1.8" fill="#1E3CFF"/><circle cx="371.9" cy="299.6" r="1.8" fill="#1E3CFF"/><circle cx="333.7" cy="304.3" r="1.8" fill="#1E3CFF"/><circle cx="406.9" cy="296.4" r="1.8" fill="#1E3CFF"/><circle cx="418.1" cy="304.3" r="1.8" fill="#1E3CFF"/><circle cx="408.5" cy="237.5" r="1.8" fill="#1E3CFF"/><circle cx="414.9" cy="247.0" r="1.8" fill="#1E3CFF"/><circle cx="5.9" cy="282.1" r="1.8" fill="#1E3CFF"/></g>
</g>
<rect x="97.2" y="728.4" width="420" height="373.1" fill="none" stroke="#000" stroke-width="2"/>
<line x1="93.8" y1="751.7" x2="97.2" y2="751.7" stroke="#000" stroke-width="1.3"/>
<text x="91.8" y="756.1" font-size="11.8" font-family="'Liberation Sans', 'DejaVu Sans', sans-serif" font-weight="bold" text-anchor="end" fill="#000" textLength="17" lengthAdjust="spacingAndGlyphs" stroke="#000" stroke-width="0.35">12S</text>
<line x1="93.8" y1="786.7" x2="97.2" y2="786.7" stroke="#000" stroke-width="1.3"/>
<text x="91.8" y="791.1" font-size="11.8" font-family="'Liberation Sans', 'DejaVu Sans', sans-serif" font-weight="bold" text-anchor="end" fill="#000" textLength="17" lengthAdjust="spacingAndGlyphs" stroke="#000" stroke-width="0.35">15S</text>
<line x1="93.8" y1="821.7" x2="97.2" y2="821.7" stroke="#000" stroke-width="1.3"/>
<text x="91.8" y="826.1" font-size="11.8" font-family="'Liberation Sans', 'DejaVu Sans', sans-serif" font-weight="bold" text-anchor="end" fill="#000" textLength="17" lengthAdjust="spacingAndGlyphs" stroke="#000" stroke-width="0.35">18S</text>
<line x1="93.8" y1="856.7" x2="97.2" y2="856.7" stroke="#000" stroke-width="1.3"/>
<text x="91.8" y="861.1" font-size="11.8" font-family="'Liberation Sans', 'DejaVu Sans', sans-serif" font-weight="bold" text-anchor="end" fill="#000" textLength="17" lengthAdjust="spacingAndGlyphs" stroke="#000" stroke-width="0.35">21S</text>
<line x1="93.8" y1="891.6" x2="97.2" y2="891.6" stroke="#000" stroke-width="1.3"/>
<text x="91.8" y="896" font-size="11.8" font-family="'Liberation Sans', 'DejaVu Sans', sans-serif" font-weight="bold" text-anchor="end" fill="#000" textLength="17" lengthAdjust="spacingAndGlyphs" stroke="#000" stroke-width="0.35">24S</text>
<line x1="93.8" y1="926.6" x2="97.2" y2="926.6" stroke="#000" stroke-width="1.3"/>
<text x="91.8" y="931" font-size="11.8" font-family="'Liberation Sans', 'DejaVu Sans', sans-serif" font-weight="bold" text-anchor="end" fill="#000" textLength="17" lengthAdjust="spacingAndGlyphs" stroke="#000" stroke-width="0.35">27S</text>
<line x1="93.8" y1="961.6" x2="97.2" y2="961.6" stroke="#000" stroke-width="1.3"/>
<text x="91.8" y="966" font-size="11.8" font-family="'Liberation Sans', 'DejaVu Sans', sans-serif" font-weight="bold" text-anchor="end" fill="#000" textLength="17" lengthAdjust="spacingAndGlyphs" stroke="#000" stroke-width="0.35">30S</text>
<line x1="93.8" y1="996.6" x2="97.2" y2="996.6" stroke="#000" stroke-width="1.3"/>
<text x="91.8" y="1001" font-size="11.8" font-family="'Liberation Sans', 'DejaVu Sans', sans-serif" font-weight="bold" text-anchor="end" fill="#000" textLength="17" lengthAdjust="spacingAndGlyphs" stroke="#000" stroke-width="0.35">33S</text>
<line x1="93.8" y1="1031.5" x2="97.2" y2="1031.5" stroke="#000" stroke-width="1.3"/>
<text x="91.8" y="1035.9" font-size="11.8" font-family="'Liberation Sans', 'DejaVu Sans', sans-serif" font-weight="bold" text-anchor="end" fill="#000" textLength="17" lengthAdjust="spacingAndGlyphs" stroke="#000" stroke-width="0.35">36S</text>
<line x1="93.8" y1="1066.5" x2="97.2" y2="1066.5" stroke="#000" stroke-width="1.3"/>
<text x="91.8" y="1070.9" font-size="11.8" font-family="'Liberation Sans', 'DejaVu Sans', sans-serif" font-weight="bold" text-anchor="end" fill="#000" textLength="17" lengthAdjust="spacingAndGlyphs" stroke="#000" stroke-width="0.35">39S</text>
<line x1="93.8" y1="1101.5" x2="97.2" y2="1101.5" stroke="#000" stroke-width="1.3"/>
<text x="91.8" y="1105.9" font-size="11.8" font-family="'Liberation Sans', 'DejaVu Sans', sans-serif" font-weight="bold" text-anchor="end" fill="#000" textLength="17" lengthAdjust="spacingAndGlyphs" stroke="#000" stroke-width="0.35">42S</text>
<line x1="97.2" y1="1101.5" x2="97.2" y2="1104.7" stroke="#000" stroke-width="1.3"/>
<text x="97.2" y="1114.1" font-size="11.8" font-family="'Liberation Sans', 'DejaVu Sans', sans-serif" font-weight="bold" text-anchor="middle" fill="#000" textLength="18" lengthAdjust="spacingAndGlyphs" stroke="#000" stroke-width="0.35">70W</text>
<line x1="147.2" y1="1101.5" x2="147.2" y2="1104.7" stroke="#000" stroke-width="1.3"/>
<text x="147.2" y="1114.1" font-size="11.8" font-family="'Liberation Sans', 'DejaVu Sans', sans-serif" font-weight="bold" text-anchor="middle" fill="#000" textLength="18" lengthAdjust="spacingAndGlyphs" stroke="#000" stroke-width="0.35">65W</text>
<line x1="197.2" y1="1101.5" x2="197.2" y2="1104.7" stroke="#000" stroke-width="1.3"/>
<text x="197.2" y="1114.1" font-size="11.8" font-family="'Liberation Sans', 'DejaVu Sans', sans-serif" font-weight="bold" text-anchor="middle" fill="#000" textLength="18" lengthAdjust="spacingAndGlyphs" stroke="#000" stroke-width="0.35">60W</text>
<line x1="247.2" y1="1101.5" x2="247.2" y2="1104.7" stroke="#000" stroke-width="1.3"/>
<text x="247.2" y="1114.1" font-size="11.8" font-family="'Liberation Sans', 'DejaVu Sans', sans-serif" font-weight="bold" text-anchor="middle" fill="#000" textLength="18" lengthAdjust="spacingAndGlyphs" stroke="#000" stroke-width="0.35">55W</text>
<line x1="297.2" y1="1101.5" x2="297.2" y2="1104.7" stroke="#000" stroke-width="1.3"/>
<text x="297.2" y="1114.1" font-size="11.8" font-family="'Liberation Sans', 'DejaVu Sans', sans-serif" font-weight="bold" text-anchor="middle" fill="#000" textLength="18" lengthAdjust="spacingAndGlyphs" stroke="#000" stroke-width="0.35">50W</text>
<line x1="347.2" y1="1101.5" x2="347.2" y2="1104.7" stroke="#000" stroke-width="1.3"/>
<text x="347.2" y="1114.1" font-size="11.8" font-family="'Liberation Sans', 'DejaVu Sans', sans-serif" font-weight="bold" text-anchor="middle" fill="#000" textLength="18" lengthAdjust="spacingAndGlyphs" stroke="#000" stroke-width="0.35">45W</text>
<line x1="397.2" y1="1101.5" x2="397.2" y2="1104.7" stroke="#000" stroke-width="1.3"/>
<text x="397.2" y="1114.1" font-size="11.8" font-family="'Liberation Sans', 'DejaVu Sans', sans-serif" font-weight="bold" text-anchor="middle" fill="#000" textLength="18" lengthAdjust="spacingAndGlyphs" stroke="#000" stroke-width="0.35">40W</text>
<line x1="447.2" y1="1101.5" x2="447.2" y2="1104.7" stroke="#000" stroke-width="1.3"/>
<text x="447.2" y="1114.1" font-size="11.8" font-family="'Liberation Sans', 'DejaVu Sans', sans-serif" font-weight="bold" text-anchor="middle" fill="#000" textLength="18" lengthAdjust="spacingAndGlyphs" stroke="#000" stroke-width="0.35">35W</text>
<line x1="497.2" y1="1101.5" x2="497.2" y2="1104.7" stroke="#000" stroke-width="1.3"/>
<text x="497.2" y="1114.1" font-size="11.8" font-family="'Liberation Sans', 'DejaVu Sans', sans-serif" font-weight="bold" text-anchor="middle" fill="#000" textLength="18" lengthAdjust="spacingAndGlyphs" stroke="#000" stroke-width="0.35">30W</text>
<text transform="scale(0.8,1)" x="141.4 156.8 172.3 189.1 205.5 220.8 238 254.8 285.8 303.6 335.4 351 367.5 384.3 400.5 432.9 453.1 482.6 497.9 513.2 530.5 545.7 563 578.3 595.5 612.3" y="716.9" font-size="22" font-family="'DejaVu Sans', 'Liberation Sans', sans-serif" font-weight="200" stroke="#000" stroke-width="0.45">PANCADASDECHUVAC/TROVOADAS</text>
<rect x="97.9" y="1118.9" width="416.8" height="48.4" fill="none" stroke="#111" stroke-width="1.3"/>
<text x="118.4" y="1139.1" font-size="9.6" font-family="'Liberation Sans', 'DejaVu Sans', sans-serif" font-weight="bold" text-anchor="start" fill="#000" textLength="377.1" lengthAdjust="spacingAndGlyphs">[OMEGA(-0.001)  +  UR&gt;70(1000-500)  +  k&gt;30_TTS&gt;45+LIF&lt;-1](vermelho)  +  LC(250)</text>
<text x="121.6" y="1152.3" font-size="9.6" font-family="'Liberation Sans', 'DejaVu Sans', sans-serif" font-weight="bold" text-anchor="start" fill="#000" textLength="371" lengthAdjust="spacingAndGlyphs">[OMEGA(-0.001)  +  UR&gt;70(1000-500)  +  k&gt;30_TTS&gt;45](laranja)  +  [DIVG(250)](azul)</text>
<g clip-path="url(#clip4)">
<g transform="translate(592.00,728.40)"><path d="M-2.8,107.6 69.1,107 93,103.8 156.3,103.2 204.1,92.7 216.8,91.1 280.5,94.3 312.3,103.8 344.1,105.4 375.9,116.5 422.1,129.3 422.1,348.9 404.6,345.7 407.8,317.1 391.9,298 375.9,282.1 344.1,275.7 312.3,269.3 293.2,253.4 280.5,224.8 270.9,212 248.6,199.3 216.8,191.3 185,189.8 153.1,186.6 127.7,183.4 89.5,185.9 57.7,184 25.8,180.2 -2.8,175.4 Z" fill="#E6DC32"/><path d="M274.1,161.1 C277.1,157.4 291.9,156.6 296.4,154.7 C300.8,152.9 307.5,147.4 312.3,145.2 C317.1,143 332.2,136.4 337.7,135.6 C343.3,134.9 355.6,136.6 360,138.8 C364.5,141.1 372.2,150.7 375.9,154.7 C379.7,158.8 388.1,170.1 391.9,173.8 C395.6,177.6 404.2,184.3 407.8,186.6 C411.3,188.8 420.4,182.9 422.1,192.9 C423.8,203 423.8,263.6 422.1,272.5 C420.4,281.4 411.3,268.2 407.8,269.3 C404.2,270.4 394.5,278.7 391.9,282.1 C389.3,285.4 388.1,298 385.5,298 C382.9,298 374.4,284.7 369.6,282.1 C364.7,279.5 350.8,277.2 344.1,275.7 C337.4,274.2 317.9,272.3 312.3,269.3 C306.7,266.4 298.6,253.9 296.4,250.2 C294.1,246.5 295,240.5 293.2,237.5 C291.3,234.5 282.7,227.7 280.5,224.8 C278.2,221.8 275.2,216.5 274.1,212 C273,207.6 270.9,192.5 270.9,186.6 C270.9,180.6 271.1,164.8 274.1,161.1 Z M22.6,294.8 C24.9,291.8 37.7,286.2 41.7,288.4 C45.8,290.6 54.3,310.2 57.7,313.9 C61,317.6 67.4,316.5 70.4,320.2 C73.4,324 80.1,339.4 83.1,345.7 C86.1,352 100.7,371 95.9,374.4 C91,377.7 49.2,377.7 41.7,374.4 C34.3,371 34.4,352.8 32.2,345.7 C30,338.7 23.8,319.8 22.6,313.9 C21.5,307.9 20.4,297.8 22.6,294.8 Z M-1.2,212 C1.2,207.6 16.7,192.2 19.5,192.9 C22.2,193.7 23.4,213.6 22.6,218.4 C21.9,223.2 15.9,232.8 13.1,234.3 C10.3,235.8 0.4,233.7 -1.2,231.1 C-2.9,228.5 -3.6,216.5 -1.2,212 Z M25.8,247 C26.2,244.4 32.8,248.7 35.4,250.2 C38,251.7 45.9,257.2 48.1,259.8 C50.3,262.4 54.8,270.6 54.5,272.5 C54.1,274.4 47.5,275.7 44.9,275.7 C42.3,275.7 34.4,275.8 32.2,272.5 C30,269.2 25.5,249.6 25.8,247 Z M-1.2,339.3 C0.4,336 10.7,341.6 13.1,345.7 C15.5,349.8 21.1,371 19.5,374.4 C17.8,377.7 1.2,378.4 -1.2,374.4 C-3.6,370.3 -2.9,342.7 -1.2,339.3 Z M41.7,186.6 C43,183.2 51.2,179.7 52.9,183.4 C54.6,187.1 56.6,213.6 56.1,218.4 C55.5,223.2 49.8,225.5 48.1,224.8 C46.4,224 42.5,216.5 41.7,212 C41,207.6 40.4,189.9 41.7,186.6 Z" fill="#00DC00"/><use href="#basemap"/><path d="M0.9,187.5 12.7,190 35.4,197.6 41.3,198.8 49.3,199.2 57.3,198.6 79.1,195.9 103.1,194.8 111,193.9 120.7,191.6 139.6,185.1 147.4,183.3 153.4,183.1 165.4,183.9 171.3,183.3 177,181.4 184,177.5 230.1,145.6 240.2,139.2 250.6,133.3 263.2,127.2 274.4,122.9 284.1,120.5 292.1,119.8 302,120.7 311.7,123.4 319.1,126.4 348,140.1 378.2,150.7 387.4,154.5 394.5,158.2 401.1,162.7 408.9,168.9 419.3,178.3 M46.2,207.3 55.1,211.9 60.2,215.2 64.7,219 70.1,224.9 74.8,231.5 93.2,260 124.4,304.1 144.5,331.5 163.6,359.6 173.7,372 M418.9,44.4 411.6,47.7 403.8,49.4 397.8,49.4 382,47.6 374,47.2 366,47.9 360.2,49.2 352.9,52.5 346.5,57.4 341.6,63.6 338,70.8 336.4,76.5 335.7,82.5 335.8,88.5 336.9,94.4 338.9,100 341.8,105.3 345.5,110 349.9,114.1 354.9,117.3 358.5,119.1 364.2,120.9 370.2,121.7 376.1,121.6 382.1,120.5 387.7,118.6 393,115.8 397.8,112.2 400.7,109.5 405.5,103.1 408.1,97.7 409.2,93.8 409.8,89.9 409.7,85.9 408.9,82 407.4,78.3 402.8,71.7 396.8,66.4 388.1,61.5 378.6,58.6 370.6,58 364.7,58.7 360.8,59.8 353.7,63.4 347.8,68.8 343.6,75.5 341.3,83.2 341,87.2 341.5,93.1 343.9,100.7 347,105.9 352.6,111.6 359.5,115.6 367.1,117.8 375.1,117.9 381,116.6 388.2,113.1 394.2,108 398.7,101.3 401.1,93.7 401.4,87.8 400.2,81.9 398.7,78.2 396.6,74.8 391.1,69 384.3,64.9 M1.5,282.4 26.6,305.4 72.1,344.4 85.2,356.8 100.7,372.4 M142.2,0.8 142,10.8 144.5,36.6 144.7,60.6 145.2,66.6 146.3,72.5 149.5,79.8 157.1,91.6 166.1,107.2 168.9,110 170.7,110.9 174.6,111.5 180.3,109.7 185.4,106.4 191.3,101.1 197.7,93.4 205.1,81.6 215.5,59.9 222.2,47.6 230.7,34.1 238,24.6 244.9,17.3 252.5,10.8 260.7,5.1 269.3,0.1 M41.2,190.6 47.8,186 54.3,178.5 59.3,169.8 63.6,158.7 67.3,143.1 69.2,129.2 69.1,117.2 67.1,107.5 64,100.1 59.5,93.5 54,87.7 44.7,80.1 36.5,74.4 27.7,69.6 0.2,57.8 M114.8,202.1 119.4,205.9 124.3,212.3 142.4,247.9 147.9,260.8 155.4,283.6 160.4,294.4 164.7,301.2 183.2,327.3 187.2,331.8 190.5,334 192.5,334 194.2,333 195.5,331.5 198.1,326.1 199.8,320.3 201.7,306.5 202.2,280.5 203.5,268.6 213,227.7 216.9,216.4 219.8,211.1 223.3,206.2 227.4,201.8 233.4,196.6 239.9,191.8 248.3,186.4 257.1,181.7 264.4,178.4 273.9,175.2 283.6,173.1 291.6,172.3 301.6,172.3 311.5,173.4 323.3,175.9 336.7,179.7 349.9,184.4 360.8,189.3 371.3,195.1 383,202.8 392.6,210.1 401.5,218.1 408.4,225.3 414.6,233.1 420,241.6 M99.1,186.5 101.8,183.6 104.1,180.4 106.7,175 108.6,169.3 112.6,149.7 114.8,129.8 115.1,109.8 114,95.9 110.2,78.3 105.4,63 101.7,56 95.4,48.3 82.1,36 71.3,27.1 64.6,22.8 57.6,19 17.7,0.4 M1.5,205.4 8.5,212.5 36.1,244.1 57.6,270.5 81,297.9 102.2,324.4 128.5,354.5 141.8,372 M157.8,174.2 184.2,152.8 247.3,107 257.6,100.7 268.3,95.3 277.7,91.8 287.4,89.8 293.4,89.5 299.4,90.1 303.2,91.2 308.6,93.7 315.1,98.5 329.3,112.5 336.8,119.1 345.1,124.8 354,129.2 361.6,131.8 371.4,133.9 395.3,135.7 403.2,137 410.7,139.7 419.1,145 M0.2,342.9 45.1,372.8 M265.2,372.9 257.2,361.5 249.2,347.6 244.1,336.8 240,325.5 236.2,310 233.7,294.2 232.8,280.2 233.3,268.2 235.4,256.4 238.4,246.9 242.6,237.8 248,229.4 254.6,221.9 262.2,215.4 270.6,210 281.5,205 293,201.5 306.8,199.5 320.8,199.8 334.6,202 348,206 360.7,211.9 372.5,219.5 381.6,227.3 389.5,236.3 394.8,244.8 398.8,253.9 401.3,263.6 402.6,275.5 402.2,291.5 400.1,309.4 397.3,321 393.5,330.2 389.2,337 383.9,343 377.5,347.7 370.2,351 362.5,353.1 350.7,355.2 338.7,356.2 328.7,355.8 320.9,354.3 311.4,351.2 300.4,346.4 291.7,341.5 285.2,336.9 279.3,331.4 273,323.7 267.9,315.1 263.9,305.9 260.5,294.4 258.8,284.6 258.3,274.6 259,266.6 261.2,256.9 264.2,249.5 268.2,242.6 274.5,234.8 280.5,229.5 288.9,224 296.1,220.7 305.7,217.8 315.6,216.5 325.6,216.6 333.5,217.8 341.2,219.9 348.6,222.9 355.6,226.7 362.1,231.4 368,236.8 373.1,242.9 376.4,248 379.1,253.3 381.8,260.9 383,266.7 383.9,274.7 383.7,282.7 382.5,292.6 380.7,300.4 378.1,307.9 374.5,315.1 371,320 366.9,324.3 360.5,329.1 355.2,332 347.7,334.8 340,336.8 332,337.7 326,337.6 318.1,336.6 310.4,334.6 302.9,331.7 295.9,327.9 289.4,323.2 285,319.1 279.9,313 275.7,306.2 272.4,298.9 270,291.3 268.6,283.4 268.2,275.4 268.8,267.5 270.7,259.7 272.9,254.1 275.7,248.8 280.4,242.4 284.6,238 290.9,233.1 296,230.1 303.4,227 311.1,225 319.1,224.1 325.1,224.3 333,225.4 340.7,227.7 346.2,230.1 353,234.2 357.7,237.9 362,242.1 365.8,246.7 369,251.8 371.6,257.2 373.5,262.9 374.9,270.8 375.3,276.8 374.8,284.7 373.2,292.6 371.4,298.3 368,305.5 364.7,310.5 360.8,315.1 356.3,319 351.3,322.4 345.9,325 340.2,327 332.4,328.6 326.4,329 320.4,328.7 314.5,327.7 306.9,325.4 299.7,322 294.6,318.7 290,314.8 285.9,310.5 M419.3,28.7 413.3,29.2 405.3,29 365.5,25.5 361.6,24.8 359.9,23.6 360.2,21.7 367,0.7 M84.8,204.3 90.9,209.5 98,219.1 110.2,239.8 127.2,266.9 143.1,294.7 159.2,320 171.9,342.7 177.6,350.9 180.3,353.8 183.4,356.3 185.2,357.1 187.2,357.3 189.1,356.6 190.5,355.2 192.5,351.7 195.5,342.2 M418.2,12.6 400.3,11 382.5,8.5 374.7,6.9 M0.1,179.2 7.4,175.9 12.1,172.2 17.2,166 22.2,157.4 25.9,148.1 28.4,138.5 29.9,128.6 30.7,116.6 30.4,108.6 29.3,102.7 27.3,97.1 24.4,91.8 20.7,87.1 16.4,83 10,78.1 1.6,72.7 M118.7,183.5 122.2,176.3 124.7,166.7 134.8,105.5 137.5,98 140.4,92.7 142.7,89.5 144.2,90.8 145.9,94.4 147.3,100.2 150,116 151.1,119.8 152.9,123.4 155.8,126.2 159.5,127.7 163.4,128.1 169.4,127.5 175.1,125.8 180.5,123.2 187.3,119 193.7,114.1 206.8,101.8 232.2,73.6 242.2,63.7 248.3,58.6 254.8,53.9 267.1,47.3 280.3,42.7 296,39.5 321.8,36.7 337.8,36.2 341.7,36.9 343.6,37.8 344.6,39.5 343.8,43.3 339.6,52.4 M351,268.7 351.7,272.7 351.8,278.7 350.6,284.5 348.4,290.1 345,295.1 342.3,298 337.5,301.5 333.9,303.4 330.1,304.7 324.2,305.7 320.2,305.7 314.3,304.6 310.6,303.3 305.3,300.4 300.8,296.5 297.1,291.7 295.2,288.2 293.3,282.5 292.6,274.6 294,266.8 297.5,259.6 302.8,253.6 309.5,249.3 317.2,247 321.1,246.6 327.1,247.1 332.9,248.8 336.5,250.5 342.8,255.3 347.6,261.7 350.5,269.2 351.2,277.1 350.4,283 349.2,286.8 345.2,293.8 339.6,299.4 332.6,303.2 324.8,305 316.8,304.6 313,303.6 307.5,301.1 301.3,296.1 296.6,289.7 294.3,284.1 293.5,280.2 293.4,272.2 295.5,264.5 299.6,257.7 305.5,252.3 308.9,250.3 314.5,248.1 322.4,247.2 326.4,247.6 332.2,249.1 339.2,252.9 344.8,258.6 M149.2,191.6 152.5,198.9 157.1,218.4 160.6,227.7 163.7,232.8 167.8,237.2 171.1,239.4 175,240 176.9,239.4 178.5,238.2 181,235.1 183.7,229.7 190.5,213 196.6,202.7 204.5,193.7 216.6,183.2 244.4,163.7 251.3,159.6 258.4,155.9 267.7,152.3 279.3,149.3 287.2,148.2 295.2,148.3 309,150.7 322.5,154.6 350.5,165.1 365.1,171.8 378.9,179.9 393.7,190.1 407.7,201.4 419.5,212.2 M151.2,0.7 157.6,30 167.2,60.5 168.7,64.2 170.8,67.6 172.4,68.9 174.3,69.5 176.2,69.2 178,68.2 180.9,65.5 183.3,62.3 188,53.5 191.7,44.2 193.2,38.4 194.4,30.5 196.1,0.5 M157.3,163.7 164.8,154.4 171.9,147.4 207.1,121 243.5,89.7 251.5,83.8 260,78.4 267.1,74.7 274.5,71.7 284.1,69 294,67.7 302,68 305.9,68.8 309.6,70.3 314.5,73.7 318.2,78.5 329.9,101.6 M236.9,371.4 229.6,354.9 224.7,339.7 221,322.1 219,304.2 218.1,284.3 218.9,268.3 221.9,252.6 226.9,237.4 232,226.5 239,216.8 247.7,208.6 257.6,201.8 270.1,195.5 281.4,191.6 293.2,189.3 307.1,188.6 315.1,189 325,190.4 342.5,194.7 357.4,200.6 364.5,204.3 373,209.5 381.1,215.3 387.2,220.5 393,226.1 398.2,232.1 402.8,238.6 406.7,245.6 409.1,251.1 411.5,258.8 413,266.6 413.9,276.6 413.8,288.6 412.9,302.5 411.7,312.5 409.6,322.2 407.2,329.9 404,337.2 399.3,346 393.9,354.4 388.7,360.5 384.2,364.4 379,367.4 373.4,369.6 365.6,371.5 355.7,372.9 M1.6,313.4 19,326.8 53.1,351.3 65.6,361.3 77.6,371.9 M0.8,162.9 5.4,154 9,142.6 11.2,128.7 12.2,112.8 11.7,104.8 9.7,97.1 5.8,90.1 0.6,84 M1.3,234.2 19.3,253 46.5,284.9 84.3,323.5 116.9,358.8 128.6,372.4 M73.9,187.6 76.9,184.9 80.7,180.2 85.3,171.4 89.6,158.1 92.7,142.4 94.1,126.5 93.7,112.5 91.7,100.7 89.9,94.9 87.6,89.4 83.6,82.5 78.5,76.3 72.6,71 64.3,65.3 50.5,57.2 39.9,51.6 1.4,34.8 M172.5,100.3 174.5,100.1 178.1,98.5 182.9,94.8 188,88.7 193,80.1 208.6,38.9 216.7,10.1 219.9,0.6 M327.8,284.8 324.1,286.3 322.1,286.6 318.2,285.9 314.7,283.9 312.3,280.8 311.1,277 311.4,273 312.1,271.1 314.4,267.9 316,266.7 317.8,265.7 321.7,264.9 325.6,265.6 327.4,266.5 330.4,269.2 331.4,270.8 332.6,274.7 332.6,276.7 332.2,278.6 330.5,282.2 327.5,284.9 325.7,285.8 323.8,286.3 319.8,286.3 317.9,285.8 314.5,283.6 312.1,280.4 311.4,278.6 311.1,274.6 311.5,272.6 313.3,269.1 314.7,267.7 316.3,266.5 320.1,265.1 322.1,265 326,265.8 329.3,268 330.6,269.5 332.3,273.1 332.6,275.1 M130.4,94.2 129.1,84.3 127.1,74.6 124.5,64.9 121.2,55.4 116.8,46.5 106.8,29.2 97.5,9.2 92.5,0.5 M169.9,39.3 171.9,39 173.4,37.8 175.9,32.3 177.3,24.5 179.2,0.5 M156.1,236 165.7,253.6 174.9,275.7 178.5,280.5 180.2,281.5 182.2,281.6 185.4,279.3 187.7,276 192.2,267.1 196,257.8 200,244.4 204.6,220.9 206.3,215.1 208.7,209.6 212.9,202.8 218.2,196.8 225.8,190.3 233.8,184.4 247.3,175.7 259.6,169.1 272.8,164.4 284.5,162 296.5,161.6 308.4,163.1 322,166.4 339.1,172.1 M228.4,52.9 235.9,43.5 244.3,34.9 252,28.6 262.1,22.2 271.1,17.8 282.3,13.4 324.2,0.1 M86.8,185.6 89.6,182.7 92.9,177.7 95.5,172.3 97.6,166.7 101.3,151.1 103.5,133.3 103.9,115.3 102.7,101.3 99.4,87.7 94.2,74.8 90,68 83.5,60.4 74.4,52.6 62.9,44.6 47.1,36.1 1.3,16.1 M123.1,110.9 122.5,96.9 120.7,85 116,65.6 111.7,54.4 105.4,44.3 84.6,17.3 76.5,8.5 67.3,0.7 M369,96.3 371,96.3 372.9,95.6 374.3,94.2 375.2,92.5 375.4,90.5 374.9,88.5 373.7,86.9 372,85.9 370,85.6 368,86 366.4,87 365.2,88.7 364.7,90.6 365,92.6 365.9,94.3 367.5,95.6 369.4,96.2 371.4,96.1 373.2,95.2 374.5,93.7 375.2,91.9 375.2,89.9 374.4,88 373,86.6 371.2,85.8 369.2,85.8 367.3,86.5 365.8,87.8 365,89.6 364.9,91.6 365.5,93.5 366.8,95 368.6,95.9 370.6,96.1 372.5,95.6 374,94.3 375,92.6 375.3,90.6 374.8,88.7 373.6,87.1 371.9,86 369.9,85.7 368,86.1 366.3,87.2 365.2,88.8 364.7,90.8 365.1,92.8 366.1,94.5 367.7,95.7 369.6,96.2 371.6,96 373.4,95.1 374.7,93.6 375.3,91.7 375.2,89.7 374.4,87.9 373,86.5 371.2,85.7 369.2,85.6 367.3,86.3 365.8,87.6 364.9,89.4 M290.3,372.4 280.5,365.5 273,358.8 266.5,351.3 259.7,341.4 254,330.9 249.6,319.7 246.3,308.2 243.5,294.5 242.1,282.5 242.1,272.5 243.2,262.6 245.6,252.9 249.4,243.7 254.5,235.1 259.5,228.9 266.8,222 M23.8,184.3 28.9,181.1 33,176.8 38.6,168.5 44.2,157.9 47.1,150.4 49.8,140.8 51.3,130.9 51.7,122.9 51.2,115 50,109.1 48,103.4 44.3,96.3 40.8,91.5 35.4,85.6 29.3,80.5 22.6,76 M213.9,371.3 210.8,357.7 208.3,343.9 207.1,334 206.6,326 M23.5,202.9 51,229.1 62.8,242.7 92.1,280.7 115.2,313.4 140,344.7 159.6,372.5 M135.8,34.6 132.3,32.6 127.4,26.3 122.7,17.5 115.4,1.1 M241.6,49.3 249.1,42.7 255.7,38.1 262.6,34.2 271.8,30.1 285.1,25.8 325.8,15.4 344.8,9.2 356,4.9 M136.3,176.4 139.3,169 147.3,144.3 149.9,138.9 153.6,134.2 M159.9,192.8 168.6,206.2 172.7,210.6 174.5,211.5 176.5,211.7 178.4,211.4 183.4,208.1 M1.1,258.6 37.4,295.9 82.8,338 101,356.7 115.9,372.8" fill="none" stroke="#F83C3C" stroke-width="1" stroke-linejoin="round" stroke-linecap="round"/><path d="M20.3,192.5 L16.3,193.2 L17.7,189.4 M64.2,197.8 L61,200.2 L60.5,196.3 M109,194.2 L105.8,196.6 L105.3,192.6 M152.4,183.1 L148.9,185 L148.9,181 M194,170.8 L192.2,174.5 L189.9,171.2 M230.9,145.1 L229.1,148.7 L226.9,145.4 M270.6,124.2 L268.1,127.3 L266.7,123.6 M314.5,124.5 L310.5,125 L312,121.3 M355.4,143 L351.5,143.7 L352.8,139.9 M397,159.8 L393,159.6 L395.2,156.2 M63.3,217.7 L59.3,216.9 L61.9,213.9 M89.2,254.3 L85.6,252.5 L88.9,250.2 M115.2,291 L111.5,289.3 L114.8,287 M141.6,327.4 L137.9,325.8 L141.2,323.4 M167.2,364.4 L163.5,362.9 L166.7,360.4 M399.8,49.5 L403.4,47.6 L403.3,51.6 M355.5,51.1 L357.8,47.8 L359.5,51.4 M335.8,88.5 L333.6,85.1 L337.5,84.8 M363.3,120.6 L359.4,121.7 L360.4,117.8 M403.3,106.4 L402.9,110.4 L399.7,108.1 M397.6,67 L401.6,67.6 L399.2,70.8 M355.4,62.3 L357.3,58.8 L359.4,62.1 M344.4,101.6 L341,99.4 L344.5,97.6 M382.9,115.9 L380.5,119.1 L378.8,115.5 M399.1,79.1 L402.4,81.4 L398.8,83.1 M16.1,296 L12.2,295.1 L14.9,292.2 M50.2,325.5 L46.2,324.7 L48.8,321.7 M83.8,355.4 L79.8,354.4 L82.6,351.5 M143.1,20.7 L140.7,17.5 L144.6,17 M145.1,65.6 L142.7,62.4 L146.7,61.9 M164.9,105.6 L161.4,103.6 L164.7,101.5 M199.5,91 L199.1,95 L195.8,92.7 M220.2,51.1 L220.2,55.1 L216.7,53.2 M247.1,15.3 L245.8,19.1 L243.1,16.1 M55.4,176.8 L55.2,180.8 L51.8,178.7 M68.7,134.2 L70.3,137.9 L66.3,137.4 M58.2,92 L62,93.4 L58.9,95.9 M21.4,66.7 L25.4,66.2 L23.8,69.9 M127.2,217.5 L123.8,215.3 L127.4,213.5 M146.9,258 L143.8,255.4 L147.5,254 M163.6,299.5 L160,297.8 L163.3,295.5 M191.5,334 L187.9,336 L188,332 M202,292.5 L204,296 L200,296 M208.2,248.1 L209.3,252 L205.4,251 M223.3,206.2 L222.7,210.2 L219.6,207.7 M259.8,180.4 L257.5,183.7 L255.8,180 M303.6,172.5 L299.9,174.2 L300.2,170.2 M347.1,183.3 L343.1,183.9 L344.6,180.2 M386.3,205.2 L382.3,204.7 L384.6,201.5 M417.4,237.3 L413.9,235.4 L417.2,233.3 M108.6,169.3 L109.5,173.2 L105.7,172 M115,124.8 L116.9,128.4 L112.9,128.3 M110.7,80.2 L113.5,83.1 L109.6,84.1 M88.9,42 L92.8,42.9 L90.1,45.9 M52.2,16.4 L56.2,16 L54.5,19.6 M15,220.1 L11.2,218.7 L14.3,216.1 M44.4,254.2 L40.6,252.7 L43.8,250.2 M73.2,288.7 L69.4,287.3 L72.5,284.7 M101.6,323.7 L97.8,322.2 L100.9,319.7 M131.1,357.6 L127.3,356.1 L130.5,353.6 M173.2,161.4 L171.8,165.2 L169.2,162.1 M209.3,134.5 L207.6,138.2 L205.3,135 M245.7,108.1 L243.9,111.7 L241.6,108.4 M286.4,89.9 L283.2,92.4 L282.7,88.4 M325,108.3 L321.2,107.2 L324,104.4 M362.5,132.1 L358.7,133.1 L359.7,129.2 M407,138.1 L403,138.9 L404.3,135.1 M16.9,354 L12.8,353.8 L15,350.4 M254.1,356.3 L257.6,358.4 L254.1,360.4 M237.2,314.8 L239.9,317.8 L236,318.7 M233.1,270.2 L234.8,273.8 L230.9,273.5 M248.6,228.6 L248.1,232.6 L244.9,230.1 M285.3,203.6 L282.6,206.6 L281.3,202.9 M329.7,201 L325.9,202.3 L326.6,198.4 M370.9,218.3 L366.8,217.9 L369.1,214.7 M398.5,253 L395.4,250.4 L399.2,249 M401.7,297.5 L400,293.8 L404,294.2 M387.3,339.3 L388.1,335.4 L391.1,338 M346.7,355.7 L349.9,353.3 L350.4,357.3 M303.1,347.7 L307.1,347.4 L305.4,351 M269.8,318.6 L273.3,320.6 L269.8,322.7 M258.3,275.6 L260.3,279.1 L256.3,279.1 M274.5,234.8 L273.6,238.8 L270.7,236 M314.6,216.6 L311.3,218.8 L311,214.8 M357.3,227.8 L353.3,227.6 L355.5,224.2 M382.5,263.8 L379.8,260.8 L383.7,259.9 M378.1,307.9 L377.5,304 L381.2,305.4 M344.9,335.7 L347.7,332.8 L348.8,336.7 M301.1,330.9 L305.1,330.6 L303.4,334.2 M272.1,298 L275.2,300.6 L271.4,301.9 M272.9,254.1 L273.3,258.1 L269.6,256.5 M306.3,226.1 L303.4,229 L302.4,225.1 M349.7,232 L345.6,232 L347.6,228.5 M374.5,267.8 L372,264.7 L375.9,264 M364.7,310.5 L365.1,306.5 L368.3,308.9 M325.4,329 L329,327.1 L328.9,331.1 M285.9,310.5 L289.7,311.8 L286.7,314.4 M399.4,28.4 L403.1,26.8 L402.6,30.8 M361.1,18.8 L361.9,22.7 L358.1,21.5 M98,219.1 L94.5,217.1 L97.9,215 M121.5,257.5 L117.9,255.6 L121.3,253.5 M144.1,296.4 L140.6,294.4 L144,292.3 M167.4,334.8 L164,332.7 L167.5,330.8 M194.4,346 L195.4,350 L191.5,348.9 M398.3,10.7 L402.1,9.2 L401.6,13.1 M16,167.7 L15.6,171.7 L12.3,169.3 M30.2,125.6 L31.9,129.2 L27.9,128.9 M17.9,84.3 L21.8,85.1 L19.2,88.1 M125.1,164.7 L126.4,168.5 L122.5,167.8 M132.2,120.3 L133.8,124 L129.8,123.5 M147.3,100.2 L144.6,97.2 L148.6,96.4 M172.3,126.7 L169.5,129.7 L168.3,125.9 M208.1,100.3 L207.2,104.2 L204.3,101.5 M238.5,67.1 L237.4,71 L234.6,68.1 M276.5,43.8 L273.8,46.8 L272.5,43 M320.8,36.7 L317.5,39 L317.2,35 M349.2,288.3 L348.7,284.3 L352.4,285.8 M311.5,303.7 L315.5,303.1 L314,306.8 M294,266.8 L295,270.7 L291.1,269.6 M330,247.8 L326.1,248.7 L327.2,244.9 M350.4,283 L349.4,279.1 L353.3,280.2 M315.9,304.4 L319.7,303.2 L318.8,307.1 M293.7,270.3 L294.8,274.1 L290.9,273.2 M327.4,247.7 L323.6,249 L324.3,245.1 M155.3,210.6 L152.6,207.6 L156.5,206.7 M180.4,235.9 L180.1,239.9 L176.8,237.6 M201.7,196.6 L200.8,200.5 L197.9,197.8 M237,168.8 L235.2,172.4 L232.9,169.1 M277.4,149.7 L274.4,152.4 L273.5,148.5 M321.5,154.3 L317.6,155.1 L318.8,151.3 M363.3,170.9 L359.3,171.1 L361.1,167.5 M400.8,195.6 L396.8,195 L399.3,191.9 M155.3,20.3 L152.6,17.3 L156.6,16.4 M168.3,63.3 L165.1,60.9 L168.8,59.3 M192.8,40.3 L193.8,44.2 L189.9,43.2 M170.4,148.7 L169.2,152.6 L166.5,149.6 M206.3,121.6 L204.8,125.3 L202.3,122.2 M240.4,92.2 L239,96 L236.4,92.9 M279.3,70.2 L276.4,73.1 L275.3,69.2 M319.2,80.2 L315.8,78 L319.3,76.2 M228.9,353.1 L232,355.6 L228.3,357 M219.4,309.2 L221.7,312.5 L217.7,312.9 M219.4,264.3 L220.8,268.1 L216.9,267.4 M234.7,222.3 L234.3,226.3 L231.1,224.1 M270.1,195.5 L267.6,198.6 L266.1,194.9 M314.1,188.9 L310.5,190.6 L310.8,186.6 M357.4,200.6 L353.3,201 L355,197.3 M393.6,226.8 L389.8,225.6 L392.7,222.9 M413,266.6 L410.5,263.5 L414.4,262.8 M411.8,311.5 L410.4,307.7 L414.3,308.3 M395.1,352.8 L395.4,348.8 L398.7,351 M356.7,372.8 L360,370.4 L360.4,374.4 M17.4,325.6 L13.4,325.1 L15.8,321.9 M53.9,351.9 L49.9,351.4 L52.4,348.2 M8.5,144.5 L9.6,148.4 L5.7,147.4 M10.6,99.9 L13.5,102.7 L9.7,103.9 M15.2,248.6 L11.4,247.3 L14.4,244.6 M44.5,282.7 L40.7,281.5 L43.6,278.8 M76,314.8 L72.2,313.7 L75,310.9 M106.8,347.7 L102.9,346.5 L105.8,343.8 M85.3,171.4 L85.8,175.4 L82.1,173.8 M94,127.5 L95.9,131 L91.9,130.9 M84.7,84.2 L88.2,86.1 L84.8,88.2 M49.7,56.7 L53.7,56.7 L51.8,60.2 M8.7,38.1 L12.7,37.7 L11.1,41.3 M188,88.7 L187.7,92.8 L184.4,90.5 M205.5,47.4 L206.1,51.4 L202.4,50 M218.5,4.3 L219.2,8.3 L215.4,7 M311.5,278.9 L314.2,281.9 L310.3,282.7 M329.8,282.9 L330.7,279 L333.6,281.7 M324,265.2 L320.1,266.1 L321.3,262.2 M127.1,74.6 L129.8,77.5 L125.9,78.4 M109.2,33.5 L112.7,35.6 L109.2,37.6 M177.5,22.5 L179.1,26.1 L175.1,25.7 M165.7,253.6 L162.4,251.3 L166,249.5 M189.2,273.4 L189.3,277.4 L185.8,275.5 M202.6,230.7 L204,234.4 L200.1,233.8 M223.4,192.2 L222,195.9 L219.5,192.9 M261.4,168.3 L259,171.5 L257.4,167.9 M305.4,162.6 L301.7,164.1 L302.3,160.1 M241.4,37.7 L240.3,41.6 L237.5,38.8 M279.5,14.5 L276.9,17.5 L275.5,13.8 M322.3,0.7 L319.6,3.7 L318.4,-0.1 M96.9,168.6 L97.6,172.5 L93.9,171.2 M103.9,124.3 L105.9,127.8 L101.9,127.7 M96.7,80.2 L99.9,82.7 L96.2,84.3 M67.1,47.3 L71.1,47.6 L68.9,51 M27,27.1 L31,26.7 L29.4,30.4 M121.7,91 L124.3,94.1 L120.3,94.7 M108.2,48.4 L111.8,50.2 L108.5,52.4 M80.7,12.8 L84.6,13.9 L81.7,16.7 M368,86 L371.1,83.3 L371.9,87.2 M367.7,95.5 L363.7,95.6 L365.5,92.1 M375.2,89.7 L377.4,93.1 L373.4,93.3 M274.5,360.2 L278.4,361.2 L275.7,364.1 M250.6,322.5 L253.7,325.1 L249.9,326.5 M242,278.5 L244,282 L240,282.1 M254,235.9 L253.6,239.9 L250.3,237.7 M37.6,170.2 L37.4,174.2 L34,172.1 M51.6,127.9 L53.3,131.6 L49.4,131.3 M36.8,87 L40.7,88 L37.9,90.9 M209.7,351.8 L212.3,354.9 L208.3,355.6 M37.9,216.8 L34,215.9 L36.7,213 M68.4,249.8 L64.7,248.2 L67.8,245.8 M95.7,285.6 L92,283.9 L95.2,281.5 M122,322 L118.2,320.6 L121.3,318.1 M149.2,357.8 L145.6,356 L148.9,353.8 M123.6,19.3 L126.9,21.6 L123.3,23.3 M257.4,37.1 L255.5,40.6 L253.4,37.2 M299.6,22.2 L296.7,24.9 L295.8,21 M342.9,9.9 L340.2,12.9 L338.9,9.1 M142.8,157.5 L143.7,161.5 L139.9,160.3 M171.1,209.3 L167.2,208.6 L169.7,205.5 M15.1,272.9 L11.3,271.7 L14.2,269 M46.8,304.8 L42.9,303.9 L45.6,301 M80,335.2 L76.1,334.2 L78.9,331.3 M111.2,367.6 L107.4,366.4 L110.3,363.7" fill="none" stroke="#F83C3C" stroke-width="1"/><path d="M314.8,135.3 L336.4,139.2 M322.7,134.9 L344.1,140.2 M329.1,134.6 L350.1,140.9 M336.5,132.8 L357.3,140.1 M343.8,132.2 L364.2,140.5 M294.7,142.8 L316.7,143.7 M300.6,143.2 L322.5,145.4 M308.9,141.4 L330.6,145.1 M315.4,141.8 L336.9,146.7 M322.1,141 L343.3,146.9 M329,141.2 L349.9,148.3 M336.8,140.5 L357.2,148.7 M343.8,139.2 L363.8,148.4 M351.4,139.1 L370.9,149.2 M358,138.4 L377.2,149.1 M280.2,150.6 L302.2,150.2 M286.8,150 L308.8,150.7 M293.4,150.3 L315.3,152.2 M300.4,149.3 L322.2,152.5 M307.9,148.7 L329.5,153.1 M315.3,149 L336.6,154.6 M322.5,148 L343.5,154.5 M330.4,147.5 L351,155.3 M337,146.3 L357.1,155.1 M344.7,146.5 L364.2,156.6 M351.5,146.1 L370.6,156.9 M357.9,145.4 L376.7,156.8 M366.3,144.3 L384.8,156.2 M266.2,159 L288,156.5 M273.5,158.7 L295.5,158.5 M280.8,157.7 L302.8,158.8 M286.9,156.5 L308.9,158.3 M294.3,156.5 L316.1,159.3 M300.6,156.8 L322.2,160.7 M307.9,155.7 L329.3,160.8 M315.9,155 L337,161 M322.9,155.3 L343.8,162.2 M330.2,153.2 L350.7,161.2 M336.3,154.1 L356.3,163.3 M343.8,152.3 L363.2,162.7 M351.4,152.7 L370.2,164.2 M358.8,151.7 L377.3,163.7 M365.5,151.3 L383.7,163.7 M373.2,151.1 L390.9,164.1 M380.3,150.8 L397.7,164.3 M265.7,165.5 L287.6,163.2 M273.7,164.7 L295.7,164.8 M279.4,165 L301.4,166.2 M286.2,163.2 L308.2,165.2 M294,163.6 L315.8,166.5 M301.2,162.8 L322.8,166.9 M308.2,162.7 L329.5,167.9 M314.8,162.5 L336,168.5 M321.8,160.9 L342.7,167.7 M329,161.2 L349.5,169.1 M337.2,160.5 L357,170.1 M344.2,159.2 L363.4,170 M350.9,159.2 L369.5,170.9 M358.5,158.7 L376.7,170.9 M366.6,157.8 L384.5,170.6 M373.6,157.6 L391.1,171 M380.3,158.5 L397.1,172.6 M388.3,156.9 L404.6,171.8 M395.4,156.6 L411.3,171.8 M265.4,173.6 L287.2,170.6 M272.3,172.9 L294.3,171.9 M279.6,172.5 L301.6,172.9 M286.8,170.6 L308.7,172.1 M293.5,170.7 L315.4,173.2 M300.9,170.5 L322.6,174.3 M308.9,169.2 L330.3,174.4 M316,169.4 L337.2,175.3 M323,168 L343.9,174.8 M329.8,168.6 L350.3,176.6 M337.1,167.6 L357,177 M344.5,166.9 L363.7,177.7 M351.4,165.9 L370,177.6 M359.5,166.3 L377.6,178.7 M366.8,165.1 L384.6,178 M373.5,164.5 L390.7,178.2 M380.9,164.5 L397.3,179.1 M388.6,164 L404.3,179.5 M395,163.5 L410.4,179.3 M401.9,163.7 L417.1,179.6 M265.6,180.4 L287.2,176.6 M273,180.5 L294.9,178.3 M280.5,179.6 L302.5,179 M286.3,179 L308.3,179.4 M293.7,178.8 L315.6,180.4 M301.9,177.6 L323.6,180.9 M308.6,176.4 L330.1,180.9 M315.9,177 L337.2,182.5 M322.4,176.6 L343.4,183 M329.7,174.8 L350.4,182.5 M337,174.2 L357,183.3 M345,173.1 L364.3,183.6 M351.1,173 L369.9,184.4 M359.4,172.2 L377.7,184.5 M366.8,171.9 L384.5,185 M373.5,172.6 L390.6,186.5 M380.7,171.9 L396.9,186.7 M388.6,171.1 L404,186.9 M395.3,170.8 L410.2,186.9 M402.8,171.2 L417.7,187.4 M266.1,187.9 L287.5,182.9 M273.9,188.1 L295.6,184.7 M279.4,187.8 L301.3,185.6 M287.6,186.9 L309.6,186.4 M294,186 L316,186.9 M300.3,184.2 L322.2,186.5 M307.4,184.3 L329.1,187.9 M314.9,183.8 L336.3,188.6 M322.2,183.4 L343.3,189.5 M329.9,182.4 L350.6,189.8 M336.4,181.9 L356.6,190.5 M343.5,181.7 L363.1,191.6 M351.5,179.7 L370.4,190.9 M358.8,180.3 L377.2,192.4 M365.3,180.1 L383.1,193 M372.7,178.5 L389.8,192.3 M381.5,178.4 L397.6,193.4 M387.6,177.9 L403.1,193.6 M395.9,177.4 L410.8,193.6 M403.2,177.5 L418.1,193.8 M259.8,196.1 L280.4,188.4 M266.1,196 L287.1,189.6 M273.4,195.7 L294.8,190.9 M280.8,195.4 L302.6,192.2 M286.6,194.4 L308.5,192.6 M293.3,192.4 L315.3,192.4 M301.5,192.1 L323.5,194 M307.3,191.4 L329.1,194.5 M316,191 L337.5,195.6 M323,190 L344.2,196 M329.1,188.9 L350,196 M337.2,188.4 L357.5,197.1 M344.5,188.7 L364.1,198.7 M352.3,188.1 L371.2,199.3 M358.9,187.4 L377.2,199.5 M366.9,186.7 L384.5,199.9 M373.9,186 L390.8,200 M380.8,186.2 L397.1,201.1 M387.4,184.8 L403,200.3 M394.9,185.1 L410,201.1 M401.9,184.6 L416.8,200.9 M260.7,204.6 L280.7,195.4 M267.4,203.4 L288.1,195.9 M273.4,203.4 L294.5,197.2 M279.9,202.3 L301.4,197.7 M286.8,202 L308.6,199.1 M293.6,200.8 L315.6,199.8 M300.9,198.9 L322.8,199.8 M308.5,198.8 L330.3,201.5 M314.6,198.3 L336.3,202.3 M322.7,196.6 L343.9,202.3 M328.8,196.8 L349.6,203.7 M337.3,195.9 L357.5,204.7 M343.9,195 L363.5,205 M351.9,193.9 L370.8,205.2 M358.4,193.3 L376.6,205.6 M365.6,193 L383.2,206.2 M373.8,193.6 L390.5,207.8 M381,192.2 L397.1,207.1 M388.1,191.5 L403.7,207.1 M395.5,191.3 L410.6,207.4 M403.2,191.6 L418,207.9 M267.8,211.2 L287.8,202.2 M274.4,211.2 L295,203.6 M280.2,210.6 L301.4,204.5 M286.8,208.7 L308.4,204.6 M294.1,207.6 L316,205.6 M301.6,207 L323.6,207.1 M308.1,206.3 L330.1,208.2 M314.5,205.8 L336.2,209.2 M322.3,203.9 L343.6,209.3 M330.2,202.8 L350.9,210.1 M337.2,201.9 L357.3,210.8 M344.2,202.2 L363.6,212.6 M351.8,200.8 L370.4,212.5 M358.6,201.4 L376.5,214.2 M366.2,199.7 L383.4,213.4 M373.1,199.3 L389.7,213.7 M380.8,199.3 L396.7,214.5 M389.1,199.7 L404.2,215.7 M395.9,198.5 L410.7,214.8 M403.4,198.3 L417.9,214.9 M267.6,219.3 L286.8,208.6 M273.5,219.1 L293.4,209.7 M280.3,218 L300.9,210.4 M287.7,217.1 L309,211.6 M294.2,216.3 L315.9,212.8 M301.6,213.9 L323.6,212.9 M308.1,214.2 L330,215.1 M315.7,212.9 L337.5,216.2 M322.2,211.5 L343.6,216.8 M330,211 L350.7,218.5 M336.6,209.7 L356.6,218.9 M343.8,209.2 L363,220.1 M352.2,207.5 L370.4,219.9 M358.7,207 L376.2,220.3 M365.9,206.4 L382.7,220.6 M374.1,206.7 L390,221.9 M381.1,205.6 L396.5,221.4 M388.4,205.6 L403.1,222 M396,206.3 L410.1,223.2 M403.6,205.4 L417.5,222.4 M274.3,226 L293.5,215.2 M280.6,225.2 L300.6,216.2 M287.4,224.6 L308.2,217.5 M294.4,224.2 L315.9,219.3 M301.1,221.7 L322.9,219.5 M307.2,220.9 L329.2,220.9 M315.5,219.7 L337.3,222.7 M321.6,218.6 L343,223.8 M329.3,217.9 L350,225.5 M337.6,216.4 L357.2,226.4 M344.9,214.5 L363.6,226.1 M352.6,213.8 L370.4,226.9 M358.7,213.3 L375.7,227.2 M366.6,214.2 L382.6,229.3 M374.2,212.8 L389.5,228.7 M381.4,212.1 L396,228.5 M389.2,213.1 L402.8,230.4 M396.9,212.9 L410,230.6 M402.8,211.8 L415.9,229.5 M275,235.1 L293,222.4 M281.4,233.4 L300.6,222.7 M288.3,231.6 L308.7,223.3 M294.1,231.6 L315.2,225.3 M300.6,229.2 L322.4,225.8 M307.5,228.9 L329.5,228.5 M315.9,225.8 L337.7,229 M322.2,224.9 L343.5,230.5 M329.5,223.5 L349.9,231.7 M337.6,223 L356.8,233.7 M344.2,221.1 L362.5,233.3 M351.9,221.2 L369,235 M360.4,221 L376.3,236.2 M367.3,219.3 L382.6,235.2 M375,220.2 L389.2,237 M382.3,220 L395.6,237.6 M390.2,218.6 L402.9,236.6 M397.5,218.3 L409.8,236.5 M404.3,218.3 L416.4,236.7 M282.2,240.9 L300.5,228.7 M288.2,240.9 L307.7,230.6 M294.5,239.3 L315.1,231.8 M301,236.5 L322.6,232.3 M308.1,235 L330.1,234.4 M314.6,233.9 L336.5,236.6 M323,232 L344,238.6 M330.8,229.7 L350.7,239.1 M337,230 L355.7,241.5 M345.6,228.1 L362.9,241.7 M353.4,227.6 L369.4,242.7 M360.5,226.9 L375.5,243 M367.2,226.2 L381.4,243 M375.5,226.8 L388.5,244.6 M383,226.1 L395.2,244.4 M389.4,225 L401.1,243.6 M396.9,226.2 L407.9,245.2 M404.4,226 L415.4,245 M288.1,247.4 L306.5,235.4 M294.6,246.3 L314.6,237.2 M300.7,244.9 L321.9,239.1 M307.6,243.1 L329.5,241.6 M314.7,240.3 L336.5,243.2 M322.1,238 L343,244.9 M329.8,237.4 L349.2,247.8 M338.7,236 L356.1,249.4 M346.1,234 L362.3,248.9 M353.2,233.2 L368.2,249.3 M361.5,232.7 L375.3,249.9 M368.3,233 L381,251 M376.5,232.5 L388.2,251.1 M383.2,233.1 L394.1,252.2 M390.7,232.9 L401,252.3 M397.3,231.8 L407.6,251.3 M404.7,232.1 L414.9,251.6 M290.2,255.3 L307.4,241.7 M295.2,254.2 L314.2,243 M301.6,253.1 L322.4,245.9 M308.5,249.1 L330.4,247.6 M315.7,246.7 L337.3,250.7 M323.4,244.2 L343.6,252.9 M330.7,242.5 L349.1,254.5 M338.5,241.4 L354.9,256.1 M347.2,240.8 L361.6,257.4 M354.6,240.4 L367.5,258.3 M361.8,240.4 L373.5,259 M369.8,239.4 L380.7,258.6 M376.6,239.8 L386.7,259.4 M383.7,239.6 L393.4,259.4 M391.4,239.2 L400.7,259.1 M399,238.7 L408.3,258.6 M405.3,238.4 L414.7,258.3 M297,262.7 L314.3,249.2 M301.9,261.4 L321.6,251.6 M307.7,256.8 L329.4,253.6 M315.5,253.5 L336.9,258.4 M323,250.5 L342.3,261 M331.5,248.7 L348,263.4 M340.1,247.6 L354,264.7 M348,247.2 L359.9,265.7 M356.5,246.9 L366.9,266.3 M363.2,246.9 L372.6,266.7 M371.2,245.8 L380.1,265.9 M377.6,246.3 L385.9,266.7 M385.1,245.3 L393.4,265.7 M392.6,245.4 L400.7,265.8 M398.7,246.3 L406.7,266.8 M405.8,246.1 L414.1,266.4 M302.7,269 L320.2,255.8 M308.8,264.7 L330.5,261.1 M314.9,259.8 L336.1,265.9 M324,255.9 L341,269.9 M333.8,254.3 L346.5,272.2 M342.1,253.3 L352.5,272.6 M349.9,253.6 L358.4,273.9 M357.1,252.1 L365.2,272.5 M364.3,252.6 L371.4,273.4 M372.4,252.3 L379,273.3 M378.1,252.8 L384.4,273.9 M386.6,253.1 L392.8,274.2 M393.1,252.1 L399.8,273.1 M400.3,252.7 L407,273.6 M406.6,253 L413.6,273.8 M309,276.1 L327.6,264.4 M316.1,263.8 L335,275 M328.7,260.4 L338.2,280.3 M336.8,259 L344.4,279.7 M344.4,259.4 L349.9,280.7 M352.4,259.7 L356.9,281.2 M358.9,259.3 L363.2,280.9 M366.5,259 L370.7,280.6 M372.8,258.6 L377,280.2 M380.6,259.1 L384.7,280.7 M387.3,258.8 L391.9,280.3 M393.2,259.8 L397.8,281.3 M400.4,259.8 L405.5,281.2 M406.4,259 L412.1,280.3 M360,265.4 L360.9,287.4 M368.2,266.2 L369,288.2 M373.9,266 L375.1,287.9 M380.9,265.5 L382.8,287.4 M388.3,265.4 L390.9,287.2 M395.2,266 L398.2,287.8 M401.5,265.4 L405.1,287.1 M407.2,265.8 L411.3,287.4 M382.3,272.2 L382,294.2 M389.2,273.6 L389.4,295.6 M395,272.3 L396.2,294.3 M401.5,272.3 L403.4,294.3 M408.9,273 L411.4,294.9 M389.7,279.7 L388.2,301.7 M396.3,279.4 L395.9,301.4 M402.8,280.2 L403.1,302.2 M409.9,280.4 L411.1,302.3 M397.7,286.8 L395.9,308.7 M404.1,286.3 L403.4,308.3 M410.1,286.5 L410.3,308.5 M410.3,293.3 L409.8,315.3 M195.7,185.4 L207.9,175 M207.6,184.5 L220.1,174.5 M216.7,185 L229.6,175.5 M228.3,183.9 L242.1,175.7 M239.6,183 L254,176.1 M249.2,182.4 L264.1,176.5 M259.4,181.3 L274.7,176.8 M195.9,197.6 L206.5,185.7 M207.1,197.7 L217.5,185.5 M218.2,196.3 L229.5,185 M228.1,195.6 L240.6,185.7 M240,194.9 L253.6,186.5 M250.8,194.8 L265.1,187.7 M259.6,194.8 L274.4,188.8 M197.1,208.4 L206.5,195.4 M207.9,208.9 L216.8,195.6 M219,208.1 L228.7,195.4 M229.3,208.4 L240.2,196.7 M239.4,207.7 L251.6,197.3 M250.6,205.7 L264,197 M260.2,206.1 L274.4,198.6 M198.2,219.5 L206.9,206 M209,219.9 L217.3,206.2 M219.8,220.1 L228.4,206.6 M231.1,220.3 L240.5,207.3 M241.2,218.3 L252,206.6 M250.3,218.7 L262.2,208 M261.6,216.8 L274.8,207.9 M197.2,231.9 L205.5,218.1 M209.4,230.6 L217,216.5 M220.4,232.1 L227.5,217.8 M230.7,231.3 L238.2,217.2 M241.8,231.6 L250.7,218.2 M252.4,229.9 L263,217.9 M261.3,230.2 L273,219.3 M272.6,229 L285.7,219.8 M198.9,241.4 L206.5,227.2 M210.7,241.6 L217.3,227 M221.1,241.4 L227.1,226.6 M232.1,243 L238.2,228.2 M241.5,242.9 L248.6,228.6 M252.2,241.4 L261.1,228.1 M262,242.1 L272,229.6 M273.4,241.3 L284.9,230.2 M198.3,252.3 L205.2,237.9 M210.6,252.6 L216.4,237.7 M221.3,254.2 L226.4,239.1 M232.5,253.6 L237.8,238.5 M242.1,253.9 L248,239 M254,252.2 L261.4,238 M263,253.1 L271.1,239.3 M274.2,253 L283.7,240.2 M284.5,251.5 L295.9,240.4 M198.2,265.4 L204.2,250.5 M209.5,264 L214.5,248.8 M221.4,264.3 L225.6,248.9 M234,265.4 L237.9,249.9 M243.5,264.9 L247.8,249.5 M255,264.5 L260,249.3 M265.5,263.5 L271.5,248.7 M275.6,263.3 L282.8,249 M285.2,263.2 L293.8,249.8 M295.7,263.6 L306.5,251.8 M200.6,276 L205.3,260.7 M211,276.3 L214.6,260.7 M223.2,275 L225.9,259.2 M234,276.7 L236,260.8 M244.2,276.6 L246.1,260.7 M255.5,275.9 L257.9,260 M266.1,276.6 L268.6,260.8 M278.1,276 L281.5,260.4 M288.8,276.5 L292.8,261 M200.4,286.9 L204.3,271.4 M212.8,287.3 L214.9,271.4 M224.3,286.1 L225.4,270.1 M234,287.5 L234.2,271.5 M246.4,287.5 L246.4,271.5 M257.2,286.8 L257.2,270.8 M268,286.2 L267.9,270.2 M279,286 L278.7,270 M289.6,286.1 L288.9,270.1 M357.3,271.3 L356.5,287.3 M212.7,297.8 L213.9,281.9 M223.8,299 L223.7,283 M235.1,298.2 L234.1,282.3 M247.2,297.9 L245.6,281.9 M258.9,297.8 L256.5,282 M269.4,297.7 L266.1,282 M280.8,298.1 L276.3,282.8 M293.6,298.2 L287.2,283.6 M348.7,283.7 L340.4,297.4 M359,283 L353.5,298 M369.6,282.4 L366,298 M378.8,282.5 L376.3,298.3 M212.4,309.8 L212.6,293.8 M224.5,309.8 L223.3,293.8 M235.9,308.9 L233.7,293 M247.5,309.7 L244.1,294.1 M259.2,309.6 L254.6,294.3 M270.2,308.4 L264.5,293.5 M282.5,308.3 L275.1,294.1 M294.3,308.3 L284.8,295.5 M306.2,305.8 L294.5,294.8 M320.3,303.6 L305.4,297.9 M331.3,300.6 L315.3,301.4 M340.9,298 L326.4,304.8 M350.8,294.6 L339.5,306 M360.8,294.8 L352,308.1 M371.2,293.6 L364.7,308.2 M380.1,293.8 L375.3,309 M390.8,292.2 L388.2,308 M400,292.9 L398.7,308.8 M224.2,320.3 L222,304.4 M236.2,319.3 L232.6,303.7 M247.6,319.8 L242.8,304.6 M259.3,319.5 L253.2,304.7 M270.8,318.5 L263.3,304.3 M283.2,318.7 L273.7,305.8 M295.5,316.8 L284.2,305.4 M307.6,315.9 L294.1,307.3 M320.4,314 L305,309.6 M331,311.3 L315,311.6 M342.3,310.2 L327.2,315.5 M351.5,307.8 L338.1,316.6 M362,306.5 L350.9,318 M372.1,305.4 L363.3,318.8 M381.5,305 L374.9,319.6 M390.6,305.2 L386.1,320.6 M401.2,304.8 L398.9,320.6 M411.1,303.4 L410.4,319.4 M238.3,331 L233.4,315.8 M249.1,331.2 L243,316.4 M260.2,329.3 L253,315 M271.7,328.7 L262.9,315.4 M284.5,329 L273.7,317.2 M296.8,327.9 L284.1,318.1 M308.7,327.3 L294.3,320.2 M319.3,325.4 L303.8,321.4 M330.2,323.2 L314.2,322.8 M342.3,320.8 L326.8,324.7 M351.9,320.2 L337.4,327 M362.4,317.2 L349.9,327.1 M371.5,317.3 L360.7,329.1 M382.6,315.8 L374.6,329.7 M391.1,315.7 L385.3,330.6 M400.8,315 L397.5,330.6 M412.4,315 L411.3,331 M249.7,341.7 L243,327.2 M261.1,341.2 L253,327.5 M273.5,339.3 L263.6,326.8 M284.8,339.4 L273.2,328.4 M296.8,338.1 L283.6,329.1 M307.7,337 L293.2,330.2 M320.7,336.4 L305.1,333 M331.8,334.2 L315.8,333.8 M342,332.4 L326.2,334.9 M352.9,331.6 L337.8,337.1 M363.3,330.7 L349.5,338.7 M372.7,327.7 L360.8,338.3 M382.2,328.3 L372.3,340.9 M392.3,327 L385.5,341.5 M402.4,327.2 L398.4,342.7 M411.2,326 L409.4,341.9 M261.9,352.5 L252.7,339.4 M272.9,351.3 L262.1,339.6 M284.5,350.3 L272.4,339.9 M295.9,349.6 L282.5,340.8 M307.6,347.9 L293,341.4 M318.8,346.6 L303.3,342.6 M331.4,345.2 L315.4,344.1 M341.4,344.6 L325.4,345.7 M352.1,342.9 L336.5,346.5 M363.4,341.8 L348.7,348.1 M372.8,341.6 L359.3,350.2 M383.7,339.7 L372.7,351.3 M392.2,337.6 L383.9,351.3 M403,337.8 L398,353.1 M411.7,337.7 L409.3,353.5 M284.3,360.8 L272,350.7 M296.8,361 L283.3,352.4 M308.8,358.4 L294.1,352.3 M320.6,357.4 L305,353.9 M331.3,357.5 L315.4,355.8 M342.4,356.5 L326.4,356.5 M352.4,355.1 L336.5,357 M363.2,352.9 L347.8,357.2 M373.5,353.3 L359,360.1 M384.2,350.6 L371.8,360.8 M394.3,350.5 L384.9,363.4 M402.8,348 L396.7,362.8 M411.9,348.7 L408.9,364.4 M342.6,366.4 L326.6,365.7 M352.6,367.6 L336.6,367.9 M363.6,365.4 L347.8,367.9 M375.1,364.1 L360.1,369.4 M385.4,362 L372,370.7 M394.7,361.7 L383.8,373.5 M404.3,359.9 L397.5,374.4 M412,359.4 L408.5,375 M220.7,76.4 L232.6,69 M236.3,77.4 L248.4,70.4 M248.4,79.1 L260.9,72.7 M265.5,78.5 L278.3,73 M279.2,76.3 L292.4,71.7 M223.9,90.6 L235.9,83.3 M235.7,93.3 L247.9,86.5 M248.9,91.7 L261.3,85.3 M265.3,91.6 L278.1,85.9 M276.1,92 L289.2,87.1 M221.7,106.6 L234,99.9 M236.9,104.2 L249.3,97.7 M249.7,105 L262.2,98.7 M264.1,105.5 L276.9,99.8 M277.3,102.7 L290.5,98 M222.4,119.8 L234.7,113.1 M237,120.3 L249.4,113.9 M249.5,118.2 L262.1,112.2 M265,117.6 L278,112.4 M277.6,116.6 L290.9,112.2 M220.8,133.4 L233,126.4 M234.3,132.7 L246.5,125.8 M251.5,131.5 L264.3,125.8 M261.7,131.7 L274.8,126.8 M278.5,130.3 L291.9,126.1 M220.5,149.2 L232.6,142.2 M234.6,148.2 L246.8,141.3 M249.7,147.5 L262.6,142.1 M262.3,146.8 L275.8,142.8 M276.1,144.5 L289.8,141.8 M8.8,37.4 L-4.3,32.3 M43.9,34.2 L30.7,29.4 M71.9,37.8 L58.5,33.8 M101.6,33.2 L87.9,30.1 M129.5,35.6 L116.5,30.3 M152.9,40.2 L153.6,26.2 M14.1,66.6 L1.3,61.1 M40.1,64.8 L27.7,58.4 M74.4,66.9 L61.3,61.9 M100.8,64.2 L87.3,60.2 M130.5,69.1 L119.2,60.9 M152.1,70.1 L161.5,59.6 M177.7,65.2 L189.6,57.9 M44.2,98.6 L31.3,93.2 M71.9,94.7 L59.1,89.2 M103,98 L91.2,90.5 M123.5,100.8 L124.7,86.9 M145.9,95.6 L157.1,87.1 M67.5,121.4 L54,125 M90.5,129.7 L103.8,125.2 M117,129.4 L129.7,123.3 M147.3,129.4 L159.8,123.1 M-0.8,185.4 L4.9,199.2 M11.7,186.1 L17.3,200 M24.7,185 L30.6,198.8 M38.4,184.4 L44.6,198.1 M48.8,184.5 L55.6,197.9 M61.7,185.8 L69.6,198.6 M2,197.3 L7.7,211.2 M12,198.2 L17.6,212.1 M26.6,196 L32.2,209.9 M38.3,195.1 L44,209 M52.4,196.3 L58.8,209.8 M62.7,198.3 L70.2,211.3 M-0.7,211.4 L5.6,225 M15.1,210.4 L21,224.2 M25.4,208.3 L30.9,222.2 M38.8,209 L43.9,223.1 M50.3,208.6 L56.1,222.5 M62.5,211.8 L69.9,224.8 M2,220.6 L8.8,233.9 M13.7,223.9 L20.4,237.3 M24.3,220.5 L30.3,234.3 M36.9,222.4 L42.6,236.2 M49.8,221.6 L56.2,235.2 M64.2,221.4 L72.1,234.1 M1.8,236.5 L9.6,249.3 M10.9,234.9 L18.4,247.9 M26.1,236.7 L33.5,249.7 M36.9,233.4 L43.9,246.6 M49.9,235.8 L57.6,248.7 M62,236.6 L70.6,248.8 M0.1,245.8 L8.4,258.3 M13.7,247.6 L21.7,260.3 M25.7,249.4 L33.6,262.1 M38.9,248.4 L47,261 M49.3,246.6 L57.7,259 M62.7,247.7 L71.9,259.6 M73.2,248.1 L83,259.5 M0.4,259.5 L9.4,271.6 M13.3,258.9 L21.7,271.3 M24.6,260.7 L32.9,273.2 M37.9,260.2 L46.5,272.5 M48.5,260.6 L57.5,272.6 M61.9,258.8 L71.2,270.5 M72.4,259.1 L82.2,270.4 M-2.4,272.6 L7.6,283.8 M12.1,272.8 L21.6,284.3 M25,274.9 L34.5,286.6 M35.3,272.9 L44.6,284.7 M49.3,275 L58.6,286.8 M59.9,273.2 L69.2,285 M72.5,275.1 L82.5,286.3 M-1.7,288 L9.5,298 M9.6,287.6 L20.6,297.7 M24.6,284.8 L35.1,295.5 M36.4,286.7 L46.7,297.6 M50.7,286.7 L60.6,298 M63.3,287.6 L73.4,298.7 M73,285.4 L83.4,296.2 M84.1,285.9 L95.1,296.1 M-0.1,299.6 L11.9,308.6 M11.4,298.2 L23.3,307.3 M21.4,301.3 L33.4,310.3 M36.9,298.3 L48.1,308.3 M48,299.8 L59,310 M62.9,300.7 L73.9,310.9 M72,297.3 L83,307.5 M86.2,297.5 L97.4,307.5 M-1.4,310.7 L11.1,319.1 M9.3,313.5 L22,321.6 M24.1,311.4 L36.5,319.8 M34.4,313.8 L46.5,322.6 M48.2,311.1 L59.9,320.4 M62.6,313.5 L74.1,323 M72.5,310.2 L83.7,320.1 M84.7,309.7 L95.8,319.8 M-0.9,325.1 L11.8,333.1 M8.8,323.2 L21.6,331.1 M23.9,324.7 L36.6,332.7 M34.4,326.8 L46.9,335 M48.3,324.4 L60.5,333.2 M60.3,324.5 L72.3,333.5 M72.3,323.2 L83.9,332.7 M85.3,324.2 L96.7,334 M-2.4,337.2 L10.5,344.9 M9,336.9 L22.1,344.4 M23.3,337.9 L36.3,345.3 M35.7,339.5 L48.5,347.2 M46,337.3 L58.5,345.6 M61.4,336.7 L73.7,345.4 M74.3,336.8 L86.3,345.8 M83.7,337.3 L95.6,346.5 M96.8,336.9 L108.8,345.9 M-2.4,351.7 L10.8,358.8 M8.6,350.2 L22,356.9 M24.1,350.9 L37.7,357.2 M35.7,349.7 L49,356.8 M49.6,351.6 L62.3,359.5 M62.2,349.9 L74.6,358.3 M72.9,351.6 L85.3,360.1 M85.6,350.2 L97.8,358.8 M97.4,348.2 L109.7,356.7 M-4.1,361.5 L9.2,368.5 M10.8,363 L24.4,369.3 M20.9,362.6 L34.6,368.6 M36.6,361.7 L50,368.4 M45.8,361.4 L58.9,368.7 M62.1,362.9 L74.8,370.9 M72.6,361.3 L85.2,369.5 M84.4,362.2 L97,370.4 M98.6,361.8 L111.3,369.7" stroke="#000" stroke-width="1.1" fill="none"/><path d="M336.4,139.2 L332.7,140.5 L333.4,136.6 Z M344.1,140.2 L340.2,141.3 L341.1,137.4 Z M350.1,140.9 L346.2,141.8 L347.4,138 Z M357.3,140.1 L353.3,140.8 L354.6,137.1 Z M364.2,140.5 L360.2,141.1 L361.7,137.3 Z M316.7,143.7 L313.1,145.5 L313.3,141.5 Z M322.5,145.4 L318.8,147 L319.2,143 Z M330.6,145.1 L326.8,146.5 L327.5,142.5 Z M336.9,146.7 L333,147.9 L333.9,144 Z M343.3,146.9 L339.4,147.8 L340.5,144 Z M349.9,148.3 L345.9,149 L347.2,145.2 Z M357.2,148.7 L353.2,149.3 L354.7,145.5 Z M363.8,148.4 L359.8,148.8 L361.4,145.1 Z M370.9,149.2 L366.9,149.4 L368.7,145.8 Z M377.2,149.1 L373.2,149.2 L375.1,145.7 Z M302.2,150.2 L298.7,152.3 L298.6,148.3 Z M308.8,150.7 L305.2,152.6 L305.3,148.6 Z M315.3,152.2 L311.6,153.9 L312,149.9 Z M322.2,152.5 L318.5,153.9 L319,150 Z M329.5,153.1 L325.7,154.4 L326.5,150.5 Z M336.6,154.6 L332.7,155.6 L333.7,151.7 Z M343.5,154.5 L339.6,155.4 L340.8,151.6 Z M351,155.3 L347,155.9 L348.4,152.2 Z M357.1,155.1 L353.1,155.5 L354.7,151.8 Z M364.2,156.6 L360.2,156.7 L362,153.2 Z M370.6,156.9 L366.6,156.9 L368.6,153.5 Z M376.7,156.8 L372.7,156.7 L374.8,153.2 Z M384.8,156.2 L380.7,156 L382.9,152.6 Z M288,156.5 L284.8,158.8 L284.3,154.9 Z M295.5,158.5 L292,160.5 L291.9,156.5 Z M302.8,158.8 L299.2,160.7 L299.4,156.7 Z M308.9,158.3 L305.2,160 L305.5,156.1 Z M316.1,159.3 L312.4,160.9 L312.9,156.9 Z M322.2,160.7 L318.4,162.1 L319.1,158.1 Z M329.3,160.8 L325.5,161.9 L326.4,158 Z M337,161 L333.1,162 L334.2,158.2 Z M343.8,162.2 L339.8,163 L341.1,159.2 Z M350.7,161.2 L346.7,161.8 L348.1,158.1 Z M356.3,163.3 L352.3,163.7 L354,160 Z M363.2,162.7 L359.2,162.8 L361.1,159.3 Z M370.2,164.2 L366.1,164.1 L368.2,160.6 Z M377.3,163.7 L373.2,163.4 L375.4,160.1 Z M383.7,163.7 L379.7,163.4 L381.9,160.1 Z M390.9,164.1 L386.9,163.6 L389.3,160.4 Z M397.7,164.3 L393.7,163.7 L396.1,160.6 Z M287.6,163.2 L284.3,165.6 L283.9,161.6 Z M295.7,164.8 L292.2,166.8 L292.2,162.8 Z M301.4,166.2 L297.8,168 L298,164 Z M308.2,165.2 L304.5,166.9 L304.9,162.9 Z M315.8,166.5 L312.1,168 L312.6,164 Z M322.8,166.9 L319,168.2 L319.7,164.3 Z M329.5,167.9 L325.6,169 L326.6,165.2 Z M336,168.5 L332.1,169.5 L333.2,165.6 Z M342.7,167.7 L338.8,168.5 L340,164.7 Z M349.5,169.1 L345.5,169.7 L347,166 Z M357,170.1 L353,170.3 L354.7,166.7 Z M363.4,170 L359.3,170 L361.3,166.6 Z M369.5,170.9 L365.5,170.7 L367.6,167.3 Z M376.7,170.9 L372.7,170.7 L374.9,167.3 Z M384.5,170.6 L380.5,170.2 L382.8,166.9 Z M391.1,171 L387.1,170.4 L389.5,167.3 Z M397.1,172.6 L393.1,171.9 L395.7,168.9 Z M404.6,171.8 L400.6,170.9 L403.3,167.9 Z M411.3,171.8 L407.4,170.9 L410.2,168 Z M287.2,170.6 L284,173.1 L283.5,169.1 Z M294.3,171.9 L290.9,174 L290.7,170 Z M301.6,172.9 L298,174.8 L298.1,170.8 Z M308.7,172.1 L305.1,173.8 L305.4,169.9 Z M315.4,173.2 L311.7,174.8 L312.1,170.8 Z M322.6,174.3 L318.8,175.6 L319.5,171.7 Z M330.3,174.4 L326.4,175.5 L327.4,171.6 Z M337.2,175.3 L333.3,176.3 L334.3,172.4 Z M343.9,174.8 L339.9,175.6 L341.2,171.8 Z M350.3,176.6 L346.3,177.2 L347.7,173.5 Z M357,177 L353,177.3 L354.7,173.7 Z M363.7,177.7 L359.7,177.7 L361.6,174.2 Z M370,177.6 L365.9,177.4 L368.1,174 Z M377.6,178.7 L373.6,178.4 L375.9,175.1 Z M384.6,178 L380.6,177.6 L382.9,174.4 Z M390.7,178.2 L386.7,177.6 L389.2,174.5 Z M397.3,179.1 L393.4,178.3 L396,175.3 Z M404.3,179.5 L400.4,178.4 L403.2,175.6 Z M410.4,179.3 L406.5,178.1 L409.4,175.4 Z M417.1,179.6 L413.3,178.5 L416.2,175.7 Z M287.2,176.6 L284.1,179.1 L283.4,175.2 Z M294.9,178.3 L291.6,180.7 L291.2,176.7 Z M302.5,179 L299.1,181.1 L299,177.1 Z M308.3,179.4 L304.8,181.3 L304.9,177.3 Z M315.6,180.4 L312,182.2 L312.3,178.2 Z M323.6,180.9 L319.9,182.4 L320.5,178.4 Z M330.1,180.9 L326.3,182.2 L327.1,178.2 Z M337.2,182.5 L333.4,183.5 L334.3,179.7 Z M343.4,183 L339.5,183.9 L340.6,180 Z M350.4,182.5 L346.4,183.2 L347.8,179.4 Z M357,183.3 L353,183.6 L354.7,180 Z M364.3,183.6 L360.3,183.7 L362.2,180.2 Z M369.9,184.4 L365.9,184.3 L368,180.9 Z M377.7,184.5 L373.7,184.2 L375.9,180.9 Z M384.5,185 L380.5,184.5 L382.9,181.3 Z M390.6,186.5 L386.6,185.9 L389.1,182.8 Z M396.9,186.7 L393,185.8 L395.7,182.9 Z M404,186.9 L400.1,185.8 L403,183 Z M410.2,186.9 L406.4,185.7 L409.3,183 Z M417.7,187.4 L413.9,186.2 L416.8,183.5 Z M287.5,182.9 L284.6,185.6 L283.7,181.7 Z M295.6,184.7 L292.5,187.2 L291.9,183.3 Z M301.3,185.6 L298,188 L297.6,184 Z M309.6,186.4 L306.1,188.5 L306.1,184.5 Z M316,186.9 L312.4,188.8 L312.6,184.8 Z M322.2,186.5 L318.5,188.2 L318.9,184.2 Z M329.1,187.9 L325.3,189.3 L325.9,185.4 Z M336.3,188.6 L332.5,189.8 L333.3,185.9 Z M343.3,189.5 L339.4,190.4 L340.5,186.6 Z M350.6,189.8 L346.6,190.5 L348,186.8 Z M356.6,190.5 L352.6,191 L354.2,187.3 Z M363.1,191.6 L359.1,191.8 L360.9,188.2 Z M370.4,190.9 L366.4,190.8 L368.4,187.4 Z M377.2,192.4 L373.2,192.1 L375.4,188.8 Z M383.1,193 L379.1,192.6 L381.5,189.3 Z M389.8,192.3 L385.8,191.6 L388.3,188.5 Z M397.6,193.4 L393.6,192.5 L396.4,189.6 Z M403.1,193.6 L399.2,192.5 L402,189.7 Z M410.8,193.6 L407,192.3 L409.9,189.6 Z M418.1,193.8 L414.2,192.5 L417.2,189.9 Z M280.4,188.4 L277.8,191.5 L276.4,187.8 Z M287.1,189.6 L284.4,192.5 L283.2,188.7 Z M294.8,190.9 L291.9,193.6 L291,189.7 Z M302.6,192.2 L299.4,194.7 L298.8,190.7 Z M308.5,192.6 L305.2,194.9 L304.9,190.9 Z M315.3,192.4 L311.8,194.4 L311.8,190.4 Z M323.5,194 L319.8,195.7 L320.1,191.7 Z M329.1,194.5 L325.4,196 L325.9,192 Z M337.5,195.6 L333.6,196.9 L334.5,192.9 Z M344.2,196 L340.3,197 L341.4,193.1 Z M350,196 L346,196.7 L347.3,193 Z M357.5,197.1 L353.4,197.6 L355,193.9 Z M364.1,198.7 L360.1,198.9 L361.9,195.3 Z M371.2,199.3 L367.1,199.3 L369.2,195.8 Z M377.2,199.5 L373.2,199.2 L375.4,195.9 Z M384.5,199.9 L380.5,199.4 L382.9,196.2 Z M390.8,200 L386.8,199.3 L389.4,196.3 Z M397.1,201.1 L393.1,200.2 L395.8,197.2 Z M403,200.3 L399.1,199.2 L401.9,196.4 Z M410,201.1 L406.1,199.9 L409.1,197.2 Z M416.8,200.9 L413,199.6 L415.9,196.9 Z M280.7,195.4 L278.3,198.7 L276.7,195.1 Z M288.1,195.9 L285.5,199 L284.1,195.2 Z M294.5,197.2 L291.7,200.1 L290.6,196.2 Z M301.4,197.7 L298.4,200.4 L297.5,196.5 Z M308.6,199.1 L305.4,201.5 L304.8,197.6 Z M315.6,199.8 L312.2,201.9 L312,197.9 Z M322.8,199.8 L319.2,201.7 L319.4,197.7 Z M330.3,201.5 L326.6,203 L327.1,199.1 Z M336.3,202.3 L332.5,203.6 L333.2,199.7 Z M343.9,202.3 L340,203.3 L341.1,199.5 Z M349.6,203.7 L345.7,204.5 L347,200.7 Z M357.5,204.7 L353.5,205.1 L355.1,201.5 Z M363.5,205 L359.5,205.2 L361.3,201.6 Z M370.8,205.2 L366.8,205.1 L368.8,201.7 Z M376.6,205.6 L372.6,205.3 L374.8,202 Z M383.2,206.2 L379.2,205.7 L381.6,202.5 Z M390.5,207.8 L386.6,207.1 L389.2,204 Z M397.1,207.1 L393.2,206.2 L395.9,203.3 Z M403.7,207.1 L399.8,206 L402.6,203.2 Z M410.6,207.4 L406.7,206.2 L409.6,203.4 Z M418,207.9 L414.2,206.7 L417.1,204 Z M287.8,202.2 L285.4,205.4 L283.8,201.8 Z M295,203.6 L292.5,206.7 L291.1,203 Z M301.4,204.5 L298.6,207.4 L297.4,203.5 Z M308.4,204.6 L305.4,207.2 L304.6,203.3 Z M316,205.6 L312.7,207.9 L312.3,203.9 Z M323.6,207.1 L320.1,209.1 L320.1,205.1 Z M330.1,208.2 L326.4,209.9 L326.7,205.9 Z M336.2,209.2 L332.5,210.6 L333.1,206.7 Z M343.6,209.3 L339.7,210.3 L340.7,206.5 Z M350.9,210.1 L346.9,210.8 L348.3,207 Z M357.3,210.8 L353.3,211.2 L354.9,207.6 Z M363.6,212.6 L359.5,212.7 L361.4,209.2 Z M370.4,212.5 L366.4,212.3 L368.6,208.9 Z M376.5,214.2 L372.5,213.8 L374.8,210.5 Z M383.4,213.4 L379.4,212.8 L381.9,209.6 Z M389.7,213.7 L385.8,213 L388.4,209.9 Z M396.7,214.5 L392.8,213.6 L395.6,210.7 Z M404.2,215.7 L400.4,214.5 L403.3,211.8 Z M410.7,214.8 L406.9,213.5 L409.8,210.8 Z M417.9,214.9 L414.1,213.5 L417.1,210.9 Z M286.8,208.6 L284.7,212 L282.7,208.5 Z M293.4,209.7 L291.1,213 L289.3,209.4 Z M300.9,210.4 L298.3,213.5 L297,209.7 Z M309,211.6 L306.1,214.5 L305.1,210.6 Z M315.9,212.8 L312.7,215.3 L312.1,211.4 Z M323.6,212.9 L320.2,215.1 L320,211.1 Z M330,215.1 L326.5,217 L326.6,213 Z M337.5,216.2 L333.7,217.7 L334.3,213.7 Z M343.6,216.8 L339.7,217.9 L340.7,214 Z M350.7,218.5 L346.7,219.2 L348.1,215.4 Z M356.6,218.9 L352.6,219.2 L354.3,215.6 Z M363,220.1 L358.9,220.1 L360.9,216.6 Z M370.4,219.9 L366.4,219.6 L368.6,216.2 Z M376.2,220.3 L372.2,219.8 L374.6,216.6 Z M382.7,220.6 L378.8,219.9 L381.3,216.8 Z M390,221.9 L386.1,220.9 L388.9,218 Z M396.5,221.4 L392.6,220.3 L395.5,217.5 Z M403.1,222 L399.2,220.7 L402.2,218 Z M410.1,223.2 L406.3,221.8 L409.4,219.2 Z M417.5,222.4 L413.8,221 L416.9,218.5 Z M293.5,215.2 L291.4,218.7 L289.5,215.2 Z M300.6,216.2 L298.2,219.4 L296.6,215.8 Z M308.2,217.5 L305.5,220.5 L304.2,216.7 Z M315.9,219.3 L312.9,222.1 L312,218.1 Z M322.9,219.5 L319.7,221.8 L319.3,217.9 Z M329.2,220.9 L325.7,222.9 L325.7,218.9 Z M337.3,222.7 L333.6,224.2 L334.1,220.3 Z M343,223.8 L339.2,224.9 L340.1,221 Z M350,225.5 L346,226.2 L347.4,222.4 Z M357.2,226.4 L353.1,226.6 L355,223 Z M363.6,226.1 L359.6,225.9 L361.7,222.5 Z M370.4,226.9 L366.4,226.4 L368.7,223.2 Z M375.7,227.2 L371.8,226.5 L374.3,223.4 Z M382.6,229.3 L378.7,228.3 L381.5,225.4 Z M389.5,228.7 L385.6,227.5 L388.5,224.8 Z M396,228.5 L392.2,227.2 L395.2,224.6 Z M402.8,230.4 L399.1,228.9 L402.2,226.4 Z M410,230.6 L406.4,229 L409.6,226.6 Z M415.9,229.5 L412.3,227.9 L415.5,225.5 Z M293,222.4 L291.3,226.1 L289,222.8 Z M300.6,222.7 L298.5,226.2 L296.6,222.7 Z M308.7,223.3 L306.2,226.4 L304.7,222.7 Z M315.2,225.3 L312.4,228.3 L311.3,224.4 Z M322.4,225.8 L319.2,228.3 L318.6,224.4 Z M329.5,228.5 L326.1,230.5 L326,226.5 Z M337.7,229 L333.9,230.5 L334.5,226.5 Z M343.5,230.5 L339.6,231.6 L340.6,227.7 Z M349.9,231.7 L345.9,232.3 L347.4,228.6 Z M356.8,233.7 L352.8,233.7 L354.7,230.2 Z M362.5,233.3 L358.5,233 L360.7,229.7 Z M369,235 L365.1,234.4 L367.6,231.3 Z M376.3,236.2 L372.4,235.2 L375.2,232.3 Z M382.6,235.2 L378.7,234 L381.6,231.3 Z M389.2,237 L385.4,235.6 L388.5,233 Z M395.6,237.6 L391.9,236 L395.1,233.6 Z M402.9,236.6 L399.3,234.9 L402.6,232.6 Z M409.8,236.5 L406.2,234.8 L409.5,232.5 Z M416.4,236.7 L412.8,234.9 L416.2,232.7 Z M300.5,228.7 L298.7,232.3 L296.5,229 Z M307.7,230.6 L305.5,234 L303.6,230.5 Z M315.1,231.8 L312.5,234.8 L311.2,231.1 Z M322.6,232.3 L319.6,234.9 L318.8,231 Z M330.1,234.4 L326.7,236.5 L326.6,232.5 Z M336.5,236.6 L332.8,238.1 L333.3,234.1 Z M344,238.6 L340.1,239.4 L341.3,235.6 Z M350.7,239.1 L346.6,239.4 L348.4,235.8 Z M355.7,241.5 L351.7,241.4 L353.8,238 Z M362.9,241.7 L358.9,241.2 L361.3,238 Z M369.4,242.7 L365.5,241.8 L368.2,238.9 Z M375.5,243 L371.7,241.8 L374.6,239.1 Z M381.4,243 L377.6,241.6 L380.7,239 Z M388.5,244.6 L384.8,242.9 L388,240.6 Z M395.2,244.4 L391.6,242.6 L394.9,240.4 Z M401.1,243.6 L397.5,241.7 L400.9,239.6 Z M407.9,245.2 L404.4,243.2 L407.9,241.2 Z M415.4,245 L411.9,243 L415.4,241 Z M306.5,235.4 L304.7,239 L302.5,235.6 Z M314.6,237.2 L312.2,240.4 L310.6,236.8 Z M321.9,239.1 L319.1,241.9 L318,238.1 Z M329.5,241.6 L326.2,243.8 L325.9,239.8 Z M336.5,243.2 L332.8,244.7 L333.3,240.8 Z M343,244.9 L339.1,245.7 L340.3,241.9 Z M349.2,247.8 L345.1,247.9 L347,244.3 Z M356.1,249.4 L352.2,248.8 L354.6,245.7 Z M362.3,248.9 L358.4,248 L361.1,245.1 Z M368.2,249.3 L364.4,248.1 L367.3,245.4 Z M375.3,249.9 L371.5,248.4 L374.6,245.9 Z M381,251 L377.3,249.3 L380.6,247 Z M388.2,251.1 L384.7,249.2 L388,247 Z M394.1,252.2 L390.6,250.1 L394.1,248.1 Z M401,252.3 L397.6,250.2 L401.2,248.3 Z M407.6,251.3 L404.2,249.1 L407.7,247.3 Z M414.9,251.6 L411.5,249.4 L415,247.6 Z M307.4,241.7 L305.9,245.5 L303.5,242.3 Z M314.2,243 L312.2,246.5 L310.2,243.1 Z M322.4,245.9 L319.7,248.9 L318.4,245.2 Z M330.4,247.6 L327.1,249.9 L326.8,245.9 Z M337.3,250.7 L333.5,252 L334.3,248.1 Z M343.6,252.9 L339.5,253.3 L341.1,249.6 Z M349.1,254.5 L345,254.3 L347.2,250.9 Z M354.9,256.1 L350.9,255.2 L353.6,252.3 Z M361.6,257.4 L357.8,256.1 L360.8,253.5 Z M367.5,258.3 L363.8,256.6 L367.1,254.2 Z M373.5,259 L369.9,257.1 L373.3,255 Z M380.7,258.6 L377.2,256.5 L380.7,254.5 Z M386.7,259.4 L383.3,257.2 L386.9,255.3 Z M393.4,259.4 L390,257.1 L393.6,255.4 Z M400.7,259.1 L397.4,256.8 L401,255.1 Z M408.3,258.6 L405,256.3 L408.6,254.6 Z M414.7,258.3 L411.4,256 L415,254.3 Z M314.3,249.2 L312.8,252.9 L310.3,249.7 Z M321.6,251.6 L319.4,255 L317.6,251.4 Z M329.4,253.6 L326.3,256.1 L325.7,252.2 Z M336.9,258.4 L333.1,259.5 L334,255.6 Z M342.3,261 L338.3,261.1 L340.2,257.6 Z M348,263.4 L344,262.5 L346.7,259.5 Z M354,264.7 L350.2,263.2 L353.3,260.7 Z M359.9,265.7 L356.4,263.8 L359.7,261.7 Z M366.9,266.3 L363.4,264.2 L367,262.3 Z M372.6,266.7 L369.3,264.4 L372.9,262.7 Z M380.1,265.9 L376.8,263.5 L380.5,261.9 Z M385.9,266.7 L382.8,264.2 L386.5,262.7 Z M393.4,265.7 L390.2,263.2 L393.9,261.7 Z M400.7,265.8 L397.6,263.3 L401.3,261.8 Z M406.7,266.8 L403.6,264.3 L407.3,262.8 Z M414.1,266.4 L410.9,263.9 L414.6,262.4 Z M320.2,255.8 L318.6,259.5 L316.2,256.3 Z M330.5,261.1 L327.3,263.7 L326.7,259.7 Z M336.1,265.9 L332.2,266.8 L333.3,263 Z M341,269.9 L337,269.2 L339.6,266.1 Z M346.5,272.2 L342.9,270.5 L346.1,268.2 Z M352.5,272.6 L349.1,270.5 L352.6,268.6 Z M358.4,273.9 L355.2,271.4 L358.9,269.9 Z M365.2,272.5 L362.1,270 L365.8,268.6 Z M371.4,273.4 L368.4,270.8 L372.2,269.5 Z M379,273.3 L376,270.6 L379.8,269.4 Z M384.4,273.9 L381.5,271.1 L385.3,269.9 Z M392.8,274.2 L389.9,271.4 L393.8,270.2 Z M399.8,273.1 L396.8,270.4 L400.6,269.2 Z M407,273.6 L404,270.9 L407.9,269.7 Z M413.6,273.8 L410.6,271.2 L414.4,269.9 Z M327.6,264.4 L325.7,267.9 L323.6,264.5 Z M335,275 L331,274.9 L333.1,271.5 Z M338.2,280.3 L334.9,278 L338.5,276.2 Z M344.4,279.7 L341.3,277.1 L345,275.7 Z M349.9,280.7 L347.1,277.8 L351,276.8 Z M356.9,281.2 L354.2,278.2 L358.2,277.4 Z M363.2,280.9 L360.6,277.8 L364.5,277 Z M370.7,280.6 L368,277.6 L372,276.8 Z M377,280.2 L374.3,277.1 L378.3,276.4 Z M384.7,280.7 L382.1,277.7 L386,276.9 Z M391.9,280.3 L389.2,277.3 L393.1,276.5 Z M397.8,281.3 L395.1,278.3 L399,277.4 Z M405.5,281.2 L402.8,278.2 L406.7,277.3 Z M412.1,280.3 L409.2,277.4 L413.1,276.4 Z M360.9,287.4 L358.8,284 L362.7,283.8 Z M369,288.2 L366.9,284.8 L370.9,284.6 Z M375.1,287.9 L372.9,284.6 L376.9,284.3 Z M382.8,287.4 L380.5,284.1 L384.5,283.8 Z M390.9,287.2 L388.5,284 L392.4,283.5 Z M398.2,287.8 L395.8,284.6 L399.7,284 Z M405.1,287.1 L402.6,284 L406.5,283.3 Z M411.3,287.4 L408.7,284.4 L412.6,283.6 Z M382,294.2 L380,290.7 L384,290.8 Z M389.4,295.6 L387.3,292.1 L391.3,292.1 Z M396.2,294.3 L394,290.9 L398,290.7 Z M403.4,294.3 L401.1,291 L405.1,290.6 Z M411.4,294.9 L409,291.6 L413,291.2 Z M388.2,301.7 L386.5,298 L390.4,298.3 Z M395.9,301.4 L394,297.8 L398,297.9 Z M403.1,302.2 L401.1,298.8 L405.1,298.7 Z M411.1,302.3 L408.9,298.9 L412.9,298.7 Z M395.9,308.7 L394.2,305.1 L398.2,305.4 Z M403.4,308.3 L401.5,304.7 L405.5,304.9 Z M410.3,308.5 L408.3,305.1 L412.3,305 Z M409.8,315.3 L407.9,311.8 L411.9,311.9 Z M207.9,175 L206.6,178.8 L204,175.8 Z M220.1,174.5 L218.6,178.3 L216.1,175.1 Z M229.6,175.5 L228,179.2 L225.6,176 Z M242.1,175.7 L240.1,179.3 L238.1,175.8 Z M254,176.1 L251.7,179.4 L250,175.8 Z M264.1,176.5 L261.6,179.6 L260.1,175.9 Z M274.7,176.8 L272,179.7 L270.8,175.8 Z M206.5,185.7 L205.7,189.6 L202.7,187 Z M217.5,185.5 L216.8,189.5 L213.7,186.9 Z M229.5,185 L228.5,188.9 L225.6,186.1 Z M240.6,185.7 L239.1,189.4 L236.6,186.3 Z M253.6,186.5 L251.7,190 L249.6,186.6 Z M265.1,187.7 L262.9,191 L261.1,187.4 Z M274.4,188.8 L271.9,192 L270.4,188.3 Z M206.5,195.4 L206,199.4 L202.8,197.1 Z M216.8,195.6 L216.5,199.6 L213.2,197.4 Z M228.7,195.4 L228.2,199.4 L225,197 Z M240.2,196.7 L239.3,200.6 L236.4,197.9 Z M251.6,197.3 L250.2,201.1 L247.6,198 Z M264,197 L262.1,200.5 L259.9,197.2 Z M274.4,198.6 L272.2,202 L270.3,198.5 Z M206.9,206 L206.7,210.1 L203.3,207.9 Z M217.3,206.2 L217.2,210.3 L213.8,208.2 Z M228.4,206.6 L228.2,210.6 L224.8,208.5 Z M240.5,207.3 L240.1,211.3 L236.9,209 Z M252,206.6 L251.1,210.5 L248.2,207.8 Z M262.2,208 L261,211.8 L258.3,208.8 Z M274.8,207.9 L273.1,211.5 L270.8,208.2 Z M205.5,218.1 L205.4,222.2 L202,220.1 Z M217,216.5 L217.1,220.6 L213.6,218.7 Z M227.5,217.8 L227.7,221.8 L224.2,220 Z M238.2,217.2 L238.3,221.2 L234.8,219.3 Z M250.7,218.2 L250.4,222.3 L247.1,220 Z M263,217.9 L262.2,221.9 L259.2,219.2 Z M273,219.3 L271.8,223.1 L269.1,220.2 Z M285.7,219.8 L284,223.5 L281.7,220.2 Z M206.5,227.2 L206.6,231.3 L203.1,229.4 Z M217.3,227 L217.7,231 L214,229.4 Z M227.1,226.6 L227.6,230.6 L223.9,229.1 Z M238.2,228.2 L238.7,232.2 L235,230.6 Z M248.6,228.6 L248.9,232.7 L245.3,230.9 Z M261.1,228.1 L260.8,232.1 L257.5,229.9 Z M272,229.6 L271.4,233.6 L268.3,231.1 Z M284.9,230.2 L283.8,234.1 L281,231.2 Z M205.2,237.9 L205.5,241.9 L201.9,240.2 Z M216.4,237.7 L217,241.6 L213.3,240.2 Z M226.4,239.1 L227.2,243 L223.4,241.7 Z M237.8,238.5 L238.5,242.4 L234.8,241.1 Z M248,239 L248.6,243 L244.9,241.5 Z M261.4,238 L261.5,242 L258,240.1 Z M271.1,239.3 L271,243.3 L267.6,241.3 Z M283.7,240.2 L283.2,244.2 L280,241.8 Z M295.9,240.4 L294.8,244.2 L292,241.4 Z M204.2,250.5 L204.8,254.5 L201,253 Z M214.5,248.8 L215.3,252.7 L211.5,251.5 Z M225.6,248.9 L226.6,252.8 L222.8,251.7 Z M237.9,249.9 L239,253.8 L235.1,252.8 Z M247.8,249.5 L248.8,253.4 L244.9,252.3 Z M260,249.3 L260.8,253.2 L257,252 Z M271.5,248.7 L272.1,252.7 L268.4,251.1 Z M282.8,249 L283,253 L279.5,251.2 Z M293.8,249.8 L293.6,253.8 L290.2,251.6 Z M306.5,251.8 L305.6,255.7 L302.7,253 Z M205.3,260.7 L206.2,264.6 L202.4,263.4 Z M214.6,260.7 L215.8,264.6 L211.9,263.7 Z M225.9,259.2 L227.3,263 L223.3,262.3 Z M236,260.8 L237.5,264.5 L233.6,264 Z M246.1,260.7 L247.7,264.4 L243.7,263.9 Z M257.9,260 L259.3,263.8 L255.4,263.2 Z M268.6,260.8 L270,264.6 L266.1,263.9 Z M281.5,260.4 L282.7,264.2 L278.8,263.4 Z M292.8,261 L293.9,264.9 L290,263.9 Z M204.3,271.4 L205.4,275.2 L201.5,274.3 Z M214.9,271.4 L216.4,275.2 L212.5,274.6 Z M225.4,270.1 L227.2,273.7 L223.2,273.4 Z M234.2,271.5 L236.2,275 L232.2,274.9 Z M246.4,271.5 L248.4,275 L244.4,275 Z M257.2,270.8 L259.2,274.3 L255.2,274.3 Z M267.9,270.2 L269.9,273.7 L265.9,273.7 Z M278.7,270 L280.7,273.5 L276.7,273.6 Z M288.9,270.1 L291.1,273.5 L287.1,273.6 Z M356.5,287.3 L354.7,283.7 L358.7,283.9 Z M213.9,281.9 L215.6,285.5 L211.6,285.2 Z M223.7,283 L225.7,286.5 L221.7,286.5 Z M234.1,282.3 L236.3,285.6 L232.3,285.9 Z M245.6,281.9 L248,285.2 L244,285.6 Z M256.5,282 L259,285.1 L255.1,285.7 Z M266.1,282 L268.8,285 L264.9,285.8 Z M276.3,282.8 L279.2,285.6 L275.4,286.7 Z M287.2,283.6 L290.4,286 L286.7,287.6 Z M340.4,297.4 L340.5,293.3 L343.9,295.4 Z M353.5,298 L352.9,294.1 L356.6,295.4 Z M366,298 L364.9,294.2 L368.8,295.1 Z M376.3,298.3 L374.9,294.5 L378.8,295.1 Z M212.6,293.8 L214.6,297.4 L210.6,297.3 Z M223.3,293.8 L225.5,297.2 L221.6,297.5 Z M233.7,293 L236.1,296.2 L232.2,296.8 Z M244.1,294.1 L246.8,297.1 L242.9,298 Z M254.6,294.3 L257.6,297.1 L253.7,298.2 Z M264.5,293.5 L267.6,296.1 L263.9,297.5 Z M275.1,294.1 L278.5,296.3 L274.9,298.2 Z M284.8,295.5 L288.5,297.1 L285.3,299.5 Z M294.5,294.8 L298.4,295.8 L295.7,298.7 Z M305.4,297.9 L309.3,297.3 L307.9,301.1 Z M315.3,301.4 L318.7,299.3 L318.9,303.2 Z M326.4,304.8 L328.7,301.5 L330.4,305.1 Z M339.5,306 L340.5,302.1 L343.4,304.9 Z M352,308.1 L352.3,304.1 L355.6,306.3 Z M364.7,308.2 L364.3,304.2 L368,305.8 Z M375.3,309 L374.4,305.1 L378.2,306.3 Z M388.2,308 L386.8,304.2 L390.7,304.8 Z M398.7,308.8 L397,305.2 L401,305.5 Z M222,304.4 L224.4,307.6 L220.5,308.2 Z M232.6,303.7 L235.4,306.6 L231.5,307.5 Z M242.8,304.6 L245.7,307.3 L241.9,308.5 Z M253.2,304.7 L256.4,307.2 L252.7,308.7 Z M263.3,304.3 L266.7,306.5 L263.2,308.4 Z M273.7,305.8 L277.4,307.4 L274.2,309.8 Z M284.2,305.4 L288.1,306.5 L285.2,309.3 Z M294.1,307.3 L298.2,307.5 L296,310.9 Z M305,309.6 L308.9,308.7 L307.8,312.5 Z M315,311.6 L318.5,309.5 L318.6,313.5 Z M327.2,315.5 L329.9,312.4 L331.2,316.2 Z M338.1,316.6 L339.9,313 L342.1,316.3 Z M350.9,318 L351.9,314.1 L354.8,316.9 Z M363.3,318.8 L363.6,314.8 L366.9,317 Z M374.9,319.6 L374.6,315.6 L378.2,317.2 Z M386.1,320.6 L385.1,316.7 L389,317.8 Z M398.9,320.6 L397.4,316.8 L401.4,317.4 Z M410.4,319.4 L408.6,315.8 L412.6,316 Z M233.4,315.8 L236.4,318.5 L232.6,319.7 Z M243,316.4 L246.2,318.8 L242.5,320.4 Z M253,315 L256.3,317.3 L252.8,319.1 Z M262.9,315.4 L266.5,317.2 L263.1,319.4 Z M273.7,317.2 L277.5,318.4 L274.6,321.1 Z M284.1,318.1 L288.1,318.7 L285.6,321.9 Z M294.3,320.2 L298.3,320 L296.6,323.6 Z M303.8,321.4 L307.7,320.3 L306.7,324.2 Z M314.2,322.8 L317.8,320.9 L317.6,324.9 Z M326.8,324.7 L329.7,321.9 L330.7,325.8 Z M337.4,327 L339.7,323.7 L341.4,327.3 Z M349.9,327.1 L351.4,323.4 L353.9,326.5 Z M360.7,329.1 L361.6,325.2 L364.5,327.9 Z M374.6,329.7 L374.7,325.6 L378.1,327.6 Z M385.3,330.6 L384.7,326.7 L388.4,328.1 Z M397.5,330.6 L396.2,326.8 L400.1,327.6 Z M411.3,331 L409.6,327.4 L413.5,327.7 Z M243,327.2 L246.3,329.6 L242.6,331.3 Z M253,327.5 L256.5,329.4 L253,331.5 Z M263.6,326.8 L267.3,328.2 L264.2,330.7 Z M273.2,328.4 L277.1,329.4 L274.4,332.3 Z M283.6,329.1 L287.6,329.4 L285.3,332.7 Z M293.2,330.2 L297.2,329.9 L295.5,333.5 Z M305.1,333 L308.9,331.8 L308.1,335.7 Z M315.8,333.8 L319.3,331.9 L319.2,335.9 Z M326.2,334.9 L329.3,332.4 L329.9,336.4 Z M337.8,337.1 L340.4,334 L341.8,337.7 Z M349.5,338.7 L351.5,335.2 L353.5,338.7 Z M360.8,338.3 L362.1,334.5 L364.7,337.5 Z M372.3,340.9 L372.9,336.9 L376.1,339.4 Z M385.5,341.5 L385.2,337.5 L388.8,339.2 Z M398.4,342.7 L397.4,338.8 L401.2,339.8 Z M409.4,341.9 L407.8,338.1 L411.8,338.6 Z M252.7,339.4 L256.3,341.1 L253,343.4 Z M262.1,339.6 L266,340.8 L263,343.5 Z M272.4,339.9 L276.3,340.7 L273.7,343.7 Z M282.5,340.8 L286.5,341.1 L284.3,344.4 Z M293,341.4 L297,341 L295.4,344.7 Z M303.3,342.6 L307.2,341.5 L306.2,345.4 Z M315.4,344.1 L319.1,342.4 L318.8,346.4 Z M325.4,345.7 L328.8,343.4 L329,347.4 Z M336.5,346.5 L339.4,343.8 L340.3,347.7 Z M348.7,348.1 L351.2,344.9 L352.7,348.5 Z M359.3,350.2 L361.2,346.6 L363.4,350 Z M372.7,351.3 L373.6,347.3 L376.5,350.1 Z M383.9,351.3 L384,347.3 L387.4,349.4 Z M398,353.1 L397.2,349.1 L401,350.4 Z M409.3,353.5 L407.8,349.8 L411.8,350.4 Z M272,350.7 L275.9,351.3 L273.4,354.4 Z M283.3,352.4 L287.3,352.6 L285.2,356 Z M294.1,352.3 L298.1,351.8 L296.5,355.4 Z M305,353.9 L308.9,352.7 L308,356.6 Z M315.4,355.8 L319.1,354.2 L318.7,358.2 Z M326.4,356.5 L329.9,354.5 L329.9,358.5 Z M336.5,357 L339.7,354.6 L340.2,358.5 Z M347.8,357.2 L350.6,354.3 L351.7,358.2 Z M359,360.1 L361.3,356.8 L363,360.4 Z M371.8,360.8 L373.3,357 L375.8,360.1 Z M384.9,363.4 L385.3,359.4 L388.5,361.8 Z M396.7,362.8 L396.1,358.8 L399.8,360.3 Z M408.9,364.4 L407.6,360.6 L411.5,361.3 Z M326.6,365.7 L330.2,363.8 L330,367.8 Z M336.6,367.9 L340.1,365.9 L340.2,369.8 Z M347.8,367.9 L351,365.4 L351.6,369.3 Z M360.1,369.4 L362.7,366.4 L364,370.1 Z M372,370.7 L373.8,367.1 L376,370.5 Z M383.8,373.5 L384.7,369.5 L387.6,372.3 Z M397.5,374.4 L397.2,370.4 L400.8,372.1 Z M408.5,375 L407.3,371.2 L411.2,372 Z M232.6,69 L230.7,72.5 L228.6,69.1 Z M248.4,70.4 L246.4,73.9 L244.4,70.4 Z M260.9,72.7 L258.7,76.1 L256.9,72.5 Z M278.3,73 L275.9,76.2 L274.3,72.5 Z M292.4,71.7 L289.8,74.7 L288.5,71 Z M235.9,83.3 L233.9,86.8 L231.9,83.4 Z M247.9,86.5 L245.8,89.9 L243.9,86.4 Z M261.3,85.3 L259.1,88.7 L257.3,85.1 Z M278.1,85.9 L275.7,89.1 L274,85.5 Z M289.2,87.1 L286.6,90.2 L285.2,86.4 Z M234,99.9 L231.9,103.4 L230,99.8 Z M249.3,97.7 L247.2,101.1 L245.3,97.5 Z M262.2,98.7 L260,102.1 L258.2,98.5 Z M276.9,99.8 L274.5,103.1 L272.9,99.4 Z M290.5,98 L287.8,101.1 L286.5,97.3 Z M234.7,113.1 L232.6,116.5 L230.7,113 Z M249.4,113.9 L247.2,117.3 L245.4,113.7 Z M262.1,112.2 L259.8,115.5 L258.1,111.9 Z M278,112.4 L275.5,115.6 L274,111.9 Z M290.9,112.2 L288.2,115.2 L287,111.4 Z M233,126.4 L230.9,129.9 L229,126.4 Z M246.5,125.8 L244.5,129.3 L242.5,125.8 Z M264.3,125.8 L261.9,129.1 L260.3,125.4 Z M274.8,126.8 L272.2,129.9 L270.8,126.1 Z M291.9,126.1 L289.1,129.1 L287.9,125.3 Z M232.6,142.2 L230.6,145.6 L228.6,142.2 Z M246.8,141.3 L244.8,144.8 L242.8,141.3 Z M262.6,142.1 L260.2,145.3 L258.6,141.6 Z M275.8,142.8 L273,145.7 L271.8,141.9 Z M289.8,141.8 L286.8,144.4 L286,140.5 Z M-4.3,32.3 L-0.3,31.7 L-1.7,35.5 Z M30.7,29.4 L34.7,28.7 L33.3,32.5 Z M58.5,33.8 L62.4,32.9 L61.3,36.7 Z M87.9,30.1 L91.8,28.9 L90.9,32.8 Z M116.5,30.3 L120.5,29.8 L119,33.5 Z M153.6,26.2 L155.4,29.8 L151.4,29.6 Z M1.3,61.1 L5.3,60.6 L3.7,64.3 Z M27.7,58.4 L31.7,58.3 L29.9,61.8 Z M61.3,61.9 L65.3,61.3 L63.9,65 Z M87.3,60.2 L91.3,59.2 L90.1,63.1 Z M119.2,60.9 L123.2,61.4 L120.8,64.6 Z M161.5,59.6 L160.6,63.6 L157.7,60.9 Z M189.6,57.9 L187.7,61.5 L185.6,58.1 Z M31.3,93.2 L35.3,92.7 L33.7,96.4 Z M59.1,89.2 L63.1,88.7 L61.5,92.4 Z M91.2,90.5 L95.2,90.7 L93,94.1 Z M124.7,86.9 L126.4,90.6 L122.4,90.2 Z M157.1,87.1 L155.5,90.8 L153.1,87.7 Z M54,125 L56.8,122.2 L57.9,126.1 Z M103.8,125.2 L101.1,128.2 L99.8,124.4 Z M129.7,123.3 L127.4,126.7 L125.6,123 Z M159.8,123.1 L157.5,126.5 L155.7,122.9 Z M4.9,199.2 L1.7,196.8 L5.4,195.2 Z M17.3,200 L14.1,197.5 L17.9,196 Z M30.6,198.8 L27.4,196.4 L31.1,194.8 Z M44.6,198.1 L41.4,195.7 L45,194 Z M55.6,197.9 L52.2,195.7 L55.8,193.8 Z M69.6,198.6 L66.1,196.7 L69.5,194.6 Z M7.7,211.2 L4.5,208.7 L8.2,207.2 Z M17.6,212.1 L14.4,209.6 L18.1,208.1 Z M32.2,209.9 L29.1,207.4 L32.8,205.9 Z M44,209 L40.8,206.5 L44.5,205 Z M58.8,209.8 L55.5,207.5 L59.1,205.8 Z M70.2,211.3 L66.7,209.3 L70.2,207.2 Z M5.6,225 L2.3,222.6 L6,221 Z M21,224.2 L17.8,221.7 L21.5,220.2 Z M30.9,222.2 L27.7,219.7 L31.5,218.2 Z M43.9,223.1 L40.8,220.5 L44.6,219.1 Z M56.1,222.5 L52.9,220 L56.6,218.4 Z M69.9,224.8 L66.5,222.8 L69.9,220.8 Z M8.8,233.9 L5.5,231.7 L9,229.9 Z M20.4,237.3 L17,235 L20.6,233.3 Z M30.3,234.3 L27.1,231.9 L30.8,230.3 Z M42.6,236.2 L39.4,233.7 L43.1,232.2 Z M56.2,235.2 L52.9,232.9 L56.5,231.2 Z M72.1,234.1 L68.5,232.2 L71.9,230.1 Z M9.6,249.3 L6.1,247.4 L9.5,245.3 Z M18.4,247.9 L15,245.8 L18.4,243.8 Z M33.5,249.7 L30,247.6 L33.5,245.7 Z M43.9,246.6 L40.5,244.5 L44.1,242.6 Z M57.6,248.7 L54.1,246.7 L57.5,244.7 Z M70.6,248.8 L67,247.1 L70.3,244.8 Z M8.4,258.3 L4.8,256.5 L8.2,254.3 Z M21.7,260.3 L18.1,258.4 L21.5,256.2 Z M33.6,262.1 L30.1,260.2 L33.5,258.1 Z M47,261 L43.5,259.1 L46.8,257 Z M57.7,259 L54.1,257.2 L57.4,255 Z M71.9,259.6 L68.1,258 L71.3,255.6 Z M83,259.5 L79.2,258.1 L82.2,255.5 Z M9.4,271.6 L5.7,270 L8.9,267.6 Z M21.7,271.3 L18.1,269.6 L21.4,267.3 Z M32.9,273.2 L29.3,271.4 L32.6,269.2 Z M46.5,272.5 L42.9,270.7 L46.1,268.4 Z M57.5,272.6 L53.8,271 L57,268.6 Z M71.2,270.5 L67.4,269 L70.6,266.6 Z M82.2,270.4 L78.4,269.1 L81.4,266.5 Z M7.6,283.8 L3.7,282.5 L6.7,279.9 Z M21.6,284.3 L17.9,282.9 L21,280.4 Z M34.5,286.6 L30.7,285.1 L33.8,282.6 Z M44.6,284.7 L40.8,283.2 L44,280.7 Z M58.6,286.8 L54.9,285.3 L58,282.8 Z M69.2,285 L65.5,283.5 L68.6,281 Z M82.5,286.3 L78.7,285 L81.7,282.3 Z M9.5,298 L5.5,297.1 L8.2,294.2 Z M20.6,297.7 L16.7,296.8 L19.4,293.9 Z M35.1,295.5 L31.2,294.4 L34.1,291.6 Z M46.7,297.6 L42.9,296.5 L45.8,293.7 Z M60.6,298 L56.8,296.7 L59.8,294 Z M73.4,298.7 L69.6,297.4 L72.5,294.7 Z M83.4,296.2 L79.5,295 L82.4,292.3 Z M95.1,296.1 L91.2,295.2 L93.9,292.3 Z M11.9,308.6 L7.9,308.1 L10.3,304.9 Z M23.3,307.3 L19.4,306.8 L21.8,303.6 Z M33.4,310.3 L29.4,309.8 L31.8,306.6 Z M48.1,308.3 L44.1,307.4 L46.8,304.4 Z M59,310 L55.1,309.1 L57.8,306.1 Z M73.9,310.9 L70,310 L72.7,307.1 Z M83,307.5 L79,306.6 L81.8,303.7 Z M97.4,307.5 L93.5,306.6 L96.1,303.6 Z M11.1,319.1 L7,318.8 L9.3,315.5 Z M22,321.6 L17.9,321.4 L20.1,318 Z M36.5,319.8 L32.5,319.5 L34.7,316.2 Z M46.5,322.6 L42.5,322.1 L44.9,318.9 Z M59.9,320.4 L55.9,319.8 L58.4,316.7 Z M74.1,323 L70.2,322.3 L72.7,319.3 Z M83.7,320.1 L79.8,319.3 L82.4,316.3 Z M95.8,319.8 L91.9,318.9 L94.6,316 Z M11.8,333.1 L7.7,332.9 L9.9,329.6 Z M21.6,331.1 L17.5,330.9 L19.6,327.5 Z M36.6,332.7 L32.6,332.5 L34.7,329.1 Z M46.9,335 L42.9,334.8 L45.1,331.5 Z M60.5,333.2 L56.5,332.7 L58.8,329.5 Z M72.3,333.5 L68.3,333 L70.7,329.8 Z M83.9,332.7 L79.9,332.1 L82.4,329 Z M96.7,334 L92.7,333.2 L95.3,330.2 Z M10.5,344.9 L6.5,344.8 L8.5,341.4 Z M22.1,344.4 L18,344.4 L20,340.9 Z M36.3,345.3 L32.3,345.3 L34.3,341.8 Z M48.5,347.2 L44.5,347.1 L46.5,343.7 Z M58.5,345.6 L54.5,345.3 L56.7,342 Z M73.7,345.4 L69.6,345 L72,341.7 Z M86.3,345.8 L82.3,345.3 L84.7,342.1 Z M95.6,346.5 L91.6,345.9 L94,342.7 Z M108.8,345.9 L104.8,345.4 L107.2,342.2 Z M10.8,358.8 L6.8,358.9 L8.7,355.4 Z M22,356.9 L18,357.1 L19.8,353.5 Z M37.7,357.2 L33.7,357.6 L35.4,353.9 Z M49,356.8 L44.9,356.9 L46.8,353.4 Z M62.3,359.5 L58.3,359.4 L60.4,356 Z M74.6,358.3 L70.6,358 L72.8,354.6 Z M85.3,360.1 L81.3,359.8 L83.5,356.5 Z M97.8,358.8 L93.8,358.4 L96.1,355.2 Z M109.7,356.7 L105.7,356.3 L108,353 Z M9.2,368.5 L5.2,368.7 L7,365.1 Z M24.4,369.3 L20.4,369.7 L22.1,366 Z M34.6,368.6 L30.6,369 L32.2,365.4 Z M50,368.4 L46,368.6 L47.8,365.1 Z M58.9,368.7 L54.9,368.7 L56.8,365.3 Z M74.8,370.9 L70.8,370.7 L72.9,367.3 Z M85.2,369.5 L81.1,369.3 L83.3,365.9 Z M97,370.4 L93,370.2 L95.2,366.8 Z M111.3,369.7 L107.3,369.6 L109.4,366.2 Z" fill="#000"/><rect x="308.1" y="129.3" width="11.5" height="7.6" fill="#fff"/><text x="313.9" y="136.3" font-size="9" font-family="Liberation Sans" font-weight="bold" fill="#F83C3C" text-anchor="middle" textLength="10" lengthAdjust="spacingAndGlyphs" stroke="#F83C3C" stroke-width="0.25">40</text></g>
</g>
<rect x="592" y="728.4" width="420" height="373.1" fill="none" stroke="#000" stroke-width="2"/>
<line x1="588.5" y1="751.7" x2="592" y2="751.7" stroke="#000" stroke-width="1.3"/>
<text x="586.5" y="756.1" font-size="11.8" font-family="'Liberation Sans', 'DejaVu Sans', sans-serif" font-weight="bold" text-anchor="end" fill="#000" textLength="17" lengthAdjust="spacingAndGlyphs" stroke="#000" stroke-width="0.35">12S</text>
<line x1="588.5" y1="786.7" x2="592" y2="786.7" stroke="#000" stroke-width="1.3"/>
<text x="586.5" y="791.1" font-size="11.8" font-family="'Liberation Sans', 'DejaVu Sans', sans-serif" font-weight="bold" text-anchor="end" fill="#000" textLength="17" lengthAdjust="spacingAndGlyphs" stroke="#000" stroke-width="0.35">15S</text>
<line x1="588.5" y1="821.7" x2="592" y2="821.7" stroke="#000" stroke-width="1.3"/>
<text x="586.5" y="826.1" font-size="11.8" font-family="'Liberation Sans', 'DejaVu Sans', sans-serif" font-weight="bold" text-anchor="end" fill="#000" textLength="17" lengthAdjust="spacingAndGlyphs" stroke="#000" stroke-width="0.35">18S</text>
<line x1="588.5" y1="856.7" x2="592" y2="856.7" stroke="#000" stroke-width="1.3"/>
<text x="586.5" y="861.1" font-size="11.8" font-family="'Liberation Sans', 'DejaVu Sans', sans-serif" font-weight="bold" text-anchor="end" fill="#000" textLength="17" lengthAdjust="spacingAndGlyphs" stroke="#000" stroke-width="0.35">21S</text>
<line x1="588.5" y1="891.6" x2="592" y2="891.6" stroke="#000" stroke-width="1.3"/>
<text x="586.5" y="896" font-size="11.8" font-family="'Liberation Sans', 'DejaVu Sans', sans-serif" font-weight="bold" text-anchor="end" fill="#000" textLength="17" lengthAdjust="spacingAndGlyphs" stroke="#000" stroke-width="0.35">24S</text>
<line x1="588.5" y1="926.6" x2="592" y2="926.6" stroke="#000" stroke-width="1.3"/>
<text x="586.5" y="931" font-size="11.8" font-family="'Liberation Sans', 'DejaVu Sans', sans-serif" font-weight="bold" text-anchor="end" fill="#000" textLength="17" lengthAdjust="spacingAndGlyphs" stroke="#000" stroke-width="0.35">27S</text>
<line x1="588.5" y1="961.6" x2="592" y2="961.6" stroke="#000" stroke-width="1.3"/>
<text x="586.5" y="966" font-size="11.8" font-family="'Liberation Sans', 'DejaVu Sans', sans-serif" font-weight="bold" text-anchor="end" fill="#000" textLength="17" lengthAdjust="spacingAndGlyphs" stroke="#000" stroke-width="0.35">30S</text>
<line x1="588.5" y1="996.6" x2="592" y2="996.6" stroke="#000" stroke-width="1.3"/>
<text x="586.5" y="1001" font-size="11.8" font-family="'Liberation Sans', 'DejaVu Sans', sans-serif" font-weight="bold" text-anchor="end" fill="#000" textLength="17" lengthAdjust="spacingAndGlyphs" stroke="#000" stroke-width="0.35">33S</text>
<line x1="588.5" y1="1031.5" x2="592" y2="1031.5" stroke="#000" stroke-width="1.3"/>
<text x="586.5" y="1035.9" font-size="11.8" font-family="'Liberation Sans', 'DejaVu Sans', sans-serif" font-weight="bold" text-anchor="end" fill="#000" textLength="17" lengthAdjust="spacingAndGlyphs" stroke="#000" stroke-width="0.35">36S</text>
<line x1="588.5" y1="1066.5" x2="592" y2="1066.5" stroke="#000" stroke-width="1.3"/>
<text x="586.5" y="1070.9" font-size="11.8" font-family="'Liberation Sans', 'DejaVu Sans', sans-serif" font-weight="bold" text-anchor="end" fill="#000" textLength="17" lengthAdjust="spacingAndGlyphs" stroke="#000" stroke-width="0.35">39S</text>
<line x1="588.5" y1="1101.5" x2="592" y2="1101.5" stroke="#000" stroke-width="1.3"/>
<text x="586.5" y="1105.9" font-size="11.8" font-family="'Liberation Sans', 'DejaVu Sans', sans-serif" font-weight="bold" text-anchor="end" fill="#000" textLength="17" lengthAdjust="spacingAndGlyphs" stroke="#000" stroke-width="0.35">42S</text>
<line x1="592" y1="1101.5" x2="592" y2="1104.7" stroke="#000" stroke-width="1.3"/>
<text x="592" y="1114.1" font-size="11.8" font-family="'Liberation Sans', 'DejaVu Sans', sans-serif" font-weight="bold" text-anchor="middle" fill="#000" textLength="18" lengthAdjust="spacingAndGlyphs" stroke="#000" stroke-width="0.35">70W</text>
<line x1="642" y1="1101.5" x2="642" y2="1104.7" stroke="#000" stroke-width="1.3"/>
<text x="642" y="1114.1" font-size="11.8" font-family="'Liberation Sans', 'DejaVu Sans', sans-serif" font-weight="bold" text-anchor="middle" fill="#000" textLength="18" lengthAdjust="spacingAndGlyphs" stroke="#000" stroke-width="0.35">65W</text>
<line x1="692" y1="1101.5" x2="692" y2="1104.7" stroke="#000" stroke-width="1.3"/>
<text x="692" y="1114.1" font-size="11.8" font-family="'Liberation Sans', 'DejaVu Sans', sans-serif" font-weight="bold" text-anchor="middle" fill="#000" textLength="18" lengthAdjust="spacingAndGlyphs" stroke="#000" stroke-width="0.35">60W</text>
<line x1="742" y1="1101.5" x2="742" y2="1104.7" stroke="#000" stroke-width="1.3"/>
<text x="742" y="1114.1" font-size="11.8" font-family="'Liberation Sans', 'DejaVu Sans', sans-serif" font-weight="bold" text-anchor="middle" fill="#000" textLength="18" lengthAdjust="spacingAndGlyphs" stroke="#000" stroke-width="0.35">55W</text>
<line x1="792" y1="1101.5" x2="792" y2="1104.7" stroke="#000" stroke-width="1.3"/>
<text x="792" y="1114.1" font-size="11.8" font-family="'Liberation Sans', 'DejaVu Sans', sans-serif" font-weight="bold" text-anchor="middle" fill="#000" textLength="18" lengthAdjust="spacingAndGlyphs" stroke="#000" stroke-width="0.35">50W</text>
<line x1="842" y1="1101.5" x2="842" y2="1104.7" stroke="#000" stroke-width="1.3"/>
<text x="842" y="1114.1" font-size="11.8" font-family="'Liberation Sans', 'DejaVu Sans', sans-serif" font-weight="bold" text-anchor="middle" fill="#000" textLength="18" lengthAdjust="spacingAndGlyphs" stroke="#000" stroke-width="0.35">45W</text>
<line x1="892" y1="1101.5" x2="892" y2="1104.7" stroke="#000" stroke-width="1.3"/>
<text x="892" y="1114.1" font-size="11.8" font-family="'Liberation Sans', 'DejaVu Sans', sans-serif" font-weight="bold" text-anchor="middle" fill="#000" textLength="18" lengthAdjust="spacingAndGlyphs" stroke="#000" stroke-width="0.35">40W</text>
<line x1="942" y1="1101.5" x2="942" y2="1104.7" stroke="#000" stroke-width="1.3"/>
<text x="942" y="1114.1" font-size="11.8" font-family="'Liberation Sans', 'DejaVu Sans', sans-serif" font-weight="bold" text-anchor="middle" fill="#000" textLength="18" lengthAdjust="spacingAndGlyphs" stroke="#000" stroke-width="0.35">35W</text>
<line x1="992" y1="1101.5" x2="992" y2="1104.7" stroke="#000" stroke-width="1.3"/>
<text x="992" y="1114.1" font-size="11.8" font-family="'Liberation Sans', 'DejaVu Sans', sans-serif" font-weight="bold" text-anchor="middle" fill="#000" textLength="18" lengthAdjust="spacingAndGlyphs" stroke="#000" stroke-width="0.35">30W</text>
<text transform="scale(0.8,1)" x="922.3 938.3 952 971.1 987 1003.3 1019.8 1035.2 1050.5 1068.3" y="716.9" font-size="22" font-family="'DejaVu Sans', 'Liberation Sans', sans-serif" font-weight="200" stroke="#000" stroke-width="0.45">TEMPESTADE</text>
<rect x="586.1" y="1118.9" width="432.7" height="48.4" fill="none" stroke="#111" stroke-width="1.3"/>
<text x="594.5" y="1139.1" font-size="9.6" font-family="'Liberation Sans', 'DejaVu Sans', sans-serif" font-weight="bold" text-anchor="start" fill="#000" textLength="414.6" lengthAdjust="spacingAndGlyphs">[OMEGA(-0.001)+UR&gt;70(1000-500)+k&gt;35_TTS&gt;50+LIF&lt;-4](roxo)+[Vento(850)&gt;10m/s](verde)</text>
<text x="589.7" y="1152.3" font-size="9.6" font-family="'Liberation Sans', 'DejaVu Sans', sans-serif" font-weight="bold" text-anchor="start" fill="#000" textLength="424.7" lengthAdjust="spacingAndGlyphs">[CJ(250)&gt;30m/s](amarelo)+[Agua_P(40-60mm)](vermelho)+LC(850)+[Vento(850)&gt;15m/s](vetor)</text>
<g clip-path="url(#clip5)">
<g transform="translate(1086.75,728.40)"><path d="M1.6,186.6 C4,165.4 10.1,180.7 14.3,180.2 C18.6,179.7 24.4,180.2 27.1,183.4 C29.7,186.6 31.3,193.5 30.3,199.3 C29.2,205.1 23.4,209.9 20.7,218.4 C18.1,226.9 16.2,239.6 14.3,250.2 C12.5,260.8 11.2,272.5 9.6,282.1 C8,291.6 6.4,303.3 4.8,307.5 C3.2,311.8 0.6,327.7 0,307.5 C-0.5,287.4 -0.8,207.8 1.6,186.6 Z M36.6,142 C38.7,139.4 45.1,139.9 46.2,145.2 C47.2,150.5 44.6,165.9 43,173.8 C41.4,181.8 38.7,190.8 36.6,192.9 C34.5,195.1 30.8,191.9 30.3,186.6 C29.7,181.3 32.4,168.5 33.4,161.1 C34.5,153.7 34.5,144.7 36.6,142 Z M307.2,275.7 C309.8,272.5 322,272 329.4,272.5 C336.9,273 344.8,277.3 351.7,278.9 C358.6,280.5 367.1,279.4 370.8,282.1 C374.5,284.7 377.2,291.6 374,294.8 C370.8,298 358.6,300.1 351.7,301.2 C344.8,302.2 339,302.7 332.6,301.2 C326.3,299.6 317.8,295.8 313.5,291.6 C309.3,287.4 304.5,278.9 307.2,275.7 Z M351.7,202.5 C352.8,199.3 365.5,203 370.8,205.7 C376.1,208.3 380.9,213.1 383.6,218.4 C386.2,223.7 387.8,233.3 386.7,237.5 C385.7,241.7 380.9,246 377.2,243.9 C373.5,241.7 368.7,231.7 364.5,224.8 C360.2,217.9 350.7,205.7 351.7,202.5 Z M402.7,231.1 C404.2,227.4 415.6,226.9 418.6,231.1 C421.5,235.4 421.7,252.9 420.2,256.6 C418.6,260.3 411.9,257.7 409,253.4 C406.1,249.2 401.1,234.8 402.7,231.1 Z M284.9,243.9 C285.4,241.2 291.8,243.9 294.4,247 C297.1,250.2 301.3,260.3 300.8,263 C300.3,265.6 293.9,266.1 291.3,263 C288.6,259.8 284.4,246.5 284.9,243.9 Z" fill="url(#spkO)"/><path d="M307.2,148.4 C308.2,146.8 314.6,150.5 319.9,154.7 C325.2,159 333.2,168 339,173.8 C344.8,179.7 349.6,185 354.9,189.8 C360.2,194.5 366.6,198.2 370.8,202.5 C375.1,206.7 379.3,211.5 380.4,215.2 C381.4,218.9 380.4,225.3 377.2,224.8 C374,224.2 366.6,216.8 361.3,212 C356,207.3 350.7,201.4 345.4,196.1 C340.1,190.8 334.8,185.5 329.4,180.2 C324.1,174.9 317.2,169.6 313.5,164.3 C309.8,159 306.1,150 307.2,148.4 Z M370.8,243.9 C371.8,242.8 376.2,243.9 377.2,245.5 C378.1,247 377.5,252.3 376.6,253.4 C375.6,254.5 372.4,253.4 371.5,251.8 C370.5,250.2 369.9,244.9 370.8,243.9 Z" fill="url(#spkB)"/><use href="#basemap"/><path d="M23.7,374 22.3,370 20,368 19,368 17,369.6 16,369.8 14,368.6 13,369.2 10.4,374 M26.2,346 27.5,341 27,338.6 26,337.9 25,338.5 24.3,340 24,343 25,346.4 26.2,346 M5.1,360 6.4,357 6.9,353 6.2,350 5,349 3.8,350 3.1,355 4,360.3 5.1,360 M28.7,374 27,367.9 26,367.1 23,366.7 20,363.9 16,362.7 14,364 10,369.6 7,371.4 6.1,374 M206,351.4 202,352.1 198.6,355 196.8,359 193.7,362 191.9,365 191.6,367 195.2,371 195,374 M23.3,297 24.2,294 24.8,284 24,281 22,279.9 20,281.1 19.1,286 21,295 22,297.6 23,297.8 23.3,297 M13.7,313 14.1,310 11.9,299 11.1,291 7,283 5.9,284 5.1,292 7.8,306 10.2,312 12,313.5 13,313.6 13.7,313 M126.8,345 131,343.7 133,341.3 135.7,340 138,337.7 144.4,336 150.4,332 151,330 150,326 149,325.3 143.9,325 141.4,324 141.2,323 144,321.6 146,322.6 147.2,321 149,320.6 154,321.7 156,323.7 158,323.2 160.3,318 158.9,312 157,311.3 155,311.4 151,312.7 149,314.2 144,314.7 143.1,316 143.3,318 139.4,322 135.6,323 132,325.5 128.9,326 125,328.9 123.1,333 122.6,344 124,345.5 126.8,345 M42.5,374 40.6,366 34,354.9 33,354.5 32.4,355 30,358.5 27.8,356 27.6,354 30.2,343 30.5,339 29.4,335 27,331.4 20,332.4 19,334 20.6,339 23,350.1 25.2,356 25.1,358 24,359.9 23,359.9 20.4,356 19.1,355 16,353.9 15,354.1 14,355.5 11.5,364 10,365.8 9,365.6 8,362 8.8,354 8.5,349 6.9,346 3,343.4 2,343.6 1.1,346 0.5,358 -0.6,360 -2,360.4 M125,374 125.6,369 123.6,357 126.5,354 127.3,351 127,350 126,349.9 124,351.3 112,353.2 103,349.5 100,346.2 93,346.5 89,343.4 87.7,345 88,347.7 96,349.7 96.8,351 97.8,355 95.4,362 94,363.5 90,364.2 82,361.3 79,361.6 75.1,366 73.3,374 M193,374 191.9,371 189,369.4 188.5,367 187,366.9 184,368.3 179,365.6 178.3,367 178.8,369 180,369.9 182,370.1 182.9,371 182,372.2 178,372.3 177.2,374 M172.6,374 173.3,371 172.8,370 171,369.7 169,369.8 167.2,371 166.8,372 167,374 M201.1,198 204.4,196 205.3,193 204,190.5 200,188 198.1,189 197.7,191 198.4,194 201.1,198 M137.6,263 139.6,262 141.5,258 148.8,252 148,250.1 145.5,249 147,246.4 149.7,244 150.5,241 149.6,234 150.5,231 150.8,226 149.6,222 149,215.9 147,215 144,215.4 141,213.4 140,213.4 138,215.4 136.2,221 134,223.7 132,224.2 127,220 120.7,213 118.1,203 115,200.5 111,199.5 105,196.8 100,199.5 93,198.8 87,199.2 82,201.3 79.7,204 79.1,206 80.2,208 82.1,216 84.1,220 86,221.7 92,224.2 97,230.7 99,230.9 102.4,234 105.8,236 108.1,240 108.5,243 105.9,247 105.5,249 108.2,255 110,255.9 114,255.9 121,260.9 125,262.8 128,262.8 132,263.9 136,263.9 137.6,263 M206,278.2 202,279.8 199.8,283 199.5,285 200.2,287 200.1,292 201,297 200.6,302 200,303.1 198,304.2 193,303.3 190.9,302 188.9,297 189.6,292 189.2,291 185,289.2 181,285.9 175,284.4 169.7,287 166,293.2 161,296.7 155,298.9 147,299.4 143.6,297 140,296 137,293.9 135,293.5 132,294.7 123,296.7 117.8,303 114,302.6 112,304.8 111,305 107,303.8 101,307.8 100,307.8 95,302.4 93,301.7 91,299.5 89.1,305 87,306.8 83,308.2 79,307.3 71,311.6 68,312.1 66.7,313 65,319 65.6,330 63.7,335 60,340 55,340.8 51,338.6 48,338.5 45,339.3 42,339.2 39.2,342 38,342.4 37.5,341 38,336.6 39,335.8 41,338 41.8,337 41.8,336 40,335.2 39.4,334 38.4,324 37,322.1 35,321.6 33,327.3 32,328.8 31,328.8 29.7,326 28,316.1 23,325.5 19,325.4 17,326.1 14,333.9 13,334.7 10,333.3 9,333.8 10,341 9,342.9 7,342.1 4.5,340 1,330.7 0,329.8 -2,329.7 M11.3,255 11.1,252 10,250.1 9.1,252 9.3,254 10,255.7 11,256 11.3,255 M-2,273.7 -0.1,272 0.7,270 1.8,263 0.6,257 0,256 -1,255.7 -2,256.4 M29.1,315 31.5,309 31.7,306 30.7,302 29,301.5 27,302.2 26.2,301 27.8,277 24.5,272 20,257 19,255.2 18,255.1 14.6,261 12.3,271 12.2,276 13.2,278 16,279.6 16.4,281 19.9,298 19.4,309 20,309.8 25,306.2 26.3,308 28,314.8 29.1,315 M15.3,320 17.6,313 17.6,311 16,308.6 13.8,302 12.1,287 9.8,281 8,272.2 7,270.9 6,271.5 5,273.7 3.8,280 3.5,296 8.3,313 14,320.4 15.3,320 M31.4,-2 32,2.5 34,6.5 35,6.5 35.5,5 36,-2 M23.7,68 26,67 28,68 29,66 28.8,63 28,61.5 23.6,58 19,49.1 17,47.6 16,48.5 15.6,50 16,54.2 20.3,62 22,67.9 23,68.5 23.7,68 M421,174.8 416,174.8 413.8,173 414.2,169 412.2,165 413.1,162 412.5,157 411.5,155 408,151.8 402,150.5 398.5,152 394.7,158 394,158.4 389,158 386,161 382,163.6 381,163.2 380.3,162 378,155 376,152.8 374,152.1 372.4,153 369,157 367.7,163 365.1,166 357,168.4 349,171.8 346,171.5 343.2,170 342.4,166 345,161.3 349,158.3 352,158.4 354,157.8 355.6,156 356,153 357,151.1 359,149.2 361,148.4 364,144.4 368,143 371,144.4 373,144.4 375,143.4 377,140.9 380,140.5 382,143 383,143.3 388,142.2 389.8,140 390,139 384,137.8 382.1,135 380,134 378,131.5 376,131.4 372,133.1 369,132.5 363,133.6 361.7,133 360,128 358,125.9 357,125.8 354,127.5 349,127.4 347,126.4 345.8,125 345.9,124 347,121 348.7,119 348.8,116 350.1,114 351.1,110 350,108.9 345,108.2 340,108.9 338,111 337,113 336.5,121 334.9,123 330,124.7 326,124.3 320,117.8 316,114.5 314,113.7 310,114 302,116 298,118 295,121.2 292,123.1 290.9,126 291,129 289,132.6 283,132.5 279,131.2 273,130.6 269,133.3 264.5,135 261,139.6 259,140.7 258,142.9 254,142.8 252.2,144 254,145.5 258,145.4 261,143.4 264,145.4 265,145.5 270,143.9 273,141.5 275,141.8 277.4,145 277,147.7 276,148.6 272.4,149 271.4,150 271.4,151 273,152.8 275,151.5 275.7,152 276.3,154 280.4,159 282.3,167 282,171 282.8,175 M222.3,175 222.2,171 219,167.2 217,168.9 214,169.4 212.6,173 211,174.4 203,173 196,172.8 190,171.6 184,173.2 182,173.1 177,172 175.4,171 175,170 176,167 175.4,163 176.3,158 172.2,154 169,149 165.8,147 166.6,142 165.9,137 165,135.1 162,132.9 158.9,128 155,124.4 153,124.3 151,125.1 150,124.5 148.7,122 149,120.4 152.3,119 155.6,115 156.4,106 152.8,101 151,95.8 148,94.8 146,93 143.6,92 140.6,87 139,86.3 138,86.5 132.6,89 129,96 132.4,105 132.5,108 130.5,112 130.5,115 133,119 138,122.9 139,122.7 140,121.1 141,120.8 143,121.7 144.4,126 148,129.5 155,131.7 158.3,132 158.5,139 159.9,142 159.2,145 160.4,149 159.7,151 159.9,154 157.7,157 157.9,161 155.4,163 156.3,167 153,177.4 149.4,181 144,182.2 139,186.7 135,186.9 134.7,186 135,180 137.5,173 138.7,166 135,161.8 133,161.7 128.8,163 126,165.8 124.3,171 116,174.6 112,174.3 108,172.7 103.3,168 102.2,164 99.7,160 96,157.7 94,155.5 91,154.1 82,153.2 79,152.1 76,151.8 73.4,153 70.5,156 69,156.7 65,155.3 61,155.3 58,153.5 54,153.3 51,154.5 48,160.3 46,160.8 43.8,159 43.3,157 45,151.4 47,150.8 49,152.3 49.9,152 47.9,145 47,144.1 44,144.3 42,141.1 40,141 39,140.4 36,137 35,138 34.1,146 37.2,152 38.2,160 40,165.3 47,178 48,184 46.8,187 44,190.1 39.9,193 39.1,195 39.1,197 40.8,200 43.5,203 45.9,208 47.8,215 54,219.1 58,218.6 65,221.5 69.8,222 71.6,227 76.7,232 81.1,235 89,246 91,250 91.5,253 91,255.2 79.2,268 77.4,272 75.2,275 73.8,281 72,282.2 65,280 63,280.8 62,280.6 60,278.5 54.7,277 53.8,273 50.3,269 49.4,262 44,255.3 42,255.3 39.2,258 37.2,267 36,269.5 35,270.1 33,267.5 31,262.1 30,261.4 27,265.8 26,265.8 25,264.6 23,258.6 22.4,252 21,250.2 18,248.9 17,249.2 15,251.7 14,251.1 12.4,245 8.2,239 9.2,236 10.3,235 13,234.2 14,232 13.3,227 10.8,218 9.3,198 9,196.7 8,195.7 7,196.6 4.2,202 6.5,209 6.3,219 1.3,228 -0.5,234 -2,234.9 M421,88.5 416.2,88 415.2,90 416.1,96 419,97.7 421,97.9 M233.2,109 237.4,103 238,96 237.1,92 236,90.4 231,88.5 226,88.3 222.5,94 222.1,100 220.6,102 220.1,104 220.6,105 223,106.3 227,106.8 231,109.9 233.2,109 M17,99 16,94 15,92.3 14.5,94 15,96.9 16,98.8 17,99 M421,115.2 419,115.5 413,121.1 408.3,128 407.3,132 411,134 417,140.5 419,141 421,140.5 M401.1,136 402,133.9 398,132.6 396.7,134 397.3,135 400,136.5 401.1,136 M211.7,151 215,148.8 217,150.2 218,150 223.1,147 223.8,146 223.4,143 224,142.5 228,143 231.6,141 232.2,139 227,136.1 224,138.1 222.8,138 220,136 219,135.9 216,138 215,137.9 213,135.9 207.7,137 203,144 202.8,146 203.9,149 205,150.2 207,150.9 211.7,151 M248.7,153 251,150 251.4,148 250,144.8 249,144.2 246,144.4 244.8,145 244.4,146 244,152 246,153.8 248.7,153 M31.2,153 32.1,151 32,148.5 30,147.5 28,147.8 27.6,150 28,152.7 29,153.9 31.2,153 M305.2,175 309,173.3 315,167.5 316.2,168 317.1,172 321.1,175 M387,173.2 385.8,172 385.9,170 384.4,169 385,167.5 386.4,168 386,170 387.5,172 387.5,173 387,173.2 M32.3,191 33.4,187 33.1,185 32,183.8 30.5,185 29.9,188 31,191.9 32.3,191 M-2,216.3 1,212.6 3.5,203 1,199.5 -2,198.9 M198,258.4 196,258.8 193,258.2 190,258.7 183.2,255 179.8,246 178.7,240 175.9,236 171.1,231 170.9,230 174,224.8 176,224.5 179,222.3 181,221.6 183,221.7 187,223.3 188.6,223 191,221 192.5,223 195,224.8 206,226.3 M206,247.3 203,253 199.5,255 198.6,258 198,258.4 M15.1,244 16,243 16.4,238 16,236.3 15,235.4 13.9,236 13.7,241 14,243 15.1,244 M29.8,256 31.2,249 30,243.3 27.1,248 26.5,251 28,255.4 29,256.5 29.8,256 M6,262.2 5,261.5 4.5,259 4.2,255 5,253.3 6,254.1 7.2,258 7,260.9 6,262.2 M60,300.2 59,300.3 56,298.4 51,298.5 43,295 41,291 41.3,289 42,288.4 43,288.6 47,290.8 53,286.9 57,288.3 59,288.3 60.7,284 62.4,284 63.3,285 64.8,291 63.4,298 60,300.2 M17,304.3 16,303.8 15,301.8 14,297.3 14,290.6 15,287.5 16,288.5 17,291.2 18.5,297 18.2,302 17,304.3 M-2,312.6 1,306.7 3,304.7 5,308.4 7,319.6 9,319 10,319.5 11,321.4 11.4,324 11,326.2 10,326.6 8.6,325 7,320.3 4,326 -2,324.8 M5.8,-2 7,5 8,6.2 9,6.4 11,5.4 12.8,3 14.3,-2 M30.4,-2 31,3.3 33,10.2 36,16 38,18.3 39.2,18 39.7,16 38,9 37.5,-2 M167.6,-2 167.7,0 169.3,1 174,1.8 183,5.5 186,5.3 189,6.1 191,5.6 194,2.7 197.2,2 196.7,0 192.5,-2 M410.1,-2 413.2,5 414,5.7 417,5.9 421,9.3 M421,12.2 412.3,15 412.4,18 409.7,25 408,32.2 405,35.5 401,36.6 397,39.3 395.3,42 393.6,47 393.4,54 392.3,61 391,66 386.6,70 387.5,73 387,75 387.4,76 389,76.7 397,76.7 399,76.1 399.6,77 396.3,83 393.5,90 394.2,93 398.4,100 398.2,102 397.6,103 392.1,106 390,105.4 386.6,103 384.3,100 374.7,96 374.5,91 371.9,87 370.9,83 369,80.7 362,76.3 357,74.6 351,73.4 344,75.7 342.3,79 342,86 338.6,90 329,91.2 323.9,89 323.1,87 322,86.7 318.4,89 315,89.8 312,92.2 307,90.9 302.9,94 302.3,95 302,99 297.7,101 294,105.9 286,111.8 277.9,116 269,118.3 265,116.6 257,115.2 252,112.5 250.1,106 251.2,96 253.9,87 255.4,84 251.5,76 252.9,69 254,67 253.5,64 254.6,60 254.8,55 253.3,50 251.2,47 246,46.4 239.3,49 227,58 226.3,61 223.9,66 229.6,67 225,69.4 221,69.7 216.1,76 211,79.5 204,80.5 198.5,84 195,87.2 190.8,89 188.8,92 190,93.5 192,93.2 192.9,94 192.2,98 192.7,102 192,104.9 190.3,108 190,110.4 189,111.4 188,111.4 186.9,111 185,108.1 182.6,102 183.6,97 183,92.4 182,91.8 177.2,92 175.7,91 174.5,87 175.9,83 175.4,79 172,74.6 168,64.2 164.5,62 159,61.3 156,60 150,55.4 147,52.1 142.9,54 142,56 142.2,59 140.3,61 138,61.5 135,59.6 133,59.5 124.7,64 124.2,65 124.9,68 124,69.6 120,71.4 116,74.1 115,74.3 112,72.9 109,73.7 108.1,76 108.8,78 109.9,79 112,78.5 114,76.5 115,76.6 115.7,79 110,83.4 109,83.6 106,82.2 105,82.7 103.8,85 103.7,87 98.5,90 97.8,91 98,92.6 99.3,94 99,95 97,96.6 94,96.6 91.3,99 91.1,100 92.9,102 92,102.7 83.6,105 75.4,112 73.8,115 67,116.5 61,116.3 58,118.5 55,118.3 50,124.1 42,126.3 35,129.3 30,139.3 27,139 25,140.4 21.6,148 22.8,154 22,162 25,165.8 30.8,170 31.9,173 31.5,176 27,183.8 26,184.1 24,182.9 21,183.4 19,174.8 18,173.1 17,173.5 15.9,177 16.5,187 14,195.7 13,197.3 9,189.7 8,188.9 7,189.5 4,194.4 3,194.6 2,193.8 0.2,189 -1,177.9 -2,175.3 M4.1,41 5.4,39 6.2,34 5,30 4.6,21 4,18.5 3,17.2 2,17.3 0.4,20 -0.4,27 0.9,30 2.7,32 3,40.5 4.1,41 M92.9,61 95,55.7 96,55.5 97.6,57 97.9,58 97,60.2 102,59.7 104.9,57 107,56 108,55.9 112,57.5 113.2,57 113.9,52 117.6,44 116.3,37 116.5,32 113,24 110,23.3 103,24.2 99,22.4 95,22.9 93,21.3 88,24.7 87.8,27 88.6,30 87.1,32 86.9,34 88.5,38 89.1,43 83,52.1 82.4,54 83,55.4 87,57.6 91,61.4 92.9,61 M280.9,66 282.5,65 282.9,64 280.6,58 282,56.4 285,55.6 286.4,53 289,51.4 291,51.7 294,54.1 308,57.1 317,61.6 320,61.9 321,61.2 321.3,60 319.4,55 314.9,53 313.8,49 307.9,43 307,38.5 303,36.7 298,38 295,37 292,38.2 290,38 285,39.3 282,40.8 276,40.4 274.4,42 273,45 268,50 266.7,53 267.1,54 270,56 272,59.6 271.6,64 273,65 278,66.3 280.9,66 M-2,99.4 -0.4,96 -1,93 -0.3,88 4.3,78 4.9,73 2.2,58 2.6,45 2,43.6 -2,43.8 M29.1,86 29.3,77 31.7,66 31.5,51 31,50 30,50.7 28,54.6 26,55.3 24,53.9 19,46.3 17,44.5 16,44.5 14.3,48 14.1,53 15.3,58 19,67.6 21,76.8 22,79.5 24,80.6 28,86.4 29,86.5 29.1,86 M413,69.5 412,68.6 411.5,67 412.7,65 417,65.3 418.2,66 417,67.6 413,69.5 M20.9,111 21.6,110 21.7,108 18,91.2 16.2,87 14,85.3 12.7,86 11.8,89 12.7,99 17,110.5 19,111.9 20.9,111 M6,129 7.9,123 11,119.9 11.9,118 11.3,109 10,106 9,105.2 7.4,106 6.4,108 5.1,118 3.7,123 4.3,128 5,129.7 6,129 M7.7,148 9.7,145 10.3,141 9,137 7,135.2 4.8,139 4.6,142 5.5,148 6,148.8 7.7,148 M24,245.4 21,244.9 19.6,243 19,228.3 18,226.6 16,226.1 15,224.6 13.5,221 12.6,216 12.3,208 13.6,200 14,199.2 19,198.3 20.9,200 23,204.3 24,205.2 26,205 27,205.5 31.7,213 28.9,220 28.5,233 27.5,240 26,243.7 24,245.4 M54,242.2 52,240.9 50.7,239 50.9,238 52,237.1 55,237.4 56.7,239 56.3,241 54,242.2 M64,249 61,248.2 60.7,247 65,245.6 66.8,246 67.5,247 67.4,248 64,249 M2,318.6 1,318.7 0.7,317 2,312 3,313 2,318.6 M29.5,-2 31.3,10 35,21.7 37.6,26 42.5,29 45.3,36 45.4,39 42,48.4 40,50.8 35.4,48 32,44.4 30,45.3 27,50.9 26,51.5 25,51.3 17,41.5 16,41 14.6,42 12.8,47 12.7,52 15.1,68 18,72.5 18.8,76 18.9,81 18,83.1 15,80.6 12,76.3 9,75.5 8.2,74 4.4,54 5.2,49 7.9,42 9,37 10,27 9,18 10,13.1 17,2.1 18,1.2 20,0.9 20.9,-2 M45,-2 43,7.4 41,6.5 40,4.7 39.2,-2 M287.3,-2 285.9,5 285.1,6 281,8.4 276,8 271,6.8 269,7.5 259,14.6 256.5,19 251.5,22 247,27 243,29.7 237,35.3 235,36.1 228,36.4 224.5,39 222,42.1 220,42.6 216,42.5 214,44.5 211,44.8 209.9,49 209,50.1 207,49.6 198,61.9 193,63 185,60.9 183,59.8 178.2,53 176,47.3 173.6,45 174.1,43 176,39.8 182,36.7 186.3,37 188,34.8 191,35.2 193,32.9 196,32.5 199,30.1 201,29.6 208,30 212,26.9 214.4,26 216.3,24 217,23 216.3,21 216.5,20 218.3,18 224,16 227,16 231.9,13 233.2,9 231.7,5 232,2 231.5,1 227.4,-2 M397.4,-2 393,4.6 387,8.8 384,10 382.5,12 380,12 379,10.6 378,10.4 377.3,11 377.1,12 378.5,14 377.6,16 378,17.9 381.6,19 382.7,21 381.4,25 378,29.1 374.8,30 374,28.9 370,27.7 368.2,26 366.5,21 361,19.1 357,21.8 354,26.6 343,30.1 339,30.7 338,30.6 336,28.7 334,28.3 332,25 331.9,23 330.2,19 331,17.7 333.4,17 334.4,14 333,9.4 330,5 329,4.3 326,4.3 320,7.5 316,6.8 313,4 310.9,3 309.6,-2 M25.8,35 26.9,31 26,25 24.4,20 22,18.1 20.8,19 20.4,22 22.8,33 24,35.6 25,35.7 25.8,35 M66,44.1 60,44.4 56.5,42 55.8,40 56.2,38 54,34.8 53.2,32 53.3,30 55,26.5 59,25.9 61,26.5 62.9,29 65,33.6 70.5,37 71.3,40 71,41.4 66,44.1 M362,52.1 356.4,49 357,47 361,43.5 362.2,44 362.2,46 363.5,49 363.2,51 362,52.1 M35,92.4 34,92.3 32.7,90 31.4,78 33,71.2 34,69.7 35,69.4 38.5,74 40.3,80 37.9,88 35,92.4 M69,94 66,94.6 63,92 60.6,91 58.2,88 57.3,84 59,82.3 63,81 66,78.9 67.3,77 69,76.4 76.4,80 77.7,82 78,84 77.4,87 75,91 72,93.3 69,94 M268,97 266.7,94 266.9,92 270,90.7 272,88.3 275,87.6 276,83.9 280,82.8 283.3,86 283.7,87 283,89 278.9,93 277,93.6 274,93.5 268,97 M30,131 28,131.9 25,131.1 22.9,126 19.4,120 20,117.3 23,115.8 24.7,114 26.4,109 26.1,106 23,104.2 22,102.9 20.8,98 20.6,90 21,88.7 23,87.5 26,88.8 27.7,92 27.8,105 29.8,107 33.3,109 34.6,111 33.1,124 30,131 M-2,161.6 0,161.4 8,163.9 8.1,153 11.3,146 12.2,142 10.4,131 11,128.2 15,130.1 19,134.2 22,136 22.1,137 21,140 18,142 17.2,144 17.6,158 16.7,167 13.2,175 14.8,185 14.3,188 13.3,190 12,190 9,182.5 8,181.7 7,182.4 4,188.8 2.9,189 2,187.4 1.3,184 0.6,173 -2,167.7 M10.6,172 10.6,168 9,165.4 8,166.8 8,169.5 9,171.9 10,172.8 10.6,172 M24,240.2 22.3,239 21.6,237 21.7,226 21,221.9 20,220.2 16,220.8 15,219.5 14.2,216 13.9,212 14.7,208 16,205 18,203 19,202.9 19.9,204 22,211.5 24.4,213 25.3,215 25.8,235 25.1,239 24,240.2 M28.6,-2 29.8,11 32.1,20 32.2,25 31,27.6 30,27.5 29,26.5 25.5,17 19.8,13 18.9,11 19.4,8 22.2,3 23,-2 M22,42.1 21,42.2 19,40.8 16.8,36 17.3,30 18,27.9 19,27 20.2,29 22.4,39 22.6,41 22,42.1 M26,46.6 24.9,46 24,43 25.7,41 28,39.7 28,43 26,46.6 M10,60.7 8,59.3 6.5,55 7,50.6 9,48.1 10.2,49 11.3,54 11.2,58 10,60.7 M24,101.2 22.8,100 22.1,96 22.6,93 24,91.5 25,91.7 25.9,93 26.3,96 25.6,100 24,101.2 M28,126.4 26,125 24.9,121 27,115.8 28,114.6 29,114.6 30,118 30.2,122 29.5,125 28,126.4 M12,158.3 10.6,157 10.3,154 12,149.9 13,148.4 14,148 15,151 15,155.1 14,157.2 12,158.3 M27.4,-2 27.9,9 27,11.6 25,12.4 23,11.1 22.5,9 24.5,-2" fill="none" stroke="#00DC00" stroke-width="1.8" stroke-linejoin="round" stroke-linecap="round"/><path d="M206,275 201.2,281 200,284 199.8,295 201.9,303 201,306.4 199,308.7 197,308.8 189,305.6 182,299.6 180.6,300 178.6,303 176,304.6 165,303.4 140,308.8 130,308.2 121,312.4 114,312.8 105,310 97,311.5 96,311 95,304.3 93.4,303 92,303.1 89.9,306 87.4,313 78.5,320 77.3,328 76.3,330 68,335.2 56.5,350 53,351.2 50,350.5 47.8,349 46.9,346 48.1,342 44,340.3 42,338.6 37,327.2 35,326.1 27,324.8 25.3,323 23.6,318 17.3,313 14,312.6 12.2,315 12.6,317 16,320 16.8,322 15,322.2 10,320.4 3,322.6 -0.3,322 -0.8,321 1.8,315 1.5,310 4,308.6 11,307.6 14.5,304 15.6,301 13.1,294 12.8,282 11.2,279 7.6,275 7.5,268 5,266 -2,265.4 M133.5,254 134.8,253 135.1,251 133.1,246 131.3,244 125,242.9 120.7,245 120.1,247 120.6,249 124,252.8 128,253.8 133.5,254 M197,325 192,323.8 188.6,322 187.7,319 189,316.3 196,314.5 198,315.2 199.3,319 199.4,323 199,324.3 197,325 M204,332.1 200.9,332 200.7,328 203,326.6 206,327.1 M156,355.3 154.3,354 153.5,352 154,350.8 156,350 158,352 157.6,354 156,355.3 M138,374 138.1,370 141,362.9 152,363.4 156,359.1 157,358.9 159,360.8 159.4,363 156.2,374 M224.3,175 221,173.3 217,172.6 210,174.7 206,174.4 191,168.4 183,166.8 176,162.9 169,162.2 163,159.9 156,159 149,156.9 140,159.9 129,160.4 112,158.9 103,159.8 88,154.4 71,155.2 63,152.4 51,149.7 38,149.7 36.9,150 36.4,151 34.2,159 32.5,162 22,169.8 16,177 12,179 -2,182.9 M421,149.3 405,148.6 382,150.2 374,149.1 351.8,140 343,135.4 331,131.2 323,130.5 316,127.3 308,125.5 294,123.7 285,125.4 277,124.4 268,125.8 261,125.4 256,126.1 247,121.9 221,120.2 216,122.4 210,128.2 206,128.9 194,125.6 182,125.5 168,120.1 162,118.9 158,116.5 152,110 148,108 133,110.8 125,114.1 111,115.2 103,118.5 86,116 71,118.3 46,114.4 39,111.6 28,109 20,104.9 10,102.4 5,100.4 -2,100.5 M421,105 413,100.2 411,100.1 404,107.4 402,108.3 399,108.3 392,106.8 383,101.9 369,103.8 363,99.3 355,95 348,95 337,93.1 330,93.3 323,91.8 315,91.9 309.9,91 306,89.5 301.4,85 298,83.6 294,83.8 287,86.6 284,86.5 281,84.8 276,79.3 267.1,76 260,69.8 248,66.1 240,67 231,65.5 221,67.3 216,70 201,82 195,85.3 191,86 178,83.1 173.1,79 164,68.9 150,61.9 147,62.1 140,64.7 132,64.2 125,69.1 118.1,71 105,71.1 95,73.8 88,73.3 82,76.2 69,78.3 56,76.9 49,71 25,62.8 18,61.6 8,61.2 -2,58.2 M421,15.5 413,15.4 405,17.5 393,16.9 390,18 384,22.2 372,25.8 362,25.2 355,29.1 343,29.1 339,28 333,25.1 315.2,7 306,1.8 295,0.6 293,1 290.6,3 287.4,9 284,10.4 272,9.5 265,12 257,13.6 249,11.9 243,13.4 229,8.7 222,2.3 213.6,-2" fill="none" stroke="#000" stroke-width="1.3" stroke-linejoin="round" stroke-linecap="round"/><path d="M252.8,171.6 C252.2,172.5 251.1,175 249.4,176.7 C247.7,178.4 244.5,179.3 242.5,181.8 C240.5,184.4 239.4,188.7 237.4,192.1 C235.4,195.5 232.6,198.6 230.6,202.3 C228.6,206 225.7,211.2 225.5,214.3 C225.2,217.4 226.6,220.3 228.9,221.1 C231.1,222 236.8,218.6 239.1,219.4 C241.4,220.3 240.3,224 242.5,226.3 C244.8,228.5 249.9,230.2 252.8,233.1 C255.6,235.9 256.5,239.6 259.6,243.3 C262.7,247 267.9,252.4 271.6,255.3 C275.3,258.1 278.4,258.4 281.8,260.4 C285.2,262.4 289.2,265 292.1,267.3 C294.9,269.5 296.1,272.4 298.9,274.1 C301.7,275.8 305.2,277.2 309.2,277.5 C313.1,277.8 318.8,276.6 322.8,275.8 C326.8,274.9 329.6,273.8 333.1,272.4 C336.5,271 339.9,269.2 343.3,267.3 C346.7,265.3 350.7,262.7 353.6,260.4 C356.4,258.1 359.8,256.4 360.4,253.6 C361,250.7 358.7,246.2 357,243.3 C355.3,240.5 352.4,239.1 350.1,236.5 C347.9,233.9 345.3,230.5 343.3,228 C341.3,225.4 340.5,224 338.2,221.1 C335.9,218.3 332.2,214.3 329.6,210.9 C327.1,207.5 325.4,204.1 322.8,200.6 C320.3,197.2 317.1,193.5 314.3,190.4 C311.4,187.3 308.3,184.4 305.7,181.8 C303.2,179.3 300.6,176.7 298.9,175 C297.2,173.3 296.1,172.2 295.5,171.6 M203.2,260.4 C205,259.9 209.5,257.6 213.5,257 C217.5,256.4 223.2,256.1 227.2,257 C231.1,257.9 232.9,259.6 237.4,262.1 C242,264.7 248.8,269.2 254.5,272.4 C260.2,275.5 266.4,277.8 271.6,280.9 C276.7,284 281.3,287.7 285.2,291.2 C289.2,294.6 291.5,298.6 295.5,301.4 C299.5,304.3 304,306.3 309.2,308.2 C314.3,310.2 319.7,312.2 326.2,313.4 C332.8,314.5 340.5,315.1 348.4,315.1 C356.4,315.1 366.9,314.2 374.1,313.4 C381.2,312.5 385.4,310.8 391.1,310 C396.8,309.1 403,308.5 408.2,308.2 C413.5,308 420.3,308.2 422.7,308.2 M254.5,304.8 C256.2,305.7 260.8,307.7 264.7,310 C268.7,312.2 273.9,315.9 278.4,318.5 C283,321.1 287.5,323.6 292.1,325.3 C296.6,327 300.6,328.7 305.7,328.7 C310.9,328.7 317.1,325.3 322.8,325.3 C328.5,325.3 334.2,327.3 339.9,328.7 C345.6,330.2 351.3,332.7 357,333.9 C362.7,335 368.4,335 374.1,335.6 C379.8,336.1 385.4,337 391.1,337.3 C396.8,337.6 403,337.6 408.2,337.3 C413.5,337 420.3,335.9 422.7,335.6 M203.2,308.2 C206.1,308 214.6,306.5 220.3,306.5 C226,306.5 231.7,308.5 237.4,308.2 C243.1,308 251.6,305.4 254.5,304.8 M203.2,342.4 C205,340.4 210.7,333.3 213.5,330.5 C216.3,327.6 218.6,323.3 220.3,325.3 C222,327.3 222.3,336.7 223.7,342.4 C225.2,348.1 227.2,354.5 228.9,359.5 C230.6,364.5 233.1,370.2 234,372.3 M292.1,342.4 C294.3,341 301.2,334.4 305.7,333.9 C310.3,333.3 316,336.1 319.4,339 C322.8,341.8 325.7,345.4 326.2,350.9 C326.8,356.5 323.4,368.7 322.8,372.3 M382.6,257 C384,255.6 388.3,250.2 391.1,248.5 C394,246.8 396.8,246.8 399.7,246.8 C402.5,246.8 405.4,248.5 408.2,248.5 C411.1,248.5 414.3,247.3 416.8,246.8 C419.2,246.2 421.7,245.3 422.7,245 M357,274.1 C358.4,274.7 362.7,277.8 365.5,277.5 C368.4,277.2 371.2,275.2 374.1,272.4 C376.9,269.5 381.2,262.4 382.6,260.4 M360.4,171.6 C361.2,173.3 361.8,179 365.5,181.8 C369.2,184.7 378.3,185.3 382.6,188.7 C386.9,192.1 388.3,198.9 391.1,202.3 C394,205.8 396.8,209.2 399.7,209.2 C402.5,209.2 405.4,205.8 408.2,202.3 C411.1,198.9 415.3,191 416.8,188.7 M288.7,226.3 C290.4,226.5 296.1,226.3 298.9,228 C301.7,229.7 305.2,237.4 305.7,236.5 C306.3,235.7 302.3,228 302.3,222.8 C302.3,217.7 306.3,209.5 305.7,205.8 C305.2,202.1 300,201.5 298.9,200.6 M203.2,214.3 C204.1,215.7 207.8,218.6 208.4,222.8 C208.9,227.1 207.5,235.7 206.7,239.9 C205.8,244.2 203.8,247 203.2,248.5 M203.2,359.5 C205.5,358.1 213.5,348.8 216.9,350.9 C220.3,353.1 222.6,368.7 223.7,372.3" fill="none" stroke="#00DC00" stroke-width="1.8" stroke-linejoin="round" stroke-linecap="round"/><path d="M268.2,193.8 C270.1,194.4 275.3,195.8 280.1,197.2 C285,198.6 291.5,200.9 297.2,202.3 C302.9,203.8 308.6,203.8 314.3,205.8 C320,207.8 326.5,210.9 331.4,214.3 C336.2,217.7 339.6,222 343.3,226.3 C347,230.5 351,235.4 353.6,239.9 C356.1,244.5 357.5,249.3 358.7,253.6 C359.8,257.9 360.7,261.6 360.4,265.5 C360.1,269.5 359,274.7 357,277.5 C355,280.3 351.3,281.5 348.4,282.6 C345.6,283.8 341.3,284 339.9,284.3 M203.2,274.1 C206.1,274.4 216.1,275.2 220.3,275.8 C224.6,276.4 224.9,274.9 228.9,277.5 C232.9,280.1 241.7,288.9 244.2,291.2 M288.7,287.7 C290.4,288.9 295.5,291.7 298.9,294.6 C302.3,297.4 305.2,302.6 309.2,304.8 C313.1,307.1 318.3,307.4 322.8,308.2 C327.4,309.1 331.1,309.1 336.5,310 C341.9,310.8 352.1,312.8 355.3,313.4 M297.2,316.8 C299.8,318.2 306.6,323.6 312.6,325.3 C318.5,327 325.7,326.2 333.1,327 C340.5,327.9 348.7,329.6 357,330.5 C365.2,331.3 371.6,331.9 382.6,332.2 C393.6,332.4 416,332.2 422.7,332.2 M305.7,275.8 C308.6,276.1 318.3,275.5 322.8,277.5 C327.4,279.5 331.9,284.9 333.1,287.7 C334.2,290.6 328.5,294 329.6,294.6 C330.8,295.2 335.9,293.2 339.9,291.2 C343.9,289.2 350.1,282.6 353.6,282.6 C357,282.6 360.4,289.2 360.4,291.2 C360.4,293.2 354.7,294 353.6,294.6 M220.3,171.6 C220.9,174.4 223.7,181.6 223.7,188.7 C223.7,195.8 220.6,205.8 220.3,214.3 C220,222.8 220.3,232.8 222,239.9 C223.7,247 226.9,248.5 230.6,257 C234.3,265.5 242,285.5 244.2,291.2 M374.1,233.1 C375.5,234.8 379.8,238.8 382.6,243.3 C385.4,247.9 387.4,255.3 391.1,260.4 C394.8,265.5 402,269 404.8,274.1 C407.6,279.2 405.2,287.7 408.2,291.2 C411.2,294.6 420.3,294 422.7,294.6" fill="none" stroke="#000" stroke-width="1.3" stroke-linejoin="round" stroke-linecap="round"/><rect x="53.2" y="22" width="11.5" height="7.6" fill="#fff"/><text x="58.9" y="29.1" font-size="9" font-family="Liberation Sans" font-weight="bold" fill="#00DC00" text-anchor="middle" textLength="10" lengthAdjust="spacingAndGlyphs" stroke="#00DC00" stroke-width="0.25">15</text><rect x="105.7" y="64.3" width="11.5" height="7.6" fill="#fff"/><text x="111.4" y="71.4" font-size="9" font-family="Liberation Sans" font-weight="bold" fill="#00DC00" text-anchor="middle" textLength="10" lengthAdjust="spacingAndGlyphs" stroke="#00DC00" stroke-width="0.25">12</text><rect x="150.2" y="62.4" width="11.5" height="7.6" fill="#fff"/><text x="156" y="69.5" font-size="9" font-family="Liberation Sans" font-weight="bold" fill="#00DC00" text-anchor="middle" textLength="10" lengthAdjust="spacingAndGlyphs" stroke="#00DC00" stroke-width="0.25">15</text><rect x="205.9" y="65" width="11.5" height="7.6" fill="#fff"/><text x="211.7" y="72" font-size="9" font-family="Liberation Sans" font-weight="bold" fill="#00DC00" text-anchor="middle" textLength="10" lengthAdjust="spacingAndGlyphs" stroke="#00DC00" stroke-width="0.25">18</text><rect x="126.4" y="85.7" width="11.5" height="7.6" fill="#fff"/><text x="132.1" y="92.7" font-size="9" font-family="Liberation Sans" font-weight="bold" fill="#00DC00" text-anchor="middle" textLength="10" lengthAdjust="spacingAndGlyphs" stroke="#00DC00" stroke-width="0.25">12</text><rect x="266.4" y="90.4" width="11.5" height="7.6" fill="#fff"/><text x="272.2" y="97.5" font-size="9" font-family="Liberation Sans" font-weight="bold" fill="#00DC00" text-anchor="middle" textLength="10" lengthAdjust="spacingAndGlyphs" stroke="#00DC00" stroke-width="0.25">21</text><rect x="355.5" y="15.6" width="11.5" height="7.6" fill="#fff"/><text x="361.3" y="22.7" font-size="9" font-family="Liberation Sans" font-weight="bold" fill="#00DC00" text-anchor="middle" textLength="10" lengthAdjust="spacingAndGlyphs" stroke="#00DC00" stroke-width="0.25">15</text><rect x="334.8" y="65" width="11.5" height="7.6" fill="#fff"/><text x="340.6" y="72" font-size="9" font-family="Liberation Sans" font-weight="bold" fill="#00DC00" text-anchor="middle" textLength="10" lengthAdjust="spacingAndGlyphs" stroke="#00DC00" stroke-width="0.25">15</text><rect x="315.7" y="123.9" width="11.5" height="7.6" fill="#fff"/><text x="321.5" y="130.9" font-size="9" font-family="Liberation Sans" font-weight="bold" fill="#00DC00" text-anchor="middle" textLength="10" lengthAdjust="spacingAndGlyphs" stroke="#00DC00" stroke-width="0.25">15</text><rect x="239.4" y="131.8" width="11.5" height="7.6" fill="#fff"/><text x="245.1" y="138.9" font-size="9" font-family="Liberation Sans" font-weight="bold" fill="#00DC00" text-anchor="middle" textLength="10" lengthAdjust="spacingAndGlyphs" stroke="#00DC00" stroke-width="0.25">12</text><rect x="279.1" y="117.5" width="11.5" height="7.6" fill="#fff"/><text x="284.9" y="124.6" font-size="9" font-family="Liberation Sans" font-weight="bold" fill="#00DC00" text-anchor="middle" textLength="10" lengthAdjust="spacingAndGlyphs" stroke="#00DC00" stroke-width="0.25">15</text><rect x="322.1" y="160.5" width="11.5" height="7.6" fill="#fff"/><text x="327.9" y="167.5" font-size="9" font-family="Liberation Sans" font-weight="bold" fill="#00DC00" text-anchor="middle" textLength="10" lengthAdjust="spacingAndGlyphs" stroke="#00DC00" stroke-width="0.25">12</text><rect x="392.1" y="176.4" width="11.5" height="7.6" fill="#fff"/><text x="397.9" y="183.4" font-size="9" font-family="Liberation Sans" font-weight="bold" fill="#00DC00" text-anchor="middle" textLength="10" lengthAdjust="spacingAndGlyphs" stroke="#00DC00" stroke-width="0.25">12</text><rect x="35.7" y="87.3" width="11.5" height="7.6" fill="#fff"/><text x="41.4" y="94.3" font-size="9" font-family="Liberation Sans" font-weight="bold" fill="#00DC00" text-anchor="middle" textLength="10" lengthAdjust="spacingAndGlyphs" stroke="#00DC00" stroke-width="0.25">15</text><rect x="34.1" y="72.9" width="11.5" height="7.6" fill="#fff"/><text x="39.8" y="80" font-size="9" font-family="Liberation Sans" font-weight="bold" fill="#00DC00" text-anchor="middle" textLength="10" lengthAdjust="spacingAndGlyphs" stroke="#00DC00" stroke-width="0.25">12</text><rect x="37.2" y="103.2" width="11.5" height="7.6" fill="#fff"/><text x="43" y="110.2" font-size="9" font-family="Liberation Sans" font-weight="bold" fill="#00DC00" text-anchor="middle" textLength="10" lengthAdjust="spacingAndGlyphs" stroke="#00DC00" stroke-width="0.25">18</text><rect x="10.2" y="160.5" width="11.5" height="7.6" fill="#fff"/><text x="15.9" y="167.5" font-size="9" font-family="Liberation Sans" font-weight="bold" fill="#00DC00" text-anchor="middle" textLength="10" lengthAdjust="spacingAndGlyphs" stroke="#00DC00" stroke-width="0.25">15</text><rect x="34.1" y="220.9" width="11.5" height="7.6" fill="#fff"/><text x="39.8" y="228" font-size="9" font-family="Liberation Sans" font-weight="bold" fill="#00DC00" text-anchor="middle" textLength="10" lengthAdjust="spacingAndGlyphs" stroke="#00DC00" stroke-width="0.25">12</text><rect x="229.8" y="71.3" width="11.5" height="7.6" fill="#fff"/><text x="235.6" y="78.4" font-size="9" font-family="Liberation Sans" font-weight="bold" fill="#000" text-anchor="middle" textLength="10" lengthAdjust="spacingAndGlyphs" stroke="#000" stroke-width="0.25">−6</text><rect x="331.7" y="100" width="11.5" height="7.6" fill="#fff"/><text x="337.4" y="107.1" font-size="9" font-family="Liberation Sans" font-weight="bold" fill="#000" text-anchor="middle" textLength="10" lengthAdjust="spacingAndGlyphs" stroke="#000" stroke-width="0.25">−6</text><rect x="326.9" y="127" width="11.5" height="7.6" fill="#fff"/><text x="332.6" y="134.1" font-size="9" font-family="Liberation Sans" font-weight="bold" fill="#000" text-anchor="middle" textLength="10" lengthAdjust="spacingAndGlyphs" stroke="#000" stroke-width="0.25">−9</text><rect x="135" y="166.2" width="16.5" height="7.6" fill="#fff"/><text x="143.3" y="173.3" font-size="9" font-family="Liberation Sans" font-weight="bold" fill="#000" text-anchor="middle" textLength="15" lengthAdjust="spacingAndGlyphs" stroke="#000" stroke-width="0.25">−12</text><rect x="276.6" y="158.9" width="16.5" height="7.6" fill="#fff"/><text x="284.9" y="165.9" font-size="9" font-family="Liberation Sans" font-weight="bold" fill="#000" text-anchor="middle" textLength="15" lengthAdjust="spacingAndGlyphs" stroke="#000" stroke-width="0.25">−15</text><rect x="278.2" y="193.2" width="16.5" height="7.6" fill="#fff"/><text x="286.5" y="200.3" font-size="9" font-family="Liberation Sans" font-weight="bold" fill="#000" text-anchor="middle" textLength="15" lengthAdjust="spacingAndGlyphs" stroke="#000" stroke-width="0.25">−18</text><rect x="213" y="270.9" width="16.5" height="7.6" fill="#fff"/><text x="221.2" y="278" font-size="9" font-family="Liberation Sans" font-weight="bold" fill="#000" text-anchor="middle" textLength="15" lengthAdjust="spacingAndGlyphs" stroke="#000" stroke-width="0.25">−18</text><rect x="44.3" y="262.3" width="16.5" height="7.6" fill="#fff"/><text x="52.5" y="269.4" font-size="9" font-family="Liberation Sans" font-weight="bold" fill="#000" text-anchor="middle" textLength="15" lengthAdjust="spacingAndGlyphs" stroke="#000" stroke-width="0.25">−15</text><rect x="82.5" y="314.8" width="16.5" height="7.6" fill="#fff"/><text x="90.7" y="321.9" font-size="9" font-family="Liberation Sans" font-weight="bold" fill="#000" text-anchor="middle" textLength="15" lengthAdjust="spacingAndGlyphs" stroke="#000" stroke-width="0.25">−15</text><rect x="295.7" y="316.4" width="16.5" height="7.6" fill="#fff"/><text x="304" y="323.5" font-size="9" font-family="Liberation Sans" font-weight="bold" fill="#000" text-anchor="middle" textLength="15" lengthAdjust="spacingAndGlyphs" stroke="#000" stroke-width="0.25">−18</text><rect x="372.1" y="238.4" width="16.5" height="7.6" fill="#fff"/><text x="380.4" y="245.5" font-size="9" font-family="Liberation Sans" font-weight="bold" fill="#000" text-anchor="middle" textLength="15" lengthAdjust="spacingAndGlyphs" stroke="#000" stroke-width="0.25">−15</text><rect x="324.4" y="287.8" width="16.5" height="7.6" fill="#fff"/><text x="332.6" y="294.8" font-size="9" font-family="Liberation Sans" font-weight="bold" fill="#000" text-anchor="middle" textLength="15" lengthAdjust="spacingAndGlyphs" stroke="#000" stroke-width="0.25">−18</text></g>
</g>
<rect x="1086.8" y="728.4" width="420" height="373.1" fill="none" stroke="#000" stroke-width="2"/>
<line x1="1083.2" y1="751.7" x2="1086.8" y2="751.7" stroke="#000" stroke-width="1.3"/>
<text x="1081.2" y="756.1" font-size="11.8" font-family="'Liberation Sans', 'DejaVu Sans', sans-serif" font-weight="bold" text-anchor="end" fill="#000" textLength="17" lengthAdjust="spacingAndGlyphs" stroke="#000" stroke-width="0.35">12S</text>
<line x1="1083.2" y1="786.7" x2="1086.8" y2="786.7" stroke="#000" stroke-width="1.3"/>
<text x="1081.2" y="791.1" font-size="11.8" font-family="'Liberation Sans', 'DejaVu Sans', sans-serif" font-weight="bold" text-anchor="end" fill="#000" textLength="17" lengthAdjust="spacingAndGlyphs" stroke="#000" stroke-width="0.35">15S</text>
<line x1="1083.2" y1="821.7" x2="1086.8" y2="821.7" stroke="#000" stroke-width="1.3"/>
<text x="1081.2" y="826.1" font-size="11.8" font-family="'Liberation Sans', 'DejaVu Sans', sans-serif" font-weight="bold" text-anchor="end" fill="#000" textLength="17" lengthAdjust="spacingAndGlyphs" stroke="#000" stroke-width="0.35">18S</text>
<line x1="1083.2" y1="856.7" x2="1086.8" y2="856.7" stroke="#000" stroke-width="1.3"/>
<text x="1081.2" y="861.1" font-size="11.8" font-family="'Liberation Sans', 'DejaVu Sans', sans-serif" font-weight="bold" text-anchor="end" fill="#000" textLength="17" lengthAdjust="spacingAndGlyphs" stroke="#000" stroke-width="0.35">21S</text>
<line x1="1083.2" y1="891.6" x2="1086.8" y2="891.6" stroke="#000" stroke-width="1.3"/>
<text x="1081.2" y="896" font-size="11.8" font-family="'Liberation Sans', 'DejaVu Sans', sans-serif" font-weight="bold" text-anchor="end" fill="#000" textLength="17" lengthAdjust="spacingAndGlyphs" stroke="#000" stroke-width="0.35">24S</text>
<line x1="1083.2" y1="926.6" x2="1086.8" y2="926.6" stroke="#000" stroke-width="1.3"/>
<text x="1081.2" y="931" font-size="11.8" font-family="'Liberation Sans', 'DejaVu Sans', sans-serif" font-weight="bold" text-anchor="end" fill="#000" textLength="17" lengthAdjust="spacingAndGlyphs" stroke="#000" stroke-width="0.35">27S</text>
<line x1="1083.2" y1="961.6" x2="1086.8" y2="961.6" stroke="#000" stroke-width="1.3"/>
<text x="1081.2" y="966" font-size="11.8" font-family="'Liberation Sans', 'DejaVu Sans', sans-serif" font-weight="bold" text-anchor="end" fill="#000" textLength="17" lengthAdjust="spacingAndGlyphs" stroke="#000" stroke-width="0.35">30S</text>
<line x1="1083.2" y1="996.6" x2="1086.8" y2="996.6" stroke="#000" stroke-width="1.3"/>
<text x="1081.2" y="1001" font-size="11.8" font-family="'Liberation Sans', 'DejaVu Sans', sans-serif" font-weight="bold" text-anchor="end" fill="#000" textLength="17" lengthAdjust="spacingAndGlyphs" stroke="#000" stroke-width="0.35">33S</text>
<line x1="1083.2" y1="1031.5" x2="1086.8" y2="1031.5" stroke="#000" stroke-width="1.3"/>
<text x="1081.2" y="1035.9" font-size="11.8" font-family="'Liberation Sans', 'DejaVu Sans', sans-serif" font-weight="bold" text-anchor="end" fill="#000" textLength="17" lengthAdjust="spacingAndGlyphs" stroke="#000" stroke-width="0.35">36S</text>
<line x1="1083.2" y1="1066.5" x2="1086.8" y2="1066.5" stroke="#000" stroke-width="1.3"/>
<text x="1081.2" y="1070.9" font-size="11.8" font-family="'Liberation Sans', 'DejaVu Sans', sans-serif" font-weight="bold" text-anchor="end" fill="#000" textLength="17" lengthAdjust="spacingAndGlyphs" stroke="#000" stroke-width="0.35">39S</text>
<line x1="1083.2" y1="1101.5" x2="1086.8" y2="1101.5" stroke="#000" stroke-width="1.3"/>
<text x="1081.2" y="1105.9" font-size="11.8" font-family="'Liberation Sans', 'DejaVu Sans', sans-serif" font-weight="bold" text-anchor="end" fill="#000" textLength="17" lengthAdjust="spacingAndGlyphs" stroke="#000" stroke-width="0.35">42S</text>
<line x1="1086.8" y1="1101.5" x2="1086.8" y2="1104.7" stroke="#000" stroke-width="1.3"/>
<text x="1086.8" y="1114.1" font-size="11.8" font-family="'Liberation Sans', 'DejaVu Sans', sans-serif" font-weight="bold" text-anchor="middle" fill="#000" textLength="18" lengthAdjust="spacingAndGlyphs" stroke="#000" stroke-width="0.35">70W</text>
<line x1="1136.8" y1="1101.5" x2="1136.8" y2="1104.7" stroke="#000" stroke-width="1.3"/>
<text x="1136.8" y="1114.1" font-size="11.8" font-family="'Liberation Sans', 'DejaVu Sans', sans-serif" font-weight="bold" text-anchor="middle" fill="#000" textLength="18" lengthAdjust="spacingAndGlyphs" stroke="#000" stroke-width="0.35">65W</text>
<line x1="1186.8" y1="1101.5" x2="1186.8" y2="1104.7" stroke="#000" stroke-width="1.3"/>
<text x="1186.8" y="1114.1" font-size="11.8" font-family="'Liberation Sans', 'DejaVu Sans', sans-serif" font-weight="bold" text-anchor="middle" fill="#000" textLength="18" lengthAdjust="spacingAndGlyphs" stroke="#000" stroke-width="0.35">60W</text>
<line x1="1236.8" y1="1101.5" x2="1236.8" y2="1104.7" stroke="#000" stroke-width="1.3"/>
<text x="1236.8" y="1114.1" font-size="11.8" font-family="'Liberation Sans', 'DejaVu Sans', sans-serif" font-weight="bold" text-anchor="middle" fill="#000" textLength="18" lengthAdjust="spacingAndGlyphs" stroke="#000" stroke-width="0.35">55W</text>
<line x1="1286.8" y1="1101.5" x2="1286.8" y2="1104.7" stroke="#000" stroke-width="1.3"/>
<text x="1286.8" y="1114.1" font-size="11.8" font-family="'Liberation Sans', 'DejaVu Sans', sans-serif" font-weight="bold" text-anchor="middle" fill="#000" textLength="18" lengthAdjust="spacingAndGlyphs" stroke="#000" stroke-width="0.35">50W</text>
<line x1="1336.8" y1="1101.5" x2="1336.8" y2="1104.7" stroke="#000" stroke-width="1.3"/>
<text x="1336.8" y="1114.1" font-size="11.8" font-family="'Liberation Sans', 'DejaVu Sans', sans-serif" font-weight="bold" text-anchor="middle" fill="#000" textLength="18" lengthAdjust="spacingAndGlyphs" stroke="#000" stroke-width="0.35">45W</text>
<line x1="1386.8" y1="1101.5" x2="1386.8" y2="1104.7" stroke="#000" stroke-width="1.3"/>
<text x="1386.8" y="1114.1" font-size="11.8" font-family="'Liberation Sans', 'DejaVu Sans', sans-serif" font-weight="bold" text-anchor="middle" fill="#000" textLength="18" lengthAdjust="spacingAndGlyphs" stroke="#000" stroke-width="0.35">40W</text>
<line x1="1436.8" y1="1101.5" x2="1436.8" y2="1104.7" stroke="#000" stroke-width="1.3"/>
<text x="1436.8" y="1114.1" font-size="11.8" font-family="'Liberation Sans', 'DejaVu Sans', sans-serif" font-weight="bold" text-anchor="middle" fill="#000" textLength="18" lengthAdjust="spacingAndGlyphs" stroke="#000" stroke-width="0.35">35W</text>
<line x1="1486.8" y1="1101.5" x2="1486.8" y2="1104.7" stroke="#000" stroke-width="1.3"/>
<text x="1486.8" y="1114.1" font-size="11.8" font-family="'Liberation Sans', 'DejaVu Sans', sans-serif" font-weight="bold" text-anchor="middle" fill="#000" textLength="18" lengthAdjust="spacingAndGlyphs" stroke="#000" stroke-width="0.35">30W</text>
<text transform="scale(0.8,1)" x="1563.4 1580.5 1596.9 1612.4 1633.6 1645.6 1660.7" y="716.9" font-size="22" font-family="'DejaVu Sans', 'Liberation Sans', sans-serif" font-weight="200" stroke="#000" stroke-width="0.45">GRANIZO</text>
<rect x="1086.9" y="1118.9" width="416.6" height="48.4" fill="none" stroke="#111" stroke-width="1.3"/>
<text x="1107.5" y="1139.1" font-size="9.6" font-family="'Liberation Sans', 'DejaVu Sans', sans-serif" font-weight="bold" text-anchor="start" fill="#000" textLength="377.3" lengthAdjust="spacingAndGlyphs">[OMEGA(-0.001)+UR&gt;70(1000-500)+k&lt;60+TTS&gt;52+VT&gt;25+SWEAT&gt;220+LIF&lt;-2](azul)</text>
<text x="1140.5" y="1152.3" font-size="9.6" font-family="'Liberation Sans', 'DejaVu Sans', sans-serif" font-weight="bold" text-anchor="start" fill="#000" textLength="311.3" lengthAdjust="spacingAndGlyphs">[Temp(500)](preto)  +  [Temp(850)](verde)  +  [OMEGA(500)&lt;-2](laranja)</text>
</svg>
</body></html>
